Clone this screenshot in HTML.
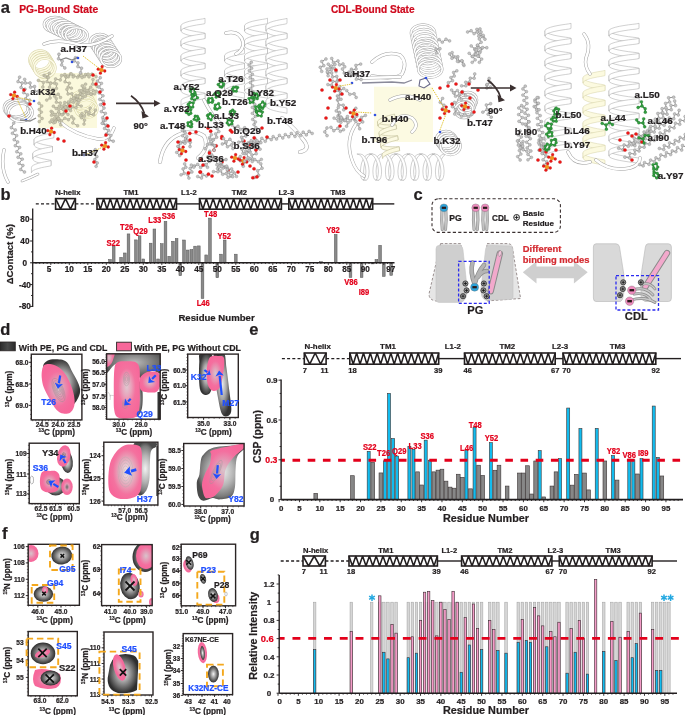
<!DOCTYPE html>
<html><head><meta charset="utf-8"><title>Figure</title>
<style>
html,body{margin:0;padding:0;background:#fff;width:685px;height:715px;overflow:hidden;}
svg{display:block;font-family:"Liberation Sans",sans-serif;will-change:transform;}

</style></head><body>
<svg width="685" height="715" viewBox="0 0 685 715">
<rect width="685" height="715" fill="#fff"/>
<defs>
<radialGradient id="gk" cx="50%" cy="50%" r="50%"><stop offset="0" stop-color="#f4f4f4"/><stop offset="0.3" stop-color="#b8b8b8"/><stop offset="0.7" stop-color="#6a6a6a"/><stop offset="1" stop-color="#2e2e2e"/></radialGradient>
<radialGradient id="gk2" cx="50%" cy="50%" r="60%"><stop offset="0" stop-color="#bcbcbc"/><stop offset="0.6" stop-color="#6a6a6a"/><stop offset="1" stop-color="#2a2a2a"/></radialGradient>
<radialGradient id="gp" cx="50%" cy="50%" r="50%"><stop offset="0" stop-color="#d9c3cb"/><stop offset="0.35" stop-color="#e49ab5"/><stop offset="0.7" stop-color="#f46f9f"/><stop offset="1" stop-color="#f7679a"/></radialGradient>
<radialGradient id="gp2" cx="50%" cy="45%" r="55%"><stop offset="0" stop-color="#e0c8d0"/><stop offset="0.3" stop-color="#e8a4bc"/><stop offset="0.6" stop-color="#f4729f"/><stop offset="1" stop-color="#f7679a"/></radialGradient>
<radialGradient id="gp3" cx="55%" cy="50%" r="55%"><stop offset="0" stop-color="#f0e8ea"/><stop offset="0.4" stop-color="#e4b0c0"/><stop offset="0.75" stop-color="#f4729f"/><stop offset="1" stop-color="#f7679a"/></radialGradient>
<radialGradient id="gk3" cx="50%" cy="50%" r="50%"><stop offset="0" stop-color="#e8e8e8"/><stop offset="0.45" stop-color="#a8a8a8"/><stop offset="0.8" stop-color="#5a5a5a"/><stop offset="1" stop-color="#333"/></radialGradient>
<radialGradient id="gk4" cx="50%" cy="50%" r="50%"><stop offset="0" stop-color="#f2f2f2"/><stop offset="0.5" stop-color="#b4b4b4"/><stop offset="0.85" stop-color="#7a7a7a"/><stop offset="1" stop-color="#4a4a4a"/></radialGradient>
<linearGradient id="gsw" x1="0" y1="0" x2="1" y2="0"><stop offset="0" stop-color="#2a2a2a"/><stop offset="0.5" stop-color="#4a4a4a"/><stop offset="1" stop-color="#2a2a2a"/></linearGradient>
</defs>
<text x="0.8" y="12.6" font-size="16.5" fill="#231f20" stroke="#231f20" stroke-width="0.22" text-anchor="start" font-weight="bold" >a</text>
<text x="19.2" y="13.2" font-size="10.6" fill="#cf0a1e" stroke="#cf0a1e" stroke-width="0.22" text-anchor="start" font-weight="bold" textLength="79" lengthAdjust="spacingAndGlyphs">PG-Bound State</text>
<text x="331" y="13.2" font-size="10.6" fill="#cf0a1e" stroke="#cf0a1e" stroke-width="0.22" text-anchor="start" font-weight="bold" textLength="83.6" lengthAdjust="spacingAndGlyphs">CDL-Bound State</text>
<ellipse cx="55.0" cy="24.5" rx="11" ry="7.5" fill="none" stroke="#a3a3a3" stroke-width="2.6"/>
<ellipse cx="55.0" cy="24.5" rx="11" ry="7.5" fill="none" stroke="#fff" stroke-width="1.6"/>
<ellipse cx="58.6" cy="26.3" rx="11" ry="7.5" fill="none" stroke="#a3a3a3" stroke-width="2.6"/>
<ellipse cx="58.6" cy="26.3" rx="11" ry="7.5" fill="none" stroke="#fff" stroke-width="1.6"/>
<ellipse cx="62.2" cy="28.1" rx="11" ry="7.5" fill="none" stroke="#a3a3a3" stroke-width="2.6"/>
<ellipse cx="62.2" cy="28.1" rx="11" ry="7.5" fill="none" stroke="#fff" stroke-width="1.6"/>
<ellipse cx="65.8" cy="29.9" rx="11" ry="7.5" fill="none" stroke="#a3a3a3" stroke-width="2.6"/>
<ellipse cx="65.8" cy="29.9" rx="11" ry="7.5" fill="none" stroke="#fff" stroke-width="1.6"/>
<ellipse cx="69.4" cy="31.7" rx="11" ry="7.5" fill="none" stroke="#a3a3a3" stroke-width="2.6"/>
<ellipse cx="69.4" cy="31.7" rx="11" ry="7.5" fill="none" stroke="#fff" stroke-width="1.6"/>
<ellipse cx="73.0" cy="33.5" rx="11" ry="7.5" fill="none" stroke="#a3a3a3" stroke-width="2.6"/>
<ellipse cx="73.0" cy="33.5" rx="11" ry="7.5" fill="none" stroke="#fff" stroke-width="1.6"/>
<ellipse cx="76.6" cy="35.3" rx="11" ry="7.5" fill="none" stroke="#a3a3a3" stroke-width="2.6"/>
<ellipse cx="76.6" cy="35.3" rx="11" ry="7.5" fill="none" stroke="#fff" stroke-width="1.6"/>
<ellipse cx="100.0" cy="42.0" rx="10" ry="8" fill="none" stroke="#a3a3a3" stroke-width="2.6"/>
<ellipse cx="100.0" cy="42.0" rx="10" ry="8" fill="none" stroke="#fff" stroke-width="1.6"/>
<ellipse cx="101.8" cy="44.8" rx="10" ry="8" fill="none" stroke="#a3a3a3" stroke-width="2.6"/>
<ellipse cx="101.8" cy="44.8" rx="10" ry="8" fill="none" stroke="#fff" stroke-width="1.6"/>
<ellipse cx="103.6" cy="47.6" rx="10" ry="8" fill="none" stroke="#a3a3a3" stroke-width="2.6"/>
<ellipse cx="103.6" cy="47.6" rx="10" ry="8" fill="none" stroke="#fff" stroke-width="1.6"/>
<ellipse cx="105.4" cy="50.4" rx="10" ry="8" fill="none" stroke="#a3a3a3" stroke-width="2.6"/>
<ellipse cx="105.4" cy="50.4" rx="10" ry="8" fill="none" stroke="#fff" stroke-width="1.6"/>
<ellipse cx="107.2" cy="53.2" rx="10" ry="8" fill="none" stroke="#a3a3a3" stroke-width="2.6"/>
<ellipse cx="107.2" cy="53.2" rx="10" ry="8" fill="none" stroke="#fff" stroke-width="1.6"/>
<ellipse cx="109.0" cy="56.0" rx="10" ry="8" fill="none" stroke="#a3a3a3" stroke-width="2.6"/>
<ellipse cx="109.0" cy="56.0" rx="10" ry="8" fill="none" stroke="#fff" stroke-width="1.6"/>
<ellipse cx="110.8" cy="58.8" rx="10" ry="8" fill="none" stroke="#a3a3a3" stroke-width="2.6"/>
<ellipse cx="110.8" cy="58.8" rx="10" ry="8" fill="none" stroke="#fff" stroke-width="1.6"/>
<path d="M44,44 Q58,38 80,45 Q95,47 112,36" fill="none" stroke="#a3a3a3" stroke-width="3.4" stroke-linecap="round" stroke-linejoin="round"/>
<path d="M44,44 Q58,38 80,45 Q95,47 112,36" fill="none" stroke="#fff" stroke-width="2.4" stroke-linecap="round" stroke-linejoin="round"/>
<rect x="38.5" y="73" width="58.5" height="55" fill="#fbf9dd" stroke="none" stroke-width="1" />
<ellipse cx="40.0" cy="60.0" rx="10.5" ry="9.5" fill="none" stroke="#d8d4a8" stroke-width="2.6"/>
<ellipse cx="40.0" cy="60.0" rx="10.5" ry="9.5" fill="none" stroke="#fdfbe6" stroke-width="1.6"/>
<ellipse cx="41.2" cy="62.0" rx="10.5" ry="9.5" fill="none" stroke="#d8d4a8" stroke-width="2.6"/>
<ellipse cx="41.2" cy="62.0" rx="10.5" ry="9.5" fill="none" stroke="#fdfbe6" stroke-width="1.6"/>
<ellipse cx="42.4" cy="64.0" rx="10.5" ry="9.5" fill="none" stroke="#d8d4a8" stroke-width="2.6"/>
<ellipse cx="42.4" cy="64.0" rx="10.5" ry="9.5" fill="none" stroke="#fdfbe6" stroke-width="1.6"/>
<ellipse cx="43.6" cy="66.0" rx="10.5" ry="9.5" fill="none" stroke="#d8d4a8" stroke-width="2.6"/>
<ellipse cx="43.6" cy="66.0" rx="10.5" ry="9.5" fill="none" stroke="#fdfbe6" stroke-width="1.6"/>
<ellipse cx="44.8" cy="68.0" rx="10.5" ry="9.5" fill="none" stroke="#d8d4a8" stroke-width="2.6"/>
<ellipse cx="44.8" cy="68.0" rx="10.5" ry="9.5" fill="none" stroke="#fdfbe6" stroke-width="1.6"/>
<ellipse cx="16.0" cy="108.0" rx="12" ry="9" fill="none" stroke="#a3a3a3" stroke-width="2.6"/>
<ellipse cx="16.0" cy="108.0" rx="12" ry="9" fill="none" stroke="#fff" stroke-width="1.6"/>
<ellipse cx="17.5" cy="109.5" rx="12" ry="9" fill="none" stroke="#a3a3a3" stroke-width="2.6"/>
<ellipse cx="17.5" cy="109.5" rx="12" ry="9" fill="none" stroke="#fff" stroke-width="1.6"/>
<ellipse cx="19.0" cy="111.0" rx="12" ry="9" fill="none" stroke="#a3a3a3" stroke-width="2.6"/>
<ellipse cx="19.0" cy="111.0" rx="12" ry="9" fill="none" stroke="#fff" stroke-width="1.6"/>
<ellipse cx="20.5" cy="112.5" rx="12" ry="9" fill="none" stroke="#a3a3a3" stroke-width="2.6"/>
<ellipse cx="20.5" cy="112.5" rx="12" ry="9" fill="none" stroke="#fff" stroke-width="1.6"/>
<ellipse cx="82.0" cy="100.0" rx="11" ry="9" fill="none" stroke="#dedaa8" stroke-width="2.2"/>
<ellipse cx="82.0" cy="100.0" rx="11" ry="9" fill="none" stroke="#fdfbe6" stroke-width="1.2"/>
<ellipse cx="83.5" cy="103.0" rx="11" ry="9" fill="none" stroke="#dedaa8" stroke-width="2.2"/>
<ellipse cx="83.5" cy="103.0" rx="11" ry="9" fill="none" stroke="#fdfbe6" stroke-width="1.2"/>
<ellipse cx="85.0" cy="106.0" rx="11" ry="9" fill="none" stroke="#dedaa8" stroke-width="2.2"/>
<ellipse cx="85.0" cy="106.0" rx="11" ry="9" fill="none" stroke="#fdfbe6" stroke-width="1.2"/>
<ellipse cx="86.5" cy="109.0" rx="11" ry="9" fill="none" stroke="#dedaa8" stroke-width="2.2"/>
<ellipse cx="86.5" cy="109.0" rx="11" ry="9" fill="none" stroke="#fdfbe6" stroke-width="1.2"/>
<path d="M60,122 Q75,135 98,139 Q110,140 114,128" fill="none" stroke="#a3a3a3" stroke-width="3.4" stroke-linecap="round" stroke-linejoin="round"/>
<path d="M60,122 Q75,135 98,139 Q110,140 114,128" fill="none" stroke="#fff" stroke-width="2.4" stroke-linecap="round" stroke-linejoin="round"/>
<path d="M34.1,139.5 L34.5,140.7 L35.7,141.8 L37.7,142.8 L40.3,143.7 L43.1,144.5 L46.0,145.1 L48.6,145.6 L50.7,146.0 L52.0,146.3 L52.5,146.5 L52.5,151.7 L52.0,151.5 L50.7,151.2 L48.6,150.8 L46.0,150.3 L43.1,149.7 L40.3,148.9 L37.7,148.0 L35.7,147.0 L34.5,145.9 L34.1,144.7Z" fill="#fff" stroke="#a3a3a3" stroke-width="0.5"/>
<path d="M32.8,153.5 L33.1,154.7 L34.3,155.8 L36.3,156.8 L38.9,157.7 L41.8,158.5 L44.6,159.1 L47.2,159.6 L49.3,160.0 L50.6,160.3 L51.0,160.5 L51.0,165.7 L50.6,165.5 L49.3,165.2 L47.2,164.8 L44.6,164.3 L41.8,163.7 L38.9,162.9 L36.3,162.0 L34.3,161.0 L33.1,159.9 L32.8,158.7Z" fill="#fff" stroke="#a3a3a3" stroke-width="0.5"/>
<path d="M53.9,132.5 L53.4,132.7 L52.0,133.0 L49.8,133.4 L47.1,133.9 L44.1,134.5 L41.1,135.3 L38.4,136.2 L36.2,137.2 L34.7,138.3 L34.1,139.5 L34.1,144.7 L34.7,143.5 L36.2,142.4 L38.4,141.4 L41.1,140.5 L44.1,139.7 L47.1,139.1 L49.8,138.6 L52.0,138.2 L53.4,137.9 L53.9,137.7Z" fill="#fff" stroke="#a3a3a3" stroke-width="0.5"/>
<path d="M52.5,146.5 L52.0,146.7 L50.6,147.0 L48.4,147.4 L45.7,147.9 L42.8,148.5 L39.7,149.3 L37.0,150.2 L34.8,151.2 L33.3,152.3 L32.8,153.5 L32.8,158.7 L33.3,157.5 L34.8,156.4 L37.0,155.4 L39.7,154.5 L42.8,153.7 L45.7,153.1 L48.4,152.6 L50.6,152.2 L52.0,151.9 L52.5,151.7Z" fill="#fff" stroke="#a3a3a3" stroke-width="0.5"/>
<path d="M51.0,160.5 L50.6,160.7 L49.2,161.0 L47.0,161.4 L44.3,161.9 L41.4,162.5 L38.3,163.3 L35.6,164.2 L33.4,165.2 L31.9,166.3 L31.4,167.5 L31.4,172.7 L31.9,171.5 L33.4,170.4 L35.6,169.4 L38.3,168.5 L41.4,167.7 L44.3,167.1 L47.0,166.6 L49.2,166.2 L50.6,165.9 L51.0,165.7Z" fill="#fff" stroke="#a3a3a3" stroke-width="0.5"/>
<path d="M22,181 Q30,178 38,174" fill="none" stroke="#a3a3a3" stroke-width="2.6" stroke-linecap="round" stroke-linejoin="round"/>
<path d="M22,181 Q30,178 38,174" fill="none" stroke="#fff" stroke-width="1.6" stroke-linecap="round" stroke-linejoin="round"/>
<path d="M4,150 Q0,168 8,182" fill="none" stroke="#a3a3a3" stroke-width="3.4" stroke-linecap="round" stroke-linejoin="round"/>
<path d="M4,150 Q0,168 8,182" fill="none" stroke="#fff" stroke-width="2.4" stroke-linecap="round" stroke-linejoin="round"/>
<path d="M64.7,102.5 L68.6,103.2 L70.9,99.6 L74.6,99.8 L76.4,96.5" fill="none" stroke="#a5a28c" stroke-width="0.9"/>
<circle cx="64.75" cy="102.48" r="1.45" fill="#c7c4ae" stroke="#a5a28c" stroke-width="0.4" />
<circle cx="68.63" cy="103.16" r="1.45" fill="#c7c4ae" stroke="#a5a28c" stroke-width="0.4" />
<circle cx="70.91" cy="99.57" r="1.45" fill="#c7c4ae" stroke="#a5a28c" stroke-width="0.4" />
<circle cx="74.58" cy="99.84" r="1.45" fill="#c7c4ae" stroke="#a5a28c" stroke-width="0.4" />
<circle cx="76.4" cy="96.47" r="1.45" fill="#c7c4ae" stroke="#a5a28c" stroke-width="0.4" />
<path d="M78.8,76.0 L82.1,77.5 L85.6,74.6 L89.0,76.9 L91.9,74.1 L96.1,76.6" fill="none" stroke="#a5a28c" stroke-width="0.9"/>
<circle cx="78.83" cy="75.96" r="1.45" fill="#c7c4ae" stroke="#a5a28c" stroke-width="0.4" />
<circle cx="82.08" cy="77.51" r="1.45" fill="#c7c4ae" stroke="#a5a28c" stroke-width="0.4" />
<circle cx="85.57" cy="74.55" r="1.45" fill="#c7c4ae" stroke="#a5a28c" stroke-width="0.4" />
<circle cx="88.98" cy="76.89" r="1.45" fill="#c7c4ae" stroke="#a5a28c" stroke-width="0.4" />
<circle cx="91.94" cy="74.1" r="1.45" fill="#c7c4ae" stroke="#a5a28c" stroke-width="0.4" />
<circle cx="96.1" cy="76.63" r="1.45" fill="#c7c4ae" stroke="#a5a28c" stroke-width="0.4" />
<path d="M69.0,108.7 L66.4,106.9 L63.0,109.2 L59.3,106.1 L56.1,108.5 L53.4,106.3" fill="none" stroke="#a5a28c" stroke-width="0.9"/>
<circle cx="69.03" cy="108.73" r="1.45" fill="#c7c4ae" stroke="#a5a28c" stroke-width="0.4" />
<circle cx="66.38" cy="106.86" r="1.45" fill="#c7c4ae" stroke="#a5a28c" stroke-width="0.4" />
<circle cx="63.03" cy="109.17" r="1.45" fill="#c7c4ae" stroke="#a5a28c" stroke-width="0.4" />
<circle cx="59.31" cy="106.1" r="1.45" fill="#c7c4ae" stroke="#a5a28c" stroke-width="0.4" />
<circle cx="56.1" cy="108.54" r="1.45" fill="#c7c4ae" stroke="#a5a28c" stroke-width="0.4" />
<circle cx="53.39" cy="106.28" r="1.45" fill="#c7c4ae" stroke="#a5a28c" stroke-width="0.4" />
<path d="M86.3,93.3 L91.3,94.2 L93.0,90.3 L96.2,91.2" fill="none" stroke="#a5a28c" stroke-width="0.9"/>
<circle cx="86.28" cy="93.28" r="1.45" fill="#c7c4ae" stroke="#a5a28c" stroke-width="0.4" />
<circle cx="91.31" cy="94.24" r="1.45" fill="#c7c4ae" stroke="#a5a28c" stroke-width="0.4" />
<circle cx="92.99" cy="90.31" r="1.45" fill="#c7c4ae" stroke="#a5a28c" stroke-width="0.4" />
<circle cx="96.2" cy="91.25" r="1.45" fill="#c7c4ae" stroke="#a5a28c" stroke-width="0.4" />
<path d="M84.7,87.9 L85.1,91.2 L89.0,90.3 L90.9,94.2 L94.6,93.8" fill="none" stroke="#a5a28c" stroke-width="0.9"/>
<circle cx="84.74" cy="87.91" r="1.45" fill="#c7c4ae" stroke="#a5a28c" stroke-width="0.4" />
<circle cx="85.1" cy="91.18" r="1.45" fill="#c7c4ae" stroke="#a5a28c" stroke-width="0.4" />
<circle cx="88.99" cy="90.33" r="1.45" fill="#c7c4ae" stroke="#a5a28c" stroke-width="0.4" />
<circle cx="90.9" cy="94.23" r="1.45" fill="#c7c4ae" stroke="#a5a28c" stroke-width="0.4" />
<circle cx="94.57" cy="93.84" r="1.45" fill="#c7c4ae" stroke="#a5a28c" stroke-width="0.4" />
<path d="M51.2,111.4 L51.6,115.3 L56.4,116.4 L55.9,120.5 L59.9,120.6 L60.8,124.9" fill="none" stroke="#a5a28c" stroke-width="0.9"/>
<circle cx="51.25" cy="111.36" r="1.45" fill="#c7c4ae" stroke="#a5a28c" stroke-width="0.4" />
<circle cx="51.58" cy="115.29" r="1.45" fill="#c7c4ae" stroke="#a5a28c" stroke-width="0.4" />
<circle cx="56.38" cy="116.36" r="1.45" fill="#c7c4ae" stroke="#a5a28c" stroke-width="0.4" />
<circle cx="55.95" cy="120.51" r="1.45" fill="#c7c4ae" stroke="#a5a28c" stroke-width="0.4" />
<circle cx="59.9" cy="120.56" r="1.45" fill="#c7c4ae" stroke="#a5a28c" stroke-width="0.4" />
<circle cx="60.77" cy="124.88" r="1.45" fill="#c7c4ae" stroke="#a5a28c" stroke-width="0.4" />
<path d="M84.1,92.2 L80.9,94.3 L82.7,97.8 L79.9,99.9" fill="none" stroke="#a5a28c" stroke-width="0.9"/>
<circle cx="84.11" cy="92.23" r="1.45" fill="#c7c4ae" stroke="#a5a28c" stroke-width="0.4" />
<circle cx="80.92" cy="94.34" r="1.45" fill="#c7c4ae" stroke="#a5a28c" stroke-width="0.4" />
<circle cx="82.69" cy="97.77" r="1.45" fill="#c7c4ae" stroke="#a5a28c" stroke-width="0.4" />
<circle cx="79.94" cy="99.89" r="1.45" fill="#c7c4ae" stroke="#a5a28c" stroke-width="0.4" />
<path d="M73.7,118.8 L72.8,122.9 L77.6,125.8" fill="none" stroke="#a5a28c" stroke-width="0.9"/>
<circle cx="73.7" cy="118.85" r="1.45" fill="#c7c4ae" stroke="#a5a28c" stroke-width="0.4" />
<circle cx="72.82" cy="122.95" r="1.45" fill="#c7c4ae" stroke="#a5a28c" stroke-width="0.4" />
<circle cx="77.57" cy="125.78" r="1.45" fill="#c7c4ae" stroke="#a5a28c" stroke-width="0.4" />
<path d="M50.1,122.1 L53.7,122.8 L54.4,118.6 L58.4,118.6 L59.2,114.1 L62.8,114.4" fill="none" stroke="#a5a28c" stroke-width="0.9"/>
<circle cx="50.05" cy="122.1" r="1.45" fill="#c7c4ae" stroke="#a5a28c" stroke-width="0.4" />
<circle cx="53.68" cy="122.82" r="1.45" fill="#c7c4ae" stroke="#a5a28c" stroke-width="0.4" />
<circle cx="54.37" cy="118.59" r="1.45" fill="#c7c4ae" stroke="#a5a28c" stroke-width="0.4" />
<circle cx="58.4" cy="118.57" r="1.45" fill="#c7c4ae" stroke="#a5a28c" stroke-width="0.4" />
<circle cx="59.23" cy="114.07" r="1.45" fill="#c7c4ae" stroke="#a5a28c" stroke-width="0.4" />
<circle cx="62.81" cy="114.36" r="1.45" fill="#c7c4ae" stroke="#a5a28c" stroke-width="0.4" />
<path d="M42.8,87.1 L43.5,82.4 L38.4,80.4" fill="none" stroke="#a5a28c" stroke-width="0.9"/>
<circle cx="42.84" cy="87.08" r="1.45" fill="#c7c4ae" stroke="#a5a28c" stroke-width="0.4" />
<circle cx="43.47" cy="82.38" r="1.45" fill="#c7c4ae" stroke="#a5a28c" stroke-width="0.4" />
<circle cx="38.39" cy="80.43" r="1.45" fill="#c7c4ae" stroke="#a5a28c" stroke-width="0.4" />
<path d="M66.2,77.1 L65.0,81.8 L69.4,83.2 L68.2,87.1 L71.3,88.2" fill="none" stroke="#a5a28c" stroke-width="0.9"/>
<circle cx="66.19" cy="77.13" r="1.45" fill="#c7c4ae" stroke="#a5a28c" stroke-width="0.4" />
<circle cx="65.05" cy="81.83" r="1.45" fill="#c7c4ae" stroke="#a5a28c" stroke-width="0.4" />
<circle cx="69.38" cy="83.22" r="1.45" fill="#c7c4ae" stroke="#a5a28c" stroke-width="0.4" />
<circle cx="68.15" cy="87.09" r="1.45" fill="#c7c4ae" stroke="#a5a28c" stroke-width="0.4" />
<circle cx="71.32" cy="88.15" r="1.45" fill="#c7c4ae" stroke="#a5a28c" stroke-width="0.4" />
<path d="M39.2,121.6 L42.1,118.5 L39.2,115.8 L41.4,112.1 L39.3,109.5 L41.7,106.0 L39.0,103.3" fill="none" stroke="#a5a28c" stroke-width="0.9"/>
<circle cx="39.23" cy="121.63" r="1.45" fill="#c7c4ae" stroke="#a5a28c" stroke-width="0.4" />
<circle cx="42.12" cy="118.48" r="1.45" fill="#c7c4ae" stroke="#a5a28c" stroke-width="0.4" />
<circle cx="39.19" cy="115.78" r="1.45" fill="#c7c4ae" stroke="#a5a28c" stroke-width="0.4" />
<circle cx="41.37" cy="112.08" r="1.45" fill="#c7c4ae" stroke="#a5a28c" stroke-width="0.4" />
<circle cx="39.27" cy="109.47" r="1.45" fill="#c7c4ae" stroke="#a5a28c" stroke-width="0.4" />
<circle cx="41.7" cy="106.03" r="1.45" fill="#c7c4ae" stroke="#a5a28c" stroke-width="0.4" />
<circle cx="39" cy="103.27" r="1.45" fill="#c7c4ae" stroke="#a5a28c" stroke-width="0.4" />
<path d="M58.9,109.2 L63.3,109.3 L64.1,105.2 L68.0,105.7 L68.5,101.8 L73.4,102.4 L74.2,98.0" fill="none" stroke="#a5a28c" stroke-width="0.9"/>
<circle cx="58.86" cy="109.18" r="1.45" fill="#c7c4ae" stroke="#a5a28c" stroke-width="0.4" />
<circle cx="63.32" cy="109.28" r="1.45" fill="#c7c4ae" stroke="#a5a28c" stroke-width="0.4" />
<circle cx="64.06" cy="105.18" r="1.45" fill="#c7c4ae" stroke="#a5a28c" stroke-width="0.4" />
<circle cx="68.04" cy="105.72" r="1.45" fill="#c7c4ae" stroke="#a5a28c" stroke-width="0.4" />
<circle cx="68.51" cy="101.85" r="1.45" fill="#c7c4ae" stroke="#a5a28c" stroke-width="0.4" />
<circle cx="73.44" cy="102.4" r="1.45" fill="#c7c4ae" stroke="#a5a28c" stroke-width="0.4" />
<circle cx="74.16" cy="98.01" r="1.45" fill="#c7c4ae" stroke="#a5a28c" stroke-width="0.4" />
<path d="M81.2,106.1 L77.4,104.6 L76.0,107.8 L72.5,106.7 L70.5,110.7 L66.4,108.4 L64.6,112.6" fill="none" stroke="#a5a28c" stroke-width="0.9"/>
<circle cx="81.22" cy="106.09" r="1.45" fill="#c7c4ae" stroke="#a5a28c" stroke-width="0.4" />
<circle cx="77.42" cy="104.62" r="1.45" fill="#c7c4ae" stroke="#a5a28c" stroke-width="0.4" />
<circle cx="76.01" cy="107.77" r="1.45" fill="#c7c4ae" stroke="#a5a28c" stroke-width="0.4" />
<circle cx="72.48" cy="106.71" r="1.45" fill="#c7c4ae" stroke="#a5a28c" stroke-width="0.4" />
<circle cx="70.54" cy="110.65" r="1.45" fill="#c7c4ae" stroke="#a5a28c" stroke-width="0.4" />
<circle cx="66.43" cy="108.42" r="1.45" fill="#c7c4ae" stroke="#a5a28c" stroke-width="0.4" />
<circle cx="64.62" cy="112.61" r="1.45" fill="#c7c4ae" stroke="#a5a28c" stroke-width="0.4" />
<path d="M50.6,83.0 L54.5,83.2 L55.6,79.0 L60.3,80.0 L61.6,75.5 L65.3,75.9" fill="none" stroke="#a5a28c" stroke-width="0.9"/>
<circle cx="50.57" cy="82.95" r="1.45" fill="#c7c4ae" stroke="#a5a28c" stroke-width="0.4" />
<circle cx="54.52" cy="83.17" r="1.45" fill="#c7c4ae" stroke="#a5a28c" stroke-width="0.4" />
<circle cx="55.61" cy="79.03" r="1.45" fill="#c7c4ae" stroke="#a5a28c" stroke-width="0.4" />
<circle cx="60.29" cy="79.96" r="1.45" fill="#c7c4ae" stroke="#a5a28c" stroke-width="0.4" />
<circle cx="61.58" cy="75.53" r="1.45" fill="#c7c4ae" stroke="#a5a28c" stroke-width="0.4" />
<circle cx="65.35" cy="75.9" r="1.45" fill="#c7c4ae" stroke="#a5a28c" stroke-width="0.4" />
<path d="M46.7,100.1 L50.1,98.1 L49.6,94.2 L53.2,93.1 L52.9,89.3 L56.4,88.4 L56.5,84.1" fill="none" stroke="#a5a28c" stroke-width="0.9"/>
<circle cx="46.73" cy="100.09" r="1.45" fill="#c7c4ae" stroke="#a5a28c" stroke-width="0.4" />
<circle cx="50.09" cy="98.08" r="1.45" fill="#c7c4ae" stroke="#a5a28c" stroke-width="0.4" />
<circle cx="49.62" cy="94.24" r="1.45" fill="#c7c4ae" stroke="#a5a28c" stroke-width="0.4" />
<circle cx="53.18" cy="93.15" r="1.45" fill="#c7c4ae" stroke="#a5a28c" stroke-width="0.4" />
<circle cx="52.95" cy="89.28" r="1.45" fill="#c7c4ae" stroke="#a5a28c" stroke-width="0.4" />
<circle cx="56.44" cy="88.39" r="1.45" fill="#c7c4ae" stroke="#a5a28c" stroke-width="0.4" />
<circle cx="56.46" cy="84.07" r="1.45" fill="#c7c4ae" stroke="#a5a28c" stroke-width="0.4" />
<path d="M44.1,75.4 L47.3,77.3 L49.3,73.4" fill="none" stroke="#a5a28c" stroke-width="0.9"/>
<circle cx="44.05" cy="75.42" r="1.45" fill="#c7c4ae" stroke="#a5a28c" stroke-width="0.4" />
<circle cx="47.29" cy="77.35" r="1.45" fill="#c7c4ae" stroke="#a5a28c" stroke-width="0.4" />
<circle cx="49.29" cy="73.38" r="1.45" fill="#c7c4ae" stroke="#a5a28c" stroke-width="0.4" />
<path d="M64.8,74.5 L68.5,76.8 L70.5,73.9" fill="none" stroke="#a5a28c" stroke-width="0.9"/>
<circle cx="64.81" cy="74.54" r="1.45" fill="#c7c4ae" stroke="#a5a28c" stroke-width="0.4" />
<circle cx="68.51" cy="76.84" r="1.45" fill="#c7c4ae" stroke="#a5a28c" stroke-width="0.4" />
<circle cx="70.5" cy="73.89" r="1.45" fill="#c7c4ae" stroke="#a5a28c" stroke-width="0.4" />
<path d="M84.0,124.1 L84.5,120.2 L81.5,117.7 L82.0,113.7" fill="none" stroke="#a5a28c" stroke-width="0.9"/>
<circle cx="84" cy="124.08" r="1.45" fill="#c7c4ae" stroke="#a5a28c" stroke-width="0.4" />
<circle cx="84.53" cy="120.16" r="1.45" fill="#c7c4ae" stroke="#a5a28c" stroke-width="0.4" />
<circle cx="81.46" cy="117.73" r="1.45" fill="#c7c4ae" stroke="#a5a28c" stroke-width="0.4" />
<circle cx="82.02" cy="113.68" r="1.45" fill="#c7c4ae" stroke="#a5a28c" stroke-width="0.4" />
<path d="M78.1,102.8 L77.7,97.9 L73.5,98.2 L71.8,93.8 L68.0,93.9 L66.9,89.4" fill="none" stroke="#a5a28c" stroke-width="0.9"/>
<circle cx="78.09" cy="102.81" r="1.45" fill="#c7c4ae" stroke="#a5a28c" stroke-width="0.4" />
<circle cx="77.74" cy="97.9" r="1.45" fill="#c7c4ae" stroke="#a5a28c" stroke-width="0.4" />
<circle cx="73.49" cy="98.24" r="1.45" fill="#c7c4ae" stroke="#a5a28c" stroke-width="0.4" />
<circle cx="71.83" cy="93.77" r="1.45" fill="#c7c4ae" stroke="#a5a28c" stroke-width="0.4" />
<circle cx="68.04" cy="93.93" r="1.45" fill="#c7c4ae" stroke="#a5a28c" stroke-width="0.4" />
<circle cx="66.94" cy="89.39" r="1.45" fill="#c7c4ae" stroke="#a5a28c" stroke-width="0.4" />
<path d="M88.7,114.3 L93.6,114.7 L95.4,110.1" fill="none" stroke="#a5a28c" stroke-width="0.9"/>
<circle cx="88.66" cy="114.27" r="1.45" fill="#c7c4ae" stroke="#a5a28c" stroke-width="0.4" />
<circle cx="93.58" cy="114.7" r="1.45" fill="#c7c4ae" stroke="#a5a28c" stroke-width="0.4" />
<circle cx="95.4" cy="110.13" r="1.45" fill="#c7c4ae" stroke="#a5a28c" stroke-width="0.4" />
<path d="M51.8,119.9 L55.2,122.2 L58.7,118.7 L61.5,120.9 L64.9,118.3 L68.4,119.7 L71.7,116.8" fill="none" stroke="#a5a28c" stroke-width="0.9"/>
<circle cx="51.82" cy="119.9" r="1.45" fill="#c7c4ae" stroke="#a5a28c" stroke-width="0.4" />
<circle cx="55.19" cy="122.2" r="1.45" fill="#c7c4ae" stroke="#a5a28c" stroke-width="0.4" />
<circle cx="58.67" cy="118.65" r="1.45" fill="#c7c4ae" stroke="#a5a28c" stroke-width="0.4" />
<circle cx="61.48" cy="120.92" r="1.45" fill="#c7c4ae" stroke="#a5a28c" stroke-width="0.4" />
<circle cx="64.89" cy="118.27" r="1.45" fill="#c7c4ae" stroke="#a5a28c" stroke-width="0.4" />
<circle cx="68.41" cy="119.71" r="1.45" fill="#c7c4ae" stroke="#a5a28c" stroke-width="0.4" />
<circle cx="71.68" cy="116.76" r="1.45" fill="#c7c4ae" stroke="#a5a28c" stroke-width="0.4" />
<path d="M85.6,84.1 L82.2,85.9 L83.3,89.7 L79.7,90.7 L80.4,94.1 L76.0,95.7 L76.8,99.7" fill="none" stroke="#a5a28c" stroke-width="0.9"/>
<circle cx="85.55" cy="84.13" r="1.45" fill="#c7c4ae" stroke="#a5a28c" stroke-width="0.4" />
<circle cx="82.21" cy="85.88" r="1.45" fill="#c7c4ae" stroke="#a5a28c" stroke-width="0.4" />
<circle cx="83.29" cy="89.68" r="1.45" fill="#c7c4ae" stroke="#a5a28c" stroke-width="0.4" />
<circle cx="79.68" cy="90.66" r="1.45" fill="#c7c4ae" stroke="#a5a28c" stroke-width="0.4" />
<circle cx="80.44" cy="94.08" r="1.45" fill="#c7c4ae" stroke="#a5a28c" stroke-width="0.4" />
<circle cx="75.99" cy="95.7" r="1.45" fill="#c7c4ae" stroke="#a5a28c" stroke-width="0.4" />
<circle cx="76.82" cy="99.73" r="1.45" fill="#c7c4ae" stroke="#a5a28c" stroke-width="0.4" />
<path d="M74.5,100.8 L78.8,100.3 L77.7,96.4 L82.2,95.1 L81.3,90.8 L85.1,90.1" fill="none" stroke="#a5a28c" stroke-width="0.9"/>
<circle cx="74.51" cy="100.82" r="1.45" fill="#c7c4ae" stroke="#a5a28c" stroke-width="0.4" />
<circle cx="78.84" cy="100.33" r="1.45" fill="#c7c4ae" stroke="#a5a28c" stroke-width="0.4" />
<circle cx="77.67" cy="96.39" r="1.45" fill="#c7c4ae" stroke="#a5a28c" stroke-width="0.4" />
<circle cx="82.23" cy="95.06" r="1.45" fill="#c7c4ae" stroke="#a5a28c" stroke-width="0.4" />
<circle cx="81.3" cy="90.85" r="1.45" fill="#c7c4ae" stroke="#a5a28c" stroke-width="0.4" />
<circle cx="85.06" cy="90.14" r="1.45" fill="#c7c4ae" stroke="#a5a28c" stroke-width="0.4" />
<path d="M73.7,75.4 L77.6,77.3 L80.9,74.0 L84.5,76.6 L88.1,74.1" fill="none" stroke="#a5a28c" stroke-width="0.9"/>
<circle cx="73.66" cy="75.42" r="1.45" fill="#c7c4ae" stroke="#a5a28c" stroke-width="0.4" />
<circle cx="77.57" cy="77.35" r="1.45" fill="#c7c4ae" stroke="#a5a28c" stroke-width="0.4" />
<circle cx="80.92" cy="73.98" r="1.45" fill="#c7c4ae" stroke="#a5a28c" stroke-width="0.4" />
<circle cx="84.51" cy="76.56" r="1.45" fill="#c7c4ae" stroke="#a5a28c" stroke-width="0.4" />
<circle cx="88.15" cy="74.13" r="1.45" fill="#c7c4ae" stroke="#a5a28c" stroke-width="0.4" />
<path d="M56.3,98.6 L56.4,102.2 L60.3,103.1 L61.5,106.8 L65.5,107.2" fill="none" stroke="#a5a28c" stroke-width="0.9"/>
<circle cx="56.32" cy="98.62" r="1.45" fill="#c7c4ae" stroke="#a5a28c" stroke-width="0.4" />
<circle cx="56.43" cy="102.22" r="1.45" fill="#c7c4ae" stroke="#a5a28c" stroke-width="0.4" />
<circle cx="60.31" cy="103.07" r="1.45" fill="#c7c4ae" stroke="#a5a28c" stroke-width="0.4" />
<circle cx="61.49" cy="106.76" r="1.45" fill="#c7c4ae" stroke="#a5a28c" stroke-width="0.4" />
<circle cx="65.51" cy="107.2" r="1.45" fill="#c7c4ae" stroke="#a5a28c" stroke-width="0.4" />
<path d="M49.5,87.2 L50.5,83.6 L47.0,81.6 L48.4,77.6 L45.1,76.1" fill="none" stroke="#a5a28c" stroke-width="0.9"/>
<circle cx="49.53" cy="87.21" r="1.45" fill="#c7c4ae" stroke="#a5a28c" stroke-width="0.4" />
<circle cx="50.53" cy="83.58" r="1.45" fill="#c7c4ae" stroke="#a5a28c" stroke-width="0.4" />
<circle cx="47.01" cy="81.63" r="1.45" fill="#c7c4ae" stroke="#a5a28c" stroke-width="0.4" />
<circle cx="48.39" cy="77.58" r="1.45" fill="#c7c4ae" stroke="#a5a28c" stroke-width="0.4" />
<circle cx="45.13" cy="76.08" r="1.45" fill="#c7c4ae" stroke="#a5a28c" stroke-width="0.4" />
<path d="M60.5,97.5 L58.2,94.2 L54.7,96.3 L51.9,92.7" fill="none" stroke="#a5a28c" stroke-width="0.9"/>
<circle cx="60.51" cy="97.49" r="1.45" fill="#c7c4ae" stroke="#a5a28c" stroke-width="0.4" />
<circle cx="58.17" cy="94.23" r="1.45" fill="#c7c4ae" stroke="#a5a28c" stroke-width="0.4" />
<circle cx="54.66" cy="96.26" r="1.45" fill="#c7c4ae" stroke="#a5a28c" stroke-width="0.4" />
<circle cx="51.89" cy="92.72" r="1.45" fill="#c7c4ae" stroke="#a5a28c" stroke-width="0.4" />
<path d="M80.6,115.7 L84.4,116.2 L86.0,111.5 L89.2,112.6 L90.2,108.1" fill="none" stroke="#a5a28c" stroke-width="0.9"/>
<circle cx="80.55" cy="115.69" r="1.45" fill="#c7c4ae" stroke="#a5a28c" stroke-width="0.4" />
<circle cx="84.36" cy="116.21" r="1.45" fill="#c7c4ae" stroke="#a5a28c" stroke-width="0.4" />
<circle cx="85.95" cy="111.52" r="1.45" fill="#c7c4ae" stroke="#a5a28c" stroke-width="0.4" />
<circle cx="89.21" cy="112.55" r="1.45" fill="#c7c4ae" stroke="#a5a28c" stroke-width="0.4" />
<circle cx="90.15" cy="108.1" r="1.45" fill="#c7c4ae" stroke="#a5a28c" stroke-width="0.4" />
<path d="M85.2,96.4 L88.2,93.5 L87.1,90.4 L90.7,87.2" fill="none" stroke="#a5a28c" stroke-width="0.9"/>
<circle cx="85.24" cy="96.37" r="1.45" fill="#c7c4ae" stroke="#a5a28c" stroke-width="0.4" />
<circle cx="88.17" cy="93.46" r="1.45" fill="#c7c4ae" stroke="#a5a28c" stroke-width="0.4" />
<circle cx="87.1" cy="90.45" r="1.45" fill="#c7c4ae" stroke="#a5a28c" stroke-width="0.4" />
<circle cx="90.69" cy="87.23" r="1.45" fill="#c7c4ae" stroke="#a5a28c" stroke-width="0.4" />
<path d="M68.0,114.5 L64.7,111.8 L61.9,114.9 L58.7,111.8 L55.0,114.4 L52.5,112.6" fill="none" stroke="#a5a28c" stroke-width="0.9"/>
<circle cx="67.98" cy="114.54" r="1.45" fill="#c7c4ae" stroke="#a5a28c" stroke-width="0.4" />
<circle cx="64.7" cy="111.85" r="1.45" fill="#c7c4ae" stroke="#a5a28c" stroke-width="0.4" />
<circle cx="61.86" cy="114.87" r="1.45" fill="#c7c4ae" stroke="#a5a28c" stroke-width="0.4" />
<circle cx="58.67" cy="111.84" r="1.45" fill="#c7c4ae" stroke="#a5a28c" stroke-width="0.4" />
<circle cx="55" cy="114.44" r="1.45" fill="#c7c4ae" stroke="#a5a28c" stroke-width="0.4" />
<circle cx="52.46" cy="112.57" r="1.45" fill="#c7c4ae" stroke="#a5a28c" stroke-width="0.4" />
<path d="M93.0,79.5 L92.6,84.1 L97.2,86.5" fill="none" stroke="#a5a28c" stroke-width="0.9"/>
<circle cx="93" cy="79.49" r="1.45" fill="#c7c4ae" stroke="#a5a28c" stroke-width="0.4" />
<circle cx="92.64" cy="84.14" r="1.45" fill="#c7c4ae" stroke="#a5a28c" stroke-width="0.4" />
<circle cx="97.15" cy="86.52" r="1.45" fill="#c7c4ae" stroke="#a5a28c" stroke-width="0.4" />
<path d="M73.2,76.9 L71.3,74.0 L67.7,76.0" fill="none" stroke="#a5a28c" stroke-width="0.9"/>
<circle cx="73.17" cy="76.92" r="1.45" fill="#c7c4ae" stroke="#a5a28c" stroke-width="0.4" />
<circle cx="71.3" cy="73.95" r="1.45" fill="#c7c4ae" stroke="#a5a28c" stroke-width="0.4" />
<circle cx="67.7" cy="75.96" r="1.45" fill="#c7c4ae" stroke="#a5a28c" stroke-width="0.4" />
<path d="M13.8,123.1 L11.3,127.7 L15.3,130.0 L12.4,133.3 L16.6,135.6 L14.2,139.7 L17.6,142.0 L15.3,145.7 L19.6,147.5 L16.8,151.8 L20.8,153.9 L18.1,157.3 L22.2,159.2 L19.0,163.4 L22.9,165.5 L20.7,169.5 L24.5,172.0" fill="none" stroke="#8a8a8a" stroke-width="0.9"/>
<circle cx="13.77" cy="123.11" r="1.45" fill="#c4c4c4" stroke="#8a8a8a" stroke-width="0.4" />
<circle cx="11.33" cy="127.7" r="1.45" fill="#c4c4c4" stroke="#8a8a8a" stroke-width="0.4" />
<circle cx="15.33" cy="129.96" r="1.45" fill="#c4c4c4" stroke="#8a8a8a" stroke-width="0.4" />
<circle cx="12.44" cy="133.31" r="1.45" fill="#c4c4c4" stroke="#8a8a8a" stroke-width="0.4" />
<circle cx="16.6" cy="135.6" r="1.45" fill="#c4c4c4" stroke="#8a8a8a" stroke-width="0.4" />
<circle cx="14.17" cy="139.71" r="1.45" fill="#c4c4c4" stroke="#8a8a8a" stroke-width="0.4" />
<circle cx="17.64" cy="142.01" r="1.45" fill="#c4c4c4" stroke="#8a8a8a" stroke-width="0.4" />
<circle cx="15.3" cy="145.68" r="1.45" fill="#c4c4c4" stroke="#8a8a8a" stroke-width="0.4" />
<circle cx="19.57" cy="147.5" r="1.45" fill="#c4c4c4" stroke="#8a8a8a" stroke-width="0.4" />
<circle cx="16.83" cy="151.78" r="1.45" fill="#c4c4c4" stroke="#8a8a8a" stroke-width="0.4" />
<circle cx="20.82" cy="153.87" r="1.45" fill="#c4c4c4" stroke="#8a8a8a" stroke-width="0.4" />
<circle cx="18.07" cy="157.31" r="1.45" fill="#c4c4c4" stroke="#8a8a8a" stroke-width="0.4" />
<circle cx="22.23" cy="159.17" r="1.45" fill="#c4c4c4" stroke="#8a8a8a" stroke-width="0.4" />
<circle cx="19.02" cy="163.37" r="1.45" fill="#c4c4c4" stroke="#8a8a8a" stroke-width="0.4" />
<circle cx="22.89" cy="165.45" r="1.45" fill="#c4c4c4" stroke="#8a8a8a" stroke-width="0.4" />
<circle cx="20.7" cy="169.53" r="1.45" fill="#c4c4c4" stroke="#8a8a8a" stroke-width="0.4" />
<circle cx="24.49" cy="172.04" r="1.45" fill="#c4c4c4" stroke="#8a8a8a" stroke-width="0.4" />
<path d="M19.6,77.2 L18.0,81.6 L22.2,83.0 L21.0,87.5 L25.0,89.1 L23.7,92.6 L27.6,94.9 L25.6,98.8 L29.7,100.1 L28.4,104.3" fill="none" stroke="#8a8a8a" stroke-width="0.9"/>
<circle cx="19.62" cy="77.17" r="1.45" fill="#c4c4c4" stroke="#8a8a8a" stroke-width="0.4" />
<circle cx="18.04" cy="81.63" r="1.45" fill="#c4c4c4" stroke="#8a8a8a" stroke-width="0.4" />
<circle cx="22.15" cy="83" r="1.45" fill="#c4c4c4" stroke="#8a8a8a" stroke-width="0.4" />
<circle cx="21.05" cy="87.48" r="1.45" fill="#c4c4c4" stroke="#8a8a8a" stroke-width="0.4" />
<circle cx="24.99" cy="89.15" r="1.45" fill="#c4c4c4" stroke="#8a8a8a" stroke-width="0.4" />
<circle cx="23.69" cy="92.64" r="1.45" fill="#c4c4c4" stroke="#8a8a8a" stroke-width="0.4" />
<circle cx="27.57" cy="94.9" r="1.45" fill="#c4c4c4" stroke="#8a8a8a" stroke-width="0.4" />
<circle cx="25.64" cy="98.79" r="1.45" fill="#c4c4c4" stroke="#8a8a8a" stroke-width="0.4" />
<circle cx="29.67" cy="100.14" r="1.45" fill="#c4c4c4" stroke="#8a8a8a" stroke-width="0.4" />
<circle cx="28.42" cy="104.27" r="1.45" fill="#c4c4c4" stroke="#8a8a8a" stroke-width="0.4" />
<path d="M24.7,79.3 L25.5,83.1 L30.0,83.0 L30.6,87.2 L34.6,86.5 L34.9,91.3 L38.5,91.4" fill="none" stroke="#8a8a8a" stroke-width="0.9"/>
<circle cx="24.66" cy="79.34" r="1.45" fill="#c4c4c4" stroke="#8a8a8a" stroke-width="0.4" />
<circle cx="25.47" cy="83.07" r="1.45" fill="#c4c4c4" stroke="#8a8a8a" stroke-width="0.4" />
<circle cx="30.04" cy="83.01" r="1.45" fill="#c4c4c4" stroke="#8a8a8a" stroke-width="0.4" />
<circle cx="30.58" cy="87.2" r="1.45" fill="#c4c4c4" stroke="#8a8a8a" stroke-width="0.4" />
<circle cx="34.55" cy="86.51" r="1.45" fill="#c4c4c4" stroke="#8a8a8a" stroke-width="0.4" />
<circle cx="34.85" cy="91.32" r="1.45" fill="#c4c4c4" stroke="#8a8a8a" stroke-width="0.4" />
<circle cx="38.46" cy="91.37" r="1.45" fill="#c4c4c4" stroke="#8a8a8a" stroke-width="0.4" />
<path d="M100.2,77.8 L97.5,81.2 L101.4,83.4 L99.0,87.1 L102.1,89.9 L99.2,93.0 L103.0,95.9 L99.8,99.4 L103.4,101.3 L100.5,104.7 L104.0,108.1 L101.4,111.6 L105.3,113.4 L102.8,117.6 L105.4,120.2 L103.0,123.2 L107.1,125.5" fill="none" stroke="#8a8a8a" stroke-width="0.9"/>
<circle cx="100.25" cy="77.77" r="1.45" fill="#c4c4c4" stroke="#8a8a8a" stroke-width="0.4" />
<circle cx="97.46" cy="81.19" r="1.45" fill="#c4c4c4" stroke="#8a8a8a" stroke-width="0.4" />
<circle cx="101.45" cy="83.36" r="1.45" fill="#c4c4c4" stroke="#8a8a8a" stroke-width="0.4" />
<circle cx="98.98" cy="87.12" r="1.45" fill="#c4c4c4" stroke="#8a8a8a" stroke-width="0.4" />
<circle cx="102.11" cy="89.9" r="1.45" fill="#c4c4c4" stroke="#8a8a8a" stroke-width="0.4" />
<circle cx="99.15" cy="92.98" r="1.45" fill="#c4c4c4" stroke="#8a8a8a" stroke-width="0.4" />
<circle cx="102.99" cy="95.86" r="1.45" fill="#c4c4c4" stroke="#8a8a8a" stroke-width="0.4" />
<circle cx="99.82" cy="99.42" r="1.45" fill="#c4c4c4" stroke="#8a8a8a" stroke-width="0.4" />
<circle cx="103.38" cy="101.32" r="1.45" fill="#c4c4c4" stroke="#8a8a8a" stroke-width="0.4" />
<circle cx="100.53" cy="104.74" r="1.45" fill="#c4c4c4" stroke="#8a8a8a" stroke-width="0.4" />
<circle cx="103.99" cy="108.06" r="1.45" fill="#c4c4c4" stroke="#8a8a8a" stroke-width="0.4" />
<circle cx="101.43" cy="111.6" r="1.45" fill="#c4c4c4" stroke="#8a8a8a" stroke-width="0.4" />
<circle cx="105.34" cy="113.35" r="1.45" fill="#c4c4c4" stroke="#8a8a8a" stroke-width="0.4" />
<circle cx="102.78" cy="117.64" r="1.45" fill="#c4c4c4" stroke="#8a8a8a" stroke-width="0.4" />
<circle cx="105.41" cy="120.21" r="1.45" fill="#c4c4c4" stroke="#8a8a8a" stroke-width="0.4" />
<circle cx="102.97" cy="123.18" r="1.45" fill="#c4c4c4" stroke="#8a8a8a" stroke-width="0.4" />
<circle cx="107.06" cy="125.55" r="1.45" fill="#c4c4c4" stroke="#8a8a8a" stroke-width="0.4" />
<path d="M103.3,119.9 L102.2,123.3 L106.3,125.2 L104.6,128.4 L108.4,130.4 L106.7,133.9 L110.8,135.5 L109.4,140.0 L113.2,141.2" fill="none" stroke="#8a8a8a" stroke-width="0.9"/>
<circle cx="103.3" cy="119.86" r="1.45" fill="#c4c4c4" stroke="#8a8a8a" stroke-width="0.4" />
<circle cx="102.2" cy="123.3" r="1.45" fill="#c4c4c4" stroke="#8a8a8a" stroke-width="0.4" />
<circle cx="106.25" cy="125.24" r="1.45" fill="#c4c4c4" stroke="#8a8a8a" stroke-width="0.4" />
<circle cx="104.58" cy="128.44" r="1.45" fill="#c4c4c4" stroke="#8a8a8a" stroke-width="0.4" />
<circle cx="108.4" cy="130.38" r="1.45" fill="#c4c4c4" stroke="#8a8a8a" stroke-width="0.4" />
<circle cx="106.68" cy="133.88" r="1.45" fill="#c4c4c4" stroke="#8a8a8a" stroke-width="0.4" />
<circle cx="110.8" cy="135.55" r="1.45" fill="#c4c4c4" stroke="#8a8a8a" stroke-width="0.4" />
<circle cx="109.42" cy="140" r="1.45" fill="#c4c4c4" stroke="#8a8a8a" stroke-width="0.4" />
<circle cx="113.23" cy="141.18" r="1.45" fill="#c4c4c4" stroke="#8a8a8a" stroke-width="0.4" />
<path d="M95.3,149.7 L93.7,153.5 L96.9,156.6 L94.9,159.6 L97.2,163.0 L96.1,166.3" fill="none" stroke="#8a8a8a" stroke-width="0.9"/>
<circle cx="95.26" cy="149.7" r="1.45" fill="#c4c4c4" stroke="#8a8a8a" stroke-width="0.4" />
<circle cx="93.7" cy="153.45" r="1.45" fill="#c4c4c4" stroke="#8a8a8a" stroke-width="0.4" />
<circle cx="96.88" cy="156.63" r="1.45" fill="#c4c4c4" stroke="#8a8a8a" stroke-width="0.4" />
<circle cx="94.85" cy="159.56" r="1.45" fill="#c4c4c4" stroke="#8a8a8a" stroke-width="0.4" />
<circle cx="97.19" cy="162.97" r="1.45" fill="#c4c4c4" stroke="#8a8a8a" stroke-width="0.4" />
<circle cx="96.1" cy="166.35" r="1.45" fill="#c4c4c4" stroke="#8a8a8a" stroke-width="0.4" />
<path d="M58.9,54.3 L58.6,58.8 L62.2,61.1 L61.7,64.9 L64.8,68.0" fill="none" stroke="#8a8a8a" stroke-width="0.9"/>
<circle cx="58.95" cy="54.27" r="1.45" fill="#c4c4c4" stroke="#8a8a8a" stroke-width="0.4" />
<circle cx="58.6" cy="58.82" r="1.45" fill="#c4c4c4" stroke="#8a8a8a" stroke-width="0.4" />
<circle cx="62.18" cy="61.13" r="1.45" fill="#c4c4c4" stroke="#8a8a8a" stroke-width="0.4" />
<circle cx="61.66" cy="64.94" r="1.45" fill="#c4c4c4" stroke="#8a8a8a" stroke-width="0.4" />
<circle cx="64.84" cy="67.98" r="1.45" fill="#c4c4c4" stroke="#8a8a8a" stroke-width="0.4" />
<path d="M75.5,57.8 L74.1,61.0 L78.0,62.9 L77.9,66.6 L81.5,68.2 L80.5,72.8" fill="none" stroke="#8a8a8a" stroke-width="0.9"/>
<circle cx="75.46" cy="57.78" r="1.45" fill="#c4c4c4" stroke="#8a8a8a" stroke-width="0.4" />
<circle cx="74.1" cy="60.96" r="1.45" fill="#c4c4c4" stroke="#8a8a8a" stroke-width="0.4" />
<circle cx="78.01" cy="62.93" r="1.45" fill="#c4c4c4" stroke="#8a8a8a" stroke-width="0.4" />
<circle cx="77.88" cy="66.6" r="1.45" fill="#c4c4c4" stroke="#8a8a8a" stroke-width="0.4" />
<circle cx="81.48" cy="68.18" r="1.45" fill="#c4c4c4" stroke="#8a8a8a" stroke-width="0.4" />
<circle cx="80.54" cy="72.77" r="1.45" fill="#c4c4c4" stroke="#8a8a8a" stroke-width="0.4" />
<line x1="101.5" y1="70" x2="104.75" y2="71" stroke="#999" stroke-width="0.8" />
<circle cx="104.75" cy="71" r="1.4" fill="#f01818" stroke="#b01010" stroke-width="0.3" />
<line x1="101.5" y1="70" x2="100.4" y2="73.22" stroke="#999" stroke-width="0.8" />
<circle cx="100.4" cy="73.22" r="1.4" fill="#f01818" stroke="#b01010" stroke-width="0.3" />
<line x1="101.5" y1="70" x2="98.21" y2="69.13" stroke="#999" stroke-width="0.8" />
<circle cx="98.21" cy="69.13" r="1.4" fill="#f01818" stroke="#b01010" stroke-width="0.3" />
<line x1="101.5" y1="70" x2="102.13" y2="66.66" stroke="#999" stroke-width="0.8" />
<circle cx="102.13" cy="66.66" r="1.4" fill="#f01818" stroke="#b01010" stroke-width="0.3" />
<circle cx="101.5" cy="70" r="2.1" fill="#f7941d" stroke="#c06a10" stroke-width="0.3" />
<line x1="14" y1="95.5" x2="17.25" y2="96.5" stroke="#999" stroke-width="0.8" />
<circle cx="17.25" cy="96.5" r="1.4" fill="#f01818" stroke="#b01010" stroke-width="0.3" />
<line x1="14" y1="95.5" x2="12.9" y2="98.72" stroke="#999" stroke-width="0.8" />
<circle cx="12.9" cy="98.72" r="1.4" fill="#f01818" stroke="#b01010" stroke-width="0.3" />
<line x1="14" y1="95.5" x2="10.71" y2="94.63" stroke="#999" stroke-width="0.8" />
<circle cx="10.71" cy="94.63" r="1.4" fill="#f01818" stroke="#b01010" stroke-width="0.3" />
<line x1="14" y1="95.5" x2="14.63" y2="92.16" stroke="#999" stroke-width="0.8" />
<circle cx="14.63" cy="92.16" r="1.4" fill="#f01818" stroke="#b01010" stroke-width="0.3" />
<circle cx="14" cy="95.5" r="2.1" fill="#f7941d" stroke="#c06a10" stroke-width="0.3" />
<line x1="51" y1="131.5" x2="54.25" y2="132.5" stroke="#999" stroke-width="0.8" />
<circle cx="54.25" cy="132.5" r="1.4" fill="#f01818" stroke="#b01010" stroke-width="0.3" />
<line x1="51" y1="131.5" x2="49.9" y2="134.72" stroke="#999" stroke-width="0.8" />
<circle cx="49.9" cy="134.72" r="1.4" fill="#f01818" stroke="#b01010" stroke-width="0.3" />
<line x1="51" y1="131.5" x2="47.71" y2="130.63" stroke="#999" stroke-width="0.8" />
<circle cx="47.71" cy="130.63" r="1.4" fill="#f01818" stroke="#b01010" stroke-width="0.3" />
<line x1="51" y1="131.5" x2="51.63" y2="128.16" stroke="#999" stroke-width="0.8" />
<circle cx="51.63" cy="128.16" r="1.4" fill="#f01818" stroke="#b01010" stroke-width="0.3" />
<circle cx="51" cy="131.5" r="2.1" fill="#f7941d" stroke="#c06a10" stroke-width="0.3" />
<line x1="105" y1="146" x2="108.25" y2="147" stroke="#999" stroke-width="0.8" />
<circle cx="108.25" cy="147" r="1.4" fill="#f01818" stroke="#b01010" stroke-width="0.3" />
<line x1="105" y1="146" x2="103.9" y2="149.22" stroke="#999" stroke-width="0.8" />
<circle cx="103.9" cy="149.22" r="1.4" fill="#f01818" stroke="#b01010" stroke-width="0.3" />
<line x1="105" y1="146" x2="101.71" y2="145.13" stroke="#999" stroke-width="0.8" />
<circle cx="101.71" cy="145.13" r="1.4" fill="#f01818" stroke="#b01010" stroke-width="0.3" />
<line x1="105" y1="146" x2="105.63" y2="142.66" stroke="#999" stroke-width="0.8" />
<circle cx="105.63" cy="142.66" r="1.4" fill="#f01818" stroke="#b01010" stroke-width="0.3" />
<circle cx="105" cy="146" r="2.1" fill="#f7941d" stroke="#c06a10" stroke-width="0.3" />
<circle cx="93" cy="75" r="1.6" fill="#f01818" stroke="#b01010" stroke-width="0.3" />
<circle cx="96" cy="84" r="1.6" fill="#f01818" stroke="#b01010" stroke-width="0.3" />
<circle cx="100" cy="92" r="1.6" fill="#f01818" stroke="#b01010" stroke-width="0.3" />
<circle cx="104" cy="104" r="1.6" fill="#f01818" stroke="#b01010" stroke-width="0.3" />
<circle cx="107" cy="118" r="1.6" fill="#f01818" stroke="#b01010" stroke-width="0.3" />
<circle cx="9" cy="116" r="1.6" fill="#f01818" stroke="#b01010" stroke-width="0.3" />
<circle cx="24" cy="90" r="1.6" fill="#f01818" stroke="#b01010" stroke-width="0.3" />
<circle cx="66" cy="111" r="1.6" fill="#f01818" stroke="#b01010" stroke-width="0.3" />
<circle cx="70" cy="106" r="1.6" fill="#f01818" stroke="#b01010" stroke-width="0.3" />
<circle cx="58" cy="139" r="1.6" fill="#f01818" stroke="#b01010" stroke-width="0.3" />
<circle cx="64" cy="141" r="1.6" fill="#f01818" stroke="#b01010" stroke-width="0.3" />
<circle cx="94" cy="162" r="1.6" fill="#f01818" stroke="#b01010" stroke-width="0.3" />
<circle cx="108" cy="126" r="1.6" fill="#f01818" stroke="#b01010" stroke-width="0.3" />
<circle cx="30" cy="104" r="1.6" fill="#f01818" stroke="#b01010" stroke-width="0.3" />
<circle cx="106" cy="135" r="1.6" fill="#f01818" stroke="#b01010" stroke-width="0.3" />
<line x1="83" y1="56" x2="100" y2="69" stroke="#e0c020" stroke-width="0.9" stroke-dasharray="1.4,0.9"/>
<line x1="17" y1="97" x2="33" y2="101" stroke="#e0c020" stroke-width="0.9" stroke-dasharray="1.4,0.9"/>
<line x1="17" y1="99" x2="26" y2="118" stroke="#e0c020" stroke-width="0.9" stroke-dasharray="1.4,0.9"/>
<line x1="85" y1="155" x2="103" y2="147" stroke="#e0c020" stroke-width="0.9" stroke-dasharray="1.4,0.9"/>
<path d="M60,60 L66,58 L72,60 L78,57" stroke="#8a8a8a" stroke-width="1.3" fill="none"/>
<circle cx="78" cy="58" r="1.3" fill="#3050e0" stroke="none" stroke-width="0.5" />
<circle cx="72" cy="62" r="1.3" fill="#3050e0" stroke="none" stroke-width="0.5" />
<circle cx="34" cy="101" r="1.3" fill="#3050e0" stroke="none" stroke-width="0.5" />
<circle cx="26" cy="120" r="1.3" fill="#3050e0" stroke="none" stroke-width="0.5" />
<circle cx="84" cy="155" r="1.3" fill="#3050e0" stroke="none" stroke-width="0.5" />
<path d="M20,120 L30,121 L36,118 M76,155 L90,155" stroke="#8a8a8a" stroke-width="1.3" fill="none"/>
<text x="60.6" y="51.9" font-size="9.9" fill="#231f20" stroke="#231f20" stroke-width="0.22" text-anchor="start" font-weight="bold" textLength="26.4" lengthAdjust="spacingAndGlyphs">a.H37</text>
<text x="30.3" y="94.8" font-size="9.9" fill="#231f20" stroke="#231f20" stroke-width="0.22" text-anchor="start" font-weight="bold" textLength="25.2" lengthAdjust="spacingAndGlyphs">a.K32</text>
<text x="20.2" y="133.9" font-size="9.9" fill="#231f20" stroke="#231f20" stroke-width="0.22" text-anchor="start" font-weight="bold" textLength="26.4" lengthAdjust="spacingAndGlyphs">b.H40</text>
<text x="72" y="155.5" font-size="9.9" fill="#231f20" stroke="#231f20" stroke-width="0.22" text-anchor="start" font-weight="bold" textLength="26.4" lengthAdjust="spacingAndGlyphs">b.H37</text>
<line x1="116" y1="103.3" x2="156.5" y2="103.3" stroke="#3b3030" stroke-width="1.7" />
<polygon points="160.5,103.3 154.0,99.89999999999999 154.0,106.7" fill="#3b3030"/>
<path d="M131,95.7 Q141,102.7 144.4,113.5" fill="none" stroke="#3b3030" stroke-width="1.7"/>
<polygon points="148.9,116.5 141.4,111 142.4,118.5" fill="#3b3030"/>
<text x="133.4" y="128.8" font-size="9.6" fill="#231f20" stroke="#231f20" stroke-width="0.22" text-anchor="start" font-weight="bold" >90°</text>
<path d="M181.0,25.8 L181.6,27.0 L183.3,28.1 L185.9,29.2 L189.3,30.2 L193.0,31.0 L196.7,31.7 L200.1,32.2 L202.7,32.6 L204.4,33.0 L205.0,33.2 L205.0,38.5 L204.4,38.2 L202.7,37.8 L200.1,37.4 L196.7,36.9 L193.0,36.2 L189.3,35.4 L185.9,34.4 L183.3,33.3 L181.6,32.2 L181.0,30.9Z" fill="#fff" stroke="#a3a3a3" stroke-width="0.5"/>
<path d="M181.0,40.8 L181.6,42.0 L183.3,43.1 L185.9,44.2 L189.3,45.2 L193.0,46.0 L196.7,46.7 L200.1,47.2 L202.7,47.6 L204.4,48.0 L205.0,48.2 L205.0,53.5 L204.4,53.2 L202.7,52.8 L200.1,52.4 L196.7,51.9 L193.0,51.2 L189.3,50.4 L185.9,49.4 L183.3,48.3 L181.6,47.2 L181.0,46.0Z" fill="#fff" stroke="#a3a3a3" stroke-width="0.5"/>
<path d="M181.0,55.8 L181.6,57.0 L183.3,58.1 L185.9,59.2 L189.3,60.2 L193.0,61.0 L196.7,61.7 L200.1,62.2 L202.7,62.6 L204.4,63.0 L205.0,63.2 L205.0,68.5 L204.4,68.2 L202.7,67.8 L200.1,67.4 L196.7,66.9 L193.0,66.2 L189.3,65.4 L185.9,64.4 L183.3,63.3 L181.6,62.2 L181.0,61.0Z" fill="#fff" stroke="#a3a3a3" stroke-width="0.5"/>
<path d="M181.0,70.8 L181.6,72.0 L183.3,73.1 L185.9,74.2 L189.3,75.2 L193.0,76.0 L196.7,76.7 L200.1,77.2 L202.7,77.6 L204.4,78.0 L205.0,78.2 L205.0,83.5 L204.4,83.2 L202.7,82.8 L200.1,82.4 L196.7,81.9 L193.0,81.2 L189.3,80.4 L185.9,79.4 L183.3,78.3 L181.6,77.2 L181.0,76.0Z" fill="#fff" stroke="#a3a3a3" stroke-width="0.5"/>
<path d="M181.0,85.8 L181.6,87.0 L183.3,88.1 L185.9,89.2 L189.3,90.2 L193.0,91.0 L196.7,91.7 L200.1,92.2 L202.7,92.6 L204.4,93.0 L205.0,93.2 L205.0,98.5 L204.4,98.2 L202.7,97.8 L200.1,97.4 L196.7,96.9 L193.0,96.2 L189.3,95.4 L185.9,94.4 L183.3,93.3 L181.6,92.2 L181.0,91.0Z" fill="#fff" stroke="#a3a3a3" stroke-width="0.5"/>
<path d="M205.0,18.2 L204.4,18.5 L202.7,18.9 L200.1,19.3 L196.7,19.8 L193.0,20.5 L189.3,21.3 L185.9,22.3 L183.3,23.4 L181.6,24.5 L181.0,25.8 L181.0,30.9 L181.6,29.7 L183.3,28.6 L185.9,27.5 L189.3,26.5 L193.0,25.7 L196.7,25.0 L200.1,24.5 L202.7,24.1 L204.4,23.7 L205.0,23.4Z" fill="#fff" stroke="#a3a3a3" stroke-width="0.5"/>
<path d="M205.0,33.2 L204.4,33.5 L202.7,33.9 L200.1,34.3 L196.7,34.8 L193.0,35.5 L189.3,36.3 L185.9,37.3 L183.3,38.4 L181.6,39.5 L181.0,40.8 L181.0,46.0 L181.6,44.7 L183.3,43.6 L185.9,42.5 L189.3,41.5 L193.0,40.7 L196.7,40.0 L200.1,39.5 L202.7,39.1 L204.4,38.7 L205.0,38.5Z" fill="#fff" stroke="#a3a3a3" stroke-width="0.5"/>
<path d="M205.0,48.2 L204.4,48.5 L202.7,48.9 L200.1,49.3 L196.7,49.8 L193.0,50.5 L189.3,51.3 L185.9,52.3 L183.3,53.4 L181.6,54.5 L181.0,55.8 L181.0,61.0 L181.6,59.7 L183.3,58.6 L185.9,57.5 L189.3,56.5 L193.0,55.7 L196.7,55.0 L200.1,54.5 L202.7,54.1 L204.4,53.7 L205.0,53.5Z" fill="#fff" stroke="#a3a3a3" stroke-width="0.5"/>
<path d="M205.0,63.2 L204.4,63.5 L202.7,63.9 L200.1,64.3 L196.7,64.8 L193.0,65.5 L189.3,66.3 L185.9,67.3 L183.3,68.4 L181.6,69.5 L181.0,70.8 L181.0,76.0 L181.6,74.7 L183.3,73.6 L185.9,72.5 L189.3,71.5 L193.0,70.7 L196.7,70.0 L200.1,69.5 L202.7,69.1 L204.4,68.7 L205.0,68.5Z" fill="#fff" stroke="#a3a3a3" stroke-width="0.5"/>
<path d="M205.0,78.2 L204.4,78.5 L202.7,78.9 L200.1,79.3 L196.7,79.8 L193.0,80.5 L189.3,81.3 L185.9,82.3 L183.3,83.4 L181.6,84.5 L181.0,85.8 L181.0,91.0 L181.6,89.7 L183.3,88.6 L185.9,87.5 L189.3,86.5 L193.0,85.7 L196.7,85.0 L200.1,84.5 L202.7,84.1 L204.4,83.7 L205.0,83.5Z" fill="#fff" stroke="#a3a3a3" stroke-width="0.5"/>
<path d="M205.0,93.2 L204.4,93.5 L202.7,93.9 L200.1,94.3 L196.7,94.8 L193.0,95.5 L189.3,96.3 L185.9,97.3 L183.3,98.4 L181.6,99.5 L181.0,100.8 L181.0,106.0 L181.6,104.7 L183.3,103.6 L185.9,102.5 L189.3,101.5 L193.0,100.7 L196.7,100.0 L200.1,99.5 L202.7,99.1 L204.4,98.7 L205.0,98.5Z" fill="#fff" stroke="#a3a3a3" stroke-width="0.5"/>
<path d="M224.5,55.8 L225.0,57.0 L226.4,58.1 L228.6,59.2 L231.4,60.2 L234.5,61.0 L237.6,61.7 L240.4,62.2 L242.6,62.6 L244.0,63.0 L244.5,63.2 L244.5,68.5 L244.0,68.2 L242.6,67.8 L240.4,67.4 L237.6,66.9 L234.5,66.2 L231.4,65.4 L228.6,64.4 L226.4,63.3 L225.0,62.2 L224.5,61.0Z" fill="#fff" stroke="#a3a3a3" stroke-width="0.5"/>
<path d="M224.5,70.8 L225.0,72.0 L226.4,73.1 L228.6,74.2 L231.4,75.2 L234.5,76.0 L237.6,76.7 L240.4,77.2 L242.6,77.6 L244.0,78.0 L244.5,78.2 L244.5,83.5 L244.0,83.2 L242.6,82.8 L240.4,82.4 L237.6,81.9 L234.5,81.2 L231.4,80.4 L228.6,79.4 L226.4,78.3 L225.0,77.2 L224.5,76.0Z" fill="#fff" stroke="#a3a3a3" stroke-width="0.5"/>
<path d="M224.5,85.8 L225.0,87.0 L226.4,88.1 L228.6,89.2 L231.4,90.2 L234.5,91.0 L237.6,91.7 L240.4,92.2 L242.6,92.6 L244.0,93.0 L244.5,93.2 L244.5,98.5 L244.0,98.2 L242.6,97.8 L240.4,97.4 L237.6,96.9 L234.5,96.2 L231.4,95.4 L228.6,94.4 L226.4,93.3 L225.0,92.2 L224.5,91.0Z" fill="#fff" stroke="#a3a3a3" stroke-width="0.5"/>
<path d="M244.5,48.2 L244.0,48.5 L242.6,48.9 L240.4,49.3 L237.6,49.8 L234.5,50.5 L231.4,51.3 L228.6,52.3 L226.4,53.4 L225.0,54.5 L224.5,55.8 L224.5,61.0 L225.0,59.7 L226.4,58.6 L228.6,57.5 L231.4,56.5 L234.5,55.7 L237.6,55.0 L240.4,54.5 L242.6,54.1 L244.0,53.7 L244.5,53.5Z" fill="#fff" stroke="#a3a3a3" stroke-width="0.5"/>
<path d="M244.5,63.2 L244.0,63.5 L242.6,63.9 L240.4,64.3 L237.6,64.8 L234.5,65.5 L231.4,66.3 L228.6,67.3 L226.4,68.4 L225.0,69.5 L224.5,70.8 L224.5,76.0 L225.0,74.7 L226.4,73.6 L228.6,72.5 L231.4,71.5 L234.5,70.7 L237.6,70.0 L240.4,69.5 L242.6,69.1 L244.0,68.7 L244.5,68.5Z" fill="#fff" stroke="#a3a3a3" stroke-width="0.5"/>
<path d="M244.5,78.2 L244.0,78.5 L242.6,78.9 L240.4,79.3 L237.6,79.8 L234.5,80.5 L231.4,81.3 L228.6,82.3 L226.4,83.4 L225.0,84.5 L224.5,85.8 L224.5,91.0 L225.0,89.7 L226.4,88.6 L228.6,87.5 L231.4,86.5 L234.5,85.7 L237.6,85.0 L240.4,84.5 L242.6,84.1 L244.0,83.7 L244.5,83.5Z" fill="#fff" stroke="#a3a3a3" stroke-width="0.5"/>
<path d="M226,33 Q240,30 243,42 Q244,50 236,54" fill="none" stroke="#a3a3a3" stroke-width="3.6" stroke-linecap="round" stroke-linejoin="round"/>
<path d="M226,33 Q240,30 243,42 Q244,50 236,54" fill="none" stroke="#fff" stroke-width="2.6" stroke-linecap="round" stroke-linejoin="round"/>
<path d="M244.5,25.8 L245.1,27.0 L246.7,28.1 L249.2,29.2 L252.4,30.2 L256.0,31.0 L259.6,31.7 L262.8,32.2 L265.3,32.6 L266.9,33.0 L267.5,33.2 L267.5,38.5 L266.9,38.2 L265.3,37.8 L262.8,37.4 L259.6,36.9 L256.0,36.2 L252.4,35.4 L249.2,34.4 L246.7,33.3 L245.1,32.2 L244.5,30.9Z" fill="#fff" stroke="#a3a3a3" stroke-width="0.5"/>
<path d="M244.5,40.8 L245.1,42.0 L246.7,43.1 L249.2,44.2 L252.4,45.2 L256.0,46.0 L259.6,46.7 L262.8,47.2 L265.3,47.6 L266.9,48.0 L267.5,48.2 L267.5,53.5 L266.9,53.2 L265.3,52.8 L262.8,52.4 L259.6,51.9 L256.0,51.2 L252.4,50.4 L249.2,49.4 L246.7,48.3 L245.1,47.2 L244.5,46.0Z" fill="#fff" stroke="#a3a3a3" stroke-width="0.5"/>
<path d="M244.5,55.8 L245.1,57.0 L246.7,58.1 L249.2,59.2 L252.4,60.2 L256.0,61.0 L259.6,61.7 L262.8,62.2 L265.3,62.6 L266.9,63.0 L267.5,63.2 L267.5,68.5 L266.9,68.2 L265.3,67.8 L262.8,67.4 L259.6,66.9 L256.0,66.2 L252.4,65.4 L249.2,64.4 L246.7,63.3 L245.1,62.2 L244.5,61.0Z" fill="#fff" stroke="#a3a3a3" stroke-width="0.5"/>
<path d="M244.5,70.8 L245.1,72.0 L246.7,73.1 L249.2,74.2 L252.4,75.2 L256.0,76.0 L259.6,76.7 L262.8,77.2 L265.3,77.6 L266.9,78.0 L267.5,78.2 L267.5,83.5 L266.9,83.2 L265.3,82.8 L262.8,82.4 L259.6,81.9 L256.0,81.2 L252.4,80.4 L249.2,79.4 L246.7,78.3 L245.1,77.2 L244.5,76.0Z" fill="#fff" stroke="#a3a3a3" stroke-width="0.5"/>
<path d="M244.5,85.8 L245.1,87.0 L246.7,88.1 L249.2,89.2 L252.4,90.2 L256.0,91.0 L259.6,91.7 L262.8,92.2 L265.3,92.6 L266.9,93.0 L267.5,93.2 L267.5,98.5 L266.9,98.2 L265.3,97.8 L262.8,97.4 L259.6,96.9 L256.0,96.2 L252.4,95.4 L249.2,94.4 L246.7,93.3 L245.1,92.2 L244.5,91.0Z" fill="#fff" stroke="#a3a3a3" stroke-width="0.5"/>
<path d="M267.5,18.2 L266.9,18.5 L265.3,18.9 L262.8,19.3 L259.6,19.8 L256.0,20.5 L252.4,21.3 L249.2,22.3 L246.7,23.4 L245.1,24.5 L244.5,25.8 L244.5,30.9 L245.1,29.7 L246.7,28.6 L249.2,27.5 L252.4,26.5 L256.0,25.7 L259.6,25.0 L262.8,24.5 L265.3,24.1 L266.9,23.7 L267.5,23.4Z" fill="#fff" stroke="#a3a3a3" stroke-width="0.5"/>
<path d="M267.5,33.2 L266.9,33.5 L265.3,33.9 L262.8,34.3 L259.6,34.8 L256.0,35.5 L252.4,36.3 L249.2,37.3 L246.7,38.4 L245.1,39.5 L244.5,40.8 L244.5,46.0 L245.1,44.7 L246.7,43.6 L249.2,42.5 L252.4,41.5 L256.0,40.7 L259.6,40.0 L262.8,39.5 L265.3,39.1 L266.9,38.7 L267.5,38.5Z" fill="#fff" stroke="#a3a3a3" stroke-width="0.5"/>
<path d="M267.5,48.2 L266.9,48.5 L265.3,48.9 L262.8,49.3 L259.6,49.8 L256.0,50.5 L252.4,51.3 L249.2,52.3 L246.7,53.4 L245.1,54.5 L244.5,55.8 L244.5,61.0 L245.1,59.7 L246.7,58.6 L249.2,57.5 L252.4,56.5 L256.0,55.7 L259.6,55.0 L262.8,54.5 L265.3,54.1 L266.9,53.7 L267.5,53.5Z" fill="#fff" stroke="#a3a3a3" stroke-width="0.5"/>
<path d="M267.5,63.2 L266.9,63.5 L265.3,63.9 L262.8,64.3 L259.6,64.8 L256.0,65.5 L252.4,66.3 L249.2,67.3 L246.7,68.4 L245.1,69.5 L244.5,70.8 L244.5,76.0 L245.1,74.7 L246.7,73.6 L249.2,72.5 L252.4,71.5 L256.0,70.7 L259.6,70.0 L262.8,69.5 L265.3,69.1 L266.9,68.7 L267.5,68.5Z" fill="#fff" stroke="#a3a3a3" stroke-width="0.5"/>
<path d="M267.5,78.2 L266.9,78.5 L265.3,78.9 L262.8,79.3 L259.6,79.8 L256.0,80.5 L252.4,81.3 L249.2,82.3 L246.7,83.4 L245.1,84.5 L244.5,85.8 L244.5,91.0 L245.1,89.7 L246.7,88.6 L249.2,87.5 L252.4,86.5 L256.0,85.7 L259.6,85.0 L262.8,84.5 L265.3,84.1 L266.9,83.7 L267.5,83.5Z" fill="#fff" stroke="#a3a3a3" stroke-width="0.5"/>
<path d="M266.0,25.8 L266.5,27.0 L268.0,28.1 L270.3,29.2 L273.3,30.2 L276.5,31.0 L279.7,31.7 L282.7,32.2 L285.0,32.6 L286.5,33.0 L287.0,33.2 L287.0,38.5 L286.5,38.2 L285.0,37.8 L282.7,37.4 L279.7,36.9 L276.5,36.2 L273.3,35.4 L270.3,34.4 L268.0,33.3 L266.5,32.2 L266.0,30.9Z" fill="#fff" stroke="#a3a3a3" stroke-width="0.5"/>
<path d="M266.0,40.8 L266.5,42.0 L268.0,43.1 L270.3,44.2 L273.3,45.2 L276.5,46.0 L279.7,46.7 L282.7,47.2 L285.0,47.6 L286.5,48.0 L287.0,48.2 L287.0,53.5 L286.5,53.2 L285.0,52.8 L282.7,52.4 L279.7,51.9 L276.5,51.2 L273.3,50.4 L270.3,49.4 L268.0,48.3 L266.5,47.2 L266.0,46.0Z" fill="#fff" stroke="#a3a3a3" stroke-width="0.5"/>
<path d="M266.0,55.8 L266.5,57.0 L268.0,58.1 L270.3,59.2 L273.3,60.2 L276.5,61.0 L279.7,61.7 L282.7,62.2 L285.0,62.6 L286.5,63.0 L287.0,63.2 L287.0,68.5 L286.5,68.2 L285.0,67.8 L282.7,67.4 L279.7,66.9 L276.5,66.2 L273.3,65.4 L270.3,64.4 L268.0,63.3 L266.5,62.2 L266.0,61.0Z" fill="#fff" stroke="#a3a3a3" stroke-width="0.5"/>
<path d="M266.0,70.8 L266.5,72.0 L268.0,73.1 L270.3,74.2 L273.3,75.2 L276.5,76.0 L279.7,76.7 L282.7,77.2 L285.0,77.6 L286.5,78.0 L287.0,78.2 L287.0,83.5 L286.5,83.2 L285.0,82.8 L282.7,82.4 L279.7,81.9 L276.5,81.2 L273.3,80.4 L270.3,79.4 L268.0,78.3 L266.5,77.2 L266.0,76.0Z" fill="#fff" stroke="#a3a3a3" stroke-width="0.5"/>
<path d="M266.0,85.8 L266.5,87.0 L268.0,88.1 L270.3,89.2 L273.3,90.2 L276.5,91.0 L279.7,91.7 L282.7,92.2 L285.0,92.6 L286.5,93.0 L287.0,93.2 L287.0,98.5 L286.5,98.2 L285.0,97.8 L282.7,97.4 L279.7,96.9 L276.5,96.2 L273.3,95.4 L270.3,94.4 L268.0,93.3 L266.5,92.2 L266.0,91.0Z" fill="#fff" stroke="#a3a3a3" stroke-width="0.5"/>
<path d="M266.0,100.7 L266.5,102.0 L268.0,103.1 L270.3,104.2 L273.3,105.2 L276.5,106.0 L279.7,106.7 L282.7,107.2 L285.0,107.6 L286.5,108.0 L287.0,108.2 L287.0,113.5 L286.5,113.2 L285.0,112.8 L282.7,112.4 L279.7,111.9 L276.5,111.2 L273.3,110.4 L270.3,109.4 L268.0,108.3 L266.5,107.2 L266.0,105.9Z" fill="#fff" stroke="#a3a3a3" stroke-width="0.5"/>
<path d="M287.0,18.2 L286.5,18.5 L285.0,18.9 L282.7,19.3 L279.7,19.8 L276.5,20.5 L273.3,21.3 L270.3,22.3 L268.0,23.4 L266.5,24.5 L266.0,25.8 L266.0,30.9 L266.5,29.7 L268.0,28.6 L270.3,27.5 L273.3,26.5 L276.5,25.7 L279.7,25.0 L282.7,24.5 L285.0,24.1 L286.5,23.7 L287.0,23.4Z" fill="#fff" stroke="#a3a3a3" stroke-width="0.5"/>
<path d="M287.0,33.2 L286.5,33.5 L285.0,33.9 L282.7,34.3 L279.7,34.8 L276.5,35.5 L273.3,36.3 L270.3,37.3 L268.0,38.4 L266.5,39.5 L266.0,40.8 L266.0,46.0 L266.5,44.7 L268.0,43.6 L270.3,42.5 L273.3,41.5 L276.5,40.7 L279.7,40.0 L282.7,39.5 L285.0,39.1 L286.5,38.7 L287.0,38.5Z" fill="#fff" stroke="#a3a3a3" stroke-width="0.5"/>
<path d="M287.0,48.2 L286.5,48.5 L285.0,48.9 L282.7,49.3 L279.7,49.8 L276.5,50.5 L273.3,51.3 L270.3,52.3 L268.0,53.4 L266.5,54.5 L266.0,55.8 L266.0,61.0 L266.5,59.7 L268.0,58.6 L270.3,57.5 L273.3,56.5 L276.5,55.7 L279.7,55.0 L282.7,54.5 L285.0,54.1 L286.5,53.7 L287.0,53.5Z" fill="#fff" stroke="#a3a3a3" stroke-width="0.5"/>
<path d="M287.0,63.2 L286.5,63.5 L285.0,63.9 L282.7,64.3 L279.7,64.8 L276.5,65.5 L273.3,66.3 L270.3,67.3 L268.0,68.4 L266.5,69.5 L266.0,70.8 L266.0,76.0 L266.5,74.7 L268.0,73.6 L270.3,72.5 L273.3,71.5 L276.5,70.7 L279.7,70.0 L282.7,69.5 L285.0,69.1 L286.5,68.7 L287.0,68.5Z" fill="#fff" stroke="#a3a3a3" stroke-width="0.5"/>
<path d="M287.0,78.2 L286.5,78.5 L285.0,78.9 L282.7,79.3 L279.7,79.8 L276.5,80.5 L273.3,81.3 L270.3,82.3 L268.0,83.4 L266.5,84.5 L266.0,85.8 L266.0,91.0 L266.5,89.7 L268.0,88.6 L270.3,87.5 L273.3,86.5 L276.5,85.7 L279.7,85.0 L282.7,84.5 L285.0,84.1 L286.5,83.7 L287.0,83.5Z" fill="#fff" stroke="#a3a3a3" stroke-width="0.5"/>
<path d="M287.0,93.2 L286.5,93.5 L285.0,93.9 L282.7,94.3 L279.7,94.8 L276.5,95.5 L273.3,96.3 L270.3,97.3 L268.0,98.4 L266.5,99.5 L266.0,100.8 L266.0,106.0 L266.5,104.7 L268.0,103.6 L270.3,102.5 L273.3,101.5 L276.5,100.7 L279.7,100.0 L282.7,99.5 L285.0,99.1 L286.5,98.7 L287.0,98.5Z" fill="#fff" stroke="#a3a3a3" stroke-width="0.5"/>
<path d="M160,162 Q163,142 178,135 Q192,128 204,136 Q210,148 198,158" fill="none" stroke="#a3a3a3" stroke-width="4.0" stroke-linecap="round" stroke-linejoin="round"/>
<path d="M160,162 Q163,142 178,135 Q192,128 204,136 Q210,148 198,158" fill="none" stroke="#fff" stroke-width="3" stroke-linecap="round" stroke-linejoin="round"/>
<path d="M282,118 Q295,128 305,142 Q310,150 300,152" fill="none" stroke="#a3a3a3" stroke-width="4.0" stroke-linecap="round" stroke-linejoin="round"/>
<path d="M282,118 Q295,128 305,142 Q310,150 300,152" fill="none" stroke="#fff" stroke-width="3" stroke-linecap="round" stroke-linejoin="round"/>
<path d="M204,100 Q214,120 222,124" fill="none" stroke="#a3a3a3" stroke-width="3.6" stroke-linecap="round" stroke-linejoin="round"/>
<path d="M204,100 Q214,120 222,124" fill="none" stroke="#fff" stroke-width="2.6" stroke-linecap="round" stroke-linejoin="round"/>
<path d="M226.0,159.6 L222.4,160.5 L221.4,163.9 L218.0,164.9 L217.6,168.6" fill="none" stroke="#8a8a8a" stroke-width="0.9"/>
<circle cx="225.99" cy="159.57" r="1.45" fill="#c4c4c4" stroke="#8a8a8a" stroke-width="0.4" />
<circle cx="222.43" cy="160.53" r="1.45" fill="#c4c4c4" stroke="#8a8a8a" stroke-width="0.4" />
<circle cx="221.39" cy="163.92" r="1.45" fill="#c4c4c4" stroke="#8a8a8a" stroke-width="0.4" />
<circle cx="218.03" cy="164.89" r="1.45" fill="#c4c4c4" stroke="#8a8a8a" stroke-width="0.4" />
<circle cx="217.62" cy="168.58" r="1.45" fill="#c4c4c4" stroke="#8a8a8a" stroke-width="0.4" />
<path d="M213.4,139.4 L216.6,137.2 L215.7,133.9 L218.9,131.6 L217.2,128.4" fill="none" stroke="#8a8a8a" stroke-width="0.9"/>
<circle cx="213.44" cy="139.43" r="1.45" fill="#c4c4c4" stroke="#8a8a8a" stroke-width="0.4" />
<circle cx="216.6" cy="137.23" r="1.45" fill="#c4c4c4" stroke="#8a8a8a" stroke-width="0.4" />
<circle cx="215.68" cy="133.93" r="1.45" fill="#c4c4c4" stroke="#8a8a8a" stroke-width="0.4" />
<circle cx="218.85" cy="131.61" r="1.45" fill="#c4c4c4" stroke="#8a8a8a" stroke-width="0.4" />
<circle cx="217.18" cy="128.45" r="1.45" fill="#c4c4c4" stroke="#8a8a8a" stroke-width="0.4" />
<path d="M184.2,131.2 L182.4,126.6 L177.0,127.3" fill="none" stroke="#8a8a8a" stroke-width="0.9"/>
<circle cx="184.24" cy="131.21" r="1.45" fill="#c4c4c4" stroke="#8a8a8a" stroke-width="0.4" />
<circle cx="182.35" cy="126.64" r="1.45" fill="#c4c4c4" stroke="#8a8a8a" stroke-width="0.4" />
<circle cx="177.01" cy="127.26" r="1.45" fill="#c4c4c4" stroke="#8a8a8a" stroke-width="0.4" />
<path d="M183.5,141.6 L185.7,138.9 L182.7,135.7 L185.1,132.8 L182.3,130.6 L184.4,126.8" fill="none" stroke="#8a8a8a" stroke-width="0.9"/>
<circle cx="183.53" cy="141.64" r="1.45" fill="#c4c4c4" stroke="#8a8a8a" stroke-width="0.4" />
<circle cx="185.7" cy="138.87" r="1.45" fill="#c4c4c4" stroke="#8a8a8a" stroke-width="0.4" />
<circle cx="182.67" cy="135.72" r="1.45" fill="#c4c4c4" stroke="#8a8a8a" stroke-width="0.4" />
<circle cx="185.12" cy="132.81" r="1.45" fill="#c4c4c4" stroke="#8a8a8a" stroke-width="0.4" />
<circle cx="182.29" cy="130.64" r="1.45" fill="#c4c4c4" stroke="#8a8a8a" stroke-width="0.4" />
<circle cx="184.39" cy="126.78" r="1.45" fill="#c4c4c4" stroke="#8a8a8a" stroke-width="0.4" />
<path d="M248.7,142.8 L244.4,143.9 L245.6,147.7 L242.1,149.4 L243.0,153.4" fill="none" stroke="#8a8a8a" stroke-width="0.9"/>
<circle cx="248.68" cy="142.78" r="1.45" fill="#c4c4c4" stroke="#8a8a8a" stroke-width="0.4" />
<circle cx="244.39" cy="143.91" r="1.45" fill="#c4c4c4" stroke="#8a8a8a" stroke-width="0.4" />
<circle cx="245.64" cy="147.71" r="1.45" fill="#c4c4c4" stroke="#8a8a8a" stroke-width="0.4" />
<circle cx="242.06" cy="149.4" r="1.45" fill="#c4c4c4" stroke="#8a8a8a" stroke-width="0.4" />
<circle cx="243" cy="153.38" r="1.45" fill="#c4c4c4" stroke="#8a8a8a" stroke-width="0.4" />
<path d="M245.1,153.7 L249.8,151.6 L248.5,147.6 L253.0,146.1 L252.9,141.9" fill="none" stroke="#8a8a8a" stroke-width="0.9"/>
<circle cx="245.11" cy="153.7" r="1.45" fill="#c4c4c4" stroke="#8a8a8a" stroke-width="0.4" />
<circle cx="249.8" cy="151.64" r="1.45" fill="#c4c4c4" stroke="#8a8a8a" stroke-width="0.4" />
<circle cx="248.48" cy="147.62" r="1.45" fill="#c4c4c4" stroke="#8a8a8a" stroke-width="0.4" />
<circle cx="252.99" cy="146.1" r="1.45" fill="#c4c4c4" stroke="#8a8a8a" stroke-width="0.4" />
<circle cx="252.94" cy="141.92" r="1.45" fill="#c4c4c4" stroke="#8a8a8a" stroke-width="0.4" />
<path d="M246.5,130.2 L244.6,127.8 L240.4,129.4 L238.0,126.3 L234.9,127.7 L232.0,125.0" fill="none" stroke="#8a8a8a" stroke-width="0.9"/>
<circle cx="246.48" cy="130.18" r="1.45" fill="#c4c4c4" stroke="#8a8a8a" stroke-width="0.4" />
<circle cx="244.65" cy="127.79" r="1.45" fill="#c4c4c4" stroke="#8a8a8a" stroke-width="0.4" />
<circle cx="240.4" cy="129.4" r="1.45" fill="#c4c4c4" stroke="#8a8a8a" stroke-width="0.4" />
<circle cx="237.97" cy="126.31" r="1.45" fill="#c4c4c4" stroke="#8a8a8a" stroke-width="0.4" />
<circle cx="234.88" cy="127.68" r="1.45" fill="#c4c4c4" stroke="#8a8a8a" stroke-width="0.4" />
<circle cx="231.97" cy="125" r="1.45" fill="#c4c4c4" stroke="#8a8a8a" stroke-width="0.4" />
<path d="M224.1,167.0 L219.1,167.1 L217.9,171.7 L213.5,171.7" fill="none" stroke="#8a8a8a" stroke-width="0.9"/>
<circle cx="224.12" cy="166.96" r="1.45" fill="#c4c4c4" stroke="#8a8a8a" stroke-width="0.4" />
<circle cx="219.06" cy="167.11" r="1.45" fill="#c4c4c4" stroke="#8a8a8a" stroke-width="0.4" />
<circle cx="217.9" cy="171.67" r="1.45" fill="#c4c4c4" stroke="#8a8a8a" stroke-width="0.4" />
<circle cx="213.5" cy="171.66" r="1.45" fill="#c4c4c4" stroke="#8a8a8a" stroke-width="0.4" />
<path d="M248.4,160.3 L252.5,159.0 L251.9,155.0 L256.2,153.7 L255.7,149.3 L260.1,149.2" fill="none" stroke="#8a8a8a" stroke-width="0.9"/>
<circle cx="248.36" cy="160.27" r="1.45" fill="#c4c4c4" stroke="#8a8a8a" stroke-width="0.4" />
<circle cx="252.49" cy="159.04" r="1.45" fill="#c4c4c4" stroke="#8a8a8a" stroke-width="0.4" />
<circle cx="251.93" cy="154.98" r="1.45" fill="#c4c4c4" stroke="#8a8a8a" stroke-width="0.4" />
<circle cx="256.23" cy="153.71" r="1.45" fill="#c4c4c4" stroke="#8a8a8a" stroke-width="0.4" />
<circle cx="255.72" cy="149.3" r="1.45" fill="#c4c4c4" stroke="#8a8a8a" stroke-width="0.4" />
<circle cx="260.05" cy="149.17" r="1.45" fill="#c4c4c4" stroke="#8a8a8a" stroke-width="0.4" />
<path d="M211.3,134.8 L209.5,137.8 L212.9,140.4 L211.9,143.6 L214.6,146.1" fill="none" stroke="#8a8a8a" stroke-width="0.9"/>
<circle cx="211.33" cy="134.82" r="1.45" fill="#c4c4c4" stroke="#8a8a8a" stroke-width="0.4" />
<circle cx="209.47" cy="137.83" r="1.45" fill="#c4c4c4" stroke="#8a8a8a" stroke-width="0.4" />
<circle cx="212.89" cy="140.37" r="1.45" fill="#c4c4c4" stroke="#8a8a8a" stroke-width="0.4" />
<circle cx="211.92" cy="143.58" r="1.45" fill="#c4c4c4" stroke="#8a8a8a" stroke-width="0.4" />
<circle cx="214.57" cy="146.06" r="1.45" fill="#c4c4c4" stroke="#8a8a8a" stroke-width="0.4" />
<path d="M228.2,171.7 L230.6,175.5 L234.5,173.1 L236.5,176.4" fill="none" stroke="#8a8a8a" stroke-width="0.9"/>
<circle cx="228.21" cy="171.73" r="1.45" fill="#c4c4c4" stroke="#8a8a8a" stroke-width="0.4" />
<circle cx="230.62" cy="175.45" r="1.45" fill="#c4c4c4" stroke="#8a8a8a" stroke-width="0.4" />
<circle cx="234.52" cy="173.11" r="1.45" fill="#c4c4c4" stroke="#8a8a8a" stroke-width="0.4" />
<circle cx="236.47" cy="176.39" r="1.45" fill="#c4c4c4" stroke="#8a8a8a" stroke-width="0.4" />
<path d="M194.4,165.9 L190.1,168.4 L191.9,172.0 L187.9,174.7 L188.9,178.1" fill="none" stroke="#8a8a8a" stroke-width="0.9"/>
<circle cx="194.36" cy="165.86" r="1.45" fill="#c4c4c4" stroke="#8a8a8a" stroke-width="0.4" />
<circle cx="190.12" cy="168.41" r="1.45" fill="#c4c4c4" stroke="#8a8a8a" stroke-width="0.4" />
<circle cx="191.9" cy="171.96" r="1.45" fill="#c4c4c4" stroke="#8a8a8a" stroke-width="0.4" />
<circle cx="187.86" cy="174.72" r="1.45" fill="#c4c4c4" stroke="#8a8a8a" stroke-width="0.4" />
<circle cx="188.92" cy="178.08" r="1.45" fill="#c4c4c4" stroke="#8a8a8a" stroke-width="0.4" />
<path d="M181.1,174.9 L184.2,173.4 L183.1,169.0 L185.8,167.2 L184.7,163.9" fill="none" stroke="#8a8a8a" stroke-width="0.9"/>
<circle cx="181.07" cy="174.87" r="1.45" fill="#c4c4c4" stroke="#8a8a8a" stroke-width="0.4" />
<circle cx="184.22" cy="173.36" r="1.45" fill="#c4c4c4" stroke="#8a8a8a" stroke-width="0.4" />
<circle cx="183.08" cy="168.98" r="1.45" fill="#c4c4c4" stroke="#8a8a8a" stroke-width="0.4" />
<circle cx="185.84" cy="167.23" r="1.45" fill="#c4c4c4" stroke="#8a8a8a" stroke-width="0.4" />
<circle cx="184.68" cy="163.92" r="1.45" fill="#c4c4c4" stroke="#8a8a8a" stroke-width="0.4" />
<path d="M240.3,156.6 L240.4,160.9 L244.1,162.6 L243.3,166.3" fill="none" stroke="#8a8a8a" stroke-width="0.9"/>
<circle cx="240.25" cy="156.56" r="1.45" fill="#c4c4c4" stroke="#8a8a8a" stroke-width="0.4" />
<circle cx="240.38" cy="160.91" r="1.45" fill="#c4c4c4" stroke="#8a8a8a" stroke-width="0.4" />
<circle cx="244.07" cy="162.62" r="1.45" fill="#c4c4c4" stroke="#8a8a8a" stroke-width="0.4" />
<circle cx="243.29" cy="166.26" r="1.45" fill="#c4c4c4" stroke="#8a8a8a" stroke-width="0.4" />
<path d="M191.3,165.1 L193.8,167.2 L197.7,164.4 L200.7,167.4 L204.4,165.0 L207.5,167.3" fill="none" stroke="#8a8a8a" stroke-width="0.9"/>
<circle cx="191.31" cy="165.08" r="1.45" fill="#c4c4c4" stroke="#8a8a8a" stroke-width="0.4" />
<circle cx="193.77" cy="167.16" r="1.45" fill="#c4c4c4" stroke="#8a8a8a" stroke-width="0.4" />
<circle cx="197.67" cy="164.41" r="1.45" fill="#c4c4c4" stroke="#8a8a8a" stroke-width="0.4" />
<circle cx="200.65" cy="167.41" r="1.45" fill="#c4c4c4" stroke="#8a8a8a" stroke-width="0.4" />
<circle cx="204.39" cy="164.96" r="1.45" fill="#c4c4c4" stroke="#8a8a8a" stroke-width="0.4" />
<circle cx="207.52" cy="167.3" r="1.45" fill="#c4c4c4" stroke="#8a8a8a" stroke-width="0.4" />
<path d="M245.6,146.3 L249.1,147.4 L250.0,143.9 L254.1,144.2" fill="none" stroke="#8a8a8a" stroke-width="0.9"/>
<circle cx="245.56" cy="146.26" r="1.45" fill="#c4c4c4" stroke="#8a8a8a" stroke-width="0.4" />
<circle cx="249.15" cy="147.35" r="1.45" fill="#c4c4c4" stroke="#8a8a8a" stroke-width="0.4" />
<circle cx="250.04" cy="143.92" r="1.45" fill="#c4c4c4" stroke="#8a8a8a" stroke-width="0.4" />
<circle cx="254.06" cy="144.17" r="1.45" fill="#c4c4c4" stroke="#8a8a8a" stroke-width="0.4" />
<path d="M185.0,143.3 L180.3,142.2 L178.5,146.6" fill="none" stroke="#8a8a8a" stroke-width="0.9"/>
<circle cx="184.95" cy="143.26" r="1.45" fill="#c4c4c4" stroke="#8a8a8a" stroke-width="0.4" />
<circle cx="180.32" cy="142.16" r="1.45" fill="#c4c4c4" stroke="#8a8a8a" stroke-width="0.4" />
<circle cx="178.52" cy="146.64" r="1.45" fill="#c4c4c4" stroke="#8a8a8a" stroke-width="0.4" />
<path d="M249.7,158.4 L252.3,161.5 L254.8,159.7 L258.4,161.7 L261.3,159.4" fill="none" stroke="#8a8a8a" stroke-width="0.9"/>
<circle cx="249.67" cy="158.45" r="1.45" fill="#c4c4c4" stroke="#8a8a8a" stroke-width="0.4" />
<circle cx="252.26" cy="161.49" r="1.45" fill="#c4c4c4" stroke="#8a8a8a" stroke-width="0.4" />
<circle cx="254.84" cy="159.66" r="1.45" fill="#c4c4c4" stroke="#8a8a8a" stroke-width="0.4" />
<circle cx="258.36" cy="161.69" r="1.45" fill="#c4c4c4" stroke="#8a8a8a" stroke-width="0.4" />
<circle cx="261.31" cy="159.41" r="1.45" fill="#c4c4c4" stroke="#8a8a8a" stroke-width="0.4" />
<path d="M211.5,154.6 L207.7,157.0 L209.5,161.5 L206.1,164.6" fill="none" stroke="#8a8a8a" stroke-width="0.9"/>
<circle cx="211.47" cy="154.62" r="1.45" fill="#c4c4c4" stroke="#8a8a8a" stroke-width="0.4" />
<circle cx="207.72" cy="157" r="1.45" fill="#c4c4c4" stroke="#8a8a8a" stroke-width="0.4" />
<circle cx="209.55" cy="161.52" r="1.45" fill="#c4c4c4" stroke="#8a8a8a" stroke-width="0.4" />
<circle cx="206.15" cy="164.6" r="1.45" fill="#c4c4c4" stroke="#8a8a8a" stroke-width="0.4" />
<path d="M238.7,142.2 L243.0,141.4 L241.5,137.3 L245.9,136.0" fill="none" stroke="#8a8a8a" stroke-width="0.9"/>
<circle cx="238.74" cy="142.24" r="1.45" fill="#c4c4c4" stroke="#8a8a8a" stroke-width="0.4" />
<circle cx="242.96" cy="141.42" r="1.45" fill="#c4c4c4" stroke="#8a8a8a" stroke-width="0.4" />
<circle cx="241.54" cy="137.28" r="1.45" fill="#c4c4c4" stroke="#8a8a8a" stroke-width="0.4" />
<circle cx="245.88" cy="136.04" r="1.45" fill="#c4c4c4" stroke="#8a8a8a" stroke-width="0.4" />
<path d="M186.7,136.6 L186.8,141.0 L190.2,142.4 L190.0,146.5" fill="none" stroke="#8a8a8a" stroke-width="0.9"/>
<circle cx="186.74" cy="136.64" r="1.45" fill="#c4c4c4" stroke="#8a8a8a" stroke-width="0.4" />
<circle cx="186.78" cy="141" r="1.45" fill="#c4c4c4" stroke="#8a8a8a" stroke-width="0.4" />
<circle cx="190.24" cy="142.35" r="1.45" fill="#c4c4c4" stroke="#8a8a8a" stroke-width="0.4" />
<circle cx="190.02" cy="146.53" r="1.45" fill="#c4c4c4" stroke="#8a8a8a" stroke-width="0.4" />
<path d="M211.8,144.5 L207.5,144.6 L205.1,148.7" fill="none" stroke="#8a8a8a" stroke-width="0.9"/>
<circle cx="211.77" cy="144.54" r="1.45" fill="#c4c4c4" stroke="#8a8a8a" stroke-width="0.4" />
<circle cx="207.52" cy="144.55" r="1.45" fill="#c4c4c4" stroke="#8a8a8a" stroke-width="0.4" />
<circle cx="205.09" cy="148.73" r="1.45" fill="#c4c4c4" stroke="#8a8a8a" stroke-width="0.4" />
<path d="M180.5,143.3 L177.9,146.4 L180.4,149.6 L176.8,152.4 L179.7,155.6" fill="none" stroke="#8a8a8a" stroke-width="0.9"/>
<circle cx="180.49" cy="143.26" r="1.45" fill="#c4c4c4" stroke="#8a8a8a" stroke-width="0.4" />
<circle cx="177.92" cy="146.37" r="1.45" fill="#c4c4c4" stroke="#8a8a8a" stroke-width="0.4" />
<circle cx="180.41" cy="149.56" r="1.45" fill="#c4c4c4" stroke="#8a8a8a" stroke-width="0.4" />
<circle cx="176.77" cy="152.41" r="1.45" fill="#c4c4c4" stroke="#8a8a8a" stroke-width="0.4" />
<circle cx="179.69" cy="155.57" r="1.45" fill="#c4c4c4" stroke="#8a8a8a" stroke-width="0.4" />
<path d="M209.8,151.2 L209.4,155.5 L212.8,156.4 L213.1,159.6 L216.5,160.4 L216.9,164.8" fill="none" stroke="#8a8a8a" stroke-width="0.9"/>
<circle cx="209.82" cy="151.22" r="1.45" fill="#c4c4c4" stroke="#8a8a8a" stroke-width="0.4" />
<circle cx="209.43" cy="155.53" r="1.45" fill="#c4c4c4" stroke="#8a8a8a" stroke-width="0.4" />
<circle cx="212.84" cy="156.36" r="1.45" fill="#c4c4c4" stroke="#8a8a8a" stroke-width="0.4" />
<circle cx="213.15" cy="159.6" r="1.45" fill="#c4c4c4" stroke="#8a8a8a" stroke-width="0.4" />
<circle cx="216.53" cy="160.36" r="1.45" fill="#c4c4c4" stroke="#8a8a8a" stroke-width="0.4" />
<circle cx="216.9" cy="164.8" r="1.45" fill="#c4c4c4" stroke="#8a8a8a" stroke-width="0.4" />
<path d="M206.5,176.0 L202.7,174.8 L201.5,178.0 L197.7,176.6" fill="none" stroke="#8a8a8a" stroke-width="0.9"/>
<circle cx="206.47" cy="175.97" r="1.45" fill="#c4c4c4" stroke="#8a8a8a" stroke-width="0.4" />
<circle cx="202.7" cy="174.76" r="1.45" fill="#c4c4c4" stroke="#8a8a8a" stroke-width="0.4" />
<circle cx="201.47" cy="178.01" r="1.45" fill="#c4c4c4" stroke="#8a8a8a" stroke-width="0.4" />
<circle cx="197.71" cy="176.58" r="1.45" fill="#c4c4c4" stroke="#8a8a8a" stroke-width="0.4" />
<path d="M254.6,177.4 L258.6,175.3 L257.6,170.7 L262.0,168.2 L260.8,163.9" fill="none" stroke="#8a8a8a" stroke-width="0.9"/>
<circle cx="254.64" cy="177.38" r="1.45" fill="#c4c4c4" stroke="#8a8a8a" stroke-width="0.4" />
<circle cx="258.62" cy="175.33" r="1.45" fill="#c4c4c4" stroke="#8a8a8a" stroke-width="0.4" />
<circle cx="257.64" cy="170.74" r="1.45" fill="#c4c4c4" stroke="#8a8a8a" stroke-width="0.4" />
<circle cx="262.04" cy="168.23" r="1.45" fill="#c4c4c4" stroke="#8a8a8a" stroke-width="0.4" />
<circle cx="260.83" cy="163.86" r="1.45" fill="#c4c4c4" stroke="#8a8a8a" stroke-width="0.4" />
<path d="M255.3,139.2 L259.7,142.4 L261.8,138.4 L265.3,141.3 L267.4,137.7 L271.3,139.6 L273.1,136.6 L276.5,139.1 L279.4,135.4 L282.8,138.0 L285.3,134.6 L288.8,136.8 L291.3,133.5 L295.0,136.4 L297.0,132.8 L300.6,135.6 L303.2,132.2 L306.3,134.9 L309.2,131.3 L312.1,133.4" fill="none" stroke="#8a8a8a" stroke-width="0.9"/>
<circle cx="255.29" cy="139.2" r="1.45" fill="#c4c4c4" stroke="#8a8a8a" stroke-width="0.4" />
<circle cx="259.67" cy="142.45" r="1.45" fill="#c4c4c4" stroke="#8a8a8a" stroke-width="0.4" />
<circle cx="261.82" cy="138.38" r="1.45" fill="#c4c4c4" stroke="#8a8a8a" stroke-width="0.4" />
<circle cx="265.25" cy="141.3" r="1.45" fill="#c4c4c4" stroke="#8a8a8a" stroke-width="0.4" />
<circle cx="267.43" cy="137.72" r="1.45" fill="#c4c4c4" stroke="#8a8a8a" stroke-width="0.4" />
<circle cx="271.28" cy="139.63" r="1.45" fill="#c4c4c4" stroke="#8a8a8a" stroke-width="0.4" />
<circle cx="273.15" cy="136.64" r="1.45" fill="#c4c4c4" stroke="#8a8a8a" stroke-width="0.4" />
<circle cx="276.51" cy="139.05" r="1.45" fill="#c4c4c4" stroke="#8a8a8a" stroke-width="0.4" />
<circle cx="279.41" cy="135.4" r="1.45" fill="#c4c4c4" stroke="#8a8a8a" stroke-width="0.4" />
<circle cx="282.78" cy="137.98" r="1.45" fill="#c4c4c4" stroke="#8a8a8a" stroke-width="0.4" />
<circle cx="285.3" cy="134.61" r="1.45" fill="#c4c4c4" stroke="#8a8a8a" stroke-width="0.4" />
<circle cx="288.8" cy="136.81" r="1.45" fill="#c4c4c4" stroke="#8a8a8a" stroke-width="0.4" />
<circle cx="291.3" cy="133.48" r="1.45" fill="#c4c4c4" stroke="#8a8a8a" stroke-width="0.4" />
<circle cx="295.01" cy="136.42" r="1.45" fill="#c4c4c4" stroke="#8a8a8a" stroke-width="0.4" />
<circle cx="297" cy="132.8" r="1.45" fill="#c4c4c4" stroke="#8a8a8a" stroke-width="0.4" />
<circle cx="300.57" cy="135.57" r="1.45" fill="#c4c4c4" stroke="#8a8a8a" stroke-width="0.4" />
<circle cx="303.18" cy="132.19" r="1.45" fill="#c4c4c4" stroke="#8a8a8a" stroke-width="0.4" />
<circle cx="306.33" cy="134.92" r="1.45" fill="#c4c4c4" stroke="#8a8a8a" stroke-width="0.4" />
<circle cx="309.15" cy="131.35" r="1.45" fill="#c4c4c4" stroke="#8a8a8a" stroke-width="0.4" />
<circle cx="312.15" cy="133.41" r="1.45" fill="#c4c4c4" stroke="#8a8a8a" stroke-width="0.4" />
<path d="M251.3,62.3 L249.1,65.1 L251.6,68.3 L249.3,70.6 L252.3,74.3 L250.2,77.2 L252.8,79.7 L250.5,82.7 L252.6,85.9 L250.9,89.0 L253.0,92.1 L251.3,94.8 L253.7,97.8 L251.5,100.7 L254.8,104.4 L252.4,107.5 L254.8,110.2 L252.4,113.3 L255.4,116.3 L252.7,119.4 L255.4,121.9 L254.0,124.6 L255.9,127.7" fill="none" stroke="#8a8a8a" stroke-width="0.9"/>
<circle cx="251.26" cy="62.31" r="1.45" fill="#c4c4c4" stroke="#8a8a8a" stroke-width="0.4" />
<circle cx="249.06" cy="65.12" r="1.45" fill="#c4c4c4" stroke="#8a8a8a" stroke-width="0.4" />
<circle cx="251.58" cy="68.31" r="1.45" fill="#c4c4c4" stroke="#8a8a8a" stroke-width="0.4" />
<circle cx="249.31" cy="70.65" r="1.45" fill="#c4c4c4" stroke="#8a8a8a" stroke-width="0.4" />
<circle cx="252.33" cy="74.31" r="1.45" fill="#c4c4c4" stroke="#8a8a8a" stroke-width="0.4" />
<circle cx="250.17" cy="77.19" r="1.45" fill="#c4c4c4" stroke="#8a8a8a" stroke-width="0.4" />
<circle cx="252.81" cy="79.71" r="1.45" fill="#c4c4c4" stroke="#8a8a8a" stroke-width="0.4" />
<circle cx="250.49" cy="82.66" r="1.45" fill="#c4c4c4" stroke="#8a8a8a" stroke-width="0.4" />
<circle cx="252.64" cy="85.86" r="1.45" fill="#c4c4c4" stroke="#8a8a8a" stroke-width="0.4" />
<circle cx="250.85" cy="88.99" r="1.45" fill="#c4c4c4" stroke="#8a8a8a" stroke-width="0.4" />
<circle cx="253.02" cy="92.1" r="1.45" fill="#c4c4c4" stroke="#8a8a8a" stroke-width="0.4" />
<circle cx="251.33" cy="94.83" r="1.45" fill="#c4c4c4" stroke="#8a8a8a" stroke-width="0.4" />
<circle cx="253.73" cy="97.8" r="1.45" fill="#c4c4c4" stroke="#8a8a8a" stroke-width="0.4" />
<circle cx="251.49" cy="100.66" r="1.45" fill="#c4c4c4" stroke="#8a8a8a" stroke-width="0.4" />
<circle cx="254.79" cy="104.38" r="1.45" fill="#c4c4c4" stroke="#8a8a8a" stroke-width="0.4" />
<circle cx="252.38" cy="107.46" r="1.45" fill="#c4c4c4" stroke="#8a8a8a" stroke-width="0.4" />
<circle cx="254.75" cy="110.21" r="1.45" fill="#c4c4c4" stroke="#8a8a8a" stroke-width="0.4" />
<circle cx="252.39" cy="113.34" r="1.45" fill="#c4c4c4" stroke="#8a8a8a" stroke-width="0.4" />
<circle cx="255.35" cy="116.31" r="1.45" fill="#c4c4c4" stroke="#8a8a8a" stroke-width="0.4" />
<circle cx="252.72" cy="119.38" r="1.45" fill="#c4c4c4" stroke="#8a8a8a" stroke-width="0.4" />
<circle cx="255.37" cy="121.95" r="1.45" fill="#c4c4c4" stroke="#8a8a8a" stroke-width="0.4" />
<circle cx="254.03" cy="124.59" r="1.45" fill="#c4c4c4" stroke="#8a8a8a" stroke-width="0.4" />
<circle cx="255.94" cy="127.71" r="1.45" fill="#c4c4c4" stroke="#8a8a8a" stroke-width="0.4" />
<line x1="182.5" y1="150.5" x2="185.75" y2="151.5" stroke="#999" stroke-width="0.8" />
<circle cx="185.75" cy="151.5" r="1.4" fill="#f01818" stroke="#b01010" stroke-width="0.3" />
<line x1="182.5" y1="150.5" x2="181.4" y2="153.72" stroke="#999" stroke-width="0.8" />
<circle cx="181.4" cy="153.72" r="1.4" fill="#f01818" stroke="#b01010" stroke-width="0.3" />
<line x1="182.5" y1="150.5" x2="179.21" y2="149.63" stroke="#999" stroke-width="0.8" />
<circle cx="179.21" cy="149.63" r="1.4" fill="#f01818" stroke="#b01010" stroke-width="0.3" />
<line x1="182.5" y1="150.5" x2="183.13" y2="147.16" stroke="#999" stroke-width="0.8" />
<circle cx="183.13" cy="147.16" r="1.4" fill="#f01818" stroke="#b01010" stroke-width="0.3" />
<circle cx="182.5" cy="150.5" r="2.1" fill="#f7941d" stroke="#c06a10" stroke-width="0.3" />
<line x1="235" y1="158" x2="238.25" y2="159" stroke="#999" stroke-width="0.8" />
<circle cx="238.25" cy="159" r="1.4" fill="#f01818" stroke="#b01010" stroke-width="0.3" />
<line x1="235" y1="158" x2="233.9" y2="161.22" stroke="#999" stroke-width="0.8" />
<circle cx="233.9" cy="161.22" r="1.4" fill="#f01818" stroke="#b01010" stroke-width="0.3" />
<line x1="235" y1="158" x2="231.71" y2="157.13" stroke="#999" stroke-width="0.8" />
<circle cx="231.71" cy="157.13" r="1.4" fill="#f01818" stroke="#b01010" stroke-width="0.3" />
<line x1="235" y1="158" x2="235.63" y2="154.66" stroke="#999" stroke-width="0.8" />
<circle cx="235.63" cy="154.66" r="1.4" fill="#f01818" stroke="#b01010" stroke-width="0.3" />
<circle cx="235" cy="158" r="2.1" fill="#f7941d" stroke="#c06a10" stroke-width="0.3" />
<line x1="243.5" y1="161" x2="246.75" y2="162" stroke="#999" stroke-width="0.8" />
<circle cx="246.75" cy="162" r="1.4" fill="#f01818" stroke="#b01010" stroke-width="0.3" />
<line x1="243.5" y1="161" x2="242.4" y2="164.22" stroke="#999" stroke-width="0.8" />
<circle cx="242.4" cy="164.22" r="1.4" fill="#f01818" stroke="#b01010" stroke-width="0.3" />
<line x1="243.5" y1="161" x2="240.21" y2="160.13" stroke="#999" stroke-width="0.8" />
<circle cx="240.21" cy="160.13" r="1.4" fill="#f01818" stroke="#b01010" stroke-width="0.3" />
<line x1="243.5" y1="161" x2="244.13" y2="157.66" stroke="#999" stroke-width="0.8" />
<circle cx="244.13" cy="157.66" r="1.4" fill="#f01818" stroke="#b01010" stroke-width="0.3" />
<circle cx="243.5" cy="161" r="2.1" fill="#f7941d" stroke="#c06a10" stroke-width="0.3" />
<circle cx="190" cy="140" r="1.6" fill="#f01818" stroke="#b01010" stroke-width="0.3" />
<circle cx="196" cy="132" r="1.6" fill="#f01818" stroke="#b01010" stroke-width="0.3" />
<circle cx="208" cy="128" r="1.6" fill="#f01818" stroke="#b01010" stroke-width="0.3" />
<circle cx="214" cy="150" r="1.6" fill="#f01818" stroke="#b01010" stroke-width="0.3" />
<circle cx="222" cy="162" r="1.6" fill="#f01818" stroke="#b01010" stroke-width="0.3" />
<circle cx="228" cy="170" r="1.6" fill="#f01818" stroke="#b01010" stroke-width="0.3" />
<circle cx="238" cy="172" r="1.6" fill="#f01818" stroke="#b01010" stroke-width="0.3" />
<circle cx="250" cy="166" r="1.6" fill="#f01818" stroke="#b01010" stroke-width="0.3" />
<circle cx="256" cy="150" r="1.6" fill="#f01818" stroke="#b01010" stroke-width="0.3" />
<circle cx="244" cy="141" r="1.6" fill="#f01818" stroke="#b01010" stroke-width="0.3" />
<circle cx="232" cy="132" r="1.6" fill="#f01818" stroke="#b01010" stroke-width="0.3" />
<circle cx="203" cy="165" r="1.6" fill="#f01818" stroke="#b01010" stroke-width="0.3" />
<circle cx="186" cy="160" r="1.6" fill="#f01818" stroke="#b01010" stroke-width="0.3" />
<circle cx="262" cy="128" r="1.6" fill="#f01818" stroke="#b01010" stroke-width="0.3" />
<circle cx="267" cy="137" r="1.6" fill="#f01818" stroke="#b01010" stroke-width="0.3" />
<circle cx="178" cy="142" r="1.6" fill="#f01818" stroke="#b01010" stroke-width="0.3" />
<circle cx="200" cy="172" r="1.6" fill="#f01818" stroke="#b01010" stroke-width="0.3" />
<circle cx="212" cy="176" r="1.6" fill="#f01818" stroke="#b01010" stroke-width="0.3" />
<circle cx="210.68" cy="131.13" r="1.6" fill="#f01818" stroke="#b01010" stroke-width="0.3" />
<circle cx="254.03" cy="168.77" r="1.6" fill="#f01818" stroke="#b01010" stroke-width="0.3" />
<circle cx="216.19" cy="145.82" r="1.6" fill="#f01818" stroke="#b01010" stroke-width="0.3" />
<circle cx="230.5" cy="130.29" r="1.6" fill="#f01818" stroke="#b01010" stroke-width="0.3" />
<circle cx="188.37" cy="172.93" r="1.6" fill="#f01818" stroke="#b01010" stroke-width="0.3" />
<circle cx="209.4" cy="152.92" r="1.6" fill="#f01818" stroke="#b01010" stroke-width="0.3" />
<circle cx="256.98" cy="176.86" r="1.6" fill="#f01818" stroke="#b01010" stroke-width="0.3" />
<circle cx="221.92" cy="138.33" r="1.6" fill="#f01818" stroke="#b01010" stroke-width="0.3" />
<circle cx="208.45" cy="174.13" r="1.6" fill="#f01818" stroke="#b01010" stroke-width="0.3" />
<circle cx="254.16" cy="137.78" r="1.6" fill="#f01818" stroke="#b01010" stroke-width="0.3" />
<circle cx="249.68" cy="145.71" r="1.6" fill="#f01818" stroke="#b01010" stroke-width="0.3" />
<circle cx="221.91" cy="136.59" r="1.6" fill="#f01818" stroke="#b01010" stroke-width="0.3" />
<circle cx="252.86" cy="177.77" r="1.6" fill="#f01818" stroke="#b01010" stroke-width="0.3" />
<circle cx="201.35" cy="159.62" r="1.6" fill="#f01818" stroke="#b01010" stroke-width="0.3" />
<circle cx="200.55" cy="172.01" r="1.6" fill="#f01818" stroke="#b01010" stroke-width="0.3" />
<circle cx="189.8" cy="133.31" r="1.6" fill="#f01818" stroke="#b01010" stroke-width="0.3" />
<path d="M245.8,151.1 L250.0,152.1 L250.9,147.2 L254.9,147.6 L256.5,143.4" fill="none" stroke="#8a8a8a" stroke-width="0.9"/>
<circle cx="245.82" cy="151.1" r="1.45" fill="#c4c4c4" stroke="#8a8a8a" stroke-width="0.4" />
<circle cx="250" cy="152.07" r="1.45" fill="#c4c4c4" stroke="#8a8a8a" stroke-width="0.4" />
<circle cx="250.91" cy="147.17" r="1.45" fill="#c4c4c4" stroke="#8a8a8a" stroke-width="0.4" />
<circle cx="254.89" cy="147.57" r="1.45" fill="#c4c4c4" stroke="#8a8a8a" stroke-width="0.4" />
<circle cx="256.53" cy="143.41" r="1.45" fill="#c4c4c4" stroke="#8a8a8a" stroke-width="0.4" />
<path d="M214.1,150.3 L214.6,145.6 L209.6,143.7 L210.3,139.4" fill="none" stroke="#8a8a8a" stroke-width="0.9"/>
<circle cx="214.12" cy="150.32" r="1.45" fill="#c4c4c4" stroke="#8a8a8a" stroke-width="0.4" />
<circle cx="214.6" cy="145.63" r="1.45" fill="#c4c4c4" stroke="#8a8a8a" stroke-width="0.4" />
<circle cx="209.63" cy="143.68" r="1.45" fill="#c4c4c4" stroke="#8a8a8a" stroke-width="0.4" />
<circle cx="210.3" cy="139.43" r="1.45" fill="#c4c4c4" stroke="#8a8a8a" stroke-width="0.4" />
<path d="M221.4,164.5 L223.0,168.1 L227.4,168.0 L228.6,172.6 L232.8,171.7" fill="none" stroke="#8a8a8a" stroke-width="0.9"/>
<circle cx="221.42" cy="164.53" r="1.45" fill="#c4c4c4" stroke="#8a8a8a" stroke-width="0.4" />
<circle cx="223.05" cy="168.1" r="1.45" fill="#c4c4c4" stroke="#8a8a8a" stroke-width="0.4" />
<circle cx="227.44" cy="168.01" r="1.45" fill="#c4c4c4" stroke="#8a8a8a" stroke-width="0.4" />
<circle cx="228.64" cy="172.58" r="1.45" fill="#c4c4c4" stroke="#8a8a8a" stroke-width="0.4" />
<circle cx="232.8" cy="171.73" r="1.45" fill="#c4c4c4" stroke="#8a8a8a" stroke-width="0.4" />
<path d="M249.0,150.5 L246.6,152.8 L247.9,157.7 L244.6,161.1" fill="none" stroke="#8a8a8a" stroke-width="0.9"/>
<circle cx="249.04" cy="150.47" r="1.45" fill="#c4c4c4" stroke="#8a8a8a" stroke-width="0.4" />
<circle cx="246.6" cy="152.83" r="1.45" fill="#c4c4c4" stroke="#8a8a8a" stroke-width="0.4" />
<circle cx="247.95" cy="157.72" r="1.45" fill="#c4c4c4" stroke="#8a8a8a" stroke-width="0.4" />
<circle cx="244.63" cy="161.13" r="1.45" fill="#c4c4c4" stroke="#8a8a8a" stroke-width="0.4" />
<path d="M232.9,148.6 L231.4,145.0 L227.5,146.7 L225.8,142.9 L222.4,144.0" fill="none" stroke="#8a8a8a" stroke-width="0.9"/>
<circle cx="232.91" cy="148.57" r="1.45" fill="#c4c4c4" stroke="#8a8a8a" stroke-width="0.4" />
<circle cx="231.44" cy="144.97" r="1.45" fill="#c4c4c4" stroke="#8a8a8a" stroke-width="0.4" />
<circle cx="227.48" cy="146.72" r="1.45" fill="#c4c4c4" stroke="#8a8a8a" stroke-width="0.4" />
<circle cx="225.77" cy="142.93" r="1.45" fill="#c4c4c4" stroke="#8a8a8a" stroke-width="0.4" />
<circle cx="222.36" cy="144" r="1.45" fill="#c4c4c4" stroke="#8a8a8a" stroke-width="0.4" />
<path d="M248.6,147.9 L248.1,143.9 L243.5,143.7 L242.7,139.8" fill="none" stroke="#8a8a8a" stroke-width="0.9"/>
<circle cx="248.56" cy="147.89" r="1.45" fill="#c4c4c4" stroke="#8a8a8a" stroke-width="0.4" />
<circle cx="248.1" cy="143.92" r="1.45" fill="#c4c4c4" stroke="#8a8a8a" stroke-width="0.4" />
<circle cx="243.48" cy="143.67" r="1.45" fill="#c4c4c4" stroke="#8a8a8a" stroke-width="0.4" />
<circle cx="242.65" cy="139.76" r="1.45" fill="#c4c4c4" stroke="#8a8a8a" stroke-width="0.4" />
<path d="M233.3,143.1 L229.9,139.3 L226.1,141.8 L223.5,138.7" fill="none" stroke="#8a8a8a" stroke-width="0.9"/>
<circle cx="233.33" cy="143.07" r="1.45" fill="#c4c4c4" stroke="#8a8a8a" stroke-width="0.4" />
<circle cx="229.94" cy="139.31" r="1.45" fill="#c4c4c4" stroke="#8a8a8a" stroke-width="0.4" />
<circle cx="226.06" cy="141.75" r="1.45" fill="#c4c4c4" stroke="#8a8a8a" stroke-width="0.4" />
<circle cx="223.47" cy="138.65" r="1.45" fill="#c4c4c4" stroke="#8a8a8a" stroke-width="0.4" />
<path d="M220.6,170.8 L222.7,174.3 L226.2,173.5 L228.0,177.4 L232.8,176.7" fill="none" stroke="#8a8a8a" stroke-width="0.9"/>
<circle cx="220.63" cy="170.82" r="1.45" fill="#c4c4c4" stroke="#8a8a8a" stroke-width="0.4" />
<circle cx="222.73" cy="174.33" r="1.45" fill="#c4c4c4" stroke="#8a8a8a" stroke-width="0.4" />
<circle cx="226.24" cy="173.54" r="1.45" fill="#c4c4c4" stroke="#8a8a8a" stroke-width="0.4" />
<circle cx="228.01" cy="177.36" r="1.45" fill="#c4c4c4" stroke="#8a8a8a" stroke-width="0.4" />
<circle cx="232.75" cy="176.72" r="1.45" fill="#c4c4c4" stroke="#8a8a8a" stroke-width="0.4" />
<path d="M220.4,162.2 L221.8,166.5 L226.6,166.1 L227.2,169.7 L231.6,169.0" fill="none" stroke="#8a8a8a" stroke-width="0.9"/>
<circle cx="220.45" cy="162.2" r="1.45" fill="#c4c4c4" stroke="#8a8a8a" stroke-width="0.4" />
<circle cx="221.81" cy="166.55" r="1.45" fill="#c4c4c4" stroke="#8a8a8a" stroke-width="0.4" />
<circle cx="226.59" cy="166.14" r="1.45" fill="#c4c4c4" stroke="#8a8a8a" stroke-width="0.4" />
<circle cx="227.2" cy="169.68" r="1.45" fill="#c4c4c4" stroke="#8a8a8a" stroke-width="0.4" />
<circle cx="231.62" cy="168.98" r="1.45" fill="#c4c4c4" stroke="#8a8a8a" stroke-width="0.4" />
<path d="M260.9,142.6 L257.1,140.8 L253.7,143.1 L251.2,140.6 L247.8,143.6" fill="none" stroke="#8a8a8a" stroke-width="0.9"/>
<circle cx="260.89" cy="142.63" r="1.45" fill="#c4c4c4" stroke="#8a8a8a" stroke-width="0.4" />
<circle cx="257.06" cy="140.84" r="1.45" fill="#c4c4c4" stroke="#8a8a8a" stroke-width="0.4" />
<circle cx="253.67" cy="143.14" r="1.45" fill="#c4c4c4" stroke="#8a8a8a" stroke-width="0.4" />
<circle cx="251.22" cy="140.65" r="1.45" fill="#c4c4c4" stroke="#8a8a8a" stroke-width="0.4" />
<circle cx="247.76" cy="143.61" r="1.45" fill="#c4c4c4" stroke="#8a8a8a" stroke-width="0.4" />
<path d="M191.9,94.5 L190.5,91.3 L191.3,89.0 L193.9,89.1 L194.9,92.5 L192.8,95.0" fill="none" stroke="#2a8a36" stroke-width="1.3"/>
<circle cx="191.91" cy="94.47" r="1.35" fill="#33a041" stroke="#1f6d28" stroke-width="0.35" />
<circle cx="190.46" cy="91.26" r="1.35" fill="#33a041" stroke="#1f6d28" stroke-width="0.35" />
<circle cx="191.3" cy="88.95" r="1.35" fill="#33a041" stroke="#1f6d28" stroke-width="0.35" />
<circle cx="193.89" cy="89.06" r="1.35" fill="#33a041" stroke="#1f6d28" stroke-width="0.35" />
<circle cx="194.87" cy="92.47" r="1.35" fill="#33a041" stroke="#1f6d28" stroke-width="0.35" />
<circle cx="192.82" cy="94.95" r="1.35" fill="#33a041" stroke="#1f6d28" stroke-width="0.35" />
<path d="M193.3,96.2 L195.4,94.4 L197.6,97.8 L194.5,100.0 L191.6,98.7 L192.3,95.3" fill="none" stroke="#2a8a36" stroke-width="1.3"/>
<circle cx="193.27" cy="96.17" r="1.35" fill="#33a041" stroke="#1f6d28" stroke-width="0.35" />
<circle cx="195.37" cy="94.43" r="1.35" fill="#33a041" stroke="#1f6d28" stroke-width="0.35" />
<circle cx="197.56" cy="97.79" r="1.35" fill="#33a041" stroke="#1f6d28" stroke-width="0.35" />
<circle cx="194.53" cy="100.03" r="1.35" fill="#33a041" stroke="#1f6d28" stroke-width="0.35" />
<circle cx="191.64" cy="98.65" r="1.35" fill="#33a041" stroke="#1f6d28" stroke-width="0.35" />
<circle cx="192.31" cy="95.29" r="1.35" fill="#33a041" stroke="#1f6d28" stroke-width="0.35" />
<path d="M188.8,106.2 L188.2,104.3 L189.9,102.5 L193.3,102.8 L192.8,107.1 L190.0,107.3" fill="none" stroke="#2a8a36" stroke-width="1.3"/>
<circle cx="188.83" cy="106.23" r="1.35" fill="#33a041" stroke="#1f6d28" stroke-width="0.35" />
<circle cx="188.23" cy="104.34" r="1.35" fill="#33a041" stroke="#1f6d28" stroke-width="0.35" />
<circle cx="189.94" cy="102.49" r="1.35" fill="#33a041" stroke="#1f6d28" stroke-width="0.35" />
<circle cx="193.34" cy="102.79" r="1.35" fill="#33a041" stroke="#1f6d28" stroke-width="0.35" />
<circle cx="192.83" cy="107.09" r="1.35" fill="#33a041" stroke="#1f6d28" stroke-width="0.35" />
<circle cx="190.02" cy="107.27" r="1.35" fill="#33a041" stroke="#1f6d28" stroke-width="0.35" />
<path d="M187.0,112.1 L187.8,110.3 L190.9,109.6 L190.9,113.3 L188.9,114.4 L186.4,112.5" fill="none" stroke="#2a8a36" stroke-width="1.3"/>
<circle cx="186.99" cy="112.06" r="1.35" fill="#33a041" stroke="#1f6d28" stroke-width="0.35" />
<circle cx="187.77" cy="110.32" r="1.35" fill="#33a041" stroke="#1f6d28" stroke-width="0.35" />
<circle cx="190.88" cy="109.58" r="1.35" fill="#33a041" stroke="#1f6d28" stroke-width="0.35" />
<circle cx="190.86" cy="113.34" r="1.35" fill="#33a041" stroke="#1f6d28" stroke-width="0.35" />
<circle cx="188.87" cy="114.42" r="1.35" fill="#33a041" stroke="#1f6d28" stroke-width="0.35" />
<circle cx="186.36" cy="112.49" r="1.35" fill="#33a041" stroke="#1f6d28" stroke-width="0.35" />
<path d="M198.7,119.2 L196.9,120.5 L194.1,119.3 L195.2,116.2 L197.4,116.3 L198.3,118.3" fill="none" stroke="#2a8a36" stroke-width="1.3"/>
<circle cx="198.74" cy="119.19" r="1.35" fill="#33a041" stroke="#1f6d28" stroke-width="0.35" />
<circle cx="196.87" cy="120.54" r="1.35" fill="#33a041" stroke="#1f6d28" stroke-width="0.35" />
<circle cx="194.14" cy="119.35" r="1.35" fill="#33a041" stroke="#1f6d28" stroke-width="0.35" />
<circle cx="195.23" cy="116.18" r="1.35" fill="#33a041" stroke="#1f6d28" stroke-width="0.35" />
<circle cx="197.38" cy="116.32" r="1.35" fill="#33a041" stroke="#1f6d28" stroke-width="0.35" />
<circle cx="198.26" cy="118.29" r="1.35" fill="#33a041" stroke="#1f6d28" stroke-width="0.35" />
<path d="M190.5,126.7 L188.0,125.5 L187.9,122.8 L191.1,121.7 L191.8,124.0 L191.6,126.7" fill="none" stroke="#2a8a36" stroke-width="1.3"/>
<circle cx="190.47" cy="126.73" r="1.35" fill="#33a041" stroke="#1f6d28" stroke-width="0.35" />
<circle cx="188.04" cy="125.55" r="1.35" fill="#33a041" stroke="#1f6d28" stroke-width="0.35" />
<circle cx="187.94" cy="122.82" r="1.35" fill="#33a041" stroke="#1f6d28" stroke-width="0.35" />
<circle cx="191.14" cy="121.69" r="1.35" fill="#33a041" stroke="#1f6d28" stroke-width="0.35" />
<circle cx="191.81" cy="124.01" r="1.35" fill="#33a041" stroke="#1f6d28" stroke-width="0.35" />
<circle cx="191.6" cy="126.69" r="1.35" fill="#33a041" stroke="#1f6d28" stroke-width="0.35" />
<path d="M223.2,85.4 L221.7,87.2 L220.1,86.7 L218.2,84.5 L221.2,81.6 L223.7,83.8" fill="none" stroke="#2a8a36" stroke-width="1.3"/>
<circle cx="223.25" cy="85.42" r="1.35" fill="#33a041" stroke="#1f6d28" stroke-width="0.35" />
<circle cx="221.71" cy="87.16" r="1.35" fill="#33a041" stroke="#1f6d28" stroke-width="0.35" />
<circle cx="220.1" cy="86.75" r="1.35" fill="#33a041" stroke="#1f6d28" stroke-width="0.35" />
<circle cx="218.18" cy="84.53" r="1.35" fill="#33a041" stroke="#1f6d28" stroke-width="0.35" />
<circle cx="221.24" cy="81.56" r="1.35" fill="#33a041" stroke="#1f6d28" stroke-width="0.35" />
<circle cx="223.65" cy="83.8" r="1.35" fill="#33a041" stroke="#1f6d28" stroke-width="0.35" />
<path d="M237.7,87.5 L236.2,91.3 L233.7,91.2 L232.3,89.1 L233.5,87.4 L236.2,87.2" fill="none" stroke="#2a8a36" stroke-width="1.3"/>
<circle cx="237.68" cy="87.5" r="1.35" fill="#33a041" stroke="#1f6d28" stroke-width="0.35" />
<circle cx="236.24" cy="91.26" r="1.35" fill="#33a041" stroke="#1f6d28" stroke-width="0.35" />
<circle cx="233.69" cy="91.16" r="1.35" fill="#33a041" stroke="#1f6d28" stroke-width="0.35" />
<circle cx="232.35" cy="89.1" r="1.35" fill="#33a041" stroke="#1f6d28" stroke-width="0.35" />
<circle cx="233.53" cy="87.42" r="1.35" fill="#33a041" stroke="#1f6d28" stroke-width="0.35" />
<circle cx="236.15" cy="87.21" r="1.35" fill="#33a041" stroke="#1f6d28" stroke-width="0.35" />
<path d="M215.8,93.3 L218.3,92.3 L219.8,93.6 L219.0,95.9 L216.2,97.2 L214.5,94.0" fill="none" stroke="#2a8a36" stroke-width="1.3"/>
<circle cx="215.78" cy="93.32" r="1.35" fill="#33a041" stroke="#1f6d28" stroke-width="0.35" />
<circle cx="218.27" cy="92.33" r="1.35" fill="#33a041" stroke="#1f6d28" stroke-width="0.35" />
<circle cx="219.81" cy="93.58" r="1.35" fill="#33a041" stroke="#1f6d28" stroke-width="0.35" />
<circle cx="219.04" cy="95.89" r="1.35" fill="#33a041" stroke="#1f6d28" stroke-width="0.35" />
<circle cx="216.18" cy="97.19" r="1.35" fill="#33a041" stroke="#1f6d28" stroke-width="0.35" />
<circle cx="214.52" cy="94.03" r="1.35" fill="#33a041" stroke="#1f6d28" stroke-width="0.35" />
<path d="M208.1,100.5 L208.8,98.5 L212.0,98.2 L212.9,100.6 L212.2,102.3 L208.6,102.5" fill="none" stroke="#2a8a36" stroke-width="1.3"/>
<circle cx="208.09" cy="100.51" r="1.35" fill="#33a041" stroke="#1f6d28" stroke-width="0.35" />
<circle cx="208.83" cy="98.5" r="1.35" fill="#33a041" stroke="#1f6d28" stroke-width="0.35" />
<circle cx="211.98" cy="98.23" r="1.35" fill="#33a041" stroke="#1f6d28" stroke-width="0.35" />
<circle cx="212.88" cy="100.57" r="1.35" fill="#33a041" stroke="#1f6d28" stroke-width="0.35" />
<circle cx="212.23" cy="102.32" r="1.35" fill="#33a041" stroke="#1f6d28" stroke-width="0.35" />
<circle cx="208.62" cy="102.49" r="1.35" fill="#33a041" stroke="#1f6d28" stroke-width="0.35" />
<path d="M215.0,108.8 L215.3,105.0 L218.6,103.6 L219.9,107.6 L217.0,109.3 L215.0,107.7" fill="none" stroke="#2a8a36" stroke-width="1.3"/>
<circle cx="215.04" cy="108.82" r="1.35" fill="#33a041" stroke="#1f6d28" stroke-width="0.35" />
<circle cx="215.3" cy="105.04" r="1.35" fill="#33a041" stroke="#1f6d28" stroke-width="0.35" />
<circle cx="218.61" cy="103.6" r="1.35" fill="#33a041" stroke="#1f6d28" stroke-width="0.35" />
<circle cx="219.87" cy="107.61" r="1.35" fill="#33a041" stroke="#1f6d28" stroke-width="0.35" />
<circle cx="217" cy="109.27" r="1.35" fill="#33a041" stroke="#1f6d28" stroke-width="0.35" />
<circle cx="214.96" cy="107.65" r="1.35" fill="#33a041" stroke="#1f6d28" stroke-width="0.35" />
<path d="M231.1,111.4 L232.7,110.0 L234.7,111.7 L233.2,114.6 L231.2,114.6 L230.3,112.0" fill="none" stroke="#2a8a36" stroke-width="1.3"/>
<circle cx="231.08" cy="111.39" r="1.35" fill="#33a041" stroke="#1f6d28" stroke-width="0.35" />
<circle cx="232.73" cy="110.01" r="1.35" fill="#33a041" stroke="#1f6d28" stroke-width="0.35" />
<circle cx="234.65" cy="111.75" r="1.35" fill="#33a041" stroke="#1f6d28" stroke-width="0.35" />
<circle cx="233.19" cy="114.62" r="1.35" fill="#33a041" stroke="#1f6d28" stroke-width="0.35" />
<circle cx="231.22" cy="114.58" r="1.35" fill="#33a041" stroke="#1f6d28" stroke-width="0.35" />
<circle cx="230.3" cy="111.97" r="1.35" fill="#33a041" stroke="#1f6d28" stroke-width="0.35" />
<path d="M207.5,115.6 L210.2,113.7 L212.8,115.9 L211.1,119.9 L208.4,118.2 L208.2,115.0" fill="none" stroke="#2a8a36" stroke-width="1.3"/>
<circle cx="207.48" cy="115.63" r="1.35" fill="#33a041" stroke="#1f6d28" stroke-width="0.35" />
<circle cx="210.23" cy="113.71" r="1.35" fill="#33a041" stroke="#1f6d28" stroke-width="0.35" />
<circle cx="212.78" cy="115.93" r="1.35" fill="#33a041" stroke="#1f6d28" stroke-width="0.35" />
<circle cx="211.09" cy="119.87" r="1.35" fill="#33a041" stroke="#1f6d28" stroke-width="0.35" />
<circle cx="208.35" cy="118.24" r="1.35" fill="#33a041" stroke="#1f6d28" stroke-width="0.35" />
<circle cx="208.22" cy="114.96" r="1.35" fill="#33a041" stroke="#1f6d28" stroke-width="0.35" />
<path d="M232.4,120.9 L231.9,123.7 L228.9,125.0 L227.1,123.0 L228.0,119.8 L230.4,120.2" fill="none" stroke="#2a8a36" stroke-width="1.3"/>
<circle cx="232.35" cy="120.94" r="1.35" fill="#33a041" stroke="#1f6d28" stroke-width="0.35" />
<circle cx="231.85" cy="123.69" r="1.35" fill="#33a041" stroke="#1f6d28" stroke-width="0.35" />
<circle cx="228.91" cy="125" r="1.35" fill="#33a041" stroke="#1f6d28" stroke-width="0.35" />
<circle cx="227.14" cy="122.96" r="1.35" fill="#33a041" stroke="#1f6d28" stroke-width="0.35" />
<circle cx="228.01" cy="119.79" r="1.35" fill="#33a041" stroke="#1f6d28" stroke-width="0.35" />
<circle cx="230.39" cy="120.24" r="1.35" fill="#33a041" stroke="#1f6d28" stroke-width="0.35" />
<path d="M255.1,94.1 L256.7,93.8 L258.2,95.8 L257.3,98.7 L254.6,97.1 L253.8,93.4" fill="none" stroke="#2a8a36" stroke-width="1.3"/>
<circle cx="255.14" cy="94.12" r="1.35" fill="#33a041" stroke="#1f6d28" stroke-width="0.35" />
<circle cx="256.73" cy="93.8" r="1.35" fill="#33a041" stroke="#1f6d28" stroke-width="0.35" />
<circle cx="258.2" cy="95.84" r="1.35" fill="#33a041" stroke="#1f6d28" stroke-width="0.35" />
<circle cx="257.28" cy="98.71" r="1.35" fill="#33a041" stroke="#1f6d28" stroke-width="0.35" />
<circle cx="254.64" cy="97.11" r="1.35" fill="#33a041" stroke="#1f6d28" stroke-width="0.35" />
<circle cx="253.76" cy="93.39" r="1.35" fill="#33a041" stroke="#1f6d28" stroke-width="0.35" />
<path d="M251.6,97.5 L254.0,99.4 L253.0,102.1 L250.1,102.7 L248.9,98.5 L252.3,97.5" fill="none" stroke="#2a8a36" stroke-width="1.3"/>
<circle cx="251.63" cy="97.52" r="1.35" fill="#33a041" stroke="#1f6d28" stroke-width="0.35" />
<circle cx="254.02" cy="99.38" r="1.35" fill="#33a041" stroke="#1f6d28" stroke-width="0.35" />
<circle cx="252.97" cy="102.13" r="1.35" fill="#33a041" stroke="#1f6d28" stroke-width="0.35" />
<circle cx="250.11" cy="102.66" r="1.35" fill="#33a041" stroke="#1f6d28" stroke-width="0.35" />
<circle cx="248.94" cy="98.48" r="1.35" fill="#33a041" stroke="#1f6d28" stroke-width="0.35" />
<circle cx="252.28" cy="97.49" r="1.35" fill="#33a041" stroke="#1f6d28" stroke-width="0.35" />
<path d="M264.2,106.2 L262.6,108.5 L260.7,106.8 L259.5,105.1 L262.7,102.0 L264.9,103.9" fill="none" stroke="#2a8a36" stroke-width="1.3"/>
<circle cx="264.19" cy="106.24" r="1.35" fill="#33a041" stroke="#1f6d28" stroke-width="0.35" />
<circle cx="262.59" cy="108.48" r="1.35" fill="#33a041" stroke="#1f6d28" stroke-width="0.35" />
<circle cx="260.65" cy="106.83" r="1.35" fill="#33a041" stroke="#1f6d28" stroke-width="0.35" />
<circle cx="259.48" cy="105.12" r="1.35" fill="#33a041" stroke="#1f6d28" stroke-width="0.35" />
<circle cx="262.72" cy="101.97" r="1.35" fill="#33a041" stroke="#1f6d28" stroke-width="0.35" />
<circle cx="264.9" cy="103.91" r="1.35" fill="#33a041" stroke="#1f6d28" stroke-width="0.35" />
<path d="M255.5,106.7 L258.2,106.5 L259.3,108.6 L260.4,111.1 L256.7,111.3 L255.9,109.5" fill="none" stroke="#2a8a36" stroke-width="1.3"/>
<circle cx="255.47" cy="106.73" r="1.35" fill="#33a041" stroke="#1f6d28" stroke-width="0.35" />
<circle cx="258.21" cy="106.48" r="1.35" fill="#33a041" stroke="#1f6d28" stroke-width="0.35" />
<circle cx="259.35" cy="108.61" r="1.35" fill="#33a041" stroke="#1f6d28" stroke-width="0.35" />
<circle cx="260.42" cy="111.07" r="1.35" fill="#33a041" stroke="#1f6d28" stroke-width="0.35" />
<circle cx="256.67" cy="111.25" r="1.35" fill="#33a041" stroke="#1f6d28" stroke-width="0.35" />
<circle cx="255.86" cy="109.46" r="1.35" fill="#33a041" stroke="#1f6d28" stroke-width="0.35" />
<path d="M256.5,112.1 L260.0,110.6 L262.5,112.1 L261.3,116.1 L257.8,115.4 L256.6,111.9" fill="none" stroke="#2a8a36" stroke-width="1.3"/>
<circle cx="256.54" cy="112.13" r="1.35" fill="#33a041" stroke="#1f6d28" stroke-width="0.35" />
<circle cx="260.03" cy="110.65" r="1.35" fill="#33a041" stroke="#1f6d28" stroke-width="0.35" />
<circle cx="262.46" cy="112.05" r="1.35" fill="#33a041" stroke="#1f6d28" stroke-width="0.35" />
<circle cx="261.28" cy="116.12" r="1.35" fill="#33a041" stroke="#1f6d28" stroke-width="0.35" />
<circle cx="257.84" cy="115.37" r="1.35" fill="#33a041" stroke="#1f6d28" stroke-width="0.35" />
<circle cx="256.6" cy="111.94" r="1.35" fill="#33a041" stroke="#1f6d28" stroke-width="0.35" />
<text x="218.2" y="82" font-size="9.9" fill="#231f20" stroke="#231f20" stroke-width="0.22" text-anchor="start" font-weight="bold" >a.T26</text>
<text x="173.6" y="90.4" font-size="9.9" fill="#231f20" stroke="#231f20" stroke-width="0.22" text-anchor="start" font-weight="bold" >a.Y52</text>
<text x="206" y="95.9" font-size="9.9" fill="#231f20" stroke="#231f20" stroke-width="0.22" text-anchor="start" font-weight="bold" >a.Q29</text>
<text x="247.7" y="95.9" font-size="9.9" fill="#231f20" stroke="#231f20" stroke-width="0.22" text-anchor="start" font-weight="bold" >b.Y82</text>
<text x="222" y="104.6" font-size="9.9" fill="#231f20" stroke="#231f20" stroke-width="0.22" text-anchor="start" font-weight="bold" >b.T26</text>
<text x="270" y="106.1" font-size="9.9" fill="#231f20" stroke="#231f20" stroke-width="0.22" text-anchor="start" font-weight="bold" >b.Y52</text>
<text x="163.7" y="111.5" font-size="9.9" fill="#231f20" stroke="#231f20" stroke-width="0.22" text-anchor="start" font-weight="bold" >a.Y82</text>
<text x="213.8" y="118.6" font-size="9.9" fill="#231f20" stroke="#231f20" stroke-width="0.22" text-anchor="start" font-weight="bold" >a.L33</text>
<text x="267" y="124.3" font-size="9.9" fill="#231f20" stroke="#231f20" stroke-width="0.22" text-anchor="start" font-weight="bold" >b.T48</text>
<text x="160" y="128.9" font-size="9.9" fill="#231f20" stroke="#231f20" stroke-width="0.22" text-anchor="start" font-weight="bold" >a.T48</text>
<text x="198" y="128.1" font-size="9.9" fill="#231f20" stroke="#231f20" stroke-width="0.22" text-anchor="start" font-weight="bold" >b.L33</text>
<text x="233.5" y="133.9" font-size="9.9" fill="#231f20" stroke="#231f20" stroke-width="0.22" text-anchor="start" font-weight="bold" >b.Q29</text>
<text x="233.5" y="148.9" font-size="9.9" fill="#231f20" stroke="#231f20" stroke-width="0.22" text-anchor="start" font-weight="bold" >b.S36</text>
<text x="198" y="161.9" font-size="9.9" fill="#231f20" stroke="#231f20" stroke-width="0.22" text-anchor="start" font-weight="bold" >a.S36</text>
<ellipse cx="423.0" cy="33.0" rx="12" ry="8.5" fill="none" stroke="#a3a3a3" stroke-width="2.6"/>
<ellipse cx="423.0" cy="33.0" rx="12" ry="8.5" fill="none" stroke="#fff" stroke-width="1.6"/>
<ellipse cx="423.9" cy="37.5" rx="12" ry="8.5" fill="none" stroke="#a3a3a3" stroke-width="2.6"/>
<ellipse cx="423.9" cy="37.5" rx="12" ry="8.5" fill="none" stroke="#fff" stroke-width="1.6"/>
<ellipse cx="424.8" cy="42.0" rx="12" ry="8.5" fill="none" stroke="#a3a3a3" stroke-width="2.6"/>
<ellipse cx="424.8" cy="42.0" rx="12" ry="8.5" fill="none" stroke="#fff" stroke-width="1.6"/>
<ellipse cx="425.7" cy="46.5" rx="12" ry="8.5" fill="none" stroke="#a3a3a3" stroke-width="2.6"/>
<ellipse cx="425.7" cy="46.5" rx="12" ry="8.5" fill="none" stroke="#fff" stroke-width="1.6"/>
<ellipse cx="426.6" cy="51.0" rx="12" ry="8.5" fill="none" stroke="#a3a3a3" stroke-width="2.6"/>
<ellipse cx="426.6" cy="51.0" rx="12" ry="8.5" fill="none" stroke="#fff" stroke-width="1.6"/>
<ellipse cx="427.5" cy="55.5" rx="12" ry="8.5" fill="none" stroke="#a3a3a3" stroke-width="2.6"/>
<ellipse cx="427.5" cy="55.5" rx="12" ry="8.5" fill="none" stroke="#fff" stroke-width="1.6"/>
<ellipse cx="428.4" cy="60.0" rx="12" ry="8.5" fill="none" stroke="#a3a3a3" stroke-width="2.6"/>
<ellipse cx="428.4" cy="60.0" rx="12" ry="8.5" fill="none" stroke="#fff" stroke-width="1.6"/>
<ellipse cx="429.3" cy="64.5" rx="12" ry="8.5" fill="none" stroke="#a3a3a3" stroke-width="2.6"/>
<ellipse cx="429.3" cy="64.5" rx="12" ry="8.5" fill="none" stroke="#fff" stroke-width="1.6"/>
<ellipse cx="430.2" cy="69.0" rx="12" ry="8.5" fill="none" stroke="#a3a3a3" stroke-width="2.6"/>
<ellipse cx="430.2" cy="69.0" rx="12" ry="8.5" fill="none" stroke="#fff" stroke-width="1.6"/>
<path d="M372,62 Q385,50 400,55 Q408,62 402,74 Q395,80 372,76" fill="none" stroke="#a3a3a3" stroke-width="3.6" stroke-linecap="round" stroke-linejoin="round"/>
<path d="M372,62 Q385,50 400,55 Q408,62 402,74 Q395,80 372,76" fill="none" stroke="#fff" stroke-width="2.6" stroke-linecap="round" stroke-linejoin="round"/>
<rect x="374" y="86.7" width="59" height="55.3" fill="#fcfae2" stroke="none" stroke-width="1" />
<ellipse cx="468.0" cy="100.0" rx="9" ry="8" fill="none" stroke="#a3a3a3" stroke-width="2.6"/>
<ellipse cx="468.0" cy="100.0" rx="9" ry="8" fill="none" stroke="#fff" stroke-width="1.6"/>
<ellipse cx="467.0" cy="102.5" rx="9" ry="8" fill="none" stroke="#a3a3a3" stroke-width="2.6"/>
<ellipse cx="467.0" cy="102.5" rx="9" ry="8" fill="none" stroke="#fff" stroke-width="1.6"/>
<ellipse cx="466.0" cy="105.0" rx="9" ry="8" fill="none" stroke="#a3a3a3" stroke-width="2.6"/>
<ellipse cx="466.0" cy="105.0" rx="9" ry="8" fill="none" stroke="#fff" stroke-width="1.6"/>
<ellipse cx="465.0" cy="107.5" rx="9" ry="8" fill="none" stroke="#a3a3a3" stroke-width="2.6"/>
<ellipse cx="465.0" cy="107.5" rx="9" ry="8" fill="none" stroke="#fff" stroke-width="1.6"/>
<ellipse cx="464.0" cy="110.0" rx="9" ry="8" fill="none" stroke="#a3a3a3" stroke-width="2.6"/>
<ellipse cx="464.0" cy="110.0" rx="9" ry="8" fill="none" stroke="#fff" stroke-width="1.6"/>
<g transform="translate(360,167) rotate(-90)">
<path d="M-13.0,3.1 L-12.4,2.1 L-10.5,1.1 L-7.6,0.6 L-4.0,0.4 L-0.0,0.8 L4.0,1.6 L7.6,3.1 L10.5,4.9 L12.4,7.1 L13.0,9.4 L13.0,12.6 L12.4,10.3 L10.5,8.1 L7.6,6.3 L4.0,4.8 L-0.0,4.0 L-4.0,3.6 L-7.6,3.8 L-10.5,4.3 L-12.4,5.3 L-13.0,6.3Z" fill="#fff" stroke="#a3a3a3" stroke-width="0.5"/>
<path d="M-13.0,15.6 L-12.4,14.6 L-10.5,13.6 L-7.6,13.1 L-4.0,12.9 L-0.0,13.2 L4.0,14.1 L7.6,15.6 L10.5,17.4 L12.4,19.6 L13.0,21.9 L13.0,25.1 L12.4,22.8 L10.5,20.6 L7.6,18.8 L4.0,17.3 L-0.0,16.4 L-4.0,16.1 L-7.6,16.3 L-10.5,16.8 L-12.4,17.8 L-13.0,18.8Z" fill="#fff" stroke="#a3a3a3" stroke-width="0.5"/>
<path d="M-13.0,28.1 L-12.4,27.1 L-10.5,26.1 L-7.6,25.6 L-4.0,25.4 L-0.0,25.7 L4.0,26.6 L7.6,28.1 L10.5,29.9 L12.4,32.1 L13.0,34.4 L13.0,37.6 L12.4,35.3 L10.5,33.1 L7.6,31.3 L4.0,29.8 L-0.0,28.9 L-4.0,28.6 L-7.6,28.8 L-10.5,29.3 L-12.4,30.3 L-13.0,31.3Z" fill="#fff" stroke="#a3a3a3" stroke-width="0.5"/>
<path d="M-13.0,40.6 L-12.4,39.6 L-10.5,38.6 L-7.6,38.1 L-4.0,37.9 L0.0,38.3 L4.0,39.1 L7.6,40.6 L10.5,42.4 L12.4,44.6 L13.0,46.9 L13.0,50.1 L12.4,47.8 L10.5,45.6 L7.6,43.8 L4.0,42.3 L0.0,41.5 L-4.0,41.1 L-7.6,41.3 L-10.5,41.8 L-12.4,42.8 L-13.0,43.8Z" fill="#fff" stroke="#a3a3a3" stroke-width="0.5"/>
<path d="M-13.0,53.1 L-12.4,52.1 L-10.5,51.1 L-7.6,50.6 L-4.0,50.4 L0.0,50.8 L4.0,51.6 L7.6,53.1 L10.5,54.9 L12.4,57.1 L13.0,59.4 L13.0,62.6 L12.4,60.3 L10.5,58.1 L7.6,56.3 L4.0,54.8 L0.0,54.0 L-4.0,53.6 L-7.6,53.8 L-10.5,54.3 L-12.4,55.3 L-13.0,56.3Z" fill="#fff" stroke="#a3a3a3" stroke-width="0.5"/>
<path d="M-13.0,65.6 L-12.4,64.6 L-10.5,63.6 L-7.6,63.1 L-4.0,62.9 L-0.0,63.2 L4.0,64.1 L7.6,65.6 L10.5,67.4 L12.4,69.6 L13.0,71.9 L13.0,75.1 L12.4,72.8 L10.5,70.6 L7.6,68.8 L4.0,67.3 L-0.0,66.5 L-4.0,66.1 L-7.6,66.3 L-10.5,66.8 L-12.4,67.8 L-13.0,68.8Z" fill="#fff" stroke="#a3a3a3" stroke-width="0.5"/>
<path d="M-13.0,78.1 L-12.4,77.1 L-10.5,76.1 L-7.6,75.6 L-4.0,75.4 L0.0,75.8 L4.0,76.6 L7.6,78.1 L10.5,79.9 L12.4,82.1 L13.0,84.4 L13.0,87.6 L12.4,85.3 L10.5,83.1 L7.6,81.3 L4.0,79.8 L0.0,79.0 L-4.0,78.6 L-7.6,78.8 L-10.5,79.3 L-12.4,80.3 L-13.0,81.3Z" fill="#fff" stroke="#a3a3a3" stroke-width="0.5"/>
<path d="M13.0,-3.1 L12.4,-0.8 L10.5,1.4 L7.6,3.2 L4.0,4.6 L0.0,5.5 L-4.0,5.9 L-7.6,5.7 L-10.5,5.1 L-12.4,4.2 L-13.0,3.1 L-13.0,6.3 L-12.4,7.4 L-10.5,8.3 L-7.6,8.9 L-4.0,9.1 L0.0,8.7 L4.0,7.8 L7.6,6.4 L10.5,4.6 L12.4,2.4 L13.0,0.1Z" fill="#fff" stroke="#a3a3a3" stroke-width="0.5"/>
<path d="M13.0,9.4 L12.4,11.7 L10.5,13.9 L7.6,15.7 L4.0,17.1 L0.0,18.0 L-4.0,18.4 L-7.6,18.2 L-10.5,17.6 L-12.4,16.7 L-13.0,15.6 L-13.0,18.8 L-12.4,19.9 L-10.5,20.8 L-7.6,21.4 L-4.0,21.6 L0.0,21.2 L4.0,20.3 L7.6,18.9 L10.5,17.1 L12.4,14.9 L13.0,12.6Z" fill="#fff" stroke="#a3a3a3" stroke-width="0.5"/>
<path d="M13.0,21.9 L12.4,24.2 L10.5,26.4 L7.6,28.2 L4.0,29.6 L0.0,30.5 L-4.0,30.9 L-7.6,30.7 L-10.5,30.1 L-12.4,29.2 L-13.0,28.1 L-13.0,31.3 L-12.4,32.4 L-10.5,33.3 L-7.6,33.9 L-4.0,34.1 L0.0,33.7 L4.0,32.8 L7.6,31.4 L10.5,29.6 L12.4,27.4 L13.0,25.1Z" fill="#fff" stroke="#a3a3a3" stroke-width="0.5"/>
<path d="M13.0,34.4 L12.4,36.7 L10.5,38.9 L7.6,40.7 L4.0,42.1 L0.0,43.0 L-4.0,43.4 L-7.6,43.2 L-10.5,42.6 L-12.4,41.7 L-13.0,40.6 L-13.0,43.8 L-12.4,44.9 L-10.5,45.8 L-7.6,46.4 L-4.0,46.6 L0.0,46.2 L4.0,45.3 L7.6,43.9 L10.5,42.1 L12.4,39.9 L13.0,37.6Z" fill="#fff" stroke="#a3a3a3" stroke-width="0.5"/>
<path d="M13.0,46.9 L12.4,49.2 L10.5,51.4 L7.6,53.2 L4.0,54.6 L0.0,55.5 L-4.0,55.9 L-7.6,55.7 L-10.5,55.1 L-12.4,54.2 L-13.0,53.1 L-13.0,56.3 L-12.4,57.4 L-10.5,58.3 L-7.6,58.9 L-4.0,59.1 L0.0,58.7 L4.0,57.8 L7.6,56.4 L10.5,54.6 L12.4,52.4 L13.0,50.1Z" fill="#fff" stroke="#a3a3a3" stroke-width="0.5"/>
<path d="M13.0,59.4 L12.4,61.7 L10.5,63.9 L7.6,65.7 L4.0,67.1 L0.0,68.0 L-4.0,68.4 L-7.6,68.2 L-10.5,67.6 L-12.4,66.7 L-13.0,65.6 L-13.0,68.8 L-12.4,69.9 L-10.5,70.8 L-7.6,71.4 L-4.0,71.6 L0.0,71.2 L4.0,70.3 L7.6,68.9 L10.5,67.1 L12.4,64.9 L13.0,62.6Z" fill="#fff" stroke="#a3a3a3" stroke-width="0.5"/>
<path d="M13.0,71.9 L12.4,74.2 L10.5,76.4 L7.6,78.2 L4.0,79.6 L0.0,80.5 L-4.0,80.9 L-7.6,80.7 L-10.5,80.1 L-12.4,79.2 L-13.0,78.1 L-13.0,81.3 L-12.4,82.4 L-10.5,83.3 L-7.6,83.9 L-4.0,84.1 L0.0,83.7 L4.0,82.8 L7.6,81.4 L10.5,79.6 L12.4,77.4 L13.0,75.1Z" fill="#fff" stroke="#a3a3a3" stroke-width="0.5"/>
</g>
<g transform="translate(386,118) rotate(-8)">
<path d="M-9.0,2.7 L-8.6,3.8 L-7.3,4.7 L-5.3,5.6 L-2.8,6.4 L-0.0,7.0 L2.8,7.5 L5.3,7.8 L7.3,8.0 L8.6,8.2 L9.0,8.2 L9.0,12.2 L8.6,12.2 L7.3,12.0 L5.3,11.8 L2.8,11.5 L-0.0,11.0 L-2.8,10.4 L-5.3,9.6 L-7.3,8.7 L-8.6,7.8 L-9.0,6.8Z" fill="#fcfae2" stroke="#b8b48c" stroke-width="0.5"/>
<path d="M-9.0,13.8 L-8.6,14.8 L-7.3,15.7 L-5.3,16.6 L-2.8,17.4 L-0.0,18.0 L2.8,18.5 L5.3,18.8 L7.3,19.0 L8.6,19.2 L9.0,19.2 L9.0,23.2 L8.6,23.2 L7.3,23.0 L5.3,22.8 L2.8,22.5 L-0.0,22.0 L-2.8,21.4 L-5.3,20.6 L-7.3,19.7 L-8.6,18.8 L-9.0,17.8Z" fill="#fcfae2" stroke="#b8b48c" stroke-width="0.5"/>
<path d="M-9.0,24.8 L-8.6,25.8 L-7.3,26.7 L-5.3,27.6 L-2.8,28.4 L-0.0,29.0 L2.8,29.5 L5.3,29.8 L7.3,30.0 L8.6,30.2 L9.0,30.2 L9.0,34.2 L8.6,34.2 L7.3,34.0 L5.3,33.8 L2.8,33.5 L-0.0,33.0 L-2.8,32.4 L-5.3,31.6 L-7.3,30.7 L-8.6,29.8 L-9.0,28.8Z" fill="#fcfae2" stroke="#b8b48c" stroke-width="0.5"/>
<path d="M9.0,-2.7 L8.6,-2.7 L7.3,-2.5 L5.3,-2.3 L2.8,-2.0 L0.0,-1.5 L-2.8,-0.9 L-5.3,-0.1 L-7.3,0.8 L-8.6,1.7 L-9.0,2.7 L-9.0,6.8 L-8.6,5.7 L-7.3,4.8 L-5.3,3.9 L-2.8,3.1 L0.0,2.5 L2.8,2.0 L5.3,1.7 L7.3,1.5 L8.6,1.3 L9.0,1.3Z" fill="#fcfae2" stroke="#b8b48c" stroke-width="0.5"/>
<path d="M9.0,8.2 L8.6,8.3 L7.3,8.5 L5.3,8.7 L2.8,9.0 L0.0,9.5 L-2.8,10.1 L-5.3,10.9 L-7.3,11.8 L-8.6,12.7 L-9.0,13.8 L-9.0,17.8 L-8.6,16.7 L-7.3,15.8 L-5.3,14.9 L-2.8,14.1 L0.0,13.5 L2.8,13.0 L5.3,12.7 L7.3,12.5 L8.6,12.3 L9.0,12.2Z" fill="#fcfae2" stroke="#b8b48c" stroke-width="0.5"/>
<path d="M9.0,19.2 L8.6,19.3 L7.3,19.5 L5.3,19.7 L2.8,20.0 L0.0,20.5 L-2.8,21.1 L-5.3,21.9 L-7.3,22.8 L-8.6,23.7 L-9.0,24.8 L-9.0,28.8 L-8.6,27.7 L-7.3,26.8 L-5.3,25.9 L-2.8,25.1 L0.0,24.5 L2.8,24.0 L5.3,23.7 L7.3,23.5 L8.6,23.3 L9.0,23.2Z" fill="#fcfae2" stroke="#b8b48c" stroke-width="0.5"/>
<path d="M9.0,30.2 L8.6,30.3 L7.3,30.5 L5.3,30.7 L2.8,31.0 L0.0,31.5 L-2.8,32.1 L-5.3,32.9 L-7.3,33.8 L-8.6,34.7 L-9.0,35.7 L-9.0,39.7 L-8.6,38.7 L-7.3,37.8 L-5.3,36.9 L-2.8,36.1 L0.0,35.5 L2.8,35.0 L5.3,34.7 L7.3,34.5 L8.6,34.3 L9.0,34.2Z" fill="#fcfae2" stroke="#b8b48c" stroke-width="0.5"/>
</g>
<ellipse cx="446.0" cy="140.0" rx="10" ry="9" fill="none" stroke="#a3a3a3" stroke-width="2.6"/>
<ellipse cx="446.0" cy="140.0" rx="10" ry="9" fill="none" stroke="#fff" stroke-width="1.6"/>
<ellipse cx="447.5" cy="142.0" rx="10" ry="9" fill="none" stroke="#a3a3a3" stroke-width="2.6"/>
<ellipse cx="447.5" cy="142.0" rx="10" ry="9" fill="none" stroke="#fff" stroke-width="1.6"/>
<ellipse cx="449.0" cy="144.0" rx="10" ry="9" fill="none" stroke="#a3a3a3" stroke-width="2.6"/>
<ellipse cx="449.0" cy="144.0" rx="10" ry="9" fill="none" stroke="#fff" stroke-width="1.6"/>
<ellipse cx="450.5" cy="146.0" rx="10" ry="9" fill="none" stroke="#a3a3a3" stroke-width="2.6"/>
<ellipse cx="450.5" cy="146.0" rx="10" ry="9" fill="none" stroke="#fff" stroke-width="1.6"/>
<path d="M360,78 L400,77 M392,125 Q400,112 412,118 Q420,125 412,132" fill="none" stroke="#a3a3a3" stroke-width="3.4" stroke-linecap="round" stroke-linejoin="round"/>
<path d="M360,78 L400,77 M392,125 Q400,112 412,118 Q420,125 412,132" fill="none" stroke="#fff" stroke-width="2.4" stroke-linecap="round" stroke-linejoin="round"/>
<path d="M390,100 Q405,92 420,100" fill="none" stroke="#a3a3a3" stroke-width="3.4" stroke-linecap="round" stroke-linejoin="round"/>
<path d="M390,100 Q405,92 420,100" fill="none" stroke="#fff" stroke-width="2.4" stroke-linecap="round" stroke-linejoin="round"/>
<path d="M356,124 Q345,140 352,160 Q356,172 364,176" fill="none" stroke="#a3a3a3" stroke-width="3.4" stroke-linecap="round" stroke-linejoin="round"/>
<path d="M356,124 Q345,140 352,160 Q356,172 364,176" fill="none" stroke="#fff" stroke-width="2.4" stroke-linecap="round" stroke-linejoin="round"/>
<path d="M327.0,69.0 L327.7,72.8 L331.6,72.9 L332.6,76.9 L336.7,76.4 L337.7,80.5" fill="none" stroke="#8a8a8a" stroke-width="0.9"/>
<circle cx="327.03" cy="68.98" r="1.45" fill="#c4c4c4" stroke="#8a8a8a" stroke-width="0.4" />
<circle cx="327.69" cy="72.78" r="1.45" fill="#c4c4c4" stroke="#8a8a8a" stroke-width="0.4" />
<circle cx="331.63" cy="72.91" r="1.45" fill="#c4c4c4" stroke="#8a8a8a" stroke-width="0.4" />
<circle cx="332.55" cy="76.93" r="1.45" fill="#c4c4c4" stroke="#8a8a8a" stroke-width="0.4" />
<circle cx="336.72" cy="76.43" r="1.45" fill="#c4c4c4" stroke="#8a8a8a" stroke-width="0.4" />
<circle cx="337.73" cy="80.53" r="1.45" fill="#c4c4c4" stroke="#8a8a8a" stroke-width="0.4" />
<path d="M331.7,58.5 L333.4,62.5 L338.0,61.0 L339.6,64.9 L343.0,64.0 L344.7,66.8" fill="none" stroke="#8a8a8a" stroke-width="0.9"/>
<circle cx="331.74" cy="58.48" r="1.45" fill="#c4c4c4" stroke="#8a8a8a" stroke-width="0.4" />
<circle cx="333.38" cy="62.47" r="1.45" fill="#c4c4c4" stroke="#8a8a8a" stroke-width="0.4" />
<circle cx="338" cy="60.99" r="1.45" fill="#c4c4c4" stroke="#8a8a8a" stroke-width="0.4" />
<circle cx="339.63" cy="64.85" r="1.45" fill="#c4c4c4" stroke="#8a8a8a" stroke-width="0.4" />
<circle cx="342.98" cy="63.98" r="1.45" fill="#c4c4c4" stroke="#8a8a8a" stroke-width="0.4" />
<circle cx="344.73" cy="66.81" r="1.45" fill="#c4c4c4" stroke="#8a8a8a" stroke-width="0.4" />
<path d="M343.8,109.8 L343.2,105.2 L338.8,104.9 L337.5,100.0" fill="none" stroke="#8a8a8a" stroke-width="0.9"/>
<circle cx="343.76" cy="109.85" r="1.45" fill="#c4c4c4" stroke="#8a8a8a" stroke-width="0.4" />
<circle cx="343.19" cy="105.19" r="1.45" fill="#c4c4c4" stroke="#8a8a8a" stroke-width="0.4" />
<circle cx="338.77" cy="104.95" r="1.45" fill="#c4c4c4" stroke="#8a8a8a" stroke-width="0.4" />
<circle cx="337.49" cy="100.01" r="1.45" fill="#c4c4c4" stroke="#8a8a8a" stroke-width="0.4" />
<path d="M328.3,64.2 L330.1,67.8 L334.2,68.1 L336.0,71.6" fill="none" stroke="#8a8a8a" stroke-width="0.9"/>
<circle cx="328.27" cy="64.15" r="1.45" fill="#c4c4c4" stroke="#8a8a8a" stroke-width="0.4" />
<circle cx="330.09" cy="67.81" r="1.45" fill="#c4c4c4" stroke="#8a8a8a" stroke-width="0.4" />
<circle cx="334.19" cy="68.08" r="1.45" fill="#c4c4c4" stroke="#8a8a8a" stroke-width="0.4" />
<circle cx="336.05" cy="71.6" r="1.45" fill="#c4c4c4" stroke="#8a8a8a" stroke-width="0.4" />
<path d="M354.7,119.8 L356.9,116.0 L353.3,112.5 L355.8,108.3" fill="none" stroke="#8a8a8a" stroke-width="0.9"/>
<circle cx="354.65" cy="119.83" r="1.45" fill="#c4c4c4" stroke="#8a8a8a" stroke-width="0.4" />
<circle cx="356.87" cy="116.03" r="1.45" fill="#c4c4c4" stroke="#8a8a8a" stroke-width="0.4" />
<circle cx="353.27" cy="112.52" r="1.45" fill="#c4c4c4" stroke="#8a8a8a" stroke-width="0.4" />
<circle cx="355.82" cy="108.32" r="1.45" fill="#c4c4c4" stroke="#8a8a8a" stroke-width="0.4" />
<path d="M330.9,127.4 L333.8,130.7 L337.8,128.3 L340.3,131.3 L343.5,129.7" fill="none" stroke="#8a8a8a" stroke-width="0.9"/>
<circle cx="330.94" cy="127.37" r="1.45" fill="#c4c4c4" stroke="#8a8a8a" stroke-width="0.4" />
<circle cx="333.82" cy="130.68" r="1.45" fill="#c4c4c4" stroke="#8a8a8a" stroke-width="0.4" />
<circle cx="337.76" cy="128.28" r="1.45" fill="#c4c4c4" stroke="#8a8a8a" stroke-width="0.4" />
<circle cx="340.33" cy="131.3" r="1.45" fill="#c4c4c4" stroke="#8a8a8a" stroke-width="0.4" />
<circle cx="343.47" cy="129.75" r="1.45" fill="#c4c4c4" stroke="#8a8a8a" stroke-width="0.4" />
<path d="M335.0,64.4 L331.3,66.1 L331.4,69.8 L327.4,71.7 L328.1,75.7" fill="none" stroke="#8a8a8a" stroke-width="0.9"/>
<circle cx="334.98" cy="64.44" r="1.45" fill="#c4c4c4" stroke="#8a8a8a" stroke-width="0.4" />
<circle cx="331.31" cy="66.05" r="1.45" fill="#c4c4c4" stroke="#8a8a8a" stroke-width="0.4" />
<circle cx="331.41" cy="69.8" r="1.45" fill="#c4c4c4" stroke="#8a8a8a" stroke-width="0.4" />
<circle cx="327.37" cy="71.72" r="1.45" fill="#c4c4c4" stroke="#8a8a8a" stroke-width="0.4" />
<circle cx="328.12" cy="75.7" r="1.45" fill="#c4c4c4" stroke="#8a8a8a" stroke-width="0.4" />
<path d="M343.7,88.5 L340.0,90.3 L340.9,94.0 L337.4,95.9 L338.4,99.6" fill="none" stroke="#8a8a8a" stroke-width="0.9"/>
<circle cx="343.74" cy="88.54" r="1.45" fill="#c4c4c4" stroke="#8a8a8a" stroke-width="0.4" />
<circle cx="339.99" cy="90.29" r="1.45" fill="#c4c4c4" stroke="#8a8a8a" stroke-width="0.4" />
<circle cx="340.87" cy="93.98" r="1.45" fill="#c4c4c4" stroke="#8a8a8a" stroke-width="0.4" />
<circle cx="337.42" cy="95.94" r="1.45" fill="#c4c4c4" stroke="#8a8a8a" stroke-width="0.4" />
<circle cx="338.41" cy="99.63" r="1.45" fill="#c4c4c4" stroke="#8a8a8a" stroke-width="0.4" />
<path d="M339.3,112.4 L338.1,115.8 L342.0,118.5 L340.9,122.3" fill="none" stroke="#8a8a8a" stroke-width="0.9"/>
<circle cx="339.31" cy="112.36" r="1.45" fill="#c4c4c4" stroke="#8a8a8a" stroke-width="0.4" />
<circle cx="338.1" cy="115.79" r="1.45" fill="#c4c4c4" stroke="#8a8a8a" stroke-width="0.4" />
<circle cx="341.96" cy="118.51" r="1.45" fill="#c4c4c4" stroke="#8a8a8a" stroke-width="0.4" />
<circle cx="340.9" cy="122.34" r="1.45" fill="#c4c4c4" stroke="#8a8a8a" stroke-width="0.4" />
<path d="M338.3,107.6 L336.3,111.0 L339.5,113.1 L338.0,117.4 L340.9,119.9" fill="none" stroke="#8a8a8a" stroke-width="0.9"/>
<circle cx="338.29" cy="107.56" r="1.45" fill="#c4c4c4" stroke="#8a8a8a" stroke-width="0.4" />
<circle cx="336.26" cy="110.96" r="1.45" fill="#c4c4c4" stroke="#8a8a8a" stroke-width="0.4" />
<circle cx="339.49" cy="113.1" r="1.45" fill="#c4c4c4" stroke="#8a8a8a" stroke-width="0.4" />
<circle cx="337.99" cy="117.43" r="1.45" fill="#c4c4c4" stroke="#8a8a8a" stroke-width="0.4" />
<circle cx="340.89" cy="119.94" r="1.45" fill="#c4c4c4" stroke="#8a8a8a" stroke-width="0.4" />
<path d="M339.8,86.6 L337.1,90.2 L340.5,93.1 L338.5,96.9 L341.0,99.3" fill="none" stroke="#8a8a8a" stroke-width="0.9"/>
<circle cx="339.81" cy="86.62" r="1.45" fill="#c4c4c4" stroke="#8a8a8a" stroke-width="0.4" />
<circle cx="337.1" cy="90.24" r="1.45" fill="#c4c4c4" stroke="#8a8a8a" stroke-width="0.4" />
<circle cx="340.49" cy="93.05" r="1.45" fill="#c4c4c4" stroke="#8a8a8a" stroke-width="0.4" />
<circle cx="338.46" cy="96.89" r="1.45" fill="#c4c4c4" stroke="#8a8a8a" stroke-width="0.4" />
<circle cx="341" cy="99.28" r="1.45" fill="#c4c4c4" stroke="#8a8a8a" stroke-width="0.4" />
<path d="M365.4,115.4 L361.5,117.4 L362.7,121.9 L358.2,124.5 L359.7,128.8" fill="none" stroke="#8a8a8a" stroke-width="0.9"/>
<circle cx="365.38" cy="115.44" r="1.45" fill="#c4c4c4" stroke="#8a8a8a" stroke-width="0.4" />
<circle cx="361.52" cy="117.37" r="1.45" fill="#c4c4c4" stroke="#8a8a8a" stroke-width="0.4" />
<circle cx="362.7" cy="121.94" r="1.45" fill="#c4c4c4" stroke="#8a8a8a" stroke-width="0.4" />
<circle cx="358.21" cy="124.49" r="1.45" fill="#c4c4c4" stroke="#8a8a8a" stroke-width="0.4" />
<circle cx="359.68" cy="128.8" r="1.45" fill="#c4c4c4" stroke="#8a8a8a" stroke-width="0.4" />
<path d="M356.0,121.5 L353.6,118.0 L350.3,120.6 L347.1,118.2 L343.4,120.0 L340.8,116.9" fill="none" stroke="#8a8a8a" stroke-width="0.9"/>
<circle cx="355.96" cy="121.48" r="1.45" fill="#c4c4c4" stroke="#8a8a8a" stroke-width="0.4" />
<circle cx="353.61" cy="118.04" r="1.45" fill="#c4c4c4" stroke="#8a8a8a" stroke-width="0.4" />
<circle cx="350.34" cy="120.6" r="1.45" fill="#c4c4c4" stroke="#8a8a8a" stroke-width="0.4" />
<circle cx="347.08" cy="118.19" r="1.45" fill="#c4c4c4" stroke="#8a8a8a" stroke-width="0.4" />
<circle cx="343.36" cy="119.96" r="1.45" fill="#c4c4c4" stroke="#8a8a8a" stroke-width="0.4" />
<circle cx="340.82" cy="116.93" r="1.45" fill="#c4c4c4" stroke="#8a8a8a" stroke-width="0.4" />
<path d="M344.8,120.6 L341.3,117.9 L338.3,120.9 L334.1,118.1" fill="none" stroke="#8a8a8a" stroke-width="0.9"/>
<circle cx="344.8" cy="120.62" r="1.45" fill="#c4c4c4" stroke="#8a8a8a" stroke-width="0.4" />
<circle cx="341.31" cy="117.91" r="1.45" fill="#c4c4c4" stroke="#8a8a8a" stroke-width="0.4" />
<circle cx="338.29" cy="120.95" r="1.45" fill="#c4c4c4" stroke="#8a8a8a" stroke-width="0.4" />
<circle cx="334.08" cy="118.12" r="1.45" fill="#c4c4c4" stroke="#8a8a8a" stroke-width="0.4" />
<path d="M326.0,59.0 L321.8,61.5 L323.8,65.6 L320.3,67.3 L321.7,71.4" fill="none" stroke="#8a8a8a" stroke-width="0.9"/>
<circle cx="325.97" cy="59" r="1.45" fill="#c4c4c4" stroke="#8a8a8a" stroke-width="0.4" />
<circle cx="321.77" cy="61.47" r="1.45" fill="#c4c4c4" stroke="#8a8a8a" stroke-width="0.4" />
<circle cx="323.78" cy="65.65" r="1.45" fill="#c4c4c4" stroke="#8a8a8a" stroke-width="0.4" />
<circle cx="320.28" cy="67.3" r="1.45" fill="#c4c4c4" stroke="#8a8a8a" stroke-width="0.4" />
<circle cx="321.71" cy="71.39" r="1.45" fill="#c4c4c4" stroke="#8a8a8a" stroke-width="0.4" />
<path d="M346.6,126.2 L348.0,122.6 L345.3,120.1 L347.4,116.6" fill="none" stroke="#8a8a8a" stroke-width="0.9"/>
<circle cx="346.57" cy="126.24" r="1.45" fill="#c4c4c4" stroke="#8a8a8a" stroke-width="0.4" />
<circle cx="348.04" cy="122.62" r="1.45" fill="#c4c4c4" stroke="#8a8a8a" stroke-width="0.4" />
<circle cx="345.32" cy="120.12" r="1.45" fill="#c4c4c4" stroke="#8a8a8a" stroke-width="0.4" />
<circle cx="347.41" cy="116.56" r="1.45" fill="#c4c4c4" stroke="#8a8a8a" stroke-width="0.4" />
<path d="M351.5,69.2 L351.6,74.2 L356.3,74.3 L356.4,79.2 L361.1,79.6" fill="none" stroke="#8a8a8a" stroke-width="0.9"/>
<circle cx="351.48" cy="69.18" r="1.45" fill="#c4c4c4" stroke="#8a8a8a" stroke-width="0.4" />
<circle cx="351.6" cy="74.24" r="1.45" fill="#c4c4c4" stroke="#8a8a8a" stroke-width="0.4" />
<circle cx="356.32" cy="74.29" r="1.45" fill="#c4c4c4" stroke="#8a8a8a" stroke-width="0.4" />
<circle cx="356.38" cy="79.17" r="1.45" fill="#c4c4c4" stroke="#8a8a8a" stroke-width="0.4" />
<circle cx="361.1" cy="79.55" r="1.45" fill="#c4c4c4" stroke="#8a8a8a" stroke-width="0.4" />
<path d="M336.7,81.8 L332.9,81.3 L331.4,85.2 L327.9,84.6" fill="none" stroke="#8a8a8a" stroke-width="0.9"/>
<circle cx="336.69" cy="81.84" r="1.45" fill="#c4c4c4" stroke="#8a8a8a" stroke-width="0.4" />
<circle cx="332.9" cy="81.31" r="1.45" fill="#c4c4c4" stroke="#8a8a8a" stroke-width="0.4" />
<circle cx="331.39" cy="85.25" r="1.45" fill="#c4c4c4" stroke="#8a8a8a" stroke-width="0.4" />
<circle cx="327.9" cy="84.58" r="1.45" fill="#c4c4c4" stroke="#8a8a8a" stroke-width="0.4" />
<path d="M350.7,75.7 L348.9,72.2 L344.3,73.1 L342.4,69.0" fill="none" stroke="#8a8a8a" stroke-width="0.9"/>
<circle cx="350.71" cy="75.73" r="1.45" fill="#c4c4c4" stroke="#8a8a8a" stroke-width="0.4" />
<circle cx="348.92" cy="72.2" r="1.45" fill="#c4c4c4" stroke="#8a8a8a" stroke-width="0.4" />
<circle cx="344.27" cy="73.11" r="1.45" fill="#c4c4c4" stroke="#8a8a8a" stroke-width="0.4" />
<circle cx="342.44" cy="69" r="1.45" fill="#c4c4c4" stroke="#8a8a8a" stroke-width="0.4" />
<path d="M346.7,90.6 L349.9,94.3 L354.1,93.8 L356.1,97.4" fill="none" stroke="#8a8a8a" stroke-width="0.9"/>
<circle cx="346.75" cy="90.62" r="1.45" fill="#c4c4c4" stroke="#8a8a8a" stroke-width="0.4" />
<circle cx="349.88" cy="94.35" r="1.45" fill="#c4c4c4" stroke="#8a8a8a" stroke-width="0.4" />
<circle cx="354.12" cy="93.82" r="1.45" fill="#c4c4c4" stroke="#8a8a8a" stroke-width="0.4" />
<circle cx="356.13" cy="97.44" r="1.45" fill="#c4c4c4" stroke="#8a8a8a" stroke-width="0.4" />
<path d="M327.0,128.0 L324.8,131.9 L327.0,135.6" fill="none" stroke="#8a8a8a" stroke-width="0.9"/>
<circle cx="326.96" cy="127.97" r="1.45" fill="#c4c4c4" stroke="#8a8a8a" stroke-width="0.4" />
<circle cx="324.81" cy="131.89" r="1.45" fill="#c4c4c4" stroke="#8a8a8a" stroke-width="0.4" />
<circle cx="327.04" cy="135.62" r="1.45" fill="#c4c4c4" stroke="#8a8a8a" stroke-width="0.4" />
<path d="M360.7,64.1 L355.9,65.4 L356.1,69.0 L351.4,70.5" fill="none" stroke="#8a8a8a" stroke-width="0.9"/>
<circle cx="360.65" cy="64.09" r="1.45" fill="#c4c4c4" stroke="#8a8a8a" stroke-width="0.4" />
<circle cx="355.91" cy="65.39" r="1.45" fill="#c4c4c4" stroke="#8a8a8a" stroke-width="0.4" />
<circle cx="356.08" cy="68.99" r="1.45" fill="#c4c4c4" stroke="#8a8a8a" stroke-width="0.4" />
<circle cx="351.4" cy="70.5" r="1.45" fill="#c4c4c4" stroke="#8a8a8a" stroke-width="0.4" />
<line x1="335.8" y1="88" x2="339.05" y2="89" stroke="#999" stroke-width="0.8" />
<circle cx="339.05" cy="89" r="1.4" fill="#f01818" stroke="#b01010" stroke-width="0.3" />
<line x1="335.8" y1="88" x2="334.7" y2="91.22" stroke="#999" stroke-width="0.8" />
<circle cx="334.7" cy="91.22" r="1.4" fill="#f01818" stroke="#b01010" stroke-width="0.3" />
<line x1="335.8" y1="88" x2="332.51" y2="87.13" stroke="#999" stroke-width="0.8" />
<circle cx="332.51" cy="87.13" r="1.4" fill="#f01818" stroke="#b01010" stroke-width="0.3" />
<line x1="335.8" y1="88" x2="336.43" y2="84.66" stroke="#999" stroke-width="0.8" />
<circle cx="336.43" cy="84.66" r="1.4" fill="#f01818" stroke="#b01010" stroke-width="0.3" />
<circle cx="335.8" cy="88" r="2.1" fill="#f7941d" stroke="#c06a10" stroke-width="0.3" />
<line x1="353.6" y1="113.5" x2="356.85" y2="114.5" stroke="#999" stroke-width="0.8" />
<circle cx="356.85" cy="114.5" r="1.4" fill="#f01818" stroke="#b01010" stroke-width="0.3" />
<line x1="353.6" y1="113.5" x2="352.5" y2="116.72" stroke="#999" stroke-width="0.8" />
<circle cx="352.5" cy="116.72" r="1.4" fill="#f01818" stroke="#b01010" stroke-width="0.3" />
<line x1="353.6" y1="113.5" x2="350.31" y2="112.63" stroke="#999" stroke-width="0.8" />
<circle cx="350.31" cy="112.63" r="1.4" fill="#f01818" stroke="#b01010" stroke-width="0.3" />
<line x1="353.6" y1="113.5" x2="354.23" y2="110.16" stroke="#999" stroke-width="0.8" />
<circle cx="354.23" cy="110.16" r="1.4" fill="#f01818" stroke="#b01010" stroke-width="0.3" />
<circle cx="353.6" cy="113.5" r="2.1" fill="#f7941d" stroke="#c06a10" stroke-width="0.3" />
<circle cx="330" cy="80" r="1.6" fill="#f01818" stroke="#b01010" stroke-width="0.3" />
<circle cx="340" cy="80" r="1.6" fill="#f01818" stroke="#b01010" stroke-width="0.3" />
<circle cx="342" cy="94" r="1.6" fill="#f01818" stroke="#b01010" stroke-width="0.3" />
<circle cx="330" cy="98" r="1.6" fill="#f01818" stroke="#b01010" stroke-width="0.3" />
<circle cx="326" cy="118" r="1.6" fill="#f01818" stroke="#b01010" stroke-width="0.3" />
<circle cx="340" cy="126" r="1.6" fill="#f01818" stroke="#b01010" stroke-width="0.3" />
<circle cx="360" cy="120" r="1.6" fill="#f01818" stroke="#b01010" stroke-width="0.3" />
<circle cx="346" cy="108" r="1.6" fill="#f01818" stroke="#b01010" stroke-width="0.3" />
<circle cx="336" cy="70" r="1.6" fill="#f01818" stroke="#b01010" stroke-width="0.3" />
<circle cx="322" cy="90" r="1.6" fill="#f01818" stroke="#b01010" stroke-width="0.3" />
<circle cx="328" cy="108" r="1.6" fill="#f01818" stroke="#b01010" stroke-width="0.3" />
<path d="M456.8,70.8 L453.6,72.5 L454.2,76.1 L450.9,77.6 L452.5,80.7 L448.4,82.7" fill="none" stroke="#8a8a8a" stroke-width="0.9"/>
<circle cx="456.83" cy="70.83" r="1.45" fill="#c4c4c4" stroke="#8a8a8a" stroke-width="0.4" />
<circle cx="453.64" cy="72.5" r="1.45" fill="#c4c4c4" stroke="#8a8a8a" stroke-width="0.4" />
<circle cx="454.25" cy="76.07" r="1.45" fill="#c4c4c4" stroke="#8a8a8a" stroke-width="0.4" />
<circle cx="450.94" cy="77.59" r="1.45" fill="#c4c4c4" stroke="#8a8a8a" stroke-width="0.4" />
<circle cx="452.48" cy="80.69" r="1.45" fill="#c4c4c4" stroke="#8a8a8a" stroke-width="0.4" />
<circle cx="448.38" cy="82.67" r="1.45" fill="#c4c4c4" stroke="#8a8a8a" stroke-width="0.4" />
<path d="M471.2,46.0 L474.8,48.9 L477.6,45.6 L481.7,48.4" fill="none" stroke="#8a8a8a" stroke-width="0.9"/>
<circle cx="471.21" cy="45.97" r="1.45" fill="#c4c4c4" stroke="#8a8a8a" stroke-width="0.4" />
<circle cx="474.76" cy="48.95" r="1.45" fill="#c4c4c4" stroke="#8a8a8a" stroke-width="0.4" />
<circle cx="477.64" cy="45.56" r="1.45" fill="#c4c4c4" stroke="#8a8a8a" stroke-width="0.4" />
<circle cx="481.73" cy="48.4" r="1.45" fill="#c4c4c4" stroke="#8a8a8a" stroke-width="0.4" />
<path d="M475.1,49.9 L478.4,48.0 L477.5,45.1 L481.1,42.3 L479.3,39.0 L483.1,36.7" fill="none" stroke="#8a8a8a" stroke-width="0.9"/>
<circle cx="475.14" cy="49.94" r="1.45" fill="#c4c4c4" stroke="#8a8a8a" stroke-width="0.4" />
<circle cx="478.39" cy="47.97" r="1.45" fill="#c4c4c4" stroke="#8a8a8a" stroke-width="0.4" />
<circle cx="477.52" cy="45.09" r="1.45" fill="#c4c4c4" stroke="#8a8a8a" stroke-width="0.4" />
<circle cx="481.12" cy="42.3" r="1.45" fill="#c4c4c4" stroke="#8a8a8a" stroke-width="0.4" />
<circle cx="479.31" cy="39" r="1.45" fill="#c4c4c4" stroke="#8a8a8a" stroke-width="0.4" />
<circle cx="483.05" cy="36.72" r="1.45" fill="#c4c4c4" stroke="#8a8a8a" stroke-width="0.4" />
<path d="M478.6,56.1 L475.2,53.7 L472.2,56.4 L469.2,53.3" fill="none" stroke="#8a8a8a" stroke-width="0.9"/>
<circle cx="478.63" cy="56.07" r="1.45" fill="#c4c4c4" stroke="#8a8a8a" stroke-width="0.4" />
<circle cx="475.19" cy="53.71" r="1.45" fill="#c4c4c4" stroke="#8a8a8a" stroke-width="0.4" />
<circle cx="472.19" cy="56.43" r="1.45" fill="#c4c4c4" stroke="#8a8a8a" stroke-width="0.4" />
<circle cx="469.19" cy="53.33" r="1.45" fill="#c4c4c4" stroke="#8a8a8a" stroke-width="0.4" />
<path d="M439.9,48.7 L436.0,49.2 L436.7,52.9" fill="none" stroke="#8a8a8a" stroke-width="0.9"/>
<circle cx="439.95" cy="48.7" r="1.45" fill="#c4c4c4" stroke="#8a8a8a" stroke-width="0.4" />
<circle cx="436.02" cy="49.21" r="1.45" fill="#c4c4c4" stroke="#8a8a8a" stroke-width="0.4" />
<circle cx="436.71" cy="52.88" r="1.45" fill="#c4c4c4" stroke="#8a8a8a" stroke-width="0.4" />
<path d="M464.0,65.5 L462.2,61.1 L458.8,61.5 L457.8,56.8 L453.4,56.5 L452.1,52.6" fill="none" stroke="#8a8a8a" stroke-width="0.9"/>
<circle cx="463.97" cy="65.48" r="1.45" fill="#c4c4c4" stroke="#8a8a8a" stroke-width="0.4" />
<circle cx="462.17" cy="61.09" r="1.45" fill="#c4c4c4" stroke="#8a8a8a" stroke-width="0.4" />
<circle cx="458.76" cy="61.49" r="1.45" fill="#c4c4c4" stroke="#8a8a8a" stroke-width="0.4" />
<circle cx="457.8" cy="56.78" r="1.45" fill="#c4c4c4" stroke="#8a8a8a" stroke-width="0.4" />
<circle cx="453.4" cy="56.47" r="1.45" fill="#c4c4c4" stroke="#8a8a8a" stroke-width="0.4" />
<circle cx="452.13" cy="52.61" r="1.45" fill="#c4c4c4" stroke="#8a8a8a" stroke-width="0.4" />
<path d="M486.8,85.1 L490.1,82.4 L489.2,78.5" fill="none" stroke="#8a8a8a" stroke-width="0.9"/>
<circle cx="486.83" cy="85.12" r="1.45" fill="#c4c4c4" stroke="#8a8a8a" stroke-width="0.4" />
<circle cx="490.11" cy="82.36" r="1.45" fill="#c4c4c4" stroke="#8a8a8a" stroke-width="0.4" />
<circle cx="489.16" cy="78.45" r="1.45" fill="#c4c4c4" stroke="#8a8a8a" stroke-width="0.4" />
<path d="M461.6,85.9 L465.9,85.8 L465.8,82.3 L469.6,82.0 L470.3,78.2 L474.1,78.3 L474.7,74.0" fill="none" stroke="#8a8a8a" stroke-width="0.9"/>
<circle cx="461.62" cy="85.88" r="1.45" fill="#c4c4c4" stroke="#8a8a8a" stroke-width="0.4" />
<circle cx="465.86" cy="85.84" r="1.45" fill="#c4c4c4" stroke="#8a8a8a" stroke-width="0.4" />
<circle cx="465.76" cy="82.31" r="1.45" fill="#c4c4c4" stroke="#8a8a8a" stroke-width="0.4" />
<circle cx="469.62" cy="82.01" r="1.45" fill="#c4c4c4" stroke="#8a8a8a" stroke-width="0.4" />
<circle cx="470.3" cy="78.25" r="1.45" fill="#c4c4c4" stroke="#8a8a8a" stroke-width="0.4" />
<circle cx="474.13" cy="78.27" r="1.45" fill="#c4c4c4" stroke="#8a8a8a" stroke-width="0.4" />
<circle cx="474.73" cy="74.02" r="1.45" fill="#c4c4c4" stroke="#8a8a8a" stroke-width="0.4" />
<path d="M480.8,34.6 L477.6,31.6 L474.1,33.6 L471.1,30.8 L467.6,32.0" fill="none" stroke="#8a8a8a" stroke-width="0.9"/>
<circle cx="480.8" cy="34.56" r="1.45" fill="#c4c4c4" stroke="#8a8a8a" stroke-width="0.4" />
<circle cx="477.63" cy="31.56" r="1.45" fill="#c4c4c4" stroke="#8a8a8a" stroke-width="0.4" />
<circle cx="474.08" cy="33.65" r="1.45" fill="#c4c4c4" stroke="#8a8a8a" stroke-width="0.4" />
<circle cx="471.13" cy="30.76" r="1.45" fill="#c4c4c4" stroke="#8a8a8a" stroke-width="0.4" />
<circle cx="467.62" cy="32" r="1.45" fill="#c4c4c4" stroke="#8a8a8a" stroke-width="0.4" />
<path d="M458.5,113.5 L461.5,116.3 L464.8,114.1 L468.4,116.5 L471.9,114.3" fill="none" stroke="#8a8a8a" stroke-width="0.9"/>
<circle cx="458.48" cy="113.53" r="1.45" fill="#c4c4c4" stroke="#8a8a8a" stroke-width="0.4" />
<circle cx="461.48" cy="116.29" r="1.45" fill="#c4c4c4" stroke="#8a8a8a" stroke-width="0.4" />
<circle cx="464.78" cy="114.09" r="1.45" fill="#c4c4c4" stroke="#8a8a8a" stroke-width="0.4" />
<circle cx="468.43" cy="116.55" r="1.45" fill="#c4c4c4" stroke="#8a8a8a" stroke-width="0.4" />
<circle cx="471.93" cy="114.3" r="1.45" fill="#c4c4c4" stroke="#8a8a8a" stroke-width="0.4" />
<path d="M477.2,32.0 L478.8,36.2 L483.2,35.3 L484.9,39.2" fill="none" stroke="#8a8a8a" stroke-width="0.9"/>
<circle cx="477.19" cy="31.98" r="1.45" fill="#c4c4c4" stroke="#8a8a8a" stroke-width="0.4" />
<circle cx="478.84" cy="36.15" r="1.45" fill="#c4c4c4" stroke="#8a8a8a" stroke-width="0.4" />
<circle cx="483.18" cy="35.34" r="1.45" fill="#c4c4c4" stroke="#8a8a8a" stroke-width="0.4" />
<circle cx="484.95" cy="39.24" r="1.45" fill="#c4c4c4" stroke="#8a8a8a" stroke-width="0.4" />
<path d="M490.6,103.7 L486.4,105.1 L487.0,109.6 L482.8,112.1" fill="none" stroke="#8a8a8a" stroke-width="0.9"/>
<circle cx="490.61" cy="103.74" r="1.45" fill="#c4c4c4" stroke="#8a8a8a" stroke-width="0.4" />
<circle cx="486.38" cy="105.07" r="1.45" fill="#c4c4c4" stroke="#8a8a8a" stroke-width="0.4" />
<circle cx="487.04" cy="109.57" r="1.45" fill="#c4c4c4" stroke="#8a8a8a" stroke-width="0.4" />
<circle cx="482.85" cy="112.13" r="1.45" fill="#c4c4c4" stroke="#8a8a8a" stroke-width="0.4" />
<path d="M487.0,84.5 L486.9,88.0 L490.6,87.0" fill="none" stroke="#8a8a8a" stroke-width="0.9"/>
<circle cx="487.01" cy="84.46" r="1.45" fill="#c4c4c4" stroke="#8a8a8a" stroke-width="0.4" />
<circle cx="486.86" cy="88.04" r="1.45" fill="#c4c4c4" stroke="#8a8a8a" stroke-width="0.4" />
<circle cx="490.6" cy="86.98" r="1.45" fill="#c4c4c4" stroke="#8a8a8a" stroke-width="0.4" />
<path d="M490.4,110.6 L488.1,114.2 L491.2,117.1" fill="none" stroke="#8a8a8a" stroke-width="0.9"/>
<circle cx="490.35" cy="110.6" r="1.45" fill="#c4c4c4" stroke="#8a8a8a" stroke-width="0.4" />
<circle cx="488.15" cy="114.2" r="1.45" fill="#c4c4c4" stroke="#8a8a8a" stroke-width="0.4" />
<circle cx="491.23" cy="117.14" r="1.45" fill="#c4c4c4" stroke="#8a8a8a" stroke-width="0.4" />
<path d="M454.2,93.1 L455.5,96.2 L459.0,95.4 L461.4,99.3" fill="none" stroke="#8a8a8a" stroke-width="0.9"/>
<circle cx="454.17" cy="93.12" r="1.45" fill="#c4c4c4" stroke="#8a8a8a" stroke-width="0.4" />
<circle cx="455.51" cy="96.23" r="1.45" fill="#c4c4c4" stroke="#8a8a8a" stroke-width="0.4" />
<circle cx="458.96" cy="95.41" r="1.45" fill="#c4c4c4" stroke="#8a8a8a" stroke-width="0.4" />
<circle cx="461.42" cy="99.33" r="1.45" fill="#c4c4c4" stroke="#8a8a8a" stroke-width="0.4" />
<path d="M486.8,47.7 L482.6,47.6 L480.2,51.5 L476.4,51.2 L475.4,54.9" fill="none" stroke="#8a8a8a" stroke-width="0.9"/>
<circle cx="486.8" cy="47.75" r="1.45" fill="#c4c4c4" stroke="#8a8a8a" stroke-width="0.4" />
<circle cx="482.64" cy="47.56" r="1.45" fill="#c4c4c4" stroke="#8a8a8a" stroke-width="0.4" />
<circle cx="480.25" cy="51.46" r="1.45" fill="#c4c4c4" stroke="#8a8a8a" stroke-width="0.4" />
<circle cx="476.4" cy="51.17" r="1.45" fill="#c4c4c4" stroke="#8a8a8a" stroke-width="0.4" />
<circle cx="475.4" cy="54.93" r="1.45" fill="#c4c4c4" stroke="#8a8a8a" stroke-width="0.4" />
<path d="M472.2,62.4 L475.1,59.9 L472.9,56.4 L476.0,54.3" fill="none" stroke="#8a8a8a" stroke-width="0.9"/>
<circle cx="472.2" cy="62.35" r="1.45" fill="#c4c4c4" stroke="#8a8a8a" stroke-width="0.4" />
<circle cx="475.14" cy="59.89" r="1.45" fill="#c4c4c4" stroke="#8a8a8a" stroke-width="0.4" />
<circle cx="472.88" cy="56.41" r="1.45" fill="#c4c4c4" stroke="#8a8a8a" stroke-width="0.4" />
<circle cx="475.98" cy="54.34" r="1.45" fill="#c4c4c4" stroke="#8a8a8a" stroke-width="0.4" />
<path d="M463.4,64.2 L461.7,60.8 L457.5,61.4 L455.6,57.1 L452.0,58.3 L449.8,54.0" fill="none" stroke="#8a8a8a" stroke-width="0.9"/>
<circle cx="463.35" cy="64.21" r="1.45" fill="#c4c4c4" stroke="#8a8a8a" stroke-width="0.4" />
<circle cx="461.71" cy="60.81" r="1.45" fill="#c4c4c4" stroke="#8a8a8a" stroke-width="0.4" />
<circle cx="457.45" cy="61.37" r="1.45" fill="#c4c4c4" stroke="#8a8a8a" stroke-width="0.4" />
<circle cx="455.6" cy="57.14" r="1.45" fill="#c4c4c4" stroke="#8a8a8a" stroke-width="0.4" />
<circle cx="451.99" cy="58.29" r="1.45" fill="#c4c4c4" stroke="#8a8a8a" stroke-width="0.4" />
<circle cx="449.75" cy="53.98" r="1.45" fill="#c4c4c4" stroke="#8a8a8a" stroke-width="0.4" />
<path d="M479.4,62.3 L481.6,59.1 L477.9,56.2 L479.6,52.9 L476.3,50.0" fill="none" stroke="#8a8a8a" stroke-width="0.9"/>
<circle cx="479.39" cy="62.31" r="1.45" fill="#c4c4c4" stroke="#8a8a8a" stroke-width="0.4" />
<circle cx="481.64" cy="59.11" r="1.45" fill="#c4c4c4" stroke="#8a8a8a" stroke-width="0.4" />
<circle cx="477.94" cy="56.21" r="1.45" fill="#c4c4c4" stroke="#8a8a8a" stroke-width="0.4" />
<circle cx="479.61" cy="52.92" r="1.45" fill="#c4c4c4" stroke="#8a8a8a" stroke-width="0.4" />
<circle cx="476.29" cy="50" r="1.45" fill="#c4c4c4" stroke="#8a8a8a" stroke-width="0.4" />
<path d="M481.0,32.0 L480.0,29.0 L476.9,29.4" fill="none" stroke="#8a8a8a" stroke-width="0.9"/>
<circle cx="481.05" cy="32.04" r="1.45" fill="#c4c4c4" stroke="#8a8a8a" stroke-width="0.4" />
<circle cx="480" cy="28.98" r="1.45" fill="#c4c4c4" stroke="#8a8a8a" stroke-width="0.4" />
<circle cx="476.91" cy="29.36" r="1.45" fill="#c4c4c4" stroke="#8a8a8a" stroke-width="0.4" />
<path d="M442.6,98.4 L440.3,102.4 L443.9,105.2 L442.4,108.8" fill="none" stroke="#8a8a8a" stroke-width="0.9"/>
<circle cx="442.58" cy="98.42" r="1.45" fill="#c4c4c4" stroke="#8a8a8a" stroke-width="0.4" />
<circle cx="440.28" cy="102.35" r="1.45" fill="#c4c4c4" stroke="#8a8a8a" stroke-width="0.4" />
<circle cx="443.94" cy="105.24" r="1.45" fill="#c4c4c4" stroke="#8a8a8a" stroke-width="0.4" />
<circle cx="442.39" cy="108.81" r="1.45" fill="#c4c4c4" stroke="#8a8a8a" stroke-width="0.4" />
<path d="M454.7,114.1 L456.0,109.5 L452.5,106.8 L454.5,102.4" fill="none" stroke="#8a8a8a" stroke-width="0.9"/>
<circle cx="454.74" cy="114.07" r="1.45" fill="#c4c4c4" stroke="#8a8a8a" stroke-width="0.4" />
<circle cx="455.98" cy="109.52" r="1.45" fill="#c4c4c4" stroke="#8a8a8a" stroke-width="0.4" />
<circle cx="452.48" cy="106.75" r="1.45" fill="#c4c4c4" stroke="#8a8a8a" stroke-width="0.4" />
<circle cx="454.54" cy="102.43" r="1.45" fill="#c4c4c4" stroke="#8a8a8a" stroke-width="0.4" />
<path d="M449.6,40.9 L446.0,39.3 L442.3,42.2 L439.2,39.7" fill="none" stroke="#8a8a8a" stroke-width="0.9"/>
<circle cx="449.56" cy="40.91" r="1.45" fill="#c4c4c4" stroke="#8a8a8a" stroke-width="0.4" />
<circle cx="445.98" cy="39.26" r="1.45" fill="#c4c4c4" stroke="#8a8a8a" stroke-width="0.4" />
<circle cx="442.32" cy="42.17" r="1.45" fill="#c4c4c4" stroke="#8a8a8a" stroke-width="0.4" />
<circle cx="439.21" cy="39.67" r="1.45" fill="#c4c4c4" stroke="#8a8a8a" stroke-width="0.4" />
<path d="M465.5,95.6 L462.6,91.7 L459.8,93.9 L457.4,90.6 L453.6,92.7 L451.6,90.1" fill="none" stroke="#8a8a8a" stroke-width="0.9"/>
<circle cx="465.5" cy="95.6" r="1.45" fill="#c4c4c4" stroke="#8a8a8a" stroke-width="0.4" />
<circle cx="462.55" cy="91.71" r="1.45" fill="#c4c4c4" stroke="#8a8a8a" stroke-width="0.4" />
<circle cx="459.82" cy="93.93" r="1.45" fill="#c4c4c4" stroke="#8a8a8a" stroke-width="0.4" />
<circle cx="457.38" cy="90.63" r="1.45" fill="#c4c4c4" stroke="#8a8a8a" stroke-width="0.4" />
<circle cx="453.63" cy="92.68" r="1.45" fill="#c4c4c4" stroke="#8a8a8a" stroke-width="0.4" />
<circle cx="451.62" cy="90.08" r="1.45" fill="#c4c4c4" stroke="#8a8a8a" stroke-width="0.4" />
<line x1="445.6" y1="110.4" x2="448.85" y2="111.4" stroke="#999" stroke-width="0.8" />
<circle cx="448.85" cy="111.4" r="1.4" fill="#f01818" stroke="#b01010" stroke-width="0.3" />
<line x1="445.6" y1="110.4" x2="444.5" y2="113.62" stroke="#999" stroke-width="0.8" />
<circle cx="444.5" cy="113.62" r="1.4" fill="#f01818" stroke="#b01010" stroke-width="0.3" />
<line x1="445.6" y1="110.4" x2="442.31" y2="109.53" stroke="#999" stroke-width="0.8" />
<circle cx="442.31" cy="109.53" r="1.4" fill="#f01818" stroke="#b01010" stroke-width="0.3" />
<line x1="445.6" y1="110.4" x2="446.23" y2="107.06" stroke="#999" stroke-width="0.8" />
<circle cx="446.23" cy="107.06" r="1.4" fill="#f01818" stroke="#b01010" stroke-width="0.3" />
<circle cx="445.6" cy="110.4" r="2.1" fill="#f7941d" stroke="#c06a10" stroke-width="0.3" />
<line x1="465" y1="106.4" x2="468.25" y2="107.4" stroke="#999" stroke-width="0.8" />
<circle cx="468.25" cy="107.4" r="1.4" fill="#f01818" stroke="#b01010" stroke-width="0.3" />
<line x1="465" y1="106.4" x2="463.9" y2="109.62" stroke="#999" stroke-width="0.8" />
<circle cx="463.9" cy="109.62" r="1.4" fill="#f01818" stroke="#b01010" stroke-width="0.3" />
<line x1="465" y1="106.4" x2="461.71" y2="105.53" stroke="#999" stroke-width="0.8" />
<circle cx="461.71" cy="105.53" r="1.4" fill="#f01818" stroke="#b01010" stroke-width="0.3" />
<line x1="465" y1="106.4" x2="465.63" y2="103.06" stroke="#999" stroke-width="0.8" />
<circle cx="465.63" cy="103.06" r="1.4" fill="#f01818" stroke="#b01010" stroke-width="0.3" />
<circle cx="465" cy="106.4" r="2.1" fill="#f7941d" stroke="#c06a10" stroke-width="0.3" />
<circle cx="440" cy="88" r="1.6" fill="#f01818" stroke="#b01010" stroke-width="0.3" />
<circle cx="448" cy="86" r="1.6" fill="#f01818" stroke="#b01010" stroke-width="0.3" />
<circle cx="456" cy="84" r="1.6" fill="#f01818" stroke="#b01010" stroke-width="0.3" />
<circle cx="462" cy="92" r="1.6" fill="#f01818" stroke="#b01010" stroke-width="0.3" />
<circle cx="470" cy="98" r="1.6" fill="#f01818" stroke="#b01010" stroke-width="0.3" />
<circle cx="474" cy="112" r="1.6" fill="#f01818" stroke="#b01010" stroke-width="0.3" />
<circle cx="440" cy="118" r="1.6" fill="#f01818" stroke="#b01010" stroke-width="0.3" />
<circle cx="452" cy="104" r="1.6" fill="#f01818" stroke="#b01010" stroke-width="0.3" />
<circle cx="469" cy="84" r="1.6" fill="#f01818" stroke="#b01010" stroke-width="0.3" />
<circle cx="478" cy="90" r="1.6" fill="#f01818" stroke="#b01010" stroke-width="0.3" />
<path d="M420,80 L426,78 L430,84 L424,88 L419,86 Z" stroke="#6a6a8a" stroke-width="1.1" fill="none"/>
<path d="M362,83 L392,82 L404,83 L412,80" stroke="#8a8a9a" stroke-width="1.3" fill="none"/>
<circle cx="426" cy="78" r="1.3" fill="#3050e0" stroke="none" stroke-width="0.5" />
<circle cx="375" cy="115" r="1.3" fill="#3050e0" stroke="none" stroke-width="0.5" />
<circle cx="440" cy="132" r="1.3" fill="#3050e0" stroke="none" stroke-width="0.5" />
<circle cx="352" cy="83" r="1.3" fill="#3050e0" stroke="none" stroke-width="0.5" />
<line x1="432" y1="88" x2="444" y2="108" stroke="#e0c020" stroke-width="0.9" stroke-dasharray="1.4,0.9"/>
<line x1="440" y1="130" x2="446" y2="114" stroke="#e0c020" stroke-width="0.9" stroke-dasharray="1.4,0.9"/>
<line x1="356" y1="112" x2="372" y2="113" stroke="#e0c020" stroke-width="0.9" stroke-dasharray="1.4,0.9"/>
<line x1="340" y1="86" x2="352" y2="84" stroke="#e0c020" stroke-width="0.9" stroke-dasharray="1.4,0.9"/>
<text x="344" y="77.3" font-size="9.9" fill="#231f20" stroke="#231f20" stroke-width="0.22" text-anchor="start" font-weight="bold" >a.H37</text>
<text x="405" y="99.9" font-size="9.9" fill="#231f20" stroke="#231f20" stroke-width="0.22" text-anchor="start" font-weight="bold" >a.H40</text>
<text x="381.7" y="121.9" font-size="9.9" fill="#231f20" stroke="#231f20" stroke-width="0.22" text-anchor="start" font-weight="bold" >b.H40</text>
<text x="467" y="125.7" font-size="9.9" fill="#231f20" stroke="#231f20" stroke-width="0.22" text-anchor="start" font-weight="bold" >b.T47</text>
<text x="361.5" y="142.9" font-size="9.9" fill="#231f20" stroke="#231f20" stroke-width="0.22" text-anchor="start" font-weight="bold" >b.T96</text>
<text x="433.5" y="143.5" font-size="9.9" fill="#231f20" stroke="#231f20" stroke-width="0.22" text-anchor="start" font-weight="bold" >b.K32</text>
<line x1="470.8" y1="88" x2="512.5" y2="88" stroke="#3b3030" stroke-width="1.7" />
<polygon points="516.5,88 510.0,84.6 510.0,91.4" fill="#3b3030"/>
<path d="M487.5,80 Q497.5,87 500.5,97.3" fill="none" stroke="#3b3030" stroke-width="1.7"/>
<polygon points="505.0,100.3 497.5,94.8 498.5,102.3" fill="#3b3030"/>
<text x="488" y="114.2" font-size="9.6" fill="#231f20" stroke="#231f20" stroke-width="0.22" text-anchor="start" font-weight="bold" >90°</text>
<path d="M545.0,30.8 L545.6,32.0 L547.5,33.1 L550.4,34.2 L554.0,35.2 L558.0,36.0 L562.0,36.7 L565.6,37.2 L568.5,37.6 L570.4,38.0 L571.0,38.2 L571.0,43.5 L570.4,43.2 L568.5,42.8 L565.6,42.4 L562.0,41.9 L558.0,41.2 L554.0,40.4 L550.4,39.4 L547.5,38.3 L545.6,37.2 L545.0,36.0Z" fill="#fff" stroke="#a3a3a3" stroke-width="0.5"/>
<path d="M545.0,45.8 L545.6,47.0 L547.5,48.1 L550.4,49.2 L554.0,50.2 L558.0,51.0 L562.0,51.7 L565.6,52.2 L568.5,52.6 L570.4,53.0 L571.0,53.2 L571.0,58.5 L570.4,58.2 L568.5,57.8 L565.6,57.4 L562.0,56.9 L558.0,56.2 L554.0,55.4 L550.4,54.4 L547.5,53.3 L545.6,52.2 L545.0,51.0Z" fill="#fff" stroke="#a3a3a3" stroke-width="0.5"/>
<path d="M545.0,60.8 L545.6,62.0 L547.5,63.1 L550.4,64.2 L554.0,65.2 L558.0,66.0 L562.0,66.7 L565.6,67.2 L568.5,67.6 L570.4,68.0 L571.0,68.2 L571.0,73.5 L570.4,73.2 L568.5,72.8 L565.6,72.4 L562.0,71.9 L558.0,71.2 L554.0,70.4 L550.4,69.4 L547.5,68.3 L545.6,67.2 L545.0,66.0Z" fill="#fff" stroke="#a3a3a3" stroke-width="0.5"/>
<path d="M545.0,75.8 L545.6,77.0 L547.5,78.1 L550.4,79.2 L554.0,80.2 L558.0,81.0 L562.0,81.7 L565.6,82.2 L568.5,82.6 L570.4,83.0 L571.0,83.2 L571.0,88.5 L570.4,88.2 L568.5,87.8 L565.6,87.4 L562.0,86.9 L558.0,86.2 L554.0,85.4 L550.4,84.4 L547.5,83.3 L545.6,82.2 L545.0,81.0Z" fill="#fff" stroke="#a3a3a3" stroke-width="0.5"/>
<path d="M545.0,90.8 L545.6,92.0 L547.5,93.1 L550.4,94.2 L554.0,95.2 L558.0,96.0 L562.0,96.7 L565.6,97.2 L568.5,97.6 L570.4,98.0 L571.0,98.2 L571.0,103.5 L570.4,103.2 L568.5,102.8 L565.6,102.4 L562.0,101.9 L558.0,101.2 L554.0,100.4 L550.4,99.4 L547.5,98.3 L545.6,97.2 L545.0,96.0Z" fill="#fff" stroke="#a3a3a3" stroke-width="0.5"/>
<path d="M545.0,105.7 L545.6,107.0 L547.5,108.1 L550.4,109.2 L554.0,110.2 L558.0,111.0 L562.0,111.7 L565.6,112.2 L568.5,112.6 L570.4,113.0 L571.0,113.2 L571.0,118.5 L570.4,118.2 L568.5,117.8 L565.6,117.4 L562.0,116.9 L558.0,116.2 L554.0,115.4 L550.4,114.4 L547.5,113.3 L545.6,112.2 L545.0,110.9Z" fill="#fff" stroke="#a3a3a3" stroke-width="0.5"/>
<path d="M545.0,120.8 L545.6,122.0 L547.5,123.1 L550.4,124.2 L554.0,125.2 L558.0,126.0 L562.0,126.7 L565.6,127.2 L568.5,127.6 L570.4,128.0 L571.0,128.2 L571.0,133.4 L570.4,133.2 L568.5,132.8 L565.6,132.4 L562.0,131.9 L558.0,131.2 L554.0,130.4 L550.4,129.4 L547.5,128.3 L545.6,127.2 L545.0,126.0Z" fill="#fff" stroke="#a3a3a3" stroke-width="0.5"/>
<path d="M545.0,135.8 L545.6,137.0 L547.5,138.1 L550.4,139.2 L554.0,140.2 L558.0,141.0 L562.0,141.7 L565.6,142.2 L568.5,142.6 L570.4,143.0 L571.0,143.2 L571.0,148.4 L570.4,148.2 L568.5,147.8 L565.6,147.4 L562.0,146.9 L558.0,146.2 L554.0,145.4 L550.4,144.4 L547.5,143.3 L545.6,142.2 L545.0,140.9Z" fill="#fff" stroke="#a3a3a3" stroke-width="0.5"/>
<path d="M571.0,23.2 L570.4,23.5 L568.5,23.9 L565.6,24.3 L562.0,24.8 L558.0,25.5 L554.0,26.3 L550.4,27.3 L547.5,28.4 L545.6,29.5 L545.0,30.8 L545.0,36.0 L545.6,34.7 L547.5,33.6 L550.4,32.5 L554.0,31.5 L558.0,30.7 L562.0,30.0 L565.6,29.5 L568.5,29.1 L570.4,28.7 L571.0,28.4Z" fill="#fff" stroke="#a3a3a3" stroke-width="0.5"/>
<path d="M571.0,38.2 L570.4,38.5 L568.5,38.9 L565.6,39.3 L562.0,39.8 L558.0,40.5 L554.0,41.3 L550.4,42.3 L547.5,43.4 L545.6,44.5 L545.0,45.8 L545.0,51.0 L545.6,49.7 L547.5,48.6 L550.4,47.5 L554.0,46.5 L558.0,45.7 L562.0,45.0 L565.6,44.5 L568.5,44.1 L570.4,43.7 L571.0,43.5Z" fill="#fff" stroke="#a3a3a3" stroke-width="0.5"/>
<path d="M571.0,53.2 L570.4,53.5 L568.5,53.9 L565.6,54.3 L562.0,54.8 L558.0,55.5 L554.0,56.3 L550.4,57.3 L547.5,58.4 L545.6,59.5 L545.0,60.8 L545.0,66.0 L545.6,64.7 L547.5,63.6 L550.4,62.5 L554.0,61.5 L558.0,60.7 L562.0,60.0 L565.6,59.5 L568.5,59.1 L570.4,58.7 L571.0,58.5Z" fill="#fff" stroke="#a3a3a3" stroke-width="0.5"/>
<path d="M571.0,68.2 L570.4,68.5 L568.5,68.9 L565.6,69.3 L562.0,69.8 L558.0,70.5 L554.0,71.3 L550.4,72.3 L547.5,73.4 L545.6,74.5 L545.0,75.8 L545.0,81.0 L545.6,79.7 L547.5,78.6 L550.4,77.5 L554.0,76.5 L558.0,75.7 L562.0,75.0 L565.6,74.5 L568.5,74.1 L570.4,73.7 L571.0,73.5Z" fill="#fff" stroke="#a3a3a3" stroke-width="0.5"/>
<path d="M571.0,83.2 L570.4,83.5 L568.5,83.9 L565.6,84.3 L562.0,84.8 L558.0,85.5 L554.0,86.3 L550.4,87.3 L547.5,88.4 L545.6,89.5 L545.0,90.8 L545.0,96.0 L545.6,94.7 L547.5,93.6 L550.4,92.5 L554.0,91.5 L558.0,90.7 L562.0,90.0 L565.6,89.5 L568.5,89.1 L570.4,88.7 L571.0,88.5Z" fill="#fff" stroke="#a3a3a3" stroke-width="0.5"/>
<path d="M571.0,98.2 L570.4,98.5 L568.5,98.9 L565.6,99.3 L562.0,99.8 L558.0,100.5 L554.0,101.3 L550.4,102.3 L547.5,103.4 L545.6,104.5 L545.0,105.8 L545.0,111.0 L545.6,109.7 L547.5,108.6 L550.4,107.5 L554.0,106.5 L558.0,105.7 L562.0,105.0 L565.6,104.5 L568.5,104.1 L570.4,103.7 L571.0,103.5Z" fill="#fff" stroke="#a3a3a3" stroke-width="0.5"/>
<path d="M571.0,113.2 L570.4,113.5 L568.5,113.9 L565.6,114.3 L562.0,114.8 L558.0,115.5 L554.0,116.3 L550.4,117.3 L547.5,118.4 L545.6,119.5 L545.0,120.7 L545.0,125.9 L545.6,124.7 L547.5,123.6 L550.4,122.5 L554.0,121.5 L558.0,120.7 L562.0,120.0 L565.6,119.5 L568.5,119.1 L570.4,118.7 L571.0,118.4Z" fill="#fff" stroke="#a3a3a3" stroke-width="0.5"/>
<path d="M571.0,128.2 L570.4,128.5 L568.5,128.9 L565.6,129.3 L562.0,129.8 L558.0,130.5 L554.0,131.3 L550.4,132.3 L547.5,133.4 L545.6,134.5 L545.0,135.8 L545.0,140.9 L545.6,139.7 L547.5,138.6 L550.4,137.5 L554.0,136.5 L558.0,135.7 L562.0,135.0 L565.6,134.5 L568.5,134.1 L570.4,133.7 L571.0,133.4Z" fill="#fff" stroke="#a3a3a3" stroke-width="0.5"/>
<path d="M571.0,143.2 L570.4,143.5 L568.5,143.9 L565.6,144.3 L562.0,144.8 L558.0,145.5 L554.0,146.3 L550.4,147.3 L547.5,148.4 L545.6,149.5 L545.0,150.8 L545.0,155.9 L545.6,154.7 L547.5,153.6 L550.4,152.5 L554.0,151.5 L558.0,150.7 L562.0,150.0 L565.6,149.5 L568.5,149.1 L570.4,148.7 L571.0,148.4Z" fill="#fff" stroke="#a3a3a3" stroke-width="0.5"/>
<path d="M583.0,77.8 L583.5,79.0 L585.1,80.1 L587.5,81.2 L590.6,82.2 L594.0,83.0 L597.4,83.7 L600.5,84.2 L602.9,84.6 L604.5,85.0 L605.0,85.2 L605.0,90.5 L604.5,90.2 L602.9,89.8 L600.5,89.4 L597.4,88.9 L594.0,88.2 L590.6,87.4 L587.5,86.4 L585.1,85.3 L583.5,84.2 L583.0,83.0Z" fill="#fcfae0" stroke="#d4d0a4" stroke-width="0.5"/>
<path d="M583.0,92.8 L583.5,94.0 L585.1,95.1 L587.5,96.2 L590.6,97.2 L594.0,98.0 L597.4,98.7 L600.5,99.2 L602.9,99.6 L604.5,100.0 L605.0,100.2 L605.0,105.5 L604.5,105.2 L602.9,104.8 L600.5,104.4 L597.4,103.9 L594.0,103.2 L590.6,102.4 L587.5,101.4 L585.1,100.3 L583.5,99.2 L583.0,98.0Z" fill="#fcfae0" stroke="#d4d0a4" stroke-width="0.5"/>
<path d="M583.0,107.8 L583.5,109.0 L585.1,110.1 L587.5,111.2 L590.6,112.2 L594.0,113.0 L597.4,113.7 L600.5,114.2 L602.9,114.6 L604.5,115.0 L605.0,115.2 L605.0,120.5 L604.5,120.2 L602.9,119.8 L600.5,119.4 L597.4,118.9 L594.0,118.2 L590.6,117.4 L587.5,116.4 L585.1,115.3 L583.5,114.2 L583.0,113.0Z" fill="#fcfae0" stroke="#d4d0a4" stroke-width="0.5"/>
<path d="M583.0,122.8 L583.5,124.0 L585.1,125.1 L587.5,126.2 L590.6,127.2 L594.0,128.0 L597.4,128.7 L600.5,129.2 L602.9,129.6 L604.5,130.0 L605.0,130.2 L605.0,135.4 L604.5,135.2 L602.9,134.8 L600.5,134.4 L597.4,133.9 L594.0,133.2 L590.6,132.4 L587.5,131.4 L585.1,130.3 L583.5,129.2 L583.0,128.0Z" fill="#fcfae0" stroke="#d4d0a4" stroke-width="0.5"/>
<path d="M583.0,137.8 L583.5,139.0 L585.1,140.1 L587.5,141.2 L590.6,142.2 L594.0,143.0 L597.4,143.7 L600.5,144.2 L602.9,144.6 L604.5,145.0 L605.0,145.2 L605.0,150.4 L604.5,150.2 L602.9,149.8 L600.5,149.4 L597.4,148.9 L594.0,148.2 L590.6,147.4 L587.5,146.4 L585.1,145.3 L583.5,144.2 L583.0,142.9Z" fill="#fcfae0" stroke="#d4d0a4" stroke-width="0.5"/>
<path d="M583.0,152.8 L583.5,154.0 L585.1,155.1 L587.5,156.2 L590.6,157.2 L594.0,158.0 L597.4,158.7 L600.5,159.2 L602.9,159.6 L604.5,160.0 L605.0,160.3 L605.0,165.5 L604.5,165.2 L602.9,164.8 L600.5,164.4 L597.4,163.9 L594.0,163.2 L590.6,162.4 L587.5,161.4 L585.1,160.3 L583.5,159.2 L583.0,157.9Z" fill="#fcfae0" stroke="#d4d0a4" stroke-width="0.5"/>
<path d="M605.0,70.2 L604.5,70.5 L602.9,70.9 L600.5,71.3 L597.4,71.8 L594.0,72.5 L590.6,73.3 L587.5,74.3 L585.1,75.4 L583.5,76.5 L583.0,77.8 L583.0,83.0 L583.5,81.7 L585.1,80.6 L587.5,79.5 L590.6,78.5 L594.0,77.7 L597.4,77.0 L600.5,76.5 L602.9,76.1 L604.5,75.7 L605.0,75.5Z" fill="#fcfae0" stroke="#d4d0a4" stroke-width="0.5"/>
<path d="M605.0,85.2 L604.5,85.5 L602.9,85.9 L600.5,86.3 L597.4,86.8 L594.0,87.5 L590.6,88.3 L587.5,89.3 L585.1,90.4 L583.5,91.5 L583.0,92.8 L583.0,98.0 L583.5,96.7 L585.1,95.6 L587.5,94.5 L590.6,93.5 L594.0,92.7 L597.4,92.0 L600.5,91.5 L602.9,91.1 L604.5,90.7 L605.0,90.5Z" fill="#fcfae0" stroke="#d4d0a4" stroke-width="0.5"/>
<path d="M605.0,100.2 L604.5,100.5 L602.9,100.9 L600.5,101.3 L597.4,101.8 L594.0,102.5 L590.6,103.3 L587.5,104.3 L585.1,105.4 L583.5,106.5 L583.0,107.8 L583.0,113.0 L583.5,111.7 L585.1,110.6 L587.5,109.5 L590.6,108.5 L594.0,107.7 L597.4,107.0 L600.5,106.5 L602.9,106.1 L604.5,105.7 L605.0,105.5Z" fill="#fcfae0" stroke="#d4d0a4" stroke-width="0.5"/>
<path d="M605.0,115.2 L604.5,115.5 L602.9,115.9 L600.5,116.3 L597.4,116.8 L594.0,117.5 L590.6,118.3 L587.5,119.3 L585.1,120.4 L583.5,121.5 L583.0,122.8 L583.0,128.0 L583.5,126.7 L585.1,125.6 L587.5,124.5 L590.6,123.5 L594.0,122.7 L597.4,122.0 L600.5,121.5 L602.9,121.1 L604.5,120.7 L605.0,120.5Z" fill="#fcfae0" stroke="#d4d0a4" stroke-width="0.5"/>
<path d="M605.0,130.2 L604.5,130.5 L602.9,130.9 L600.5,131.3 L597.4,131.8 L594.0,132.5 L590.6,133.3 L587.5,134.3 L585.1,135.4 L583.5,136.5 L583.0,137.8 L583.0,142.9 L583.5,141.7 L585.1,140.6 L587.5,139.5 L590.6,138.5 L594.0,137.7 L597.4,137.0 L600.5,136.5 L602.9,136.1 L604.5,135.7 L605.0,135.4Z" fill="#fcfae0" stroke="#d4d0a4" stroke-width="0.5"/>
<path d="M605.0,145.2 L604.5,145.5 L602.9,145.9 L600.5,146.3 L597.4,146.8 L594.0,147.5 L590.6,148.3 L587.5,149.3 L585.1,150.4 L583.5,151.5 L583.0,152.8 L583.0,157.9 L583.5,156.7 L585.1,155.6 L587.5,154.5 L590.6,153.5 L594.0,152.7 L597.4,152.0 L600.5,151.5 L602.9,151.1 L604.5,150.7 L605.0,150.4Z" fill="#fcfae0" stroke="#d4d0a4" stroke-width="0.5"/>
<path d="M584,34 Q592,44 586,58 Q584,66 590,74" fill="none" stroke="#a3a3a3" stroke-width="3.4" stroke-linecap="round" stroke-linejoin="round"/>
<path d="M584,34 Q592,44 586,58 Q584,66 590,74" fill="none" stroke="#fff" stroke-width="2.4" stroke-linecap="round" stroke-linejoin="round"/>
<path d="M609.0,30.8 L609.7,32.0 L611.9,33.1 L615.2,34.2 L619.4,35.2 L624.0,36.0 L628.6,36.7 L632.8,37.2 L636.1,37.6 L638.3,38.0 L639.0,38.2 L639.0,43.5 L638.3,43.2 L636.1,42.8 L632.8,42.4 L628.6,41.9 L624.0,41.2 L619.4,40.4 L615.2,39.4 L611.9,38.3 L609.7,37.2 L609.0,36.0Z" fill="#fff" stroke="#a3a3a3" stroke-width="0.5"/>
<path d="M609.0,45.8 L609.7,47.0 L611.9,48.1 L615.2,49.2 L619.4,50.2 L624.0,51.0 L628.6,51.7 L632.8,52.2 L636.1,52.6 L638.3,53.0 L639.0,53.2 L639.0,58.5 L638.3,58.2 L636.1,57.8 L632.8,57.4 L628.6,56.9 L624.0,56.2 L619.4,55.4 L615.2,54.4 L611.9,53.3 L609.7,52.2 L609.0,51.0Z" fill="#fff" stroke="#a3a3a3" stroke-width="0.5"/>
<path d="M609.0,60.8 L609.7,62.0 L611.9,63.1 L615.2,64.2 L619.4,65.2 L624.0,66.0 L628.6,66.7 L632.8,67.2 L636.1,67.6 L638.3,68.0 L639.0,68.2 L639.0,73.5 L638.3,73.2 L636.1,72.8 L632.8,72.4 L628.6,71.9 L624.0,71.2 L619.4,70.4 L615.2,69.4 L611.9,68.3 L609.7,67.2 L609.0,66.0Z" fill="#fff" stroke="#a3a3a3" stroke-width="0.5"/>
<path d="M609.0,75.8 L609.7,77.0 L611.9,78.1 L615.2,79.2 L619.4,80.2 L624.0,81.0 L628.6,81.7 L632.8,82.2 L636.1,82.6 L638.3,83.0 L639.0,83.2 L639.0,88.5 L638.3,88.2 L636.1,87.8 L632.8,87.4 L628.6,86.9 L624.0,86.2 L619.4,85.4 L615.2,84.4 L611.9,83.3 L609.7,82.2 L609.0,81.0Z" fill="#fff" stroke="#a3a3a3" stroke-width="0.5"/>
<path d="M609.0,90.8 L609.7,92.0 L611.9,93.1 L615.2,94.2 L619.4,95.2 L624.0,96.0 L628.6,96.7 L632.8,97.2 L636.1,97.6 L638.3,98.0 L639.0,98.2 L639.0,103.5 L638.3,103.2 L636.1,102.8 L632.8,102.4 L628.6,101.9 L624.0,101.2 L619.4,100.4 L615.2,99.4 L611.9,98.3 L609.7,97.2 L609.0,96.0Z" fill="#fff" stroke="#a3a3a3" stroke-width="0.5"/>
<path d="M609.0,105.7 L609.7,107.0 L611.9,108.1 L615.2,109.2 L619.4,110.2 L624.0,111.0 L628.6,111.7 L632.8,112.2 L636.1,112.6 L638.3,113.0 L639.0,113.2 L639.0,118.5 L638.3,118.2 L636.1,117.8 L632.8,117.4 L628.6,116.9 L624.0,116.2 L619.4,115.4 L615.2,114.4 L611.9,113.3 L609.7,112.2 L609.0,110.9Z" fill="#fff" stroke="#a3a3a3" stroke-width="0.5"/>
<path d="M609.0,120.8 L609.7,122.0 L611.9,123.1 L615.2,124.2 L619.4,125.2 L624.0,126.0 L628.6,126.7 L632.8,127.2 L636.1,127.6 L638.3,128.0 L639.0,128.2 L639.0,133.4 L638.3,133.2 L636.1,132.8 L632.8,132.4 L628.6,131.9 L624.0,131.2 L619.4,130.4 L615.2,129.4 L611.9,128.3 L609.7,127.2 L609.0,126.0Z" fill="#fff" stroke="#a3a3a3" stroke-width="0.5"/>
<path d="M609.0,135.8 L609.7,137.0 L611.9,138.1 L615.2,139.2 L619.4,140.2 L624.0,141.0 L628.6,141.7 L632.8,142.2 L636.1,142.6 L638.3,143.0 L639.0,143.2 L639.0,148.4 L638.3,148.2 L636.1,147.8 L632.8,147.4 L628.6,146.9 L624.0,146.2 L619.4,145.4 L615.2,144.4 L611.9,143.3 L609.7,142.2 L609.0,140.9Z" fill="#fff" stroke="#a3a3a3" stroke-width="0.5"/>
<path d="M609.0,150.8 L609.7,152.0 L611.9,153.1 L615.2,154.2 L619.4,155.2 L624.0,156.0 L628.6,156.7 L632.8,157.2 L636.1,157.6 L638.3,158.0 L639.0,158.2 L639.0,163.4 L638.3,163.2 L636.1,162.8 L632.8,162.4 L628.6,161.9 L624.0,161.2 L619.4,160.4 L615.2,159.4 L611.9,158.3 L609.7,157.2 L609.0,155.9Z" fill="#fff" stroke="#a3a3a3" stroke-width="0.5"/>
<path d="M639.0,23.2 L638.3,23.5 L636.1,23.9 L632.8,24.3 L628.6,24.8 L624.0,25.5 L619.4,26.3 L615.2,27.3 L611.9,28.4 L609.7,29.5 L609.0,30.8 L609.0,36.0 L609.7,34.7 L611.9,33.6 L615.2,32.5 L619.4,31.5 L624.0,30.7 L628.6,30.0 L632.8,29.5 L636.1,29.1 L638.3,28.7 L639.0,28.4Z" fill="#fff" stroke="#a3a3a3" stroke-width="0.5"/>
<path d="M639.0,38.2 L638.3,38.5 L636.1,38.9 L632.8,39.3 L628.6,39.8 L624.0,40.5 L619.4,41.3 L615.2,42.3 L611.9,43.4 L609.7,44.5 L609.0,45.8 L609.0,51.0 L609.7,49.7 L611.9,48.6 L615.2,47.5 L619.4,46.5 L624.0,45.7 L628.6,45.0 L632.8,44.5 L636.1,44.1 L638.3,43.7 L639.0,43.5Z" fill="#fff" stroke="#a3a3a3" stroke-width="0.5"/>
<path d="M639.0,53.2 L638.3,53.5 L636.1,53.9 L632.8,54.3 L628.6,54.8 L624.0,55.5 L619.4,56.3 L615.2,57.3 L611.9,58.4 L609.7,59.5 L609.0,60.8 L609.0,66.0 L609.7,64.7 L611.9,63.6 L615.2,62.5 L619.4,61.5 L624.0,60.7 L628.6,60.0 L632.8,59.5 L636.1,59.1 L638.3,58.7 L639.0,58.5Z" fill="#fff" stroke="#a3a3a3" stroke-width="0.5"/>
<path d="M639.0,68.2 L638.3,68.5 L636.1,68.9 L632.8,69.3 L628.6,69.8 L624.0,70.5 L619.4,71.3 L615.2,72.3 L611.9,73.4 L609.7,74.5 L609.0,75.8 L609.0,81.0 L609.7,79.7 L611.9,78.6 L615.2,77.5 L619.4,76.5 L624.0,75.7 L628.6,75.0 L632.8,74.5 L636.1,74.1 L638.3,73.7 L639.0,73.5Z" fill="#fff" stroke="#a3a3a3" stroke-width="0.5"/>
<path d="M639.0,83.2 L638.3,83.5 L636.1,83.9 L632.8,84.3 L628.6,84.8 L624.0,85.5 L619.4,86.3 L615.2,87.3 L611.9,88.4 L609.7,89.5 L609.0,90.8 L609.0,96.0 L609.7,94.7 L611.9,93.6 L615.2,92.5 L619.4,91.5 L624.0,90.7 L628.6,90.0 L632.8,89.5 L636.1,89.1 L638.3,88.7 L639.0,88.5Z" fill="#fff" stroke="#a3a3a3" stroke-width="0.5"/>
<path d="M639.0,98.2 L638.3,98.5 L636.1,98.9 L632.8,99.3 L628.6,99.8 L624.0,100.5 L619.4,101.3 L615.2,102.3 L611.9,103.4 L609.7,104.5 L609.0,105.8 L609.0,111.0 L609.7,109.7 L611.9,108.6 L615.2,107.5 L619.4,106.5 L624.0,105.7 L628.6,105.0 L632.8,104.5 L636.1,104.1 L638.3,103.7 L639.0,103.5Z" fill="#fff" stroke="#a3a3a3" stroke-width="0.5"/>
<path d="M639.0,113.2 L638.3,113.5 L636.1,113.9 L632.8,114.3 L628.6,114.8 L624.0,115.5 L619.4,116.3 L615.2,117.3 L611.9,118.4 L609.7,119.5 L609.0,120.7 L609.0,125.9 L609.7,124.7 L611.9,123.6 L615.2,122.5 L619.4,121.5 L624.0,120.7 L628.6,120.0 L632.8,119.5 L636.1,119.1 L638.3,118.7 L639.0,118.4Z" fill="#fff" stroke="#a3a3a3" stroke-width="0.5"/>
<path d="M639.0,128.2 L638.3,128.5 L636.1,128.9 L632.8,129.3 L628.6,129.8 L624.0,130.5 L619.4,131.3 L615.2,132.3 L611.9,133.4 L609.7,134.5 L609.0,135.8 L609.0,140.9 L609.7,139.7 L611.9,138.6 L615.2,137.5 L619.4,136.5 L624.0,135.7 L628.6,135.0 L632.8,134.5 L636.1,134.1 L638.3,133.7 L639.0,133.4Z" fill="#fff" stroke="#a3a3a3" stroke-width="0.5"/>
<path d="M639.0,143.2 L638.3,143.5 L636.1,143.9 L632.8,144.3 L628.6,144.8 L624.0,145.5 L619.4,146.3 L615.2,147.3 L611.9,148.4 L609.7,149.5 L609.0,150.8 L609.0,155.9 L609.7,154.7 L611.9,153.6 L615.2,152.5 L619.4,151.5 L624.0,150.7 L628.6,150.0 L632.8,149.5 L636.1,149.1 L638.3,148.7 L639.0,148.4Z" fill="#fff" stroke="#a3a3a3" stroke-width="0.5"/>
<path d="M596,160 Q610,172 630,168 Q640,165 640,158" fill="none" stroke="#a3a3a3" stroke-width="3.6" stroke-linecap="round" stroke-linejoin="round"/>
<path d="M596,160 Q610,172 630,168 Q640,165 640,158" fill="none" stroke="#fff" stroke-width="2.6" stroke-linecap="round" stroke-linejoin="round"/>
<path d="M568,152 Q574,166 590,162" fill="none" stroke="#a3a3a3" stroke-width="3.6" stroke-linecap="round" stroke-linejoin="round"/>
<path d="M568,152 Q574,166 590,162" fill="none" stroke="#fff" stroke-width="2.6" stroke-linecap="round" stroke-linejoin="round"/>
<path d="M529.0,121.7 L526.4,125.7 L528.6,128.9 L526.0,132.0 L529.0,135.4" fill="none" stroke="#8a8a8a" stroke-width="0.9"/>
<circle cx="528.99" cy="121.74" r="1.45" fill="#c4c4c4" stroke="#8a8a8a" stroke-width="0.4" />
<circle cx="526.41" cy="125.68" r="1.45" fill="#c4c4c4" stroke="#8a8a8a" stroke-width="0.4" />
<circle cx="528.56" cy="128.92" r="1.45" fill="#c4c4c4" stroke="#8a8a8a" stroke-width="0.4" />
<circle cx="526.01" cy="131.98" r="1.45" fill="#c4c4c4" stroke="#8a8a8a" stroke-width="0.4" />
<circle cx="529.05" cy="135.4" r="1.45" fill="#c4c4c4" stroke="#8a8a8a" stroke-width="0.4" />
<path d="M523.0,141.6 L520.2,145.1 L522.6,148.4 L519.4,150.6 L520.9,154.1 L517.7,156.6 L520.1,160.1" fill="none" stroke="#8a8a8a" stroke-width="0.9"/>
<circle cx="522.99" cy="141.59" r="1.45" fill="#c4c4c4" stroke="#8a8a8a" stroke-width="0.4" />
<circle cx="520.21" cy="145.06" r="1.45" fill="#c4c4c4" stroke="#8a8a8a" stroke-width="0.4" />
<circle cx="522.56" cy="148.41" r="1.45" fill="#c4c4c4" stroke="#8a8a8a" stroke-width="0.4" />
<circle cx="519.38" cy="150.59" r="1.45" fill="#c4c4c4" stroke="#8a8a8a" stroke-width="0.4" />
<circle cx="520.91" cy="154.08" r="1.45" fill="#c4c4c4" stroke="#8a8a8a" stroke-width="0.4" />
<circle cx="517.73" cy="156.6" r="1.45" fill="#c4c4c4" stroke="#8a8a8a" stroke-width="0.4" />
<circle cx="520.14" cy="160.05" r="1.45" fill="#c4c4c4" stroke="#8a8a8a" stroke-width="0.4" />
<path d="M520.1,130.9 L518.2,134.9 L521.3,136.9 L518.7,140.6 L522.2,144.1 L520.1,147.6" fill="none" stroke="#8a8a8a" stroke-width="0.9"/>
<circle cx="520.1" cy="130.95" r="1.45" fill="#c4c4c4" stroke="#8a8a8a" stroke-width="0.4" />
<circle cx="518.17" cy="134.92" r="1.45" fill="#c4c4c4" stroke="#8a8a8a" stroke-width="0.4" />
<circle cx="521.32" cy="136.93" r="1.45" fill="#c4c4c4" stroke="#8a8a8a" stroke-width="0.4" />
<circle cx="518.65" cy="140.62" r="1.45" fill="#c4c4c4" stroke="#8a8a8a" stroke-width="0.4" />
<circle cx="522.2" cy="144.07" r="1.45" fill="#c4c4c4" stroke="#8a8a8a" stroke-width="0.4" />
<circle cx="520.06" cy="147.57" r="1.45" fill="#c4c4c4" stroke="#8a8a8a" stroke-width="0.4" />
<path d="M539.1,140.1 L539.5,144.6 L543.8,145.6 L543.4,149.6 L548.7,149.8" fill="none" stroke="#8a8a8a" stroke-width="0.9"/>
<circle cx="539.1" cy="140.11" r="1.45" fill="#c4c4c4" stroke="#8a8a8a" stroke-width="0.4" />
<circle cx="539.47" cy="144.56" r="1.45" fill="#c4c4c4" stroke="#8a8a8a" stroke-width="0.4" />
<circle cx="543.76" cy="145.58" r="1.45" fill="#c4c4c4" stroke="#8a8a8a" stroke-width="0.4" />
<circle cx="543.42" cy="149.58" r="1.45" fill="#c4c4c4" stroke="#8a8a8a" stroke-width="0.4" />
<circle cx="548.65" cy="149.8" r="1.45" fill="#c4c4c4" stroke="#8a8a8a" stroke-width="0.4" />
<path d="M517.5,141.0 L518.4,145.2 L522.7,146.1 L523.2,149.8 L526.9,151.3" fill="none" stroke="#8a8a8a" stroke-width="0.9"/>
<circle cx="517.47" cy="141" r="1.45" fill="#c4c4c4" stroke="#8a8a8a" stroke-width="0.4" />
<circle cx="518.41" cy="145.16" r="1.45" fill="#c4c4c4" stroke="#8a8a8a" stroke-width="0.4" />
<circle cx="522.72" cy="146.08" r="1.45" fill="#c4c4c4" stroke="#8a8a8a" stroke-width="0.4" />
<circle cx="523.23" cy="149.78" r="1.45" fill="#c4c4c4" stroke="#8a8a8a" stroke-width="0.4" />
<circle cx="526.91" cy="151.26" r="1.45" fill="#c4c4c4" stroke="#8a8a8a" stroke-width="0.4" />
<path d="M540.6,138.7 L538.7,142.8 L541.7,146.2 L539.1,150.2 L542.4,152.9" fill="none" stroke="#8a8a8a" stroke-width="0.9"/>
<circle cx="540.6" cy="138.68" r="1.45" fill="#c4c4c4" stroke="#8a8a8a" stroke-width="0.4" />
<circle cx="538.67" cy="142.77" r="1.45" fill="#c4c4c4" stroke="#8a8a8a" stroke-width="0.4" />
<circle cx="541.69" cy="146.21" r="1.45" fill="#c4c4c4" stroke="#8a8a8a" stroke-width="0.4" />
<circle cx="539.09" cy="150.2" r="1.45" fill="#c4c4c4" stroke="#8a8a8a" stroke-width="0.4" />
<circle cx="542.41" cy="152.93" r="1.45" fill="#c4c4c4" stroke="#8a8a8a" stroke-width="0.4" />
<path d="M538.3,97.7 L534.9,100.0 L537.5,103.7 L534.1,106.6 L536.8,110.2" fill="none" stroke="#8a8a8a" stroke-width="0.9"/>
<circle cx="538.29" cy="97.73" r="1.45" fill="#c4c4c4" stroke="#8a8a8a" stroke-width="0.4" />
<circle cx="534.9" cy="100.04" r="1.45" fill="#c4c4c4" stroke="#8a8a8a" stroke-width="0.4" />
<circle cx="537.52" cy="103.73" r="1.45" fill="#c4c4c4" stroke="#8a8a8a" stroke-width="0.4" />
<circle cx="534.14" cy="106.58" r="1.45" fill="#c4c4c4" stroke="#8a8a8a" stroke-width="0.4" />
<circle cx="536.79" cy="110.17" r="1.45" fill="#c4c4c4" stroke="#8a8a8a" stroke-width="0.4" />
<path d="M521.6,105.5 L518.8,108.0 L521.9,111.2 L518.7,114.6 L522.3,117.6 L519.0,121.4 L522.5,123.9" fill="none" stroke="#8a8a8a" stroke-width="0.9"/>
<circle cx="521.61" cy="105.54" r="1.45" fill="#c4c4c4" stroke="#8a8a8a" stroke-width="0.4" />
<circle cx="518.78" cy="108.04" r="1.45" fill="#c4c4c4" stroke="#8a8a8a" stroke-width="0.4" />
<circle cx="521.91" cy="111.23" r="1.45" fill="#c4c4c4" stroke="#8a8a8a" stroke-width="0.4" />
<circle cx="518.66" cy="114.61" r="1.45" fill="#c4c4c4" stroke="#8a8a8a" stroke-width="0.4" />
<circle cx="522.34" cy="117.6" r="1.45" fill="#c4c4c4" stroke="#8a8a8a" stroke-width="0.4" />
<circle cx="519.01" cy="121.35" r="1.45" fill="#c4c4c4" stroke="#8a8a8a" stroke-width="0.4" />
<circle cx="522.54" cy="123.85" r="1.45" fill="#c4c4c4" stroke="#8a8a8a" stroke-width="0.4" />
<path d="M525.2,86.2 L522.9,88.9 L526.4,91.7 L522.9,95.1 L526.8,97.7 L523.9,100.4 L527.0,103.5 L523.7,107.3 L527.2,109.3 L524.9,113.2 L528.4,115.3 L525.5,118.3 L528.7,121.8 L525.2,124.2 L529.1,127.7 L526.2,131.0 L529.4,133.1 L526.1,136.2 L530.4,138.7 L526.7,142.2 L529.9,144.9 L527.1,147.9 L530.9,151.0 L528.0,154.5 L531.4,157.4 L528.0,159.9" fill="none" stroke="#8a8a8a" stroke-width="0.9"/>
<circle cx="525.23" cy="86.16" r="1.45" fill="#c4c4c4" stroke="#8a8a8a" stroke-width="0.4" />
<circle cx="522.93" cy="88.93" r="1.45" fill="#c4c4c4" stroke="#8a8a8a" stroke-width="0.4" />
<circle cx="526.37" cy="91.67" r="1.45" fill="#c4c4c4" stroke="#8a8a8a" stroke-width="0.4" />
<circle cx="522.91" cy="95.1" r="1.45" fill="#c4c4c4" stroke="#8a8a8a" stroke-width="0.4" />
<circle cx="526.8" cy="97.69" r="1.45" fill="#c4c4c4" stroke="#8a8a8a" stroke-width="0.4" />
<circle cx="523.92" cy="100.44" r="1.45" fill="#c4c4c4" stroke="#8a8a8a" stroke-width="0.4" />
<circle cx="527.03" cy="103.51" r="1.45" fill="#c4c4c4" stroke="#8a8a8a" stroke-width="0.4" />
<circle cx="523.65" cy="107.26" r="1.45" fill="#c4c4c4" stroke="#8a8a8a" stroke-width="0.4" />
<circle cx="527.16" cy="109.26" r="1.45" fill="#c4c4c4" stroke="#8a8a8a" stroke-width="0.4" />
<circle cx="524.94" cy="113.23" r="1.45" fill="#c4c4c4" stroke="#8a8a8a" stroke-width="0.4" />
<circle cx="528.43" cy="115.31" r="1.45" fill="#c4c4c4" stroke="#8a8a8a" stroke-width="0.4" />
<circle cx="525.48" cy="118.33" r="1.45" fill="#c4c4c4" stroke="#8a8a8a" stroke-width="0.4" />
<circle cx="528.69" cy="121.84" r="1.45" fill="#c4c4c4" stroke="#8a8a8a" stroke-width="0.4" />
<circle cx="525.22" cy="124.25" r="1.45" fill="#c4c4c4" stroke="#8a8a8a" stroke-width="0.4" />
<circle cx="529.13" cy="127.69" r="1.45" fill="#c4c4c4" stroke="#8a8a8a" stroke-width="0.4" />
<circle cx="526.23" cy="130.98" r="1.45" fill="#c4c4c4" stroke="#8a8a8a" stroke-width="0.4" />
<circle cx="529.39" cy="133.1" r="1.45" fill="#c4c4c4" stroke="#8a8a8a" stroke-width="0.4" />
<circle cx="526.11" cy="136.22" r="1.45" fill="#c4c4c4" stroke="#8a8a8a" stroke-width="0.4" />
<circle cx="530.35" cy="138.72" r="1.45" fill="#c4c4c4" stroke="#8a8a8a" stroke-width="0.4" />
<circle cx="526.65" cy="142.22" r="1.45" fill="#c4c4c4" stroke="#8a8a8a" stroke-width="0.4" />
<circle cx="529.94" cy="144.88" r="1.45" fill="#c4c4c4" stroke="#8a8a8a" stroke-width="0.4" />
<circle cx="527.13" cy="147.91" r="1.45" fill="#c4c4c4" stroke="#8a8a8a" stroke-width="0.4" />
<circle cx="530.9" cy="151.03" r="1.45" fill="#c4c4c4" stroke="#8a8a8a" stroke-width="0.4" />
<circle cx="527.99" cy="154.47" r="1.45" fill="#c4c4c4" stroke="#8a8a8a" stroke-width="0.4" />
<circle cx="531.38" cy="157.36" r="1.45" fill="#c4c4c4" stroke="#8a8a8a" stroke-width="0.4" />
<circle cx="527.99" cy="159.85" r="1.45" fill="#c4c4c4" stroke="#8a8a8a" stroke-width="0.4" />
<path d="M537.2,97.6 L535.1,101.6 L538.4,103.3 L535.5,107.0 L539.0,109.7 L537.0,112.8 L540.2,115.6 L537.3,118.3 L541.4,121.6 L537.7,124.7 L541.7,126.5 L538.7,130.0 L542.8,132.5 L539.4,135.9 L543.7,138.6 L540.8,141.9 L543.9,144.0 L541.3,147.4 L544.8,150.4 L542.2,153.6 L546.0,155.9 L543.0,159.9 L546.8,161.9 L544.0,165.3 L547.4,168.2" fill="none" stroke="#8a8a8a" stroke-width="0.9"/>
<circle cx="537.16" cy="97.58" r="1.45" fill="#c4c4c4" stroke="#8a8a8a" stroke-width="0.4" />
<circle cx="535.09" cy="101.57" r="1.45" fill="#c4c4c4" stroke="#8a8a8a" stroke-width="0.4" />
<circle cx="538.42" cy="103.27" r="1.45" fill="#c4c4c4" stroke="#8a8a8a" stroke-width="0.4" />
<circle cx="535.5" cy="107.04" r="1.45" fill="#c4c4c4" stroke="#8a8a8a" stroke-width="0.4" />
<circle cx="539.05" cy="109.73" r="1.45" fill="#c4c4c4" stroke="#8a8a8a" stroke-width="0.4" />
<circle cx="536.97" cy="112.77" r="1.45" fill="#c4c4c4" stroke="#8a8a8a" stroke-width="0.4" />
<circle cx="540.19" cy="115.62" r="1.45" fill="#c4c4c4" stroke="#8a8a8a" stroke-width="0.4" />
<circle cx="537.3" cy="118.33" r="1.45" fill="#c4c4c4" stroke="#8a8a8a" stroke-width="0.4" />
<circle cx="541.36" cy="121.58" r="1.45" fill="#c4c4c4" stroke="#8a8a8a" stroke-width="0.4" />
<circle cx="537.69" cy="124.74" r="1.45" fill="#c4c4c4" stroke="#8a8a8a" stroke-width="0.4" />
<circle cx="541.65" cy="126.49" r="1.45" fill="#c4c4c4" stroke="#8a8a8a" stroke-width="0.4" />
<circle cx="538.66" cy="129.98" r="1.45" fill="#c4c4c4" stroke="#8a8a8a" stroke-width="0.4" />
<circle cx="542.82" cy="132.49" r="1.45" fill="#c4c4c4" stroke="#8a8a8a" stroke-width="0.4" />
<circle cx="539.35" cy="135.86" r="1.45" fill="#c4c4c4" stroke="#8a8a8a" stroke-width="0.4" />
<circle cx="543.72" cy="138.61" r="1.45" fill="#c4c4c4" stroke="#8a8a8a" stroke-width="0.4" />
<circle cx="540.82" cy="141.94" r="1.45" fill="#c4c4c4" stroke="#8a8a8a" stroke-width="0.4" />
<circle cx="543.93" cy="143.96" r="1.45" fill="#c4c4c4" stroke="#8a8a8a" stroke-width="0.4" />
<circle cx="541.3" cy="147.35" r="1.45" fill="#c4c4c4" stroke="#8a8a8a" stroke-width="0.4" />
<circle cx="544.84" cy="150.39" r="1.45" fill="#c4c4c4" stroke="#8a8a8a" stroke-width="0.4" />
<circle cx="542.2" cy="153.62" r="1.45" fill="#c4c4c4" stroke="#8a8a8a" stroke-width="0.4" />
<circle cx="546.04" cy="155.92" r="1.45" fill="#c4c4c4" stroke="#8a8a8a" stroke-width="0.4" />
<circle cx="543.02" cy="159.86" r="1.45" fill="#c4c4c4" stroke="#8a8a8a" stroke-width="0.4" />
<circle cx="546.83" cy="161.86" r="1.45" fill="#c4c4c4" stroke="#8a8a8a" stroke-width="0.4" />
<circle cx="544.04" cy="165.27" r="1.45" fill="#c4c4c4" stroke="#8a8a8a" stroke-width="0.4" />
<circle cx="547.42" cy="168.19" r="1.45" fill="#c4c4c4" stroke="#8a8a8a" stroke-width="0.4" />
<path d="M624.9,157.2 L629.7,158.0 L629.8,153.4 L634.8,154.0 L634.8,150.3 L639.1,151.0 L639.8,147.2 L644.1,147.2 L645.4,143.3 L649.4,144.2 L650.6,140.1 L654.2,140.4 L655.2,136.5 L659.4,137.7 L660.1,133.0 L664.3,134.2 L665.3,130.6 L669.1,130.9 L669.8,127.1 L674.1,127.9 L675.5,123.2 L679.7,124.3 L680.1,120.1 L684.8,120.9 L685.2,116.5" fill="none" stroke="#8a8a8a" stroke-width="0.9"/>
<circle cx="624.9" cy="157.19" r="1.45" fill="#c4c4c4" stroke="#8a8a8a" stroke-width="0.4" />
<circle cx="629.69" cy="157.96" r="1.45" fill="#c4c4c4" stroke="#8a8a8a" stroke-width="0.4" />
<circle cx="629.83" cy="153.43" r="1.45" fill="#c4c4c4" stroke="#8a8a8a" stroke-width="0.4" />
<circle cx="634.82" cy="154.04" r="1.45" fill="#c4c4c4" stroke="#8a8a8a" stroke-width="0.4" />
<circle cx="634.84" cy="150.31" r="1.45" fill="#c4c4c4" stroke="#8a8a8a" stroke-width="0.4" />
<circle cx="639.07" cy="151" r="1.45" fill="#c4c4c4" stroke="#8a8a8a" stroke-width="0.4" />
<circle cx="639.83" cy="147.2" r="1.45" fill="#c4c4c4" stroke="#8a8a8a" stroke-width="0.4" />
<circle cx="644.12" cy="147.18" r="1.45" fill="#c4c4c4" stroke="#8a8a8a" stroke-width="0.4" />
<circle cx="645.36" cy="143.27" r="1.45" fill="#c4c4c4" stroke="#8a8a8a" stroke-width="0.4" />
<circle cx="649.39" cy="144.25" r="1.45" fill="#c4c4c4" stroke="#8a8a8a" stroke-width="0.4" />
<circle cx="650.59" cy="140.1" r="1.45" fill="#c4c4c4" stroke="#8a8a8a" stroke-width="0.4" />
<circle cx="654.21" cy="140.42" r="1.45" fill="#c4c4c4" stroke="#8a8a8a" stroke-width="0.4" />
<circle cx="655.16" cy="136.52" r="1.45" fill="#c4c4c4" stroke="#8a8a8a" stroke-width="0.4" />
<circle cx="659.41" cy="137.71" r="1.45" fill="#c4c4c4" stroke="#8a8a8a" stroke-width="0.4" />
<circle cx="660.13" cy="133.01" r="1.45" fill="#c4c4c4" stroke="#8a8a8a" stroke-width="0.4" />
<circle cx="664.33" cy="134.23" r="1.45" fill="#c4c4c4" stroke="#8a8a8a" stroke-width="0.4" />
<circle cx="665.31" cy="130.56" r="1.45" fill="#c4c4c4" stroke="#8a8a8a" stroke-width="0.4" />
<circle cx="669.11" cy="130.86" r="1.45" fill="#c4c4c4" stroke="#8a8a8a" stroke-width="0.4" />
<circle cx="669.75" cy="127.05" r="1.45" fill="#c4c4c4" stroke="#8a8a8a" stroke-width="0.4" />
<circle cx="674.07" cy="127.91" r="1.45" fill="#c4c4c4" stroke="#8a8a8a" stroke-width="0.4" />
<circle cx="675.47" cy="123.17" r="1.45" fill="#c4c4c4" stroke="#8a8a8a" stroke-width="0.4" />
<circle cx="679.73" cy="124.25" r="1.45" fill="#c4c4c4" stroke="#8a8a8a" stroke-width="0.4" />
<circle cx="680.09" cy="120.14" r="1.45" fill="#c4c4c4" stroke="#8a8a8a" stroke-width="0.4" />
<circle cx="684.78" cy="120.9" r="1.45" fill="#c4c4c4" stroke="#8a8a8a" stroke-width="0.4" />
<circle cx="685.15" cy="116.54" r="1.45" fill="#c4c4c4" stroke="#8a8a8a" stroke-width="0.4" />
<path d="M639.7,164.6 L643.1,165.9 L644.5,162.6 L649.0,164.3 L650.6,160.1 L654.4,161.7 L655.9,157.9 L659.2,159.5 L660.9,155.0 L665.4,156.3 L666.5,152.7 L670.7,154.5 L672.3,150.9 L675.9,151.6 L677.5,147.8 L681.7,150.1 L682.5,145.5 L686.8,147.6" fill="none" stroke="#8a8a8a" stroke-width="0.9"/>
<circle cx="639.74" cy="164.63" r="1.45" fill="#c4c4c4" stroke="#8a8a8a" stroke-width="0.4" />
<circle cx="643.15" cy="165.9" r="1.45" fill="#c4c4c4" stroke="#8a8a8a" stroke-width="0.4" />
<circle cx="644.53" cy="162.61" r="1.45" fill="#c4c4c4" stroke="#8a8a8a" stroke-width="0.4" />
<circle cx="649.02" cy="164.32" r="1.45" fill="#c4c4c4" stroke="#8a8a8a" stroke-width="0.4" />
<circle cx="650.64" cy="160.1" r="1.45" fill="#c4c4c4" stroke="#8a8a8a" stroke-width="0.4" />
<circle cx="654.42" cy="161.7" r="1.45" fill="#c4c4c4" stroke="#8a8a8a" stroke-width="0.4" />
<circle cx="655.95" cy="157.87" r="1.45" fill="#c4c4c4" stroke="#8a8a8a" stroke-width="0.4" />
<circle cx="659.22" cy="159.46" r="1.45" fill="#c4c4c4" stroke="#8a8a8a" stroke-width="0.4" />
<circle cx="660.85" cy="154.96" r="1.45" fill="#c4c4c4" stroke="#8a8a8a" stroke-width="0.4" />
<circle cx="665.37" cy="156.31" r="1.45" fill="#c4c4c4" stroke="#8a8a8a" stroke-width="0.4" />
<circle cx="666.47" cy="152.7" r="1.45" fill="#c4c4c4" stroke="#8a8a8a" stroke-width="0.4" />
<circle cx="670.65" cy="154.54" r="1.45" fill="#c4c4c4" stroke="#8a8a8a" stroke-width="0.4" />
<circle cx="672.28" cy="150.94" r="1.45" fill="#c4c4c4" stroke="#8a8a8a" stroke-width="0.4" />
<circle cx="675.92" cy="151.65" r="1.45" fill="#c4c4c4" stroke="#8a8a8a" stroke-width="0.4" />
<circle cx="677.45" cy="147.76" r="1.45" fill="#c4c4c4" stroke="#8a8a8a" stroke-width="0.4" />
<circle cx="681.67" cy="150.1" r="1.45" fill="#c4c4c4" stroke="#8a8a8a" stroke-width="0.4" />
<circle cx="682.51" cy="145.49" r="1.45" fill="#c4c4c4" stroke="#8a8a8a" stroke-width="0.4" />
<circle cx="686.79" cy="147.63" r="1.45" fill="#c4c4c4" stroke="#8a8a8a" stroke-width="0.4" />
<path d="M631.6,144.9 L634.9,145.8 L635.5,141.7 L640.3,142.4 L641.1,138.0 L645.3,138.9 L645.5,134.5 L649.5,134.8 L650.0,131.5 L654.2,132.1 L655.4,128.0 L659.3,128.3 L659.7,124.1 L664.2,125.3 L665.2,120.8 L669.3,122.1 L669.3,118.0 L673.8,118.8 L674.6,114.0 L678.2,114.9 L679.1,110.3" fill="none" stroke="#8a8a8a" stroke-width="0.9"/>
<circle cx="631.62" cy="144.9" r="1.45" fill="#c4c4c4" stroke="#8a8a8a" stroke-width="0.4" />
<circle cx="634.89" cy="145.75" r="1.45" fill="#c4c4c4" stroke="#8a8a8a" stroke-width="0.4" />
<circle cx="635.49" cy="141.74" r="1.45" fill="#c4c4c4" stroke="#8a8a8a" stroke-width="0.4" />
<circle cx="640.34" cy="142.41" r="1.45" fill="#c4c4c4" stroke="#8a8a8a" stroke-width="0.4" />
<circle cx="641.11" cy="138.05" r="1.45" fill="#c4c4c4" stroke="#8a8a8a" stroke-width="0.4" />
<circle cx="645.31" cy="138.86" r="1.45" fill="#c4c4c4" stroke="#8a8a8a" stroke-width="0.4" />
<circle cx="645.52" cy="134.46" r="1.45" fill="#c4c4c4" stroke="#8a8a8a" stroke-width="0.4" />
<circle cx="649.52" cy="134.85" r="1.45" fill="#c4c4c4" stroke="#8a8a8a" stroke-width="0.4" />
<circle cx="649.99" cy="131.47" r="1.45" fill="#c4c4c4" stroke="#8a8a8a" stroke-width="0.4" />
<circle cx="654.2" cy="132.08" r="1.45" fill="#c4c4c4" stroke="#8a8a8a" stroke-width="0.4" />
<circle cx="655.41" cy="127.97" r="1.45" fill="#c4c4c4" stroke="#8a8a8a" stroke-width="0.4" />
<circle cx="659.28" cy="128.34" r="1.45" fill="#c4c4c4" stroke="#8a8a8a" stroke-width="0.4" />
<circle cx="659.71" cy="124.06" r="1.45" fill="#c4c4c4" stroke="#8a8a8a" stroke-width="0.4" />
<circle cx="664.21" cy="125.31" r="1.45" fill="#c4c4c4" stroke="#8a8a8a" stroke-width="0.4" />
<circle cx="665.18" cy="120.81" r="1.45" fill="#c4c4c4" stroke="#8a8a8a" stroke-width="0.4" />
<circle cx="669.29" cy="122.14" r="1.45" fill="#c4c4c4" stroke="#8a8a8a" stroke-width="0.4" />
<circle cx="669.32" cy="118.03" r="1.45" fill="#c4c4c4" stroke="#8a8a8a" stroke-width="0.4" />
<circle cx="673.79" cy="118.79" r="1.45" fill="#c4c4c4" stroke="#8a8a8a" stroke-width="0.4" />
<circle cx="674.61" cy="114.01" r="1.45" fill="#c4c4c4" stroke="#8a8a8a" stroke-width="0.4" />
<circle cx="678.25" cy="114.95" r="1.45" fill="#c4c4c4" stroke="#8a8a8a" stroke-width="0.4" />
<circle cx="679.12" cy="110.31" r="1.45" fill="#c4c4c4" stroke="#8a8a8a" stroke-width="0.4" />
<path d="M647.3,131.0 L651.1,131.1 L650.7,126.4 L655.2,126.3 L654.7,122.0 L658.6,122.2 L658.9,118.6 L663.2,117.9 L662.8,113.6 L667.1,114.2 L666.5,109.5 L671.3,109.7 L671.0,105.4 L675.5,105.6 L674.7,101.0" fill="none" stroke="#8a8a8a" stroke-width="0.9"/>
<circle cx="647.27" cy="131.01" r="1.45" fill="#c4c4c4" stroke="#8a8a8a" stroke-width="0.4" />
<circle cx="651.07" cy="131.13" r="1.45" fill="#c4c4c4" stroke="#8a8a8a" stroke-width="0.4" />
<circle cx="650.65" cy="126.39" r="1.45" fill="#c4c4c4" stroke="#8a8a8a" stroke-width="0.4" />
<circle cx="655.18" cy="126.34" r="1.45" fill="#c4c4c4" stroke="#8a8a8a" stroke-width="0.4" />
<circle cx="654.73" cy="121.98" r="1.45" fill="#c4c4c4" stroke="#8a8a8a" stroke-width="0.4" />
<circle cx="658.65" cy="122.16" r="1.45" fill="#c4c4c4" stroke="#8a8a8a" stroke-width="0.4" />
<circle cx="658.93" cy="118.57" r="1.45" fill="#c4c4c4" stroke="#8a8a8a" stroke-width="0.4" />
<circle cx="663.24" cy="117.94" r="1.45" fill="#c4c4c4" stroke="#8a8a8a" stroke-width="0.4" />
<circle cx="662.81" cy="113.57" r="1.45" fill="#c4c4c4" stroke="#8a8a8a" stroke-width="0.4" />
<circle cx="667.07" cy="114.2" r="1.45" fill="#c4c4c4" stroke="#8a8a8a" stroke-width="0.4" />
<circle cx="666.53" cy="109.48" r="1.45" fill="#c4c4c4" stroke="#8a8a8a" stroke-width="0.4" />
<circle cx="671.28" cy="109.71" r="1.45" fill="#c4c4c4" stroke="#8a8a8a" stroke-width="0.4" />
<circle cx="670.96" cy="105.4" r="1.45" fill="#c4c4c4" stroke="#8a8a8a" stroke-width="0.4" />
<circle cx="675.53" cy="105.57" r="1.45" fill="#c4c4c4" stroke="#8a8a8a" stroke-width="0.4" />
<circle cx="674.65" cy="101.02" r="1.45" fill="#c4c4c4" stroke="#8a8a8a" stroke-width="0.4" />
<path d="M655.2,119.2 L658.7,118.4 L657.9,113.5 L662.6,112.6 L662.1,108.7 L666.0,107.8 L665.6,103.4 L669.6,102.1 L668.6,97.8 L673.7,97.2" fill="none" stroke="#8a8a8a" stroke-width="0.9"/>
<circle cx="655.25" cy="119.2" r="1.45" fill="#c4c4c4" stroke="#8a8a8a" stroke-width="0.4" />
<circle cx="658.72" cy="118.43" r="1.45" fill="#c4c4c4" stroke="#8a8a8a" stroke-width="0.4" />
<circle cx="657.86" cy="113.48" r="1.45" fill="#c4c4c4" stroke="#8a8a8a" stroke-width="0.4" />
<circle cx="662.63" cy="112.6" r="1.45" fill="#c4c4c4" stroke="#8a8a8a" stroke-width="0.4" />
<circle cx="662.08" cy="108.73" r="1.45" fill="#c4c4c4" stroke="#8a8a8a" stroke-width="0.4" />
<circle cx="665.96" cy="107.77" r="1.45" fill="#c4c4c4" stroke="#8a8a8a" stroke-width="0.4" />
<circle cx="665.57" cy="103.37" r="1.45" fill="#c4c4c4" stroke="#8a8a8a" stroke-width="0.4" />
<circle cx="669.65" cy="102.1" r="1.45" fill="#c4c4c4" stroke="#8a8a8a" stroke-width="0.4" />
<circle cx="668.58" cy="97.81" r="1.45" fill="#c4c4c4" stroke="#8a8a8a" stroke-width="0.4" />
<circle cx="673.7" cy="97.22" r="1.45" fill="#c4c4c4" stroke="#8a8a8a" stroke-width="0.4" />
<path d="M618.7,148.3 L623.1,149.8 L624.1,145.0 L628.3,146.3 L629.4,142.0 L633.5,143.1 L634.3,138.3 L638.5,139.2 L638.7,135.4 L642.8,135.8 L644.1,132.1 L647.9,133.4 L649.5,128.7" fill="none" stroke="#8a8a8a" stroke-width="0.9"/>
<circle cx="618.72" cy="148.32" r="1.45" fill="#c4c4c4" stroke="#8a8a8a" stroke-width="0.4" />
<circle cx="623.1" cy="149.78" r="1.45" fill="#c4c4c4" stroke="#8a8a8a" stroke-width="0.4" />
<circle cx="624.11" cy="145.05" r="1.45" fill="#c4c4c4" stroke="#8a8a8a" stroke-width="0.4" />
<circle cx="628.26" cy="146.32" r="1.45" fill="#c4c4c4" stroke="#8a8a8a" stroke-width="0.4" />
<circle cx="629.41" cy="141.99" r="1.45" fill="#c4c4c4" stroke="#8a8a8a" stroke-width="0.4" />
<circle cx="633.48" cy="143.1" r="1.45" fill="#c4c4c4" stroke="#8a8a8a" stroke-width="0.4" />
<circle cx="634.28" cy="138.3" r="1.45" fill="#c4c4c4" stroke="#8a8a8a" stroke-width="0.4" />
<circle cx="638.54" cy="139.21" r="1.45" fill="#c4c4c4" stroke="#8a8a8a" stroke-width="0.4" />
<circle cx="638.72" cy="135.39" r="1.45" fill="#c4c4c4" stroke="#8a8a8a" stroke-width="0.4" />
<circle cx="642.85" cy="135.82" r="1.45" fill="#c4c4c4" stroke="#8a8a8a" stroke-width="0.4" />
<circle cx="644.06" cy="132.05" r="1.45" fill="#c4c4c4" stroke="#8a8a8a" stroke-width="0.4" />
<circle cx="647.94" cy="133.37" r="1.45" fill="#c4c4c4" stroke="#8a8a8a" stroke-width="0.4" />
<circle cx="649.52" cy="128.74" r="1.45" fill="#c4c4c4" stroke="#8a8a8a" stroke-width="0.4" />
<path d="M659.4,148.5 L663.8,149.5 L664.3,145.6 L668.9,147.1 L669.6,143.0 L674.1,144.1 L675.2,140.5 L678.9,141.4 L680.0,137.4 L683.9,138.8 L685.2,134.5" fill="none" stroke="#8a8a8a" stroke-width="0.9"/>
<circle cx="659.38" cy="148.49" r="1.45" fill="#c4c4c4" stroke="#8a8a8a" stroke-width="0.4" />
<circle cx="663.79" cy="149.54" r="1.45" fill="#c4c4c4" stroke="#8a8a8a" stroke-width="0.4" />
<circle cx="664.29" cy="145.6" r="1.45" fill="#c4c4c4" stroke="#8a8a8a" stroke-width="0.4" />
<circle cx="668.88" cy="147.13" r="1.45" fill="#c4c4c4" stroke="#8a8a8a" stroke-width="0.4" />
<circle cx="669.6" cy="142.98" r="1.45" fill="#c4c4c4" stroke="#8a8a8a" stroke-width="0.4" />
<circle cx="674.1" cy="144.08" r="1.45" fill="#c4c4c4" stroke="#8a8a8a" stroke-width="0.4" />
<circle cx="675.18" cy="140.49" r="1.45" fill="#c4c4c4" stroke="#8a8a8a" stroke-width="0.4" />
<circle cx="678.86" cy="141.39" r="1.45" fill="#c4c4c4" stroke="#8a8a8a" stroke-width="0.4" />
<circle cx="680.03" cy="137.43" r="1.45" fill="#c4c4c4" stroke="#8a8a8a" stroke-width="0.4" />
<circle cx="683.93" cy="138.84" r="1.45" fill="#c4c4c4" stroke="#8a8a8a" stroke-width="0.4" />
<circle cx="685.2" cy="134.48" r="1.45" fill="#c4c4c4" stroke="#8a8a8a" stroke-width="0.4" />
<line x1="547" y1="167" x2="550.25" y2="168" stroke="#999" stroke-width="0.8" />
<circle cx="550.25" cy="168" r="1.4" fill="#f01818" stroke="#b01010" stroke-width="0.3" />
<line x1="547" y1="167" x2="545.9" y2="170.22" stroke="#999" stroke-width="0.8" />
<circle cx="545.9" cy="170.22" r="1.4" fill="#f01818" stroke="#b01010" stroke-width="0.3" />
<line x1="547" y1="167" x2="543.71" y2="166.13" stroke="#999" stroke-width="0.8" />
<circle cx="543.71" cy="166.13" r="1.4" fill="#f01818" stroke="#b01010" stroke-width="0.3" />
<line x1="547" y1="167" x2="547.63" y2="163.66" stroke="#999" stroke-width="0.8" />
<circle cx="547.63" cy="163.66" r="1.4" fill="#f01818" stroke="#b01010" stroke-width="0.3" />
<circle cx="547" cy="167" r="2.1" fill="#f7941d" stroke="#c06a10" stroke-width="0.3" />
<line x1="552" y1="158" x2="555.25" y2="159" stroke="#999" stroke-width="0.8" />
<circle cx="555.25" cy="159" r="1.4" fill="#f01818" stroke="#b01010" stroke-width="0.3" />
<line x1="552" y1="158" x2="550.9" y2="161.22" stroke="#999" stroke-width="0.8" />
<circle cx="550.9" cy="161.22" r="1.4" fill="#f01818" stroke="#b01010" stroke-width="0.3" />
<line x1="552" y1="158" x2="548.71" y2="157.13" stroke="#999" stroke-width="0.8" />
<circle cx="548.71" cy="157.13" r="1.4" fill="#f01818" stroke="#b01010" stroke-width="0.3" />
<line x1="552" y1="158" x2="552.63" y2="154.66" stroke="#999" stroke-width="0.8" />
<circle cx="552.63" cy="154.66" r="1.4" fill="#f01818" stroke="#b01010" stroke-width="0.3" />
<circle cx="552" cy="158" r="2.1" fill="#f7941d" stroke="#c06a10" stroke-width="0.3" />
<circle cx="540" cy="150" r="1.6" fill="#f01818" stroke="#b01010" stroke-width="0.3" />
<circle cx="546" cy="152" r="1.6" fill="#f01818" stroke="#b01010" stroke-width="0.3" />
<circle cx="556" cy="150" r="1.6" fill="#f01818" stroke="#b01010" stroke-width="0.3" />
<circle cx="560" cy="162" r="1.6" fill="#f01818" stroke="#b01010" stroke-width="0.3" />
<circle cx="538" cy="160" r="1.6" fill="#f01818" stroke="#b01010" stroke-width="0.3" />
<circle cx="628" cy="133" r="1.6" fill="#f01818" stroke="#b01010" stroke-width="0.3" />
<circle cx="632" cy="136" r="1.6" fill="#f01818" stroke="#b01010" stroke-width="0.3" />
<circle cx="636" cy="134" r="1.6" fill="#f01818" stroke="#b01010" stroke-width="0.3" />
<circle cx="620" cy="140" r="1.6" fill="#f01818" stroke="#b01010" stroke-width="0.3" />
<circle cx="625" cy="150" r="1.6" fill="#f01818" stroke="#b01010" stroke-width="0.3" />
<circle cx="632" cy="160" r="1.6" fill="#f01818" stroke="#b01010" stroke-width="0.3" />
<circle cx="642" cy="142" r="1.6" fill="#f01818" stroke="#b01010" stroke-width="0.3" />
<path d="M555.4,108.9 L558.6,109.3 L558.1,114.0 L554.8,114.2 L553.8,110.9 L556.2,108.0" fill="none" stroke="#2a8a36" stroke-width="1.3"/>
<circle cx="555.44" cy="108.94" r="1.35" fill="#33a041" stroke="#1f6d28" stroke-width="0.35" />
<circle cx="558.65" cy="109.27" r="1.35" fill="#33a041" stroke="#1f6d28" stroke-width="0.35" />
<circle cx="558.1" cy="113.96" r="1.35" fill="#33a041" stroke="#1f6d28" stroke-width="0.35" />
<circle cx="554.8" cy="114.23" r="1.35" fill="#33a041" stroke="#1f6d28" stroke-width="0.35" />
<circle cx="553.78" cy="110.91" r="1.35" fill="#33a041" stroke="#1f6d28" stroke-width="0.35" />
<circle cx="556.25" cy="107.98" r="1.35" fill="#33a041" stroke="#1f6d28" stroke-width="0.35" />
<path d="M553.2,117.9 L556.4,117.7 L556.3,121.4 L553.5,121.2 L551.4,119.3 L553.3,117.0" fill="none" stroke="#2a8a36" stroke-width="1.3"/>
<circle cx="553.18" cy="117.93" r="1.35" fill="#33a041" stroke="#1f6d28" stroke-width="0.35" />
<circle cx="556.43" cy="117.67" r="1.35" fill="#33a041" stroke="#1f6d28" stroke-width="0.35" />
<circle cx="556.25" cy="121.36" r="1.35" fill="#33a041" stroke="#1f6d28" stroke-width="0.35" />
<circle cx="553.54" cy="121.22" r="1.35" fill="#33a041" stroke="#1f6d28" stroke-width="0.35" />
<circle cx="551.37" cy="119.25" r="1.35" fill="#33a041" stroke="#1f6d28" stroke-width="0.35" />
<circle cx="553.31" cy="117.04" r="1.35" fill="#33a041" stroke="#1f6d28" stroke-width="0.35" />
<path d="M551.0,128.7 L548.3,128.7 L545.6,125.7 L547.8,123.3 L551.5,124.2 L550.8,128.0" fill="none" stroke="#2a8a36" stroke-width="1.3"/>
<circle cx="550.97" cy="128.65" r="1.35" fill="#33a041" stroke="#1f6d28" stroke-width="0.35" />
<circle cx="548.33" cy="128.72" r="1.35" fill="#33a041" stroke="#1f6d28" stroke-width="0.35" />
<circle cx="545.57" cy="125.67" r="1.35" fill="#33a041" stroke="#1f6d28" stroke-width="0.35" />
<circle cx="547.81" cy="123.27" r="1.35" fill="#33a041" stroke="#1f6d28" stroke-width="0.35" />
<circle cx="551.52" cy="124.19" r="1.35" fill="#33a041" stroke="#1f6d28" stroke-width="0.35" />
<circle cx="550.82" cy="128" r="1.35" fill="#33a041" stroke="#1f6d28" stroke-width="0.35" />
<path d="M549.4,130.9 L551.9,132.6 L552.1,135.8 L548.3,136.6 L546.5,134.2 L548.7,132.5" fill="none" stroke="#2a8a36" stroke-width="1.3"/>
<circle cx="549.44" cy="130.91" r="1.35" fill="#33a041" stroke="#1f6d28" stroke-width="0.35" />
<circle cx="551.89" cy="132.64" r="1.35" fill="#33a041" stroke="#1f6d28" stroke-width="0.35" />
<circle cx="552.07" cy="135.83" r="1.35" fill="#33a041" stroke="#1f6d28" stroke-width="0.35" />
<circle cx="548.3" cy="136.57" r="1.35" fill="#33a041" stroke="#1f6d28" stroke-width="0.35" />
<circle cx="546.54" cy="134.16" r="1.35" fill="#33a041" stroke="#1f6d28" stroke-width="0.35" />
<circle cx="548.74" cy="132.46" r="1.35" fill="#33a041" stroke="#1f6d28" stroke-width="0.35" />
<path d="M555.6,139.7 L556.2,142.7 L554.7,145.1 L551.1,144.5 L551.4,140.4 L554.7,139.5" fill="none" stroke="#2a8a36" stroke-width="1.3"/>
<circle cx="555.64" cy="139.7" r="1.35" fill="#33a041" stroke="#1f6d28" stroke-width="0.35" />
<circle cx="556.19" cy="142.68" r="1.35" fill="#33a041" stroke="#1f6d28" stroke-width="0.35" />
<circle cx="554.75" cy="145.13" r="1.35" fill="#33a041" stroke="#1f6d28" stroke-width="0.35" />
<circle cx="551.14" cy="144.55" r="1.35" fill="#33a041" stroke="#1f6d28" stroke-width="0.35" />
<circle cx="551.38" cy="140.38" r="1.35" fill="#33a041" stroke="#1f6d28" stroke-width="0.35" />
<circle cx="554.71" cy="139.46" r="1.35" fill="#33a041" stroke="#1f6d28" stroke-width="0.35" />
<path d="M549.7,145.7 L549.0,148.7 L546.9,150.3 L545.1,149.2 L545.3,146.4 L547.3,144.2" fill="none" stroke="#2a8a36" stroke-width="1.3"/>
<circle cx="549.72" cy="145.72" r="1.35" fill="#33a041" stroke="#1f6d28" stroke-width="0.35" />
<circle cx="548.97" cy="148.67" r="1.35" fill="#33a041" stroke="#1f6d28" stroke-width="0.35" />
<circle cx="546.88" cy="150.3" r="1.35" fill="#33a041" stroke="#1f6d28" stroke-width="0.35" />
<circle cx="545.11" cy="149.16" r="1.35" fill="#33a041" stroke="#1f6d28" stroke-width="0.35" />
<circle cx="545.28" cy="146.35" r="1.35" fill="#33a041" stroke="#1f6d28" stroke-width="0.35" />
<circle cx="547.27" cy="144.18" r="1.35" fill="#33a041" stroke="#1f6d28" stroke-width="0.35" />
<line x1="606" y1="125" x2="609.53" y2="122.73" stroke="#2a8a36" stroke-width="1.3" />
<line x1="606" y1="125" x2="606.4" y2="129.18" stroke="#2a8a36" stroke-width="1.3" />
<line x1="606" y1="125" x2="602.11" y2="123.41" stroke="#2a8a36" stroke-width="1.3" />
<line x1="609.53" y1="122.73" x2="612.46" y2="124.65" stroke="#2a8a36" stroke-width="1.3" />
<circle cx="606" cy="125" r="1.45" fill="#33a041" stroke="#1f6d28" stroke-width="0.35" />
<circle cx="609.53" cy="122.73" r="1.45" fill="#33a041" stroke="#1f6d28" stroke-width="0.35" />
<circle cx="606.4" cy="129.18" r="1.45" fill="#33a041" stroke="#1f6d28" stroke-width="0.35" />
<circle cx="602.11" cy="123.41" r="1.45" fill="#33a041" stroke="#1f6d28" stroke-width="0.35" />
<circle cx="612.46" cy="124.65" r="1.45" fill="#33a041" stroke="#1f6d28" stroke-width="0.35" />
<line x1="642" y1="106" x2="645.17" y2="108.75" stroke="#2a8a36" stroke-width="1.3" />
<line x1="642" y1="106" x2="638.08" y2="107.52" stroke="#2a8a36" stroke-width="1.3" />
<line x1="642" y1="106" x2="641.43" y2="101.84" stroke="#2a8a36" stroke-width="1.3" />
<line x1="645.17" y1="108.75" x2="645.29" y2="112.25" stroke="#2a8a36" stroke-width="1.3" />
<circle cx="642" cy="106" r="1.45" fill="#33a041" stroke="#1f6d28" stroke-width="0.35" />
<circle cx="645.17" cy="108.75" r="1.45" fill="#33a041" stroke="#1f6d28" stroke-width="0.35" />
<circle cx="638.08" cy="107.52" r="1.45" fill="#33a041" stroke="#1f6d28" stroke-width="0.35" />
<circle cx="641.43" cy="101.84" r="1.45" fill="#33a041" stroke="#1f6d28" stroke-width="0.35" />
<circle cx="645.29" cy="112.25" r="1.45" fill="#33a041" stroke="#1f6d28" stroke-width="0.35" />
<line x1="643" y1="123" x2="638.8" y2="122.8" stroke="#2a8a36" stroke-width="1.3" />
<line x1="643" y1="123" x2="643.69" y2="118.86" stroke="#2a8a36" stroke-width="1.3" />
<line x1="643" y1="123" x2="644.68" y2="126.85" stroke="#2a8a36" stroke-width="1.3" />
<line x1="638.8" y1="122.8" x2="636.71" y2="120" stroke="#2a8a36" stroke-width="1.3" />
<circle cx="643" cy="123" r="1.45" fill="#33a041" stroke="#1f6d28" stroke-width="0.35" />
<circle cx="638.8" cy="122.8" r="1.45" fill="#33a041" stroke="#1f6d28" stroke-width="0.35" />
<circle cx="643.69" cy="118.86" r="1.45" fill="#33a041" stroke="#1f6d28" stroke-width="0.35" />
<circle cx="644.68" cy="126.85" r="1.45" fill="#33a041" stroke="#1f6d28" stroke-width="0.35" />
<circle cx="636.71" cy="120" r="1.45" fill="#33a041" stroke="#1f6d28" stroke-width="0.35" />
<line x1="643" y1="139" x2="645.06" y2="135.34" stroke="#2a8a36" stroke-width="1.3" />
<line x1="643" y1="139" x2="644.01" y2="143.08" stroke="#2a8a36" stroke-width="1.3" />
<line x1="643" y1="139" x2="638.96" y2="137.87" stroke="#2a8a36" stroke-width="1.3" />
<line x1="645.06" y1="135.34" x2="648.54" y2="135.74" stroke="#2a8a36" stroke-width="1.3" />
<circle cx="643" cy="139" r="1.45" fill="#33a041" stroke="#1f6d28" stroke-width="0.35" />
<circle cx="645.06" cy="135.34" r="1.45" fill="#33a041" stroke="#1f6d28" stroke-width="0.35" />
<circle cx="644.01" cy="143.08" r="1.45" fill="#33a041" stroke="#1f6d28" stroke-width="0.35" />
<circle cx="638.96" cy="137.87" r="1.45" fill="#33a041" stroke="#1f6d28" stroke-width="0.35" />
<circle cx="648.54" cy="135.74" r="1.45" fill="#33a041" stroke="#1f6d28" stroke-width="0.35" />
<path d="M653.7,167.8 L652.9,164.8 L656.4,163.7 L657.8,167.1 L656.6,169.3 L653.7,169.4" fill="none" stroke="#2a8a36" stroke-width="1.3"/>
<circle cx="653.73" cy="167.83" r="1.35" fill="#33a041" stroke="#1f6d28" stroke-width="0.35" />
<circle cx="652.94" cy="164.77" r="1.35" fill="#33a041" stroke="#1f6d28" stroke-width="0.35" />
<circle cx="656.41" cy="163.71" r="1.35" fill="#33a041" stroke="#1f6d28" stroke-width="0.35" />
<circle cx="657.82" cy="167.09" r="1.35" fill="#33a041" stroke="#1f6d28" stroke-width="0.35" />
<circle cx="656.63" cy="169.28" r="1.35" fill="#33a041" stroke="#1f6d28" stroke-width="0.35" />
<circle cx="653.72" cy="169.44" r="1.35" fill="#33a041" stroke="#1f6d28" stroke-width="0.35" />
<path d="M653.9,171.8 L657.2,173.3 L658.7,175.7 L656.7,178.0 L653.7,175.5 L654.1,173.3" fill="none" stroke="#2a8a36" stroke-width="1.3"/>
<circle cx="653.95" cy="171.81" r="1.35" fill="#33a041" stroke="#1f6d28" stroke-width="0.35" />
<circle cx="657.24" cy="173.29" r="1.35" fill="#33a041" stroke="#1f6d28" stroke-width="0.35" />
<circle cx="658.65" cy="175.7" r="1.35" fill="#33a041" stroke="#1f6d28" stroke-width="0.35" />
<circle cx="656.68" cy="178.01" r="1.35" fill="#33a041" stroke="#1f6d28" stroke-width="0.35" />
<circle cx="653.66" cy="175.53" r="1.35" fill="#33a041" stroke="#1f6d28" stroke-width="0.35" />
<circle cx="654.09" cy="173.28" r="1.35" fill="#33a041" stroke="#1f6d28" stroke-width="0.35" />
<text x="555.6" y="117.9" font-size="9.9" fill="#231f20" stroke="#231f20" stroke-width="0.22" text-anchor="start" font-weight="bold" >b.L50</text>
<text x="514.8" y="134.7" font-size="9.9" fill="#231f20" stroke="#231f20" stroke-width="0.22" text-anchor="start" font-weight="bold" >b.I90</text>
<text x="564" y="133.9" font-size="9.9" fill="#231f20" stroke="#231f20" stroke-width="0.22" text-anchor="start" font-weight="bold" >b.L46</text>
<text x="564" y="147.6" font-size="9.9" fill="#231f20" stroke="#231f20" stroke-width="0.22" text-anchor="start" font-weight="bold" >b.Y97</text>
<text x="600.5" y="120.9" font-size="9.9" fill="#231f20" stroke="#231f20" stroke-width="0.22" text-anchor="start" font-weight="bold" >a.L44</text>
<text x="634.6" y="98.4" font-size="9.9" fill="#231f20" stroke="#231f20" stroke-width="0.22" text-anchor="start" font-weight="bold" >a.L50</text>
<text x="647.4" y="123.9" font-size="9.9" fill="#231f20" stroke="#231f20" stroke-width="0.22" text-anchor="start" font-weight="bold" >a.L46</text>
<text x="647.4" y="140.9" font-size="9.9" fill="#231f20" stroke="#231f20" stroke-width="0.22" text-anchor="start" font-weight="bold" >a.I90</text>
<text x="657.7" y="179.1" font-size="9.9" fill="#231f20" stroke="#231f20" stroke-width="0.22" text-anchor="start" font-weight="bold" >a.Y97</text>
<text x="0.5" y="200" font-size="16.5" fill="#231f20" stroke="#231f20" stroke-width="0.22" text-anchor="start" font-weight="bold" >b</text>
<line x1="35.8" y1="203.9" x2="55.6" y2="203.9" stroke="#231f20" stroke-width="1.4" stroke-dasharray="3,2.2"/>
<polyline points="55.6,198.6 60.55,209.2 65.5,198.6 70.45,209.2 75.4,198.6" fill="none" stroke="#231f20" stroke-width="1.55" stroke-linejoin="bevel"/>
<rect x="55.6" y="198.6" width="19.8" height="10.6" fill="none" stroke="#231f20" stroke-width="1.6" />
<line x1="75.4" y1="203.9" x2="97" y2="203.9" stroke="#231f20" stroke-width="1.4" stroke-dasharray="3,2.2"/>
<polyline points="97,198.6 100.31,209.2 103.62,198.6 106.94,209.2 110.25,198.6 113.56,209.2 116.88,198.6 120.19,209.2 123.5,198.6 126.81,209.2 130.12,198.6 133.44,209.2 136.75,198.6 140.06,209.2 143.38,198.6 146.69,209.2 150,198.6 153.31,209.2 156.62,198.6 159.94,209.2 163.25,198.6 166.56,209.2 169.88,198.6 173.19,209.2 176.5,198.6" fill="none" stroke="#231f20" stroke-width="1.55" stroke-linejoin="bevel"/>
<rect x="97" y="198.6" width="79.5" height="10.6" fill="none" stroke="#231f20" stroke-width="1.6" />
<line x1="176.5" y1="203.9" x2="199.5" y2="203.9" stroke="#231f20" stroke-width="1.4" />
<polyline points="199.5,198.6 202.91,209.2 206.32,198.6 209.74,209.2 213.15,198.6 216.56,209.2 219.97,198.6 223.39,209.2 226.8,198.6 230.21,209.2 233.62,198.6 237.04,209.2 240.45,198.6 243.86,209.2 247.27,198.6 250.69,209.2 254.1,198.6 257.51,209.2 260.92,198.6 264.34,209.2 267.75,198.6 271.16,209.2 274.57,198.6 277.99,209.2 281.4,198.6" fill="none" stroke="#231f20" stroke-width="1.55" stroke-linejoin="bevel"/>
<rect x="199.5" y="198.6" width="81.9" height="10.6" fill="none" stroke="#231f20" stroke-width="1.6" />
<line x1="281.4" y1="203.9" x2="288.8" y2="203.9" stroke="#231f20" stroke-width="1.4" />
<polyline points="288.8,198.6 292.03,209.2 295.25,198.6 298.48,209.2 301.71,198.6 304.93,209.2 308.16,198.6 311.39,209.2 314.62,198.6 317.84,209.2 321.07,198.6 324.3,209.2 327.52,198.6 330.75,209.2 333.98,198.6 337.2,209.2 340.43,198.6 343.66,209.2 346.88,198.6 350.11,209.2 353.34,198.6 356.57,209.2 359.79,198.6 363.02,209.2 366.25,198.6 369.47,209.2 372.7,198.6" fill="none" stroke="#231f20" stroke-width="1.55" stroke-linejoin="bevel"/>
<rect x="288.8" y="198.6" width="83.9" height="10.6" fill="none" stroke="#231f20" stroke-width="1.6" />
<line x1="372.7" y1="203.9" x2="394.3" y2="203.9" stroke="#231f20" stroke-width="1.4" />
<text x="67.8" y="195" font-size="7.6" fill="#231f20" stroke="#231f20" stroke-width="0.22" text-anchor="middle" font-weight="bold" >N-helix</text>
<text x="131" y="195" font-size="7.6" fill="#231f20" stroke="#231f20" stroke-width="0.22" text-anchor="middle" font-weight="bold" >TM1</text>
<text x="188.9" y="195" font-size="7.6" fill="#231f20" stroke="#231f20" stroke-width="0.22" text-anchor="middle" font-weight="bold" >L1-2</text>
<text x="239.4" y="195" font-size="7.6" fill="#231f20" stroke="#231f20" stroke-width="0.22" text-anchor="middle" font-weight="bold" >TM2</text>
<text x="286.3" y="195.2" font-size="7.6" fill="#231f20" stroke="#231f20" stroke-width="0.22" text-anchor="middle" font-weight="bold" >L2-3</text>
<text x="338" y="195" font-size="7.6" fill="#231f20" stroke="#231f20" stroke-width="0.22" text-anchor="middle" font-weight="bold" >TM3</text>
<rect x="108.65" y="259.53" width="2.7" height="3.27" fill="#8a8a8a" stroke="#555" stroke-width="0.5" />
<rect x="112.35" y="245.91" width="2.7" height="16.9" fill="#8a8a8a" stroke="#555" stroke-width="0.5" />
<rect x="119.75" y="257.35" width="2.7" height="5.45" fill="#8a8a8a" stroke="#555" stroke-width="0.5" />
<rect x="123.45" y="252.99" width="2.7" height="9.81" fill="#8a8a8a" stroke="#555" stroke-width="0.5" />
<rect x="127.15" y="233.92" width="2.7" height="28.88" fill="#8a8a8a" stroke="#555" stroke-width="0.5" />
<rect x="134.55" y="239.91" width="2.7" height="22.89" fill="#8a8a8a" stroke="#555" stroke-width="0.5" />
<rect x="138.25" y="235.82" width="2.7" height="26.98" fill="#8a8a8a" stroke="#555" stroke-width="0.5" />
<rect x="141.95" y="258.99" width="2.7" height="3.81" fill="#8a8a8a" stroke="#555" stroke-width="0.5" />
<rect x="145.65" y="262.8" width="2.7" height="0.55" fill="#8a8a8a" stroke="#555" stroke-width="0.5" />
<rect x="149.35" y="243.18" width="2.7" height="19.62" fill="#8a8a8a" stroke="#555" stroke-width="0.5" />
<rect x="153.05" y="229.01" width="2.7" height="33.79" fill="#8a8a8a" stroke="#555" stroke-width="0.5" />
<rect x="156.75" y="258.99" width="2.7" height="3.81" fill="#8a8a8a" stroke="#555" stroke-width="0.5" />
<rect x="160.45" y="243.73" width="2.7" height="19.07" fill="#8a8a8a" stroke="#555" stroke-width="0.5" />
<rect x="164.15" y="221.38" width="2.7" height="41.42" fill="#8a8a8a" stroke="#555" stroke-width="0.5" />
<rect x="167.85" y="256.26" width="2.7" height="6.54" fill="#8a8a8a" stroke="#555" stroke-width="0.5" />
<rect x="171.55" y="241.27" width="2.7" height="21.53" fill="#8a8a8a" stroke="#555" stroke-width="0.5" />
<rect x="175.25" y="238.49" width="2.7" height="24.31" fill="#8a8a8a" stroke="#555" stroke-width="0.5" />
<rect x="178.95" y="262.8" width="2.7" height="12.92" fill="#8a8a8a" stroke="#555" stroke-width="0.5" />
<rect x="182.65" y="240.02" width="2.7" height="22.78" fill="#8a8a8a" stroke="#555" stroke-width="0.5" />
<rect x="186.35" y="250.05" width="2.7" height="12.75" fill="#8a8a8a" stroke="#555" stroke-width="0.5" />
<rect x="190.05" y="249.56" width="2.7" height="13.24" fill="#8a8a8a" stroke="#555" stroke-width="0.5" />
<rect x="193.75" y="246.18" width="2.7" height="16.62" fill="#8a8a8a" stroke="#555" stroke-width="0.5" />
<rect x="197.45" y="245.91" width="2.7" height="16.9" fill="#8a8a8a" stroke="#555" stroke-width="0.5" />
<rect x="201.15" y="262.8" width="2.7" height="35.7" fill="#8a8a8a" stroke="#555" stroke-width="0.5" />
<rect x="204.85" y="254.95" width="2.7" height="7.85" fill="#8a8a8a" stroke="#555" stroke-width="0.5" />
<rect x="208.55" y="218.11" width="2.7" height="44.69" fill="#8a8a8a" stroke="#555" stroke-width="0.5" />
<rect x="215.95" y="262.8" width="2.7" height="14.93" fill="#8a8a8a" stroke="#555" stroke-width="0.5" />
<rect x="219.65" y="254.19" width="2.7" height="8.61" fill="#8a8a8a" stroke="#555" stroke-width="0.5" />
<rect x="223.35" y="240.02" width="2.7" height="22.78" fill="#8a8a8a" stroke="#555" stroke-width="0.5" />
<rect x="234.45" y="254.19" width="2.7" height="8.61" fill="#8a8a8a" stroke="#555" stroke-width="0.5" />
<rect x="319.55" y="261.71" width="2.7" height="1.09" fill="#8a8a8a" stroke="#555" stroke-width="0.5" />
<rect x="334.35" y="234.46" width="2.7" height="28.34" fill="#8a8a8a" stroke="#555" stroke-width="0.5" />
<rect x="338.05" y="262.8" width="2.7" height="0.55" fill="#8a8a8a" stroke="#555" stroke-width="0.5" />
<rect x="345.45" y="262.15" width="2.7" height="0.65" fill="#8a8a8a" stroke="#555" stroke-width="0.5" />
<rect x="349.15" y="262.8" width="2.7" height="14.71" fill="#8a8a8a" stroke="#555" stroke-width="0.5" />
<rect x="360.25" y="262.8" width="2.7" height="14.71" fill="#8a8a8a" stroke="#555" stroke-width="0.5" />
<rect x="371.35" y="262.8" width="2.7" height="1.09" fill="#8a8a8a" stroke="#555" stroke-width="0.5" />
<rect x="375.05" y="259.53" width="2.7" height="3.27" fill="#8a8a8a" stroke="#555" stroke-width="0.5" />
<rect x="378.75" y="245.36" width="2.7" height="17.44" fill="#8a8a8a" stroke="#555" stroke-width="0.5" />
<rect x="382.45" y="262.8" width="2.7" height="13.62" fill="#8a8a8a" stroke="#555" stroke-width="0.5" />
<rect x="389.85" y="262.8" width="2.7" height="12.54" fill="#8a8a8a" stroke="#555" stroke-width="0.5" />
<line x1="32.7" y1="208.6" x2="32.7" y2="306.9" stroke="#231f20" stroke-width="1.3" />
<line x1="30.1" y1="306.4" x2="32.7" y2="306.4" stroke="#231f20" stroke-width="1" />
<line x1="31.1" y1="295.5" x2="32.7" y2="295.5" stroke="#231f20" stroke-width="1" />
<line x1="30.1" y1="284.6" x2="32.7" y2="284.6" stroke="#231f20" stroke-width="1" />
<line x1="31.1" y1="273.7" x2="32.7" y2="273.7" stroke="#231f20" stroke-width="1" />
<line x1="30.1" y1="262.8" x2="32.7" y2="262.8" stroke="#231f20" stroke-width="1" />
<line x1="31.1" y1="251.9" x2="32.7" y2="251.9" stroke="#231f20" stroke-width="1" />
<line x1="30.1" y1="241" x2="32.7" y2="241" stroke="#231f20" stroke-width="1" />
<line x1="31.1" y1="230.1" x2="32.7" y2="230.1" stroke="#231f20" stroke-width="1" />
<line x1="30.1" y1="219.2" x2="32.7" y2="219.2" stroke="#231f20" stroke-width="1" />
<text x="24.9" y="222.2" font-size="8.2" fill="#231f20" stroke="#231f20" stroke-width="0.22" text-anchor="middle" font-weight="bold" >80</text>
<text x="24.9" y="244" font-size="8.2" fill="#231f20" stroke="#231f20" stroke-width="0.22" text-anchor="middle" font-weight="bold" >40</text>
<text x="24.9" y="265.8" font-size="8.2" fill="#231f20" stroke="#231f20" stroke-width="0.22" text-anchor="middle" font-weight="bold" >0</text>
<text x="24.9" y="287.6" font-size="8.2" fill="#231f20" stroke="#231f20" stroke-width="0.22" text-anchor="middle" font-weight="bold" >-40</text>
<text x="24.9" y="309.4" font-size="8.2" fill="#231f20" stroke="#231f20" stroke-width="0.22" text-anchor="middle" font-weight="bold" >-80</text>
<line x1="32.7" y1="262.8" x2="394.5" y2="262.8" stroke="#231f20" stroke-width="1.6" />
<line x1="36" y1="262.8" x2="36" y2="264" stroke="#231f20" stroke-width="0.8" />
<line x1="39.7" y1="262.8" x2="39.7" y2="264" stroke="#231f20" stroke-width="0.8" />
<line x1="43.4" y1="262.8" x2="43.4" y2="264" stroke="#231f20" stroke-width="0.8" />
<line x1="47.1" y1="262.8" x2="47.1" y2="264" stroke="#231f20" stroke-width="0.8" />
<line x1="50.8" y1="262.8" x2="50.8" y2="265" stroke="#231f20" stroke-width="0.8" />
<line x1="54.5" y1="262.8" x2="54.5" y2="264" stroke="#231f20" stroke-width="0.8" />
<line x1="58.2" y1="262.8" x2="58.2" y2="264" stroke="#231f20" stroke-width="0.8" />
<line x1="61.9" y1="262.8" x2="61.9" y2="264" stroke="#231f20" stroke-width="0.8" />
<line x1="65.6" y1="262.8" x2="65.6" y2="264" stroke="#231f20" stroke-width="0.8" />
<line x1="69.3" y1="262.8" x2="69.3" y2="265" stroke="#231f20" stroke-width="0.8" />
<line x1="73" y1="262.8" x2="73" y2="264" stroke="#231f20" stroke-width="0.8" />
<line x1="76.7" y1="262.8" x2="76.7" y2="264" stroke="#231f20" stroke-width="0.8" />
<line x1="80.4" y1="262.8" x2="80.4" y2="264" stroke="#231f20" stroke-width="0.8" />
<line x1="84.1" y1="262.8" x2="84.1" y2="264" stroke="#231f20" stroke-width="0.8" />
<line x1="87.8" y1="262.8" x2="87.8" y2="265" stroke="#231f20" stroke-width="0.8" />
<line x1="91.5" y1="262.8" x2="91.5" y2="264" stroke="#231f20" stroke-width="0.8" />
<line x1="95.2" y1="262.8" x2="95.2" y2="264" stroke="#231f20" stroke-width="0.8" />
<line x1="98.9" y1="262.8" x2="98.9" y2="264" stroke="#231f20" stroke-width="0.8" />
<line x1="102.6" y1="262.8" x2="102.6" y2="264" stroke="#231f20" stroke-width="0.8" />
<line x1="106.3" y1="262.8" x2="106.3" y2="265" stroke="#231f20" stroke-width="0.8" />
<line x1="110" y1="262.8" x2="110" y2="264" stroke="#231f20" stroke-width="0.8" />
<line x1="113.7" y1="262.8" x2="113.7" y2="264" stroke="#231f20" stroke-width="0.8" />
<line x1="117.4" y1="262.8" x2="117.4" y2="264" stroke="#231f20" stroke-width="0.8" />
<line x1="121.1" y1="262.8" x2="121.1" y2="264" stroke="#231f20" stroke-width="0.8" />
<line x1="124.8" y1="262.8" x2="124.8" y2="265" stroke="#231f20" stroke-width="0.8" />
<line x1="128.5" y1="262.8" x2="128.5" y2="264" stroke="#231f20" stroke-width="0.8" />
<line x1="132.2" y1="262.8" x2="132.2" y2="264" stroke="#231f20" stroke-width="0.8" />
<line x1="135.9" y1="262.8" x2="135.9" y2="264" stroke="#231f20" stroke-width="0.8" />
<line x1="139.6" y1="262.8" x2="139.6" y2="264" stroke="#231f20" stroke-width="0.8" />
<line x1="143.3" y1="262.8" x2="143.3" y2="265" stroke="#231f20" stroke-width="0.8" />
<line x1="147" y1="262.8" x2="147" y2="264" stroke="#231f20" stroke-width="0.8" />
<line x1="150.7" y1="262.8" x2="150.7" y2="264" stroke="#231f20" stroke-width="0.8" />
<line x1="154.4" y1="262.8" x2="154.4" y2="264" stroke="#231f20" stroke-width="0.8" />
<line x1="158.1" y1="262.8" x2="158.1" y2="264" stroke="#231f20" stroke-width="0.8" />
<line x1="161.8" y1="262.8" x2="161.8" y2="265" stroke="#231f20" stroke-width="0.8" />
<line x1="165.5" y1="262.8" x2="165.5" y2="264" stroke="#231f20" stroke-width="0.8" />
<line x1="169.2" y1="262.8" x2="169.2" y2="264" stroke="#231f20" stroke-width="0.8" />
<line x1="172.9" y1="262.8" x2="172.9" y2="264" stroke="#231f20" stroke-width="0.8" />
<line x1="176.6" y1="262.8" x2="176.6" y2="264" stroke="#231f20" stroke-width="0.8" />
<line x1="180.3" y1="262.8" x2="180.3" y2="265" stroke="#231f20" stroke-width="0.8" />
<line x1="184" y1="262.8" x2="184" y2="264" stroke="#231f20" stroke-width="0.8" />
<line x1="187.7" y1="262.8" x2="187.7" y2="264" stroke="#231f20" stroke-width="0.8" />
<line x1="191.4" y1="262.8" x2="191.4" y2="264" stroke="#231f20" stroke-width="0.8" />
<line x1="195.1" y1="262.8" x2="195.1" y2="264" stroke="#231f20" stroke-width="0.8" />
<line x1="198.8" y1="262.8" x2="198.8" y2="265" stroke="#231f20" stroke-width="0.8" />
<line x1="202.5" y1="262.8" x2="202.5" y2="264" stroke="#231f20" stroke-width="0.8" />
<line x1="206.2" y1="262.8" x2="206.2" y2="264" stroke="#231f20" stroke-width="0.8" />
<line x1="209.9" y1="262.8" x2="209.9" y2="264" stroke="#231f20" stroke-width="0.8" />
<line x1="213.6" y1="262.8" x2="213.6" y2="264" stroke="#231f20" stroke-width="0.8" />
<line x1="217.3" y1="262.8" x2="217.3" y2="265" stroke="#231f20" stroke-width="0.8" />
<line x1="221" y1="262.8" x2="221" y2="264" stroke="#231f20" stroke-width="0.8" />
<line x1="224.7" y1="262.8" x2="224.7" y2="264" stroke="#231f20" stroke-width="0.8" />
<line x1="228.4" y1="262.8" x2="228.4" y2="264" stroke="#231f20" stroke-width="0.8" />
<line x1="232.1" y1="262.8" x2="232.1" y2="264" stroke="#231f20" stroke-width="0.8" />
<line x1="235.8" y1="262.8" x2="235.8" y2="265" stroke="#231f20" stroke-width="0.8" />
<line x1="239.5" y1="262.8" x2="239.5" y2="264" stroke="#231f20" stroke-width="0.8" />
<line x1="243.2" y1="262.8" x2="243.2" y2="264" stroke="#231f20" stroke-width="0.8" />
<line x1="246.9" y1="262.8" x2="246.9" y2="264" stroke="#231f20" stroke-width="0.8" />
<line x1="250.6" y1="262.8" x2="250.6" y2="264" stroke="#231f20" stroke-width="0.8" />
<line x1="254.3" y1="262.8" x2="254.3" y2="265" stroke="#231f20" stroke-width="0.8" />
<line x1="258" y1="262.8" x2="258" y2="264" stroke="#231f20" stroke-width="0.8" />
<line x1="261.7" y1="262.8" x2="261.7" y2="264" stroke="#231f20" stroke-width="0.8" />
<line x1="265.4" y1="262.8" x2="265.4" y2="264" stroke="#231f20" stroke-width="0.8" />
<line x1="269.1" y1="262.8" x2="269.1" y2="264" stroke="#231f20" stroke-width="0.8" />
<line x1="272.8" y1="262.8" x2="272.8" y2="265" stroke="#231f20" stroke-width="0.8" />
<line x1="276.5" y1="262.8" x2="276.5" y2="264" stroke="#231f20" stroke-width="0.8" />
<line x1="280.2" y1="262.8" x2="280.2" y2="264" stroke="#231f20" stroke-width="0.8" />
<line x1="283.9" y1="262.8" x2="283.9" y2="264" stroke="#231f20" stroke-width="0.8" />
<line x1="287.6" y1="262.8" x2="287.6" y2="264" stroke="#231f20" stroke-width="0.8" />
<line x1="291.3" y1="262.8" x2="291.3" y2="265" stroke="#231f20" stroke-width="0.8" />
<line x1="295" y1="262.8" x2="295" y2="264" stroke="#231f20" stroke-width="0.8" />
<line x1="298.7" y1="262.8" x2="298.7" y2="264" stroke="#231f20" stroke-width="0.8" />
<line x1="302.4" y1="262.8" x2="302.4" y2="264" stroke="#231f20" stroke-width="0.8" />
<line x1="306.1" y1="262.8" x2="306.1" y2="264" stroke="#231f20" stroke-width="0.8" />
<line x1="309.8" y1="262.8" x2="309.8" y2="265" stroke="#231f20" stroke-width="0.8" />
<line x1="313.5" y1="262.8" x2="313.5" y2="264" stroke="#231f20" stroke-width="0.8" />
<line x1="317.2" y1="262.8" x2="317.2" y2="264" stroke="#231f20" stroke-width="0.8" />
<line x1="320.9" y1="262.8" x2="320.9" y2="264" stroke="#231f20" stroke-width="0.8" />
<line x1="324.6" y1="262.8" x2="324.6" y2="264" stroke="#231f20" stroke-width="0.8" />
<line x1="328.3" y1="262.8" x2="328.3" y2="265" stroke="#231f20" stroke-width="0.8" />
<line x1="332" y1="262.8" x2="332" y2="264" stroke="#231f20" stroke-width="0.8" />
<line x1="335.7" y1="262.8" x2="335.7" y2="264" stroke="#231f20" stroke-width="0.8" />
<line x1="339.4" y1="262.8" x2="339.4" y2="264" stroke="#231f20" stroke-width="0.8" />
<line x1="343.1" y1="262.8" x2="343.1" y2="264" stroke="#231f20" stroke-width="0.8" />
<line x1="346.8" y1="262.8" x2="346.8" y2="265" stroke="#231f20" stroke-width="0.8" />
<line x1="350.5" y1="262.8" x2="350.5" y2="264" stroke="#231f20" stroke-width="0.8" />
<line x1="354.2" y1="262.8" x2="354.2" y2="264" stroke="#231f20" stroke-width="0.8" />
<line x1="357.9" y1="262.8" x2="357.9" y2="264" stroke="#231f20" stroke-width="0.8" />
<line x1="361.6" y1="262.8" x2="361.6" y2="264" stroke="#231f20" stroke-width="0.8" />
<line x1="365.3" y1="262.8" x2="365.3" y2="265" stroke="#231f20" stroke-width="0.8" />
<line x1="369" y1="262.8" x2="369" y2="264" stroke="#231f20" stroke-width="0.8" />
<line x1="372.7" y1="262.8" x2="372.7" y2="264" stroke="#231f20" stroke-width="0.8" />
<line x1="376.4" y1="262.8" x2="376.4" y2="264" stroke="#231f20" stroke-width="0.8" />
<line x1="380.1" y1="262.8" x2="380.1" y2="264" stroke="#231f20" stroke-width="0.8" />
<line x1="383.8" y1="262.8" x2="383.8" y2="265" stroke="#231f20" stroke-width="0.8" />
<line x1="387.5" y1="262.8" x2="387.5" y2="264" stroke="#231f20" stroke-width="0.8" />
<line x1="391.2" y1="262.8" x2="391.2" y2="264" stroke="#231f20" stroke-width="0.8" />
<text x="49" y="272.3" font-size="8.2" fill="#231f20" stroke="#231f20" stroke-width="0.22" text-anchor="middle" font-weight="bold" >5</text>
<text x="69.3" y="272.3" font-size="8.2" fill="#231f20" stroke="#231f20" stroke-width="0.22" text-anchor="middle" font-weight="bold" >10</text>
<text x="87.8" y="272.3" font-size="8.2" fill="#231f20" stroke="#231f20" stroke-width="0.22" text-anchor="middle" font-weight="bold" >15</text>
<text x="106.3" y="272.3" font-size="8.2" fill="#231f20" stroke="#231f20" stroke-width="0.22" text-anchor="middle" font-weight="bold" >20</text>
<text x="124.8" y="272.3" font-size="8.2" fill="#231f20" stroke="#231f20" stroke-width="0.22" text-anchor="middle" font-weight="bold" >25</text>
<text x="143.3" y="272.3" font-size="8.2" fill="#231f20" stroke="#231f20" stroke-width="0.22" text-anchor="middle" font-weight="bold" >30</text>
<text x="161.8" y="272.3" font-size="8.2" fill="#231f20" stroke="#231f20" stroke-width="0.22" text-anchor="middle" font-weight="bold" >35</text>
<text x="180.3" y="272.3" font-size="8.2" fill="#231f20" stroke="#231f20" stroke-width="0.22" text-anchor="middle" font-weight="bold" >40</text>
<text x="198.8" y="272.3" font-size="8.2" fill="#231f20" stroke="#231f20" stroke-width="0.22" text-anchor="middle" font-weight="bold" >45</text>
<text x="217.3" y="272.3" font-size="8.2" fill="#231f20" stroke="#231f20" stroke-width="0.22" text-anchor="middle" font-weight="bold" >50</text>
<text x="235.8" y="272.3" font-size="8.2" fill="#231f20" stroke="#231f20" stroke-width="0.22" text-anchor="middle" font-weight="bold" >55</text>
<text x="254.3" y="272.3" font-size="8.2" fill="#231f20" stroke="#231f20" stroke-width="0.22" text-anchor="middle" font-weight="bold" >60</text>
<text x="272.8" y="272.3" font-size="8.2" fill="#231f20" stroke="#231f20" stroke-width="0.22" text-anchor="middle" font-weight="bold" >65</text>
<text x="291.3" y="272.3" font-size="8.2" fill="#231f20" stroke="#231f20" stroke-width="0.22" text-anchor="middle" font-weight="bold" >70</text>
<text x="309.8" y="272.3" font-size="8.2" fill="#231f20" stroke="#231f20" stroke-width="0.22" text-anchor="middle" font-weight="bold" >75</text>
<text x="328.3" y="272.3" font-size="8.2" fill="#231f20" stroke="#231f20" stroke-width="0.22" text-anchor="middle" font-weight="bold" >80</text>
<text x="346.8" y="272.3" font-size="8.2" fill="#231f20" stroke="#231f20" stroke-width="0.22" text-anchor="middle" font-weight="bold" >85</text>
<text x="365.3" y="272.3" font-size="8.2" fill="#231f20" stroke="#231f20" stroke-width="0.22" text-anchor="middle" font-weight="bold" >90</text>
<text x="390.7" y="272.3" font-size="8.2" fill="#231f20" stroke="#231f20" stroke-width="0.22" text-anchor="middle" font-weight="bold" >97</text>
<text transform="translate(12.6,254.2) rotate(-90)" font-size="9.6" fill="#231f20" stroke="#231f20" stroke-width="0.22" text-anchor="middle" font-weight="bold">ΔContact (%)</text>
<text x="216.5" y="320.6" font-size="9.6" fill="#231f20" stroke="#231f20" stroke-width="0.22" text-anchor="middle" font-weight="bold" >Residue Number</text>
<text x="113.3" y="245.9" font-size="8.4" fill="#e3001b" stroke="#e3001b" stroke-width="0.22" text-anchor="middle" font-weight="bold" textLength="13.53" lengthAdjust="spacingAndGlyphs" >S22</text>
<text x="126.6" y="229.6" font-size="8.4" fill="#e3001b" stroke="#e3001b" stroke-width="0.22" text-anchor="middle" font-weight="bold" textLength="13.10" lengthAdjust="spacingAndGlyphs" >T26</text>
<text x="140.5" y="234.2" font-size="8.4" fill="#e3001b" stroke="#e3001b" stroke-width="0.22" text-anchor="middle" font-weight="bold" textLength="14.37" lengthAdjust="spacingAndGlyphs" >Q29</text>
<text x="154.8" y="223.4" font-size="8.4" fill="#e3001b" stroke="#e3001b" stroke-width="0.22" text-anchor="middle" font-weight="bold" textLength="13.10" lengthAdjust="spacingAndGlyphs" >L33</text>
<text x="168.5" y="219.3" font-size="8.4" fill="#e3001b" stroke="#e3001b" stroke-width="0.22" text-anchor="middle" font-weight="bold" textLength="13.53" lengthAdjust="spacingAndGlyphs" >S36</text>
<text x="210.6" y="217.3" font-size="8.4" fill="#e3001b" stroke="#e3001b" stroke-width="0.22" text-anchor="middle" font-weight="bold" textLength="13.10" lengthAdjust="spacingAndGlyphs" >T48</text>
<text x="224.3" y="238.8" font-size="8.4" fill="#e3001b" stroke="#e3001b" stroke-width="0.22" text-anchor="middle" font-weight="bold" textLength="13.53" lengthAdjust="spacingAndGlyphs" >Y52</text>
<text x="203.2" y="306.2" font-size="8.4" fill="#e3001b" stroke="#e3001b" stroke-width="0.22" text-anchor="middle" font-weight="bold" textLength="13.10" lengthAdjust="spacingAndGlyphs" >L46</text>
<text x="333" y="232.8" font-size="8.4" fill="#e3001b" stroke="#e3001b" stroke-width="0.22" text-anchor="middle" font-weight="bold" textLength="13.53" lengthAdjust="spacingAndGlyphs" >Y82</text>
<text x="350.9" y="285" font-size="8.4" fill="#e3001b" stroke="#e3001b" stroke-width="0.22" text-anchor="middle" font-weight="bold" textLength="13.53" lengthAdjust="spacingAndGlyphs" >V86</text>
<text x="364" y="294.8" font-size="8.4" fill="#e3001b" stroke="#e3001b" stroke-width="0.22" text-anchor="middle" font-weight="bold" textLength="10.57" lengthAdjust="spacingAndGlyphs" >I89</text>
<text x="413.6" y="200.3" font-size="16.5" fill="#231f20" stroke="#231f20" stroke-width="0.22" text-anchor="start" font-weight="bold" >c</text>
<rect x="432" y="198.8" width="128.4" height="33.6" rx="6.5" fill="none" stroke="#3a3030" stroke-width="1.1" stroke-dasharray="3.2,2.2"/>
<path d="M442.0,210 q-0.8,9.8 0.3,19.5 M445.8,210 q0.8,9.8 -0.3,19.5" stroke="#8e8e8e" stroke-width="3.1" fill="none" stroke-linecap="round"/>
<path d="M442.0,210 q-0.8,9.8 0.3,19.5 M445.8,210 q0.8,9.8 -0.3,19.5" stroke="#c2c2c2" stroke-width="2.0" fill="none" stroke-linecap="round"/>
<circle cx="443.9" cy="207.8" r="3.9" fill="#29a3dc" stroke="#777" stroke-width="0.4" />
<rect x="441.75" y="206.71" width="4.29" height="2.18" fill="#2a1a1a" stroke="none" stroke-width="1" />
<text x="449.3" y="221.2" font-size="8.6" fill="#231f20" stroke="#231f20" stroke-width="0.22" text-anchor="start" font-weight="bold" >PG</text>
<path d="M473.8,210 q-0.8,9.8 0.3,19.5 M477.6,210 q0.8,9.8 -0.3,19.5" stroke="#8e8e8e" stroke-width="3.1" fill="none" stroke-linecap="round"/>
<path d="M473.8,210 q-0.8,9.8 0.3,19.5 M477.6,210 q0.8,9.8 -0.3,19.5" stroke="#c2c2c2" stroke-width="2.0" fill="none" stroke-linecap="round"/>
<path d="M483.2,210 q-0.8,9.8 0.3,19.5 M487.0,210 q0.8,9.8 -0.3,19.5" stroke="#8e8e8e" stroke-width="3.1" fill="none" stroke-linecap="round"/>
<path d="M483.2,210 q-0.8,9.8 0.3,19.5 M487.0,210 q0.8,9.8 -0.3,19.5" stroke="#c2c2c2" stroke-width="2.0" fill="none" stroke-linecap="round"/>
<circle cx="475.7" cy="207.8" r="3.9" fill="#f08cbf" stroke="#777" stroke-width="0.4" />
<rect x="473.56" y="206.71" width="4.29" height="2.18" fill="#2a1a1a" stroke="none" stroke-width="1" />
<circle cx="485.1" cy="207.8" r="3.9" fill="#f08cbf" stroke="#777" stroke-width="0.4" />
<rect x="482.96" y="206.71" width="4.29" height="2.18" fill="#2a1a1a" stroke="none" stroke-width="1" />
<text x="492" y="221.2" font-size="8.2" fill="#231f20" stroke="#231f20" stroke-width="0.22" text-anchor="start" font-weight="bold" >CDL</text>
<circle cx="516.6" cy="217.4" r="2.9" fill="#fff" stroke="#111" stroke-width="0.9" />
<line x1="514.6" y1="217.4" x2="518.6" y2="217.4" stroke="#111" stroke-width="0.9" />
<line x1="516.6" y1="215.4" x2="516.6" y2="219.4" stroke="#111" stroke-width="0.9" />
<text x="522.8" y="215.7" font-size="8.0" fill="#231f20" stroke="#231f20" stroke-width="0.22" text-anchor="start" font-weight="bold" >Basic</text>
<text x="522.8" y="226.3" font-size="8.0" fill="#231f20" stroke="#231f20" stroke-width="0.22" text-anchor="start" font-weight="bold" >Residue</text>
<path d="M440.5,243.6 L461,243.6 L462,300 L436,301 Q429,300 429,294 Z" fill="#e6e6e6" stroke="#9a9090" stroke-width="1" stroke-dasharray="2.6,1.8"/>
<path d="M487,243.6 L508,243.6 Q512,244 512.5,248 L520.6,298.5 L486,301 Z" fill="#e6e6e6" stroke="#9a9090" stroke-width="1" stroke-dasharray="2.6,1.8"/>
<path d="M439,245.4 L460.5,245.4 Q462.5,246 463,250 L467,287 Q468,300 461,302.4 L439,302.4 Q436,302.4 436,299 L436,249 Q436,245.4 439,245.4 Z" fill="#cfcfcf" stroke="#c4c4c4" stroke-width="0.6"/>
<path d="M489.5,245.4 L510,246 Q513,246.5 513,250 L513,297 Q513,299.5 510,299.5 L486,300 Q480.5,299 481,288 L485.5,250 Q486,245.4 489.5,245.4 Z" fill="#cfcfcf" stroke="#c4c4c4" stroke-width="0.6"/>
<path d="M474.6,284 Q470,272 472.5,262.5 M474.6,284 Q478,272 484,265 M478,277 Q482,271 487,271" stroke="#8a8a8a" stroke-width="4.6" fill="none" stroke-linecap="round"/>
<path d="M474.6,284 Q470,272 472.5,262.5 M474.6,284 Q478,272 484,265 M478,277 Q482,271 487,271" stroke="#b4b4b4" stroke-width="3.2" fill="none" stroke-linecap="round"/>
<path d="M499.8,253.5 L490.7,291.2" stroke="#8a8a8a" stroke-width="6.4" stroke-linecap="round"/>
<path d="M499.8,253.5 L490.7,291.2" stroke="#f2a9cc" stroke-width="4.4" stroke-linecap="round"/>
<ellipse cx="499.8" cy="253.5" rx="3" ry="1.6" fill="#f5c6dc" stroke="#8a8a8a" stroke-width="0.6" transform="rotate(-76 499.8 253.5)"/>
<rect x="458.6" y="261.4" width="30.6" height="42" fill="none" stroke="#2b2bf0" stroke-width="1.3" stroke-dasharray="3,2"/>
<circle cx="465.4" cy="283.5" r="2.6" fill="#9a9a9a" stroke="#1a1a1a" stroke-width="0.7" />
<line x1="463.84" y1="283.5" x2="466.96" y2="283.5" stroke="#111" stroke-width="0.8" />
<line x1="465.4" y1="281.94" x2="465.4" y2="285.06" stroke="#111" stroke-width="0.8" />
<circle cx="466.6" cy="290.4" r="2.6" fill="#9a9a9a" stroke="#1a1a1a" stroke-width="0.7" />
<line x1="465.04" y1="290.4" x2="468.16" y2="290.4" stroke="#111" stroke-width="0.8" />
<line x1="466.6" y1="288.84" x2="466.6" y2="291.96" stroke="#111" stroke-width="0.8" />
<circle cx="463" cy="296.2" r="2.6" fill="#9a9a9a" stroke="#1a1a1a" stroke-width="0.7" />
<line x1="461.44" y1="296.2" x2="464.56" y2="296.2" stroke="#111" stroke-width="0.8" />
<line x1="463" y1="294.64" x2="463" y2="297.76" stroke="#111" stroke-width="0.8" />
<circle cx="483.9" cy="283.5" r="2.6" fill="#9a9a9a" stroke="#1a1a1a" stroke-width="0.7" />
<line x1="482.34" y1="283.5" x2="485.46" y2="283.5" stroke="#111" stroke-width="0.8" />
<line x1="483.9" y1="281.94" x2="483.9" y2="285.06" stroke="#111" stroke-width="0.8" />
<circle cx="483.4" cy="290.4" r="2.6" fill="#9a9a9a" stroke="#1a1a1a" stroke-width="0.7" />
<line x1="481.84" y1="290.4" x2="484.96" y2="290.4" stroke="#111" stroke-width="0.8" />
<line x1="483.4" y1="288.84" x2="483.4" y2="291.96" stroke="#111" stroke-width="0.8" />
<circle cx="486.6" cy="296.2" r="2.6" fill="#9a9a9a" stroke="#1a1a1a" stroke-width="0.7" />
<line x1="485.04" y1="296.2" x2="488.16" y2="296.2" stroke="#111" stroke-width="0.8" />
<line x1="486.6" y1="294.64" x2="486.6" y2="297.76" stroke="#111" stroke-width="0.8" />
<circle cx="474.6" cy="287.2" r="4" fill="#29a3dc" stroke="#777" stroke-width="0.4" />
<rect x="472.4" y="286.08" width="4.4" height="2.24" fill="#2a1a1a" stroke="none" stroke-width="1" />
<text x="475.4" y="313.8" font-size="11.2" fill="#231f20" stroke="#231f20" stroke-width="0.22" text-anchor="middle" font-weight="bold" >PG</text>
<path d="M522.8,272.3 L536.5,261.3 L536.5,266.4 L573.9,266.4 L573.9,261.3 L587.7,272.3 L573.9,283.6 L573.9,278.3 L536.5,278.3 L536.5,283.6 Z" fill="#cfcfcf"/>
<text x="522.8" y="252" font-size="9.4" fill="#d42a30" stroke="#d42a30" stroke-width="0.22" text-anchor="start" font-weight="bold" >Different</text>
<text x="522.8" y="263.4" font-size="9.4" fill="#d42a30" stroke="#d42a30" stroke-width="0.22" text-anchor="start" font-weight="bold" >binding modes</text>
<path d="M596,243.8 L616,243.8 Q619,244 619.5,247 L624,275.5 Q625,300 620.5,301.5 L596,301.5 Q593.4,301.5 593.4,298 L593.4,247 Q593.4,243.8 596,243.8 Z" fill="#d9d9d9" stroke="#bdbdbd" stroke-width="0.7"/>
<path d="M648,243.8 L668.5,243.8 Q671.4,244 671.4,247 L671.4,298 Q671.4,301.5 668.5,301.5 L645,301.5 Q641,300 641,296 L641,275.5 L645.4,247 Q646,243.8 648,243.8 Z" fill="#d9d9d9" stroke="#bdbdbd" stroke-width="0.7"/>
<path d="M667,253 L645.4,286.8" stroke="#8a8a8a" stroke-width="6.4" stroke-linecap="round"/>
<path d="M667,253 L645.4,286.8" stroke="#f2a9cc" stroke-width="4.4" stroke-linecap="round"/>
<path d="M633,290 Q645,286 653,295 M631,300 Q645,296 655,302.5 M634,294 Q646,292 651,300 M641,285 Q649,281 655,289" stroke="#8a8a8a" stroke-width="2.8" fill="none" stroke-linecap="round"/>
<path d="M633,290 Q645,286 653,295 M631,300 Q645,296 655,302.5 M634,294 Q646,292 651,300 M641,285 Q649,281 655,289" stroke="#c8c8c8" stroke-width="1.4" fill="none" stroke-linecap="round"/>
<rect x="616" y="275.6" width="42.5" height="34.4" fill="none" stroke="#2b2bf0" stroke-width="1.3" stroke-dasharray="3,2"/>
<circle cx="623.2" cy="282.3" r="2.6" fill="#9a9a9a" stroke="#1a1a1a" stroke-width="0.7" />
<line x1="621.64" y1="282.3" x2="624.76" y2="282.3" stroke="#111" stroke-width="0.8" />
<line x1="623.2" y1="280.74" x2="623.2" y2="283.86" stroke="#111" stroke-width="0.8" />
<circle cx="622.8" cy="289" r="2.6" fill="#9a9a9a" stroke="#1a1a1a" stroke-width="0.7" />
<line x1="621.24" y1="289" x2="624.36" y2="289" stroke="#111" stroke-width="0.8" />
<line x1="622.8" y1="287.44" x2="622.8" y2="290.56" stroke="#111" stroke-width="0.8" />
<circle cx="620" cy="295.2" r="2.6" fill="#9a9a9a" stroke="#1a1a1a" stroke-width="0.7" />
<line x1="618.44" y1="295.2" x2="621.56" y2="295.2" stroke="#111" stroke-width="0.8" />
<line x1="620" y1="293.64" x2="620" y2="296.76" stroke="#111" stroke-width="0.8" />
<circle cx="640.9" cy="282.3" r="2.6" fill="#9a9a9a" stroke="#1a1a1a" stroke-width="0.7" />
<line x1="639.34" y1="282.3" x2="642.46" y2="282.3" stroke="#111" stroke-width="0.8" />
<line x1="640.9" y1="280.74" x2="640.9" y2="283.86" stroke="#111" stroke-width="0.8" />
<circle cx="631.8" cy="290.2" r="4.2" fill="#f08cbf" stroke="#777" stroke-width="0.4" />
<rect x="629.49" y="289.02" width="4.62" height="2.35" fill="#2a1a1a" stroke="none" stroke-width="1" />
<circle cx="629.6" cy="301.2" r="4.2" fill="#f08cbf" stroke="#777" stroke-width="0.4" />
<rect x="627.29" y="300.02" width="4.62" height="2.35" fill="#2a1a1a" stroke="none" stroke-width="1" />
<text x="636.3" y="320.2" font-size="11.2" fill="#231f20" stroke="#231f20" stroke-width="0.22" text-anchor="middle" font-weight="bold" >CDL</text>
<text x="0.3" y="335.4" font-size="16.5" fill="#231f20" stroke="#231f20" stroke-width="0.22" text-anchor="start" font-weight="bold" >d</text>
<rect x="0" y="342" width="15.3" height="8.8" fill="url(#gsw)" stroke="#2a2424" stroke-width="0.8"/>
<text x="18.8" y="350.8" font-size="9.4" fill="#231f20" stroke="#231f20" stroke-width="0.22" text-anchor="start" font-weight="bold" textLength="88.6" lengthAdjust="spacingAndGlyphs">With PE, PG and CDL</text>
<rect x="116.6" y="342.2" width="14.8" height="8.6" fill="#f7679a" stroke="#2a2424" stroke-width="0.9" />
<text x="134" y="350.8" font-size="9.4" fill="#231f20" stroke="#231f20" stroke-width="0.22" text-anchor="start" font-weight="bold" textLength="107" lengthAdjust="spacingAndGlyphs">With PE, PG Without CDL</text>
<clipPath id="cd1"><rect x="31.3" y="354.2" width="50.6" height="65.7"/></clipPath><g clip-path="url(#cd1)">
<path d="M43.2,365.7 C43.7,363.3 45.1,362.4 46.6,361.3 C48.1,360.2 49.9,359.6 52.5,359.3 C55.1,359.1 59.7,359.1 62.3,359.8 C64.9,360.5 66.6,361.7 68.2,363.7 C69.8,365.7 70.6,368.8 72.1,371.6 C73.6,374.4 75.7,377.6 77.0,380.4 C78.3,383.2 79.5,385.8 79.9,388.2 C80.3,390.6 80.2,392.7 79.4,395.1 C78.6,397.6 76.4,401.6 75.0,402.9 C73.6,404.2 73.7,404.9 71.1,402.9 C68.5,400.9 63.0,394.2 59.4,391.1 C55.8,388.0 52.2,386.9 49.6,384.3 C47.0,381.7 44.8,378.6 43.7,375.5 C42.6,372.4 42.7,368.1 43.2,365.7Z" fill="url(#gk3)"/>
<path d="M44.7,364.7 C46.2,363.8 49.0,363.7 51.5,364.2 C54.0,364.7 56.9,365.8 59.4,367.7 C61.9,369.6 64.1,372.1 66.2,375.5 C68.3,378.9 70.7,384.3 72.1,388.2 C73.5,392.1 74.2,395.9 74.5,399.0 C74.8,402.1 74.7,404.5 74.0,406.8 C73.3,409.1 71.9,411.6 70.1,412.7 C68.3,413.8 65.6,414.1 63.3,413.6 C61.0,413.1 58.7,412.1 56.4,409.7 C54.1,407.3 51.7,402.8 49.6,399.0 C47.5,395.2 45.0,390.8 43.7,387.2 C42.4,383.6 42.0,380.3 41.7,377.4 C41.5,374.5 41.7,371.7 42.2,369.6 C42.7,367.5 43.2,365.6 44.7,364.7Z" fill="url(#gp)"/>
<ellipse cx="58.5" cy="390" rx="1" ry="2.5" transform="rotate(-22 58.5 390)" fill="none" stroke="#9a8a90" stroke-width="0.4"/>
<ellipse cx="58.5" cy="390" rx="2" ry="5" transform="rotate(-22 58.5 390)" fill="none" stroke="#9a8a90" stroke-width="0.4"/>
<ellipse cx="58.5" cy="390" rx="3" ry="7.5" transform="rotate(-22 58.5 390)" fill="none" stroke="#9a8a90" stroke-width="0.4"/>
<ellipse cx="58.5" cy="390" rx="4" ry="10" transform="rotate(-22 58.5 390)" fill="none" stroke="#9a8a90" stroke-width="0.4"/>
<ellipse cx="58.5" cy="390" rx="5" ry="12.5" transform="rotate(-22 58.5 390)" fill="none" stroke="#9a8a90" stroke-width="0.4"/>
</g>
<line x1="28.9" y1="362.3" x2="31.3" y2="362.3" stroke="#231f20" stroke-width="0.9" />
<text x="28.4" y="364.8" font-size="6.6" fill="#231f20" stroke="#231f20" stroke-width="0.22" text-anchor="end" font-weight="bold" >68.0</text>
<line x1="28.9" y1="384" x2="31.3" y2="384" stroke="#231f20" stroke-width="0.9" />
<text x="28.4" y="386.5" font-size="6.6" fill="#231f20" stroke="#231f20" stroke-width="0.22" text-anchor="end" font-weight="bold" >68.5</text>
<line x1="28.9" y1="405.4" x2="31.3" y2="405.4" stroke="#231f20" stroke-width="0.9" />
<text x="28.4" y="407.9" font-size="6.6" fill="#231f20" stroke="#231f20" stroke-width="0.22" text-anchor="end" font-weight="bold" >69.0</text>
<line x1="30" y1="357.96" x2="31.3" y2="357.96" stroke="#231f20" stroke-width="0.6" />
<line x1="30" y1="362.3" x2="31.3" y2="362.3" stroke="#231f20" stroke-width="0.6" />
<line x1="30" y1="366.64" x2="31.3" y2="366.64" stroke="#231f20" stroke-width="0.6" />
<line x1="30" y1="370.98" x2="31.3" y2="370.98" stroke="#231f20" stroke-width="0.6" />
<line x1="30" y1="375.32" x2="31.3" y2="375.32" stroke="#231f20" stroke-width="0.6" />
<line x1="30" y1="379.66" x2="31.3" y2="379.66" stroke="#231f20" stroke-width="0.6" />
<line x1="30" y1="384" x2="31.3" y2="384" stroke="#231f20" stroke-width="0.6" />
<line x1="30" y1="388.34" x2="31.3" y2="388.34" stroke="#231f20" stroke-width="0.6" />
<line x1="30" y1="392.68" x2="31.3" y2="392.68" stroke="#231f20" stroke-width="0.6" />
<line x1="30" y1="397.02" x2="31.3" y2="397.02" stroke="#231f20" stroke-width="0.6" />
<line x1="30" y1="401.36" x2="31.3" y2="401.36" stroke="#231f20" stroke-width="0.6" />
<line x1="30" y1="405.7" x2="31.3" y2="405.7" stroke="#231f20" stroke-width="0.6" />
<line x1="30" y1="410.04" x2="31.3" y2="410.04" stroke="#231f20" stroke-width="0.6" />
<line x1="30" y1="414.38" x2="31.3" y2="414.38" stroke="#231f20" stroke-width="0.6" />
<line x1="30" y1="418.72" x2="31.3" y2="418.72" stroke="#231f20" stroke-width="0.6" />
<line x1="42.2" y1="419.9" x2="42.2" y2="422.3" stroke="#231f20" stroke-width="0.9" />
<text x="42.2" y="427.4" font-size="6.6" fill="#231f20" stroke="#231f20" stroke-width="0.22" text-anchor="middle" font-weight="bold" >24.5</text>
<line x1="58" y1="419.9" x2="58" y2="422.3" stroke="#231f20" stroke-width="0.9" />
<text x="58" y="427.4" font-size="6.6" fill="#231f20" stroke="#231f20" stroke-width="0.22" text-anchor="middle" font-weight="bold" >24.0</text>
<line x1="74" y1="419.9" x2="74" y2="422.3" stroke="#231f20" stroke-width="0.9" />
<text x="74" y="427.4" font-size="6.6" fill="#231f20" stroke="#231f20" stroke-width="0.22" text-anchor="middle" font-weight="bold" >23.5</text>
<line x1="32.72" y1="419.9" x2="32.72" y2="421.2" stroke="#231f20" stroke-width="0.6" />
<line x1="35.88" y1="419.9" x2="35.88" y2="421.2" stroke="#231f20" stroke-width="0.6" />
<line x1="39.04" y1="419.9" x2="39.04" y2="421.2" stroke="#231f20" stroke-width="0.6" />
<line x1="42.2" y1="419.9" x2="42.2" y2="421.2" stroke="#231f20" stroke-width="0.6" />
<line x1="45.36" y1="419.9" x2="45.36" y2="421.2" stroke="#231f20" stroke-width="0.6" />
<line x1="48.52" y1="419.9" x2="48.52" y2="421.2" stroke="#231f20" stroke-width="0.6" />
<line x1="51.68" y1="419.9" x2="51.68" y2="421.2" stroke="#231f20" stroke-width="0.6" />
<line x1="54.84" y1="419.9" x2="54.84" y2="421.2" stroke="#231f20" stroke-width="0.6" />
<line x1="58" y1="419.9" x2="58" y2="421.2" stroke="#231f20" stroke-width="0.6" />
<line x1="61.16" y1="419.9" x2="61.16" y2="421.2" stroke="#231f20" stroke-width="0.6" />
<line x1="64.32" y1="419.9" x2="64.32" y2="421.2" stroke="#231f20" stroke-width="0.6" />
<line x1="67.48" y1="419.9" x2="67.48" y2="421.2" stroke="#231f20" stroke-width="0.6" />
<line x1="70.64" y1="419.9" x2="70.64" y2="421.2" stroke="#231f20" stroke-width="0.6" />
<line x1="73.8" y1="419.9" x2="73.8" y2="421.2" stroke="#231f20" stroke-width="0.6" />
<line x1="76.96" y1="419.9" x2="76.96" y2="421.2" stroke="#231f20" stroke-width="0.6" />
<line x1="80.12" y1="419.9" x2="80.12" y2="421.2" stroke="#231f20" stroke-width="0.6" />
<rect x="31.3" y="354.2" width="50.6" height="65.7" fill="none" stroke="#2b2525" stroke-width="1.4" />
<line x1="60.2" y1="375.5" x2="58.84" y2="383.28" stroke="#1f4fff" stroke-width="2.2" />
<polygon points="57.9,388.7 54.71,382.56 58.64,384.46 62.98,384" fill="#1f4fff"/>
<text x="41.3" y="404.9" font-size="8.6" fill="#1f4fff" stroke="#1f4fff" stroke-width="0.22" text-anchor="start" font-weight="bold" >T26</text>
<text x="56.8" y="435.2" font-size="8.2" fill="#231f20" stroke="#231f20" stroke-width="0.22" text-anchor="middle" font-weight="bold"><tspan font-size="4.9" dy="-2.9">13</tspan><tspan dy="2.9">C (ppm)</tspan></text>
<text transform="translate(11.6,389) rotate(-90)" font-size="8.2" fill="#231f20" stroke="#231f20" stroke-width="0.22" text-anchor="middle" font-weight="bold"><tspan font-size="4.9" dy="-2.9">13</tspan><tspan dy="2.9">C (ppm)</tspan></text>
<clipPath id="cd2"><rect x="106.6" y="353.8" width="53.6" height="65.4"/></clipPath><g clip-path="url(#cd2)">
<path d="M104.0,350.0 C114.0,346.0 154.0,346.2 164.0,350.0 C174.0,353.8 166.0,369.5 164.0,373.0 C162.0,376.5 155.8,370.2 152.0,371.0 C148.2,371.8 143.7,377.8 141.0,378.0 C138.3,378.2 138.2,374.2 136.0,372.0 C133.8,369.8 131.3,366.3 128.0,365.0 C124.7,363.7 119.3,362.8 116.0,364.0 C112.7,365.2 110.0,370.3 108.0,372.0 C106.0,373.7 104.7,377.7 104.0,374.0 C103.3,370.3 94.0,354.0 104.0,350.0Z" fill="url(#gk2)"/>
<path d="M136.0,385.0 C136.8,382.0 138.9,380.8 140.0,382.0 C141.1,383.2 142.2,387.7 142.5,392.0 C142.8,396.3 142.8,404.0 142.0,408.0 C141.2,412.0 139.3,415.0 138.0,416.0 C136.7,417.0 134.4,416.7 134.0,414.0 C133.6,411.3 135.2,404.8 135.5,400.0 C135.8,395.2 135.2,388.0 136.0,385.0Z" fill="url(#gk2)"/>
<rect x="157.5" y="392" width="3.5" height="30" fill="#333" stroke="none" stroke-width="1" />
<path d="M108,392 Q112,395 110,400 M109,396 Q114,394 116,398" fill="none" stroke="#aaa" stroke-width="0.5"/>
<path d="M114.5,368.0 C115.2,363.3 116.1,363.1 118.0,362.0 C119.9,360.9 123.2,361.3 126.0,361.3 C128.8,361.3 132.8,360.7 135.0,361.8 C137.2,362.9 138.6,364.1 139.4,368.0 C140.2,371.9 139.8,378.8 139.8,385.0 C139.8,391.2 140.1,399.8 139.6,405.0 C139.1,410.2 138.9,413.8 137.0,416.0 C135.1,418.2 131.2,418.1 128.0,418.4 C124.8,418.7 120.3,419.0 118.0,417.6 C115.7,416.2 114.9,414.6 114.2,410.0 C113.5,405.4 113.8,397.0 113.8,390.0 C113.8,383.0 113.8,372.7 114.5,368.0Z" fill="url(#gp2)"/>
<path d="M140.0,378.0 C141.1,375.8 143.7,373.6 146.0,372.5 C148.3,371.4 151.8,371.4 154.0,371.6 C156.2,371.9 158.4,371.9 159.5,374.0 C160.6,376.1 160.9,381.1 160.5,384.0 C160.1,386.9 158.8,390.1 157.0,391.5 C155.2,392.9 152.5,392.6 150.0,392.5 C147.5,392.4 143.7,392.1 142.0,391.0 C140.3,389.9 139.9,388.2 139.6,386.0 C139.3,383.8 138.9,380.2 140.0,378.0Z" fill="url(#gp)"/>
<path d="M104.0,350.0 C105.8,347.3 113.0,348.3 114.5,350.0 C116.0,351.7 113.9,357.3 113.0,360.0 C112.1,362.7 110.5,365.0 109.0,366.0 C107.5,367.0 104.8,368.7 104.0,366.0 C103.2,363.3 102.2,352.7 104.0,350.0Z" fill="url(#gp)"/>
<ellipse cx="126.5" cy="379" rx="1" ry="2.25" transform="rotate(0 126.5 379)" fill="none" stroke="#999" stroke-width="0.4"/>
<ellipse cx="126.5" cy="379" rx="2" ry="4.5" transform="rotate(0 126.5 379)" fill="none" stroke="#999" stroke-width="0.4"/>
<ellipse cx="126.5" cy="379" rx="3" ry="6.75" transform="rotate(0 126.5 379)" fill="none" stroke="#999" stroke-width="0.4"/>
<ellipse cx="125" cy="404" rx="0.88" ry="1.5" transform="rotate(0 125 404)" fill="none" stroke="#999" stroke-width="0.4"/>
<ellipse cx="125" cy="404" rx="1.75" ry="3" transform="rotate(0 125 404)" fill="none" stroke="#999" stroke-width="0.4"/>
<ellipse cx="125" cy="404" rx="2.62" ry="4.5" transform="rotate(0 125 404)" fill="none" stroke="#999" stroke-width="0.4"/>
</g>
<line x1="104.2" y1="361.5" x2="106.6" y2="361.5" stroke="#231f20" stroke-width="0.9" />
<text x="105" y="364" font-size="6.6" fill="#231f20" stroke="#231f20" stroke-width="0.22" text-anchor="end" font-weight="bold" >56.0</text>
<line x1="104.2" y1="372.5" x2="106.6" y2="372.5" stroke="#231f20" stroke-width="0.9" />
<text x="105" y="375" font-size="6.6" fill="#231f20" stroke="#231f20" stroke-width="0.22" text-anchor="end" font-weight="bold" >56.5</text>
<line x1="104.2" y1="384.4" x2="106.6" y2="384.4" stroke="#231f20" stroke-width="0.9" />
<text x="105" y="386.9" font-size="6.6" fill="#231f20" stroke="#231f20" stroke-width="0.22" text-anchor="end" font-weight="bold" >57.0</text>
<line x1="104.2" y1="396" x2="106.6" y2="396" stroke="#231f20" stroke-width="0.9" />
<text x="105" y="398.5" font-size="6.6" fill="#231f20" stroke="#231f20" stroke-width="0.22" text-anchor="end" font-weight="bold" >57.5</text>
<line x1="104.2" y1="407.5" x2="106.6" y2="407.5" stroke="#231f20" stroke-width="0.9" />
<text x="105" y="410" font-size="6.6" fill="#231f20" stroke="#231f20" stroke-width="0.22" text-anchor="end" font-weight="bold" >58.0</text>
<line x1="105.3" y1="354.9" x2="106.6" y2="354.9" stroke="#231f20" stroke-width="0.6" />
<line x1="105.3" y1="357.1" x2="106.6" y2="357.1" stroke="#231f20" stroke-width="0.6" />
<line x1="105.3" y1="359.3" x2="106.6" y2="359.3" stroke="#231f20" stroke-width="0.6" />
<line x1="105.3" y1="361.5" x2="106.6" y2="361.5" stroke="#231f20" stroke-width="0.6" />
<line x1="105.3" y1="363.7" x2="106.6" y2="363.7" stroke="#231f20" stroke-width="0.6" />
<line x1="105.3" y1="365.9" x2="106.6" y2="365.9" stroke="#231f20" stroke-width="0.6" />
<line x1="105.3" y1="368.1" x2="106.6" y2="368.1" stroke="#231f20" stroke-width="0.6" />
<line x1="105.3" y1="370.3" x2="106.6" y2="370.3" stroke="#231f20" stroke-width="0.6" />
<line x1="105.3" y1="372.5" x2="106.6" y2="372.5" stroke="#231f20" stroke-width="0.6" />
<line x1="105.3" y1="374.7" x2="106.6" y2="374.7" stroke="#231f20" stroke-width="0.6" />
<line x1="105.3" y1="376.9" x2="106.6" y2="376.9" stroke="#231f20" stroke-width="0.6" />
<line x1="105.3" y1="379.1" x2="106.6" y2="379.1" stroke="#231f20" stroke-width="0.6" />
<line x1="105.3" y1="381.3" x2="106.6" y2="381.3" stroke="#231f20" stroke-width="0.6" />
<line x1="105.3" y1="383.5" x2="106.6" y2="383.5" stroke="#231f20" stroke-width="0.6" />
<line x1="105.3" y1="385.7" x2="106.6" y2="385.7" stroke="#231f20" stroke-width="0.6" />
<line x1="105.3" y1="387.9" x2="106.6" y2="387.9" stroke="#231f20" stroke-width="0.6" />
<line x1="105.3" y1="390.1" x2="106.6" y2="390.1" stroke="#231f20" stroke-width="0.6" />
<line x1="105.3" y1="392.3" x2="106.6" y2="392.3" stroke="#231f20" stroke-width="0.6" />
<line x1="105.3" y1="394.5" x2="106.6" y2="394.5" stroke="#231f20" stroke-width="0.6" />
<line x1="105.3" y1="396.7" x2="106.6" y2="396.7" stroke="#231f20" stroke-width="0.6" />
<line x1="105.3" y1="398.9" x2="106.6" y2="398.9" stroke="#231f20" stroke-width="0.6" />
<line x1="105.3" y1="401.1" x2="106.6" y2="401.1" stroke="#231f20" stroke-width="0.6" />
<line x1="105.3" y1="403.3" x2="106.6" y2="403.3" stroke="#231f20" stroke-width="0.6" />
<line x1="105.3" y1="405.5" x2="106.6" y2="405.5" stroke="#231f20" stroke-width="0.6" />
<line x1="105.3" y1="407.7" x2="106.6" y2="407.7" stroke="#231f20" stroke-width="0.6" />
<line x1="105.3" y1="409.9" x2="106.6" y2="409.9" stroke="#231f20" stroke-width="0.6" />
<line x1="105.3" y1="412.1" x2="106.6" y2="412.1" stroke="#231f20" stroke-width="0.6" />
<line x1="105.3" y1="414.3" x2="106.6" y2="414.3" stroke="#231f20" stroke-width="0.6" />
<line x1="105.3" y1="416.5" x2="106.6" y2="416.5" stroke="#231f20" stroke-width="0.6" />
<line x1="105.3" y1="418.7" x2="106.6" y2="418.7" stroke="#231f20" stroke-width="0.6" />
<line x1="119" y1="419.2" x2="119" y2="421.6" stroke="#231f20" stroke-width="0.9" />
<text x="119" y="427" font-size="6.6" fill="#231f20" stroke="#231f20" stroke-width="0.22" text-anchor="middle" font-weight="bold" >30.0</text>
<line x1="141.2" y1="419.2" x2="141.2" y2="421.6" stroke="#231f20" stroke-width="0.9" />
<text x="141.2" y="427" font-size="6.6" fill="#231f20" stroke="#231f20" stroke-width="0.22" text-anchor="middle" font-weight="bold" >29.0</text>
<line x1="110.12" y1="419.2" x2="110.12" y2="420.5" stroke="#231f20" stroke-width="0.6" />
<line x1="114.56" y1="419.2" x2="114.56" y2="420.5" stroke="#231f20" stroke-width="0.6" />
<line x1="119" y1="419.2" x2="119" y2="420.5" stroke="#231f20" stroke-width="0.6" />
<line x1="123.44" y1="419.2" x2="123.44" y2="420.5" stroke="#231f20" stroke-width="0.6" />
<line x1="127.88" y1="419.2" x2="127.88" y2="420.5" stroke="#231f20" stroke-width="0.6" />
<line x1="132.32" y1="419.2" x2="132.32" y2="420.5" stroke="#231f20" stroke-width="0.6" />
<line x1="136.76" y1="419.2" x2="136.76" y2="420.5" stroke="#231f20" stroke-width="0.6" />
<line x1="141.2" y1="419.2" x2="141.2" y2="420.5" stroke="#231f20" stroke-width="0.6" />
<line x1="145.64" y1="419.2" x2="145.64" y2="420.5" stroke="#231f20" stroke-width="0.6" />
<line x1="150.08" y1="419.2" x2="150.08" y2="420.5" stroke="#231f20" stroke-width="0.6" />
<line x1="154.52" y1="419.2" x2="154.52" y2="420.5" stroke="#231f20" stroke-width="0.6" />
<line x1="158.96" y1="419.2" x2="158.96" y2="420.5" stroke="#231f20" stroke-width="0.6" />
<rect x="106.6" y="353.8" width="53.6" height="65.4" fill="none" stroke="#2b2525" stroke-width="1.4" />
<line x1="155.7" y1="375.2" x2="152.09" y2="379.01" stroke="#1f4fff" stroke-width="2.2" />
<polygon points="148.3,383 149.04,376.12 151.26,379.88 155.13,381.9" fill="#1f4fff"/>
<line x1="130.7" y1="398.8" x2="128.06" y2="401.48" stroke="#1f4fff" stroke-width="2.2" />
<polygon points="124.2,405.4 125.07,398.53 127.22,402.34 131.05,404.43" fill="#1f4fff"/>
<text x="146.5" y="371.3" font-size="8.6" fill="#1f4fff" stroke="#1f4fff" stroke-width="0.22" text-anchor="start" font-weight="bold" >L33</text>
<text x="136.6" y="417.3" font-size="8.6" fill="#1f4fff" stroke="#1f4fff" stroke-width="0.22" text-anchor="start" font-weight="bold" >Q29</text>
<text x="134" y="435.2" font-size="8.2" fill="#231f20" stroke="#231f20" stroke-width="0.22" text-anchor="middle" font-weight="bold"><tspan font-size="4.9" dy="-2.9">13</tspan><tspan dy="2.9">C (ppm)</tspan></text>
<text transform="translate(88.2,387) rotate(-90)" font-size="8.2" fill="#231f20" stroke="#231f20" stroke-width="0.22" text-anchor="middle" font-weight="bold"><tspan font-size="4.9" dy="-2.9">13</tspan><tspan dy="2.9">C (ppm)</tspan></text>
<clipPath id="cd3"><rect x="187.7" y="354.1" width="50.6" height="63.4"/></clipPath><g clip-path="url(#cd3)">
<path d="M200.0,354.0 C201.9,352.7 208.7,352.3 211.0,354.0 C213.3,355.7 213.4,359.7 213.8,364.0 C214.2,368.3 214.1,375.3 213.5,380.0 C212.9,384.7 211.8,389.5 210.5,392.0 C209.2,394.5 207.2,395.2 205.5,395.0 C203.8,394.8 201.6,393.8 200.5,391.0 C199.4,388.2 199.2,382.8 199.0,378.0 C198.8,373.2 199.1,366.0 199.3,362.0 C199.5,358.0 198.1,355.3 200.0,354.0Z" fill="url(#gk3)"/>
<path d="M215.0,353.0 C216.8,351.8 222.1,350.5 224.0,353.0 C225.9,355.5 225.6,361.5 226.5,368.0 C227.4,374.5 228.7,385.0 229.5,392.0 C230.3,399.0 231.6,406.0 231.3,410.0 C231.1,414.0 229.6,415.3 228.0,416.0 C226.4,416.7 223.7,417.0 222.0,414.0 C220.3,411.0 219.2,404.3 218.0,398.0 C216.8,391.7 215.3,382.3 214.5,376.0 C213.7,369.7 213.3,363.8 213.4,360.0 C213.5,356.2 213.2,354.2 215.0,353.0Z" fill="url(#gk3)"/>
<path d="M208.0,362.0 C208.8,359.1 209.3,357.5 211.0,356.5 C212.7,355.5 215.9,355.9 218.0,356.0 C220.1,356.1 222.5,355.5 223.5,357.0 C224.5,358.5 224.4,361.7 224.2,365.0 C224.0,368.3 223.3,373.2 222.5,377.0 C221.7,380.8 221.0,385.7 219.5,388.0 C218.0,390.3 215.3,391.2 213.5,391.0 C211.7,390.8 209.7,389.3 208.5,386.5 C207.3,383.7 206.6,378.1 206.5,374.0 C206.4,369.9 207.2,364.9 208.0,362.0Z" fill="url(#gp)"/>
</g>
<line x1="185.3" y1="370" x2="187.7" y2="370" stroke="#231f20" stroke-width="0.9" />
<text x="186" y="372.5" font-size="6.6" fill="#231f20" stroke="#231f20" stroke-width="0.22" text-anchor="end" font-weight="bold" >60.5</text>
<line x1="185.3" y1="385.7" x2="187.7" y2="385.7" stroke="#231f20" stroke-width="0.9" />
<text x="186" y="388.2" font-size="6.6" fill="#231f20" stroke="#231f20" stroke-width="0.22" text-anchor="end" font-weight="bold" >61.0</text>
<line x1="185.3" y1="402" x2="187.7" y2="402" stroke="#231f20" stroke-width="0.9" />
<text x="186" y="404.5" font-size="6.6" fill="#231f20" stroke="#231f20" stroke-width="0.22" text-anchor="end" font-weight="bold" >61.5</text>
<line x1="186.4" y1="354.3" x2="187.7" y2="354.3" stroke="#231f20" stroke-width="0.6" />
<line x1="186.4" y1="357.44" x2="187.7" y2="357.44" stroke="#231f20" stroke-width="0.6" />
<line x1="186.4" y1="360.58" x2="187.7" y2="360.58" stroke="#231f20" stroke-width="0.6" />
<line x1="186.4" y1="363.72" x2="187.7" y2="363.72" stroke="#231f20" stroke-width="0.6" />
<line x1="186.4" y1="366.86" x2="187.7" y2="366.86" stroke="#231f20" stroke-width="0.6" />
<line x1="186.4" y1="370" x2="187.7" y2="370" stroke="#231f20" stroke-width="0.6" />
<line x1="186.4" y1="373.14" x2="187.7" y2="373.14" stroke="#231f20" stroke-width="0.6" />
<line x1="186.4" y1="376.28" x2="187.7" y2="376.28" stroke="#231f20" stroke-width="0.6" />
<line x1="186.4" y1="379.42" x2="187.7" y2="379.42" stroke="#231f20" stroke-width="0.6" />
<line x1="186.4" y1="382.56" x2="187.7" y2="382.56" stroke="#231f20" stroke-width="0.6" />
<line x1="186.4" y1="385.7" x2="187.7" y2="385.7" stroke="#231f20" stroke-width="0.6" />
<line x1="186.4" y1="388.84" x2="187.7" y2="388.84" stroke="#231f20" stroke-width="0.6" />
<line x1="186.4" y1="391.98" x2="187.7" y2="391.98" stroke="#231f20" stroke-width="0.6" />
<line x1="186.4" y1="395.12" x2="187.7" y2="395.12" stroke="#231f20" stroke-width="0.6" />
<line x1="186.4" y1="398.26" x2="187.7" y2="398.26" stroke="#231f20" stroke-width="0.6" />
<line x1="186.4" y1="401.4" x2="187.7" y2="401.4" stroke="#231f20" stroke-width="0.6" />
<line x1="186.4" y1="404.54" x2="187.7" y2="404.54" stroke="#231f20" stroke-width="0.6" />
<line x1="186.4" y1="407.68" x2="187.7" y2="407.68" stroke="#231f20" stroke-width="0.6" />
<line x1="186.4" y1="410.82" x2="187.7" y2="410.82" stroke="#231f20" stroke-width="0.6" />
<line x1="186.4" y1="413.96" x2="187.7" y2="413.96" stroke="#231f20" stroke-width="0.6" />
<line x1="186.4" y1="417.1" x2="187.7" y2="417.1" stroke="#231f20" stroke-width="0.6" />
<line x1="203.6" y1="417.5" x2="203.6" y2="419.9" stroke="#231f20" stroke-width="0.9" />
<text x="203.6" y="426.2" font-size="6.6" fill="#231f20" stroke="#231f20" stroke-width="0.22" text-anchor="middle" font-weight="bold" >35.0</text>
<line x1="229.9" y1="417.5" x2="229.9" y2="419.9" stroke="#231f20" stroke-width="0.9" />
<text x="229.9" y="426.2" font-size="6.6" fill="#231f20" stroke="#231f20" stroke-width="0.22" text-anchor="middle" font-weight="bold" >33.0</text>
<line x1="187.82" y1="417.5" x2="187.82" y2="418.8" stroke="#231f20" stroke-width="0.6" />
<line x1="193.08" y1="417.5" x2="193.08" y2="418.8" stroke="#231f20" stroke-width="0.6" />
<line x1="198.34" y1="417.5" x2="198.34" y2="418.8" stroke="#231f20" stroke-width="0.6" />
<line x1="203.6" y1="417.5" x2="203.6" y2="418.8" stroke="#231f20" stroke-width="0.6" />
<line x1="208.86" y1="417.5" x2="208.86" y2="418.8" stroke="#231f20" stroke-width="0.6" />
<line x1="214.12" y1="417.5" x2="214.12" y2="418.8" stroke="#231f20" stroke-width="0.6" />
<line x1="219.38" y1="417.5" x2="219.38" y2="418.8" stroke="#231f20" stroke-width="0.6" />
<line x1="224.64" y1="417.5" x2="224.64" y2="418.8" stroke="#231f20" stroke-width="0.6" />
<line x1="229.9" y1="417.5" x2="229.9" y2="418.8" stroke="#231f20" stroke-width="0.6" />
<line x1="235.16" y1="417.5" x2="235.16" y2="418.8" stroke="#231f20" stroke-width="0.6" />
<rect x="187.7" y="354.1" width="50.6" height="63.4" fill="none" stroke="#2b2525" stroke-width="1.4" />
<line x1="204.4" y1="370" x2="207.15" y2="372.14" stroke="#1f4fff" stroke-width="2.2" />
<polygon points="210.7,374.9 205.06,374.82 208.1,372.87 209.24,369.45" fill="#1f4fff"/>
<line x1="221.7" y1="395" x2="219.68" y2="375.97" stroke="#1f4fff" stroke-width="2.2" />
<polygon points="219.1,370.5 223.86,375.53 219.55,374.78 215.5,376.41" fill="#1f4fff"/>
<text x="190.8" y="379.5" font-size="8.6" fill="#1f4fff" stroke="#1f4fff" stroke-width="0.22" text-anchor="start" font-weight="bold" >K32</text>
<text x="222.3" y="405.7" font-size="8.6" fill="#1f4fff" stroke="#1f4fff" stroke-width="0.22" text-anchor="start" font-weight="bold" >M27</text>
<text x="213.5" y="435" font-size="8.2" fill="#231f20" stroke="#231f20" stroke-width="0.22" text-anchor="middle" font-weight="bold"><tspan font-size="4.9" dy="-2.9">13</tspan><tspan dy="2.9">C (ppm)</tspan></text>
<text transform="translate(167,387) rotate(-90)" font-size="8.2" fill="#231f20" stroke="#231f20" stroke-width="0.22" text-anchor="middle" font-weight="bold"><tspan font-size="4.9" dy="-2.9">13</tspan><tspan dy="2.9">C (ppm)</tspan></text>
<clipPath id="cd4"><rect x="29.2" y="443.2" width="50.1" height="60.4"/></clipPath><g clip-path="url(#cd4)">
<ellipse cx="67" cy="461.7" rx="5.8" ry="11.3" transform="rotate(-5 67 461.7)" fill="url(#gk3)"/>
<ellipse cx="55.7" cy="486.2" rx="9.9" ry="9.4" transform="rotate(0 55.7 486.2)" fill="url(#gk3)"/>
<ellipse cx="63.8" cy="456" rx="6.6" ry="10.8" transform="rotate(12 63.8 456)" fill="url(#gp)"/>
<path d="M41.0,474.0 C41.7,472.2 42.5,471.5 44.0,471.0 C45.5,470.5 48.0,470.9 50.0,470.9 C52.0,470.9 54.5,470.5 56.0,471.2 C57.5,471.9 58.7,473.2 59.3,475.0 C59.9,476.8 59.5,479.7 59.4,482.0 C59.3,484.3 59.4,487.3 58.5,489.0 C57.6,490.7 55.9,491.8 54.0,492.3 C52.1,492.9 49.1,492.8 47.0,492.3 C44.9,491.8 42.7,491.2 41.5,489.5 C40.3,487.8 40.0,484.6 39.9,482.0 C39.8,479.4 40.3,475.8 41.0,474.0Z" fill="url(#gp)"/>
<ellipse cx="67" cy="486.8" rx="5.7" ry="8.3" transform="rotate(0 67 486.8)" fill="url(#gp)"/>
<ellipse cx="63.5" cy="456" rx="0.8" ry="1.67" transform="rotate(12 63.5 456)" fill="none" stroke="#555" stroke-width="0.5"/>
<ellipse cx="63.5" cy="456" rx="1.6" ry="3.33" transform="rotate(12 63.5 456)" fill="none" stroke="#555" stroke-width="0.5"/>
<ellipse cx="49" cy="482" rx="1.17" ry="1.17" transform="rotate(0 49 482)" fill="none" stroke="#555" stroke-width="0.5"/>
<ellipse cx="49" cy="482" rx="2.33" ry="2.33" transform="rotate(0 49 482)" fill="none" stroke="#555" stroke-width="0.5"/>
<ellipse cx="67" cy="487" rx="0.53" ry="1.17" transform="rotate(0 67 487)" fill="none" stroke="#555" stroke-width="0.5"/>
<ellipse cx="67" cy="487" rx="1.07" ry="2.33" transform="rotate(0 67 487)" fill="none" stroke="#555" stroke-width="0.5"/>
<ellipse cx="31.8" cy="480" rx="1.8" ry="4" fill="none" stroke="#888" stroke-width="0.6"/>
</g>
<line x1="26.8" y1="453.5" x2="29.2" y2="453.5" stroke="#231f20" stroke-width="0.9" />
<text x="26.6" y="456" font-size="6.6" fill="#231f20" stroke="#231f20" stroke-width="0.22" text-anchor="end" font-weight="bold" >109</text>
<line x1="26.8" y1="474" x2="29.2" y2="474" stroke="#231f20" stroke-width="0.9" />
<text x="26.6" y="476.5" font-size="6.6" fill="#231f20" stroke="#231f20" stroke-width="0.22" text-anchor="end" font-weight="bold" >111</text>
<line x1="26.8" y1="493.8" x2="29.2" y2="493.8" stroke="#231f20" stroke-width="0.9" />
<text x="26.6" y="496.3" font-size="6.6" fill="#231f20" stroke="#231f20" stroke-width="0.22" text-anchor="end" font-weight="bold" >113</text>
<line x1="27.9" y1="445.3" x2="29.2" y2="445.3" stroke="#231f20" stroke-width="0.6" />
<line x1="27.9" y1="449.4" x2="29.2" y2="449.4" stroke="#231f20" stroke-width="0.6" />
<line x1="27.9" y1="453.5" x2="29.2" y2="453.5" stroke="#231f20" stroke-width="0.6" />
<line x1="27.9" y1="457.6" x2="29.2" y2="457.6" stroke="#231f20" stroke-width="0.6" />
<line x1="27.9" y1="461.7" x2="29.2" y2="461.7" stroke="#231f20" stroke-width="0.6" />
<line x1="27.9" y1="465.8" x2="29.2" y2="465.8" stroke="#231f20" stroke-width="0.6" />
<line x1="27.9" y1="469.9" x2="29.2" y2="469.9" stroke="#231f20" stroke-width="0.6" />
<line x1="27.9" y1="474" x2="29.2" y2="474" stroke="#231f20" stroke-width="0.6" />
<line x1="27.9" y1="478.1" x2="29.2" y2="478.1" stroke="#231f20" stroke-width="0.6" />
<line x1="27.9" y1="482.2" x2="29.2" y2="482.2" stroke="#231f20" stroke-width="0.6" />
<line x1="27.9" y1="486.3" x2="29.2" y2="486.3" stroke="#231f20" stroke-width="0.6" />
<line x1="27.9" y1="490.4" x2="29.2" y2="490.4" stroke="#231f20" stroke-width="0.6" />
<line x1="27.9" y1="494.5" x2="29.2" y2="494.5" stroke="#231f20" stroke-width="0.6" />
<line x1="27.9" y1="498.6" x2="29.2" y2="498.6" stroke="#231f20" stroke-width="0.6" />
<line x1="27.9" y1="502.7" x2="29.2" y2="502.7" stroke="#231f20" stroke-width="0.6" />
<line x1="40.9" y1="503.6" x2="40.9" y2="506" stroke="#231f20" stroke-width="0.9" />
<text x="40.9" y="510.8" font-size="6.6" fill="#231f20" stroke="#231f20" stroke-width="0.22" text-anchor="middle" font-weight="bold" >62.5</text>
<line x1="55.6" y1="503.6" x2="55.6" y2="506" stroke="#231f20" stroke-width="0.9" />
<text x="55.6" y="510.8" font-size="6.6" fill="#231f20" stroke="#231f20" stroke-width="0.22" text-anchor="middle" font-weight="bold" >61.5</text>
<line x1="73.6" y1="503.6" x2="73.6" y2="506" stroke="#231f20" stroke-width="0.9" />
<text x="73.6" y="510.8" font-size="6.6" fill="#231f20" stroke="#231f20" stroke-width="0.22" text-anchor="middle" font-weight="bold" >60.5</text>
<line x1="32.08" y1="503.6" x2="32.08" y2="504.9" stroke="#231f20" stroke-width="0.6" />
<line x1="35.02" y1="503.6" x2="35.02" y2="504.9" stroke="#231f20" stroke-width="0.6" />
<line x1="37.96" y1="503.6" x2="37.96" y2="504.9" stroke="#231f20" stroke-width="0.6" />
<line x1="40.9" y1="503.6" x2="40.9" y2="504.9" stroke="#231f20" stroke-width="0.6" />
<line x1="43.84" y1="503.6" x2="43.84" y2="504.9" stroke="#231f20" stroke-width="0.6" />
<line x1="46.78" y1="503.6" x2="46.78" y2="504.9" stroke="#231f20" stroke-width="0.6" />
<line x1="49.72" y1="503.6" x2="49.72" y2="504.9" stroke="#231f20" stroke-width="0.6" />
<line x1="52.66" y1="503.6" x2="52.66" y2="504.9" stroke="#231f20" stroke-width="0.6" />
<line x1="55.6" y1="503.6" x2="55.6" y2="504.9" stroke="#231f20" stroke-width="0.6" />
<line x1="58.54" y1="503.6" x2="58.54" y2="504.9" stroke="#231f20" stroke-width="0.6" />
<line x1="61.48" y1="503.6" x2="61.48" y2="504.9" stroke="#231f20" stroke-width="0.6" />
<line x1="64.42" y1="503.6" x2="64.42" y2="504.9" stroke="#231f20" stroke-width="0.6" />
<line x1="67.36" y1="503.6" x2="67.36" y2="504.9" stroke="#231f20" stroke-width="0.6" />
<line x1="70.3" y1="503.6" x2="70.3" y2="504.9" stroke="#231f20" stroke-width="0.6" />
<line x1="73.24" y1="503.6" x2="73.24" y2="504.9" stroke="#231f20" stroke-width="0.6" />
<line x1="76.18" y1="503.6" x2="76.18" y2="504.9" stroke="#231f20" stroke-width="0.6" />
<line x1="79.12" y1="503.6" x2="79.12" y2="504.9" stroke="#231f20" stroke-width="0.6" />
<rect x="29.2" y="443.2" width="50.1" height="60.4" fill="none" stroke="#2b2525" stroke-width="1.4" />
<line x1="58.4" y1="487" x2="53.29" y2="483.87" stroke="#1f4fff" stroke-width="2.2" />
<polygon points="48.6,481 55.48,480.29 52.27,483.25 51.1,487.45" fill="#1f4fff"/>
<line x1="65.6" y1="463" x2="63.19" y2="459.08" stroke="#1f4fff" stroke-width="2.2" />
<polygon points="60.3,454.4 66.76,456.88 62.56,458.06 59.61,461.29" fill="#1f4fff"/>
<text x="41.9" y="455.6" font-size="9.4" fill="#231f20" stroke="#231f20" stroke-width="0.22" text-anchor="start" font-weight="bold" >Y34</text>
<text x="32.7" y="471" font-size="8.6" fill="#1f4fff" stroke="#1f4fff" stroke-width="0.22" text-anchor="start" font-weight="bold" >S36</text>
<text x="54.6" y="520" font-size="8.2" fill="#231f20" stroke="#231f20" stroke-width="0.22" text-anchor="middle" font-weight="bold"><tspan font-size="4.9" dy="-2.9">13</tspan><tspan dy="2.9">C (ppm)</tspan></text>
<text transform="translate(11.6,477) rotate(-90)" font-size="8.2" fill="#231f20" stroke="#231f20" stroke-width="0.22" text-anchor="middle" font-weight="bold"><tspan font-size="4.9" dy="-2.9">15</tspan><tspan dy="2.9">N (ppm)</tspan></text>
<clipPath id="cd5"><rect x="103.8" y="442.2" width="54.1" height="62.8"/></clipPath><g clip-path="url(#cd5)">
<path d="M134.0,443.5 C135.9,440.7 143.6,443.1 147.3,443.0 C151.0,442.9 155.0,442.3 156.4,443.0 C157.8,443.7 156.6,446.1 155.9,447.1 C155.2,448.1 153.3,447.9 152.4,449.1 C151.5,450.3 150.8,450.9 150.4,454.1 C150.0,457.3 150.0,463.8 149.8,468.2 C149.6,472.6 149.9,476.6 149.3,480.3 C148.7,484.0 147.8,487.9 146.3,490.4 C144.8,492.9 142.0,495.5 140.3,495.4 C138.6,495.3 136.7,495.9 136.0,490.0 C135.3,484.1 136.3,467.8 136.0,460.0 C135.7,452.2 132.1,446.3 134.0,443.5Z" fill="url(#gk4)"/>
<rect x="156.2" y="446" width="1.8" height="50" fill="#555" stroke="none" stroke-width="1" />
<path d="M130.2,444.5 C132.9,444.5 137.4,444.7 139.3,446.1 C141.2,447.5 141.4,449.4 141.8,453.1 C142.2,456.8 141.9,462.7 141.8,468.2 C141.7,473.7 141.9,481.9 141.3,486.3 C140.7,490.7 140.2,492.4 138.3,494.4 C136.5,496.4 133.6,497.7 130.2,498.4 C126.8,499.1 121.4,499.4 118.1,498.4 C114.8,497.4 111.7,495.4 110.1,492.4 C108.5,489.4 108.3,485.2 108.3,480.3 C108.3,475.4 108.8,467.9 110.1,463.2 C111.4,458.5 113.9,455.0 116.1,452.1 C118.3,449.2 120.9,447.4 123.2,446.1 C125.5,444.8 127.5,444.5 130.2,444.5Z" fill="url(#gp3)"/>
<ellipse cx="125.5" cy="472" rx="1.5" ry="3" transform="rotate(0 125.5 472)" fill="none" stroke="#aaa" stroke-width="0.35"/>
<ellipse cx="125.5" cy="472" rx="3" ry="6" transform="rotate(0 125.5 472)" fill="none" stroke="#aaa" stroke-width="0.35"/>
<ellipse cx="125.5" cy="472" rx="4.5" ry="9" transform="rotate(0 125.5 472)" fill="none" stroke="#aaa" stroke-width="0.35"/>
<ellipse cx="125.5" cy="472" rx="6" ry="12" transform="rotate(0 125.5 472)" fill="none" stroke="#aaa" stroke-width="0.35"/>
<ellipse cx="125.5" cy="472" rx="7.5" ry="15" transform="rotate(0 125.5 472)" fill="none" stroke="#aaa" stroke-width="0.35"/>
</g>
<line x1="101.4" y1="455.7" x2="103.8" y2="455.7" stroke="#231f20" stroke-width="0.9" />
<text x="100.6" y="458.2" font-size="6.6" fill="#231f20" stroke="#231f20" stroke-width="0.22" text-anchor="end" font-weight="bold" >124</text>
<line x1="101.4" y1="478.6" x2="103.8" y2="478.6" stroke="#231f20" stroke-width="0.9" />
<text x="100.6" y="481.1" font-size="6.6" fill="#231f20" stroke="#231f20" stroke-width="0.22" text-anchor="end" font-weight="bold" >125</text>
<line x1="101.4" y1="501" x2="103.8" y2="501" stroke="#231f20" stroke-width="0.9" />
<text x="100.6" y="503.5" font-size="6.6" fill="#231f20" stroke="#231f20" stroke-width="0.22" text-anchor="end" font-weight="bold" >126</text>
<line x1="102.5" y1="446.54" x2="103.8" y2="446.54" stroke="#231f20" stroke-width="0.6" />
<line x1="102.5" y1="451.12" x2="103.8" y2="451.12" stroke="#231f20" stroke-width="0.6" />
<line x1="102.5" y1="455.7" x2="103.8" y2="455.7" stroke="#231f20" stroke-width="0.6" />
<line x1="102.5" y1="460.28" x2="103.8" y2="460.28" stroke="#231f20" stroke-width="0.6" />
<line x1="102.5" y1="464.86" x2="103.8" y2="464.86" stroke="#231f20" stroke-width="0.6" />
<line x1="102.5" y1="469.44" x2="103.8" y2="469.44" stroke="#231f20" stroke-width="0.6" />
<line x1="102.5" y1="474.02" x2="103.8" y2="474.02" stroke="#231f20" stroke-width="0.6" />
<line x1="102.5" y1="478.6" x2="103.8" y2="478.6" stroke="#231f20" stroke-width="0.6" />
<line x1="102.5" y1="483.18" x2="103.8" y2="483.18" stroke="#231f20" stroke-width="0.6" />
<line x1="102.5" y1="487.76" x2="103.8" y2="487.76" stroke="#231f20" stroke-width="0.6" />
<line x1="102.5" y1="492.34" x2="103.8" y2="492.34" stroke="#231f20" stroke-width="0.6" />
<line x1="102.5" y1="496.92" x2="103.8" y2="496.92" stroke="#231f20" stroke-width="0.6" />
<line x1="102.5" y1="501.5" x2="103.8" y2="501.5" stroke="#231f20" stroke-width="0.6" />
<line x1="124.7" y1="505" x2="124.7" y2="507.4" stroke="#231f20" stroke-width="0.9" />
<text x="124.7" y="512.6" font-size="6.6" fill="#231f20" stroke="#231f20" stroke-width="0.22" text-anchor="middle" font-weight="bold" >57.0</text>
<line x1="141.2" y1="505" x2="141.2" y2="507.4" stroke="#231f20" stroke-width="0.9" />
<text x="141.2" y="512.6" font-size="6.6" fill="#231f20" stroke="#231f20" stroke-width="0.22" text-anchor="middle" font-weight="bold" >56.5</text>
<line x1="108.2" y1="505" x2="108.2" y2="506.3" stroke="#231f20" stroke-width="0.6" />
<line x1="111.5" y1="505" x2="111.5" y2="506.3" stroke="#231f20" stroke-width="0.6" />
<line x1="114.8" y1="505" x2="114.8" y2="506.3" stroke="#231f20" stroke-width="0.6" />
<line x1="118.1" y1="505" x2="118.1" y2="506.3" stroke="#231f20" stroke-width="0.6" />
<line x1="121.4" y1="505" x2="121.4" y2="506.3" stroke="#231f20" stroke-width="0.6" />
<line x1="124.7" y1="505" x2="124.7" y2="506.3" stroke="#231f20" stroke-width="0.6" />
<line x1="128" y1="505" x2="128" y2="506.3" stroke="#231f20" stroke-width="0.6" />
<line x1="131.3" y1="505" x2="131.3" y2="506.3" stroke="#231f20" stroke-width="0.6" />
<line x1="134.6" y1="505" x2="134.6" y2="506.3" stroke="#231f20" stroke-width="0.6" />
<line x1="137.9" y1="505" x2="137.9" y2="506.3" stroke="#231f20" stroke-width="0.6" />
<line x1="141.2" y1="505" x2="141.2" y2="506.3" stroke="#231f20" stroke-width="0.6" />
<line x1="144.5" y1="505" x2="144.5" y2="506.3" stroke="#231f20" stroke-width="0.6" />
<line x1="147.8" y1="505" x2="147.8" y2="506.3" stroke="#231f20" stroke-width="0.6" />
<line x1="151.1" y1="505" x2="151.1" y2="506.3" stroke="#231f20" stroke-width="0.6" />
<line x1="154.4" y1="505" x2="154.4" y2="506.3" stroke="#231f20" stroke-width="0.6" />
<line x1="157.7" y1="505" x2="157.7" y2="506.3" stroke="#231f20" stroke-width="0.6" />
<rect x="103.8" y="442.2" width="54.1" height="62.8" fill="none" stroke="#2b2525" stroke-width="1.4" />
<line x1="136.3" y1="469.7" x2="130.99" y2="471.02" stroke="#1f4fff" stroke-width="2.8" />
<polygon points="124.2,472.7 129.84,466.36 129.83,471.3 132.15,475.67" fill="#1f4fff"/>
<text x="136.8" y="501.6" font-size="8.6" fill="#1f4fff" stroke="#1f4fff" stroke-width="0.22" text-anchor="start" font-weight="bold" >H37</text>
<text x="129.5" y="520" font-size="8.2" fill="#231f20" stroke="#231f20" stroke-width="0.22" text-anchor="middle" font-weight="bold"><tspan font-size="4.9" dy="-2.9">13</tspan><tspan dy="2.9">C (ppm)</tspan></text>
<text transform="translate(89.3,477) rotate(-90)" font-size="8.2" fill="#231f20" stroke="#231f20" stroke-width="0.22" text-anchor="middle" font-weight="bold"><tspan font-size="4.9" dy="-2.9">15</tspan><tspan dy="2.9">N (ppm)</tspan></text>
<clipPath id="cd6"><rect x="183.7" y="443.5" width="60.4" height="62.5"/></clipPath><g clip-path="url(#cd6)">
<path d="M203.4,454.7 C205.6,452.4 208.0,449.1 213.9,447.5 C219.8,445.9 233.6,445.6 238.8,444.9 C244.0,444.1 244.0,442.5 245.0,443.0 C246.0,443.5 246.2,445.9 245.0,448.1 C243.8,450.3 239.1,452.5 237.5,456.0 C235.9,459.5 236.0,463.9 235.6,469.2 C235.2,474.5 235.7,483.0 234.9,487.6 C234.1,492.2 233.6,494.8 231.0,496.8 C228.4,498.8 222.2,499.2 219.1,499.4 C216.0,499.6 215.2,497.9 212.6,498.1 C210.0,498.3 205.8,501.1 203.4,500.7 C201.0,500.2 199.2,498.5 198.1,495.4 C197.0,492.3 196.6,485.8 196.8,482.3 C197.0,478.8 198.8,477.9 199.4,474.4 C200.1,470.9 200.0,464.6 200.7,461.3 C201.4,458.0 201.2,457.0 203.4,454.7Z" fill="url(#gk4)"/>
<path d="M212.6,450.1 C217.2,448.4 233.4,445.4 238.8,444.2 C244.2,443.0 244.1,442.4 245.0,443.0 C245.9,443.6 245.9,445.7 244.0,448.1 C242.1,450.5 236.7,453.8 233.6,457.3 C230.5,460.8 227.4,464.6 225.7,469.2 C223.9,473.8 224.8,480.5 223.1,484.9 C221.3,489.3 217.6,493.2 215.2,495.4 C212.8,497.6 210.3,497.9 208.6,498.1 C206.8,498.3 205.8,499.0 204.7,496.8 C203.6,494.6 202.0,488.6 202.0,484.9 C202.0,481.2 203.4,477.9 204.7,474.4 C206.0,470.9 208.8,467.2 209.9,463.9 C211.0,460.6 210.8,457.0 211.2,454.7 C211.6,452.4 208.0,451.9 212.6,450.1Z" fill="url(#gp)"/>
<ellipse cx="216" cy="472" rx="0.8" ry="3.2" transform="rotate(25 216 472)" fill="none" stroke="#999" stroke-width="0.4"/>
<ellipse cx="216" cy="472" rx="1.6" ry="6.4" transform="rotate(25 216 472)" fill="none" stroke="#999" stroke-width="0.4"/>
<ellipse cx="216" cy="472" rx="2.4" ry="9.6" transform="rotate(25 216 472)" fill="none" stroke="#999" stroke-width="0.4"/>
<ellipse cx="216" cy="472" rx="3.2" ry="12.8" transform="rotate(25 216 472)" fill="none" stroke="#999" stroke-width="0.4"/>
</g>
<line x1="181.3" y1="450.5" x2="183.7" y2="450.5" stroke="#231f20" stroke-width="0.9" />
<text x="181" y="453" font-size="6.6" fill="#231f20" stroke="#231f20" stroke-width="0.22" text-anchor="end" font-weight="bold" >58.5</text>
<line x1="181.3" y1="468.5" x2="183.7" y2="468.5" stroke="#231f20" stroke-width="0.9" />
<text x="181" y="471" font-size="6.6" fill="#231f20" stroke="#231f20" stroke-width="0.22" text-anchor="end" font-weight="bold" >59.0</text>
<line x1="181.3" y1="486.5" x2="183.7" y2="486.5" stroke="#231f20" stroke-width="0.9" />
<text x="181" y="489" font-size="6.6" fill="#231f20" stroke="#231f20" stroke-width="0.22" text-anchor="end" font-weight="bold" >59.5</text>
<line x1="181.3" y1="504.4" x2="183.7" y2="504.4" stroke="#231f20" stroke-width="0.9" />
<text x="181" y="506.9" font-size="6.6" fill="#231f20" stroke="#231f20" stroke-width="0.22" text-anchor="end" font-weight="bold" >60.0</text>
<line x1="182.4" y1="446.9" x2="183.7" y2="446.9" stroke="#231f20" stroke-width="0.6" />
<line x1="182.4" y1="450.5" x2="183.7" y2="450.5" stroke="#231f20" stroke-width="0.6" />
<line x1="182.4" y1="454.1" x2="183.7" y2="454.1" stroke="#231f20" stroke-width="0.6" />
<line x1="182.4" y1="457.7" x2="183.7" y2="457.7" stroke="#231f20" stroke-width="0.6" />
<line x1="182.4" y1="461.3" x2="183.7" y2="461.3" stroke="#231f20" stroke-width="0.6" />
<line x1="182.4" y1="464.9" x2="183.7" y2="464.9" stroke="#231f20" stroke-width="0.6" />
<line x1="182.4" y1="468.5" x2="183.7" y2="468.5" stroke="#231f20" stroke-width="0.6" />
<line x1="182.4" y1="472.1" x2="183.7" y2="472.1" stroke="#231f20" stroke-width="0.6" />
<line x1="182.4" y1="475.7" x2="183.7" y2="475.7" stroke="#231f20" stroke-width="0.6" />
<line x1="182.4" y1="479.3" x2="183.7" y2="479.3" stroke="#231f20" stroke-width="0.6" />
<line x1="182.4" y1="482.9" x2="183.7" y2="482.9" stroke="#231f20" stroke-width="0.6" />
<line x1="182.4" y1="486.5" x2="183.7" y2="486.5" stroke="#231f20" stroke-width="0.6" />
<line x1="182.4" y1="490.1" x2="183.7" y2="490.1" stroke="#231f20" stroke-width="0.6" />
<line x1="182.4" y1="493.7" x2="183.7" y2="493.7" stroke="#231f20" stroke-width="0.6" />
<line x1="182.4" y1="497.3" x2="183.7" y2="497.3" stroke="#231f20" stroke-width="0.6" />
<line x1="182.4" y1="500.9" x2="183.7" y2="500.9" stroke="#231f20" stroke-width="0.6" />
<line x1="182.4" y1="504.5" x2="183.7" y2="504.5" stroke="#231f20" stroke-width="0.6" />
<line x1="200.7" y1="506" x2="200.7" y2="508.4" stroke="#231f20" stroke-width="0.9" />
<text x="200.7" y="513.6" font-size="6.6" fill="#231f20" stroke="#231f20" stroke-width="0.22" text-anchor="middle" font-weight="bold" >38.0</text>
<line x1="227.7" y1="506" x2="227.7" y2="508.4" stroke="#231f20" stroke-width="0.9" />
<text x="227.7" y="513.6" font-size="6.6" fill="#231f20" stroke="#231f20" stroke-width="0.22" text-anchor="middle" font-weight="bold" >37.0</text>
<line x1="184.5" y1="506" x2="184.5" y2="507.3" stroke="#231f20" stroke-width="0.6" />
<line x1="189.9" y1="506" x2="189.9" y2="507.3" stroke="#231f20" stroke-width="0.6" />
<line x1="195.3" y1="506" x2="195.3" y2="507.3" stroke="#231f20" stroke-width="0.6" />
<line x1="200.7" y1="506" x2="200.7" y2="507.3" stroke="#231f20" stroke-width="0.6" />
<line x1="206.1" y1="506" x2="206.1" y2="507.3" stroke="#231f20" stroke-width="0.6" />
<line x1="211.5" y1="506" x2="211.5" y2="507.3" stroke="#231f20" stroke-width="0.6" />
<line x1="216.9" y1="506" x2="216.9" y2="507.3" stroke="#231f20" stroke-width="0.6" />
<line x1="222.3" y1="506" x2="222.3" y2="507.3" stroke="#231f20" stroke-width="0.6" />
<line x1="227.7" y1="506" x2="227.7" y2="507.3" stroke="#231f20" stroke-width="0.6" />
<line x1="233.1" y1="506" x2="233.1" y2="507.3" stroke="#231f20" stroke-width="0.6" />
<line x1="238.5" y1="506" x2="238.5" y2="507.3" stroke="#231f20" stroke-width="0.6" />
<line x1="243.9" y1="506" x2="243.9" y2="507.3" stroke="#231f20" stroke-width="0.6" />
<rect x="183.7" y="443.5" width="60.4" height="62.5" fill="none" stroke="#2b2525" stroke-width="1.4" />
<line x1="217.8" y1="465.2" x2="217.02" y2="473.52" stroke="#1f4fff" stroke-width="2.2" />
<polygon points="216.5,479 212.83,473.13 216.9,474.72 221.2,473.92" fill="#1f4fff"/>
<text x="228.3" y="501.5" font-size="8.6" fill="#1f4fff" stroke="#1f4fff" stroke-width="0.22" text-anchor="start" font-weight="bold" >Y82</text>
<text x="212.6" y="521.8" font-size="8.2" fill="#231f20" stroke="#231f20" stroke-width="0.22" text-anchor="middle" font-weight="bold"><tspan font-size="4.9" dy="-2.9">13</tspan><tspan dy="2.9">C (ppm)</tspan></text>
<text transform="translate(164.5,476.6) rotate(-90)" font-size="8.2" fill="#231f20" stroke="#231f20" stroke-width="0.22" text-anchor="middle" font-weight="bold"><tspan font-size="4.9" dy="-2.9">13</tspan><tspan dy="2.9">C (ppm)</tspan></text>
<text x="1.9" y="539.4" font-size="16.8" fill="#231f20" stroke="#231f20" stroke-width="0.22" text-anchor="start" font-weight="bold" >f</text>
<clipPath id="cf1"><rect x="28.2" y="544.3" width="51.2" height="61"/></clipPath><g clip-path="url(#cf1)">
<ellipse cx="31" cy="553.5" rx="7.5" ry="8.5" transform="rotate(0 31 553.5)" fill="url(#gp)"/>
<ellipse cx="61.8" cy="555.5" rx="10.5" ry="9" transform="rotate(-10 61.8 555.5)" fill="url(#gk)"/>
<ellipse cx="43.4" cy="594" rx="9.7" ry="7.8" transform="rotate(0 43.4 594)" fill="url(#gk)"/>
<ellipse cx="45" cy="590" rx="3" ry="3.5" transform="rotate(0 45 590)" fill="url(#gp)"/>
</g>
<line x1="25.8" y1="546.6" x2="28.2" y2="546.6" stroke="#231f20" stroke-width="0.9" />
<text x="24.6" y="549.1" font-size="6.6" fill="#231f20" stroke="#231f20" stroke-width="0.22" text-anchor="end" font-weight="bold" >106</text>
<line x1="25.8" y1="562.9" x2="28.2" y2="562.9" stroke="#231f20" stroke-width="0.9" />
<text x="24.6" y="565.4" font-size="6.6" fill="#231f20" stroke="#231f20" stroke-width="0.22" text-anchor="end" font-weight="bold" >108</text>
<line x1="25.8" y1="579.3" x2="28.2" y2="579.3" stroke="#231f20" stroke-width="0.9" />
<text x="24.6" y="581.8" font-size="6.6" fill="#231f20" stroke="#231f20" stroke-width="0.22" text-anchor="end" font-weight="bold" >110</text>
<line x1="25.8" y1="595.6" x2="28.2" y2="595.6" stroke="#231f20" stroke-width="0.9" />
<text x="24.6" y="598.1" font-size="6.6" fill="#231f20" stroke="#231f20" stroke-width="0.22" text-anchor="end" font-weight="bold" >112</text>
<line x1="26.9" y1="546.6" x2="28.2" y2="546.6" stroke="#231f20" stroke-width="0.6" />
<line x1="26.9" y1="549.86" x2="28.2" y2="549.86" stroke="#231f20" stroke-width="0.6" />
<line x1="26.9" y1="553.12" x2="28.2" y2="553.12" stroke="#231f20" stroke-width="0.6" />
<line x1="26.9" y1="556.38" x2="28.2" y2="556.38" stroke="#231f20" stroke-width="0.6" />
<line x1="26.9" y1="559.64" x2="28.2" y2="559.64" stroke="#231f20" stroke-width="0.6" />
<line x1="26.9" y1="562.9" x2="28.2" y2="562.9" stroke="#231f20" stroke-width="0.6" />
<line x1="26.9" y1="566.16" x2="28.2" y2="566.16" stroke="#231f20" stroke-width="0.6" />
<line x1="26.9" y1="569.42" x2="28.2" y2="569.42" stroke="#231f20" stroke-width="0.6" />
<line x1="26.9" y1="572.68" x2="28.2" y2="572.68" stroke="#231f20" stroke-width="0.6" />
<line x1="26.9" y1="575.94" x2="28.2" y2="575.94" stroke="#231f20" stroke-width="0.6" />
<line x1="26.9" y1="579.2" x2="28.2" y2="579.2" stroke="#231f20" stroke-width="0.6" />
<line x1="26.9" y1="582.46" x2="28.2" y2="582.46" stroke="#231f20" stroke-width="0.6" />
<line x1="26.9" y1="585.72" x2="28.2" y2="585.72" stroke="#231f20" stroke-width="0.6" />
<line x1="26.9" y1="588.98" x2="28.2" y2="588.98" stroke="#231f20" stroke-width="0.6" />
<line x1="26.9" y1="592.24" x2="28.2" y2="592.24" stroke="#231f20" stroke-width="0.6" />
<line x1="26.9" y1="595.5" x2="28.2" y2="595.5" stroke="#231f20" stroke-width="0.6" />
<line x1="26.9" y1="598.76" x2="28.2" y2="598.76" stroke="#231f20" stroke-width="0.6" />
<line x1="26.9" y1="602.02" x2="28.2" y2="602.02" stroke="#231f20" stroke-width="0.6" />
<line x1="26.9" y1="605.28" x2="28.2" y2="605.28" stroke="#231f20" stroke-width="0.6" />
<line x1="37.8" y1="605.3" x2="37.8" y2="607.7" stroke="#231f20" stroke-width="0.9" />
<text x="37.8" y="614.2" font-size="6.6" fill="#231f20" stroke="#231f20" stroke-width="0.22" text-anchor="middle" font-weight="bold" >46.0</text>
<line x1="61" y1="605.3" x2="61" y2="607.7" stroke="#231f20" stroke-width="0.9" />
<text x="61" y="614.2" font-size="6.6" fill="#231f20" stroke="#231f20" stroke-width="0.22" text-anchor="middle" font-weight="bold" >45.0</text>
<line x1="28.52" y1="605.3" x2="28.52" y2="606.6" stroke="#231f20" stroke-width="0.6" />
<line x1="33.16" y1="605.3" x2="33.16" y2="606.6" stroke="#231f20" stroke-width="0.6" />
<line x1="37.8" y1="605.3" x2="37.8" y2="606.6" stroke="#231f20" stroke-width="0.6" />
<line x1="42.44" y1="605.3" x2="42.44" y2="606.6" stroke="#231f20" stroke-width="0.6" />
<line x1="47.08" y1="605.3" x2="47.08" y2="606.6" stroke="#231f20" stroke-width="0.6" />
<line x1="51.72" y1="605.3" x2="51.72" y2="606.6" stroke="#231f20" stroke-width="0.6" />
<line x1="56.36" y1="605.3" x2="56.36" y2="606.6" stroke="#231f20" stroke-width="0.6" />
<line x1="61" y1="605.3" x2="61" y2="606.6" stroke="#231f20" stroke-width="0.6" />
<line x1="65.64" y1="605.3" x2="65.64" y2="606.6" stroke="#231f20" stroke-width="0.6" />
<line x1="70.28" y1="605.3" x2="70.28" y2="606.6" stroke="#231f20" stroke-width="0.6" />
<line x1="74.92" y1="605.3" x2="74.92" y2="606.6" stroke="#231f20" stroke-width="0.6" />
<rect x="28.2" y="544.3" width="51.2" height="61" fill="none" stroke="#2b2525" stroke-width="1.4" />
<rect x="50" y="545.5" width="22.6" height="24.5" fill="none" stroke="#f4a81d" stroke-width="1.9" stroke-dasharray="6.5,3.8"/>
<rect x="31.7" y="585" width="22.5" height="17.8" fill="none" stroke="#f4a81d" stroke-width="1.9" stroke-dasharray="6.5,3.8"/>
<line x1="60.5" y1="554" x2="64.1" y2="557.6" stroke="#111" stroke-width="1.5" />
<line x1="60.5" y1="557.6" x2="64.1" y2="554" stroke="#111" stroke-width="1.5" />
<line x1="42.2" y1="591.8" x2="45.8" y2="595.4" stroke="#111" stroke-width="1.5" />
<line x1="42.2" y1="595.4" x2="45.8" y2="591.8" stroke="#111" stroke-width="1.5" />
<text x="59.3" y="572.2" font-size="8.6" fill="#1f4fff" stroke="#1f4fff" stroke-width="0.22" text-anchor="start" font-weight="bold" >G95</text>
<text x="47" y="585.5" font-size="8.6" fill="#1f4fff" stroke="#1f4fff" stroke-width="0.22" text-anchor="start" font-weight="bold" >G94</text>
<text x="54.7" y="622.6" font-size="8.2" fill="#231f20" stroke="#231f20" stroke-width="0.22" text-anchor="middle" font-weight="bold"><tspan font-size="4.9" dy="-2.9">13</tspan><tspan dy="2.9">C (ppm)</tspan></text>
<text transform="translate(9.6,576.4) rotate(-90)" font-size="8.2" fill="#231f20" stroke="#231f20" stroke-width="0.22" text-anchor="middle" font-weight="bold"><tspan font-size="4.9" dy="-2.9">15</tspan><tspan dy="2.9">N (ppm)</tspan></text>
<clipPath id="cf2"><rect x="101.6" y="544.6" width="50.6" height="61"/></clipPath><g clip-path="url(#cf2)">
<ellipse cx="145" cy="557" rx="12.5" ry="15" transform="rotate(0 145 557)" fill="url(#gk)"/>
<ellipse cx="146" cy="556" rx="10" ry="13" transform="rotate(0 146 556)" fill="url(#gp)"/>
<ellipse cx="130" cy="586" rx="9.7" ry="13.3" transform="rotate(-10 130 586)" fill="url(#gk)"/>
<ellipse cx="134" cy="580" rx="3.5" ry="6" transform="rotate(-10 134 580)" fill="url(#gp)"/>
<ellipse cx="141" cy="594.3" rx="2.6" ry="3.2" transform="rotate(0 141 594.3)" fill="url(#gp)"/>
<ellipse cx="152" cy="602" rx="3" ry="4" transform="rotate(0 152 602)" fill="url(#gp)"/>
</g>
<line x1="99.2" y1="546.4" x2="101.6" y2="546.4" stroke="#231f20" stroke-width="0.9" />
<text x="100.2" y="548.9" font-size="6.6" fill="#231f20" stroke="#231f20" stroke-width="0.22" text-anchor="end" font-weight="bold" >62</text>
<line x1="99.2" y1="569.4" x2="101.6" y2="569.4" stroke="#231f20" stroke-width="0.9" />
<text x="100.2" y="571.9" font-size="6.6" fill="#231f20" stroke="#231f20" stroke-width="0.22" text-anchor="end" font-weight="bold" >63</text>
<line x1="99.2" y1="593.5" x2="101.6" y2="593.5" stroke="#231f20" stroke-width="0.9" />
<text x="100.2" y="596" font-size="6.6" fill="#231f20" stroke="#231f20" stroke-width="0.22" text-anchor="end" font-weight="bold" >64</text>
<line x1="100.3" y1="546.4" x2="101.6" y2="546.4" stroke="#231f20" stroke-width="0.6" />
<line x1="100.3" y1="551" x2="101.6" y2="551" stroke="#231f20" stroke-width="0.6" />
<line x1="100.3" y1="555.6" x2="101.6" y2="555.6" stroke="#231f20" stroke-width="0.6" />
<line x1="100.3" y1="560.2" x2="101.6" y2="560.2" stroke="#231f20" stroke-width="0.6" />
<line x1="100.3" y1="564.8" x2="101.6" y2="564.8" stroke="#231f20" stroke-width="0.6" />
<line x1="100.3" y1="569.4" x2="101.6" y2="569.4" stroke="#231f20" stroke-width="0.6" />
<line x1="100.3" y1="574" x2="101.6" y2="574" stroke="#231f20" stroke-width="0.6" />
<line x1="100.3" y1="578.6" x2="101.6" y2="578.6" stroke="#231f20" stroke-width="0.6" />
<line x1="100.3" y1="583.2" x2="101.6" y2="583.2" stroke="#231f20" stroke-width="0.6" />
<line x1="100.3" y1="587.8" x2="101.6" y2="587.8" stroke="#231f20" stroke-width="0.6" />
<line x1="100.3" y1="592.4" x2="101.6" y2="592.4" stroke="#231f20" stroke-width="0.6" />
<line x1="100.3" y1="597" x2="101.6" y2="597" stroke="#231f20" stroke-width="0.6" />
<line x1="100.3" y1="601.6" x2="101.6" y2="601.6" stroke="#231f20" stroke-width="0.6" />
<line x1="110.5" y1="605.6" x2="110.5" y2="608" stroke="#231f20" stroke-width="0.9" />
<text x="110.5" y="614.2" font-size="6.6" fill="#231f20" stroke="#231f20" stroke-width="0.22" text-anchor="middle" font-weight="bold" >41.0</text>
<line x1="130" y1="605.6" x2="130" y2="608" stroke="#231f20" stroke-width="0.9" />
<text x="130" y="614.2" font-size="6.6" fill="#231f20" stroke="#231f20" stroke-width="0.22" text-anchor="middle" font-weight="bold" >40.0</text>
<line x1="146.6" y1="605.6" x2="146.6" y2="608" stroke="#231f20" stroke-width="0.9" />
<text x="146.6" y="614.2" font-size="6.6" fill="#231f20" stroke="#231f20" stroke-width="0.22" text-anchor="middle" font-weight="bold" >39.0</text>
<line x1="102.7" y1="605.6" x2="102.7" y2="606.9" stroke="#231f20" stroke-width="0.6" />
<line x1="106.6" y1="605.6" x2="106.6" y2="606.9" stroke="#231f20" stroke-width="0.6" />
<line x1="110.5" y1="605.6" x2="110.5" y2="606.9" stroke="#231f20" stroke-width="0.6" />
<line x1="114.4" y1="605.6" x2="114.4" y2="606.9" stroke="#231f20" stroke-width="0.6" />
<line x1="118.3" y1="605.6" x2="118.3" y2="606.9" stroke="#231f20" stroke-width="0.6" />
<line x1="122.2" y1="605.6" x2="122.2" y2="606.9" stroke="#231f20" stroke-width="0.6" />
<line x1="126.1" y1="605.6" x2="126.1" y2="606.9" stroke="#231f20" stroke-width="0.6" />
<line x1="130" y1="605.6" x2="130" y2="606.9" stroke="#231f20" stroke-width="0.6" />
<line x1="133.9" y1="605.6" x2="133.9" y2="606.9" stroke="#231f20" stroke-width="0.6" />
<line x1="137.8" y1="605.6" x2="137.8" y2="606.9" stroke="#231f20" stroke-width="0.6" />
<line x1="141.7" y1="605.6" x2="141.7" y2="606.9" stroke="#231f20" stroke-width="0.6" />
<line x1="145.6" y1="605.6" x2="145.6" y2="606.9" stroke="#231f20" stroke-width="0.6" />
<line x1="149.5" y1="605.6" x2="149.5" y2="606.9" stroke="#231f20" stroke-width="0.6" />
<rect x="101.6" y="544.6" width="50.6" height="61" fill="none" stroke="#2b2525" stroke-width="1.4" />
<rect x="118.8" y="569.4" width="21.7" height="32.4" fill="none" stroke="#f4a81d" stroke-width="1.9" stroke-dasharray="6.5,3.8"/>
<line x1="125.5" y1="581.5" x2="134.5" y2="590.5" stroke="#111" stroke-width="1.8" />
<line x1="125.5" y1="590.5" x2="134.5" y2="581.5" stroke="#111" stroke-width="1.8" />
<text x="119.7" y="572.8" font-size="8.6" fill="#1f4fff" stroke="#1f4fff" stroke-width="0.22" text-anchor="start" font-weight="bold" >I74</text>
<text x="127.5" y="622.6" font-size="8.2" fill="#231f20" stroke="#231f20" stroke-width="0.22" text-anchor="middle" font-weight="bold"><tspan font-size="4.9" dy="-2.9">13</tspan><tspan dy="2.9">C (ppm)</tspan></text>
<text transform="translate(88,578) rotate(-90)" font-size="8.2" fill="#231f20" stroke="#231f20" stroke-width="0.22" text-anchor="middle" font-weight="bold"><tspan font-size="4.9" dy="-2.9">13</tspan><tspan dy="2.9">C (ppm)</tspan></text>
<clipPath id="cf3"><rect x="181.2" y="544.2" width="54.4" height="61.6"/></clipPath><g clip-path="url(#cf3)">
<ellipse cx="187.6" cy="566" rx="4.2" ry="6.6" transform="rotate(-15 187.6 566)" fill="url(#gp)"/>
<ellipse cx="189.6" cy="563" rx="3.8" ry="7" transform="rotate(-15 189.6 563)" fill="url(#gk)"/>
<ellipse cx="203" cy="578.8" rx="3" ry="5" transform="rotate(-15 203 578.8)" fill="url(#gk)"/>
<ellipse cx="216" cy="598.5" rx="3.5" ry="4.5" transform="rotate(0 216 598.5)" fill="url(#gp)"/>
<ellipse cx="213" cy="595" rx="4.8" ry="7" transform="rotate(-15 213 595)" fill="url(#gk)"/>
<ellipse cx="226" cy="594" rx="1.2" ry="2" fill="none" stroke="#888" stroke-width="0.5"/>
</g>
<line x1="178.8" y1="547" x2="181.2" y2="547" stroke="#231f20" stroke-width="0.9" />
<text x="179.4" y="549.5" font-size="6.6" fill="#231f20" stroke="#231f20" stroke-width="0.22" text-anchor="end" font-weight="bold" >62</text>
<line x1="178.8" y1="558.8" x2="181.2" y2="558.8" stroke="#231f20" stroke-width="0.9" />
<text x="179.4" y="561.3" font-size="6.6" fill="#231f20" stroke="#231f20" stroke-width="0.22" text-anchor="end" font-weight="bold" >63</text>
<line x1="178.8" y1="570.8" x2="181.2" y2="570.8" stroke="#231f20" stroke-width="0.9" />
<text x="179.4" y="573.3" font-size="6.6" fill="#231f20" stroke="#231f20" stroke-width="0.22" text-anchor="end" font-weight="bold" >64</text>
<line x1="178.8" y1="583.2" x2="181.2" y2="583.2" stroke="#231f20" stroke-width="0.9" />
<text x="179.4" y="585.7" font-size="6.6" fill="#231f20" stroke="#231f20" stroke-width="0.22" text-anchor="end" font-weight="bold" >65</text>
<line x1="178.8" y1="595.5" x2="181.2" y2="595.5" stroke="#231f20" stroke-width="0.9" />
<text x="179.4" y="598" font-size="6.6" fill="#231f20" stroke="#231f20" stroke-width="0.22" text-anchor="end" font-weight="bold" >66</text>
<line x1="179.9" y1="544.64" x2="181.2" y2="544.64" stroke="#231f20" stroke-width="0.6" />
<line x1="179.9" y1="547" x2="181.2" y2="547" stroke="#231f20" stroke-width="0.6" />
<line x1="179.9" y1="549.36" x2="181.2" y2="549.36" stroke="#231f20" stroke-width="0.6" />
<line x1="179.9" y1="551.72" x2="181.2" y2="551.72" stroke="#231f20" stroke-width="0.6" />
<line x1="179.9" y1="554.08" x2="181.2" y2="554.08" stroke="#231f20" stroke-width="0.6" />
<line x1="179.9" y1="556.44" x2="181.2" y2="556.44" stroke="#231f20" stroke-width="0.6" />
<line x1="179.9" y1="558.8" x2="181.2" y2="558.8" stroke="#231f20" stroke-width="0.6" />
<line x1="179.9" y1="561.16" x2="181.2" y2="561.16" stroke="#231f20" stroke-width="0.6" />
<line x1="179.9" y1="563.52" x2="181.2" y2="563.52" stroke="#231f20" stroke-width="0.6" />
<line x1="179.9" y1="565.88" x2="181.2" y2="565.88" stroke="#231f20" stroke-width="0.6" />
<line x1="179.9" y1="568.24" x2="181.2" y2="568.24" stroke="#231f20" stroke-width="0.6" />
<line x1="179.9" y1="570.6" x2="181.2" y2="570.6" stroke="#231f20" stroke-width="0.6" />
<line x1="179.9" y1="572.96" x2="181.2" y2="572.96" stroke="#231f20" stroke-width="0.6" />
<line x1="179.9" y1="575.32" x2="181.2" y2="575.32" stroke="#231f20" stroke-width="0.6" />
<line x1="179.9" y1="577.68" x2="181.2" y2="577.68" stroke="#231f20" stroke-width="0.6" />
<line x1="179.9" y1="580.04" x2="181.2" y2="580.04" stroke="#231f20" stroke-width="0.6" />
<line x1="179.9" y1="582.4" x2="181.2" y2="582.4" stroke="#231f20" stroke-width="0.6" />
<line x1="179.9" y1="584.76" x2="181.2" y2="584.76" stroke="#231f20" stroke-width="0.6" />
<line x1="179.9" y1="587.12" x2="181.2" y2="587.12" stroke="#231f20" stroke-width="0.6" />
<line x1="179.9" y1="589.48" x2="181.2" y2="589.48" stroke="#231f20" stroke-width="0.6" />
<line x1="179.9" y1="591.84" x2="181.2" y2="591.84" stroke="#231f20" stroke-width="0.6" />
<line x1="179.9" y1="594.2" x2="181.2" y2="594.2" stroke="#231f20" stroke-width="0.6" />
<line x1="179.9" y1="596.56" x2="181.2" y2="596.56" stroke="#231f20" stroke-width="0.6" />
<line x1="179.9" y1="598.92" x2="181.2" y2="598.92" stroke="#231f20" stroke-width="0.6" />
<line x1="179.9" y1="601.28" x2="181.2" y2="601.28" stroke="#231f20" stroke-width="0.6" />
<line x1="179.9" y1="603.64" x2="181.2" y2="603.64" stroke="#231f20" stroke-width="0.6" />
<line x1="181.7" y1="605.8" x2="181.7" y2="608.2" stroke="#231f20" stroke-width="0.9" />
<text x="181.7" y="614.4" font-size="6.6" fill="#231f20" stroke="#231f20" stroke-width="0.22" text-anchor="middle" font-weight="bold" >51.0</text>
<line x1="203" y1="605.8" x2="203" y2="608.2" stroke="#231f20" stroke-width="0.9" />
<text x="203" y="614.4" font-size="6.6" fill="#231f20" stroke="#231f20" stroke-width="0.22" text-anchor="middle" font-weight="bold" >49.0</text>
<line x1="225.5" y1="605.8" x2="225.5" y2="608.2" stroke="#231f20" stroke-width="0.9" />
<text x="225.5" y="614.4" font-size="6.6" fill="#231f20" stroke="#231f20" stroke-width="0.22" text-anchor="middle" font-weight="bold" >47.0</text>
<line x1="181.7" y1="605.8" x2="181.7" y2="607.1" stroke="#231f20" stroke-width="0.6" />
<line x1="185.96" y1="605.8" x2="185.96" y2="607.1" stroke="#231f20" stroke-width="0.6" />
<line x1="190.22" y1="605.8" x2="190.22" y2="607.1" stroke="#231f20" stroke-width="0.6" />
<line x1="194.48" y1="605.8" x2="194.48" y2="607.1" stroke="#231f20" stroke-width="0.6" />
<line x1="198.74" y1="605.8" x2="198.74" y2="607.1" stroke="#231f20" stroke-width="0.6" />
<line x1="203" y1="605.8" x2="203" y2="607.1" stroke="#231f20" stroke-width="0.6" />
<line x1="207.26" y1="605.8" x2="207.26" y2="607.1" stroke="#231f20" stroke-width="0.6" />
<line x1="211.52" y1="605.8" x2="211.52" y2="607.1" stroke="#231f20" stroke-width="0.6" />
<line x1="215.78" y1="605.8" x2="215.78" y2="607.1" stroke="#231f20" stroke-width="0.6" />
<line x1="220.04" y1="605.8" x2="220.04" y2="607.1" stroke="#231f20" stroke-width="0.6" />
<line x1="224.3" y1="605.8" x2="224.3" y2="607.1" stroke="#231f20" stroke-width="0.6" />
<line x1="228.56" y1="605.8" x2="228.56" y2="607.1" stroke="#231f20" stroke-width="0.6" />
<line x1="232.82" y1="605.8" x2="232.82" y2="607.1" stroke="#231f20" stroke-width="0.6" />
<rect x="181.2" y="544.2" width="54.4" height="61.6" fill="none" stroke="#2b2525" stroke-width="1.4" />
<rect x="197.3" y="571.7" width="27" height="32.9" fill="none" stroke="#f4a81d" stroke-width="1.9" stroke-dasharray="6.5,3.8"/>
<line x1="186.3" y1="560" x2="191.1" y2="564.8" stroke="#111" stroke-width="1.5" />
<line x1="186.3" y1="564.8" x2="191.1" y2="560" stroke="#111" stroke-width="1.5" />
<line x1="201" y1="576.8" x2="205" y2="580.8" stroke="#111" stroke-width="1.4" />
<line x1="201" y1="580.8" x2="205" y2="576.8" stroke="#111" stroke-width="1.4" />
<line x1="210.6" y1="593.6" x2="215.4" y2="598.4" stroke="#111" stroke-width="1.5" />
<line x1="210.6" y1="598.4" x2="215.4" y2="593.6" stroke="#111" stroke-width="1.5" />
<text x="192.3" y="557.6" font-size="8.6" fill="#231f20" stroke="#231f20" stroke-width="0.22" text-anchor="start" font-weight="bold" >P69</text>
<text x="200.7" y="572.8" font-size="8.6" fill="#1f4fff" stroke="#1f4fff" stroke-width="0.22" text-anchor="start" font-weight="bold" >P23</text>
<text x="214" y="588.1" font-size="8.6" fill="#231f20" stroke="#231f20" stroke-width="0.22" text-anchor="start" font-weight="bold" >P28</text>
<text x="210.3" y="623" font-size="8.2" fill="#231f20" stroke="#231f20" stroke-width="0.22" text-anchor="middle" font-weight="bold"><tspan font-size="4.9" dy="-2.9">13</tspan><tspan dy="2.9">C (ppm)</tspan></text>
<text transform="translate(166.5,580) rotate(-90)" font-size="8.2" fill="#231f20" stroke="#231f20" stroke-width="0.22" text-anchor="middle" font-weight="bold"><tspan font-size="4.9" dy="-2.9">13</tspan><tspan dy="2.9">C (ppm)</tspan></text>
<clipPath id="cf4"><rect x="28.2" y="631.5" width="49.1" height="64.3"/></clipPath><g clip-path="url(#cf4)">
<ellipse cx="43" cy="653.4" rx="12.3" ry="10.8" transform="rotate(0 43 653.4)" fill="url(#gk)"/>
<ellipse cx="42.5" cy="653.5" rx="8" ry="3.5" transform="rotate(-20 42.5 653.5)" fill="url(#gp)"/>
<path d="M35,670 Q46,667 60,674 Q63,684 56,688 Q44,690.5 35,686 Q31,680 35,670 Z" fill="url(#gp)"/>
<ellipse cx="50.5" cy="678" rx="10" ry="7.5" transform="rotate(0 50.5 678)" fill="url(#gk)"/>
</g>
<line x1="25.8" y1="642.3" x2="28.2" y2="642.3" stroke="#231f20" stroke-width="0.9" />
<text x="23.6" y="644.8" font-size="6.6" fill="#231f20" stroke="#231f20" stroke-width="0.22" text-anchor="end" font-weight="bold" >53</text>
<line x1="25.8" y1="660" x2="28.2" y2="660" stroke="#231f20" stroke-width="0.9" />
<text x="23.6" y="662.5" font-size="6.6" fill="#231f20" stroke="#231f20" stroke-width="0.22" text-anchor="end" font-weight="bold" >54</text>
<line x1="25.8" y1="677.4" x2="28.2" y2="677.4" stroke="#231f20" stroke-width="0.9" />
<text x="23.6" y="679.9" font-size="6.6" fill="#231f20" stroke="#231f20" stroke-width="0.22" text-anchor="end" font-weight="bold" >55</text>
<line x1="26.9" y1="631.68" x2="28.2" y2="631.68" stroke="#231f20" stroke-width="0.6" />
<line x1="26.9" y1="635.22" x2="28.2" y2="635.22" stroke="#231f20" stroke-width="0.6" />
<line x1="26.9" y1="638.76" x2="28.2" y2="638.76" stroke="#231f20" stroke-width="0.6" />
<line x1="26.9" y1="642.3" x2="28.2" y2="642.3" stroke="#231f20" stroke-width="0.6" />
<line x1="26.9" y1="645.84" x2="28.2" y2="645.84" stroke="#231f20" stroke-width="0.6" />
<line x1="26.9" y1="649.38" x2="28.2" y2="649.38" stroke="#231f20" stroke-width="0.6" />
<line x1="26.9" y1="652.92" x2="28.2" y2="652.92" stroke="#231f20" stroke-width="0.6" />
<line x1="26.9" y1="656.46" x2="28.2" y2="656.46" stroke="#231f20" stroke-width="0.6" />
<line x1="26.9" y1="660" x2="28.2" y2="660" stroke="#231f20" stroke-width="0.6" />
<line x1="26.9" y1="663.54" x2="28.2" y2="663.54" stroke="#231f20" stroke-width="0.6" />
<line x1="26.9" y1="667.08" x2="28.2" y2="667.08" stroke="#231f20" stroke-width="0.6" />
<line x1="26.9" y1="670.62" x2="28.2" y2="670.62" stroke="#231f20" stroke-width="0.6" />
<line x1="26.9" y1="674.16" x2="28.2" y2="674.16" stroke="#231f20" stroke-width="0.6" />
<line x1="26.9" y1="677.7" x2="28.2" y2="677.7" stroke="#231f20" stroke-width="0.6" />
<line x1="26.9" y1="681.24" x2="28.2" y2="681.24" stroke="#231f20" stroke-width="0.6" />
<line x1="26.9" y1="684.78" x2="28.2" y2="684.78" stroke="#231f20" stroke-width="0.6" />
<line x1="26.9" y1="688.32" x2="28.2" y2="688.32" stroke="#231f20" stroke-width="0.6" />
<line x1="26.9" y1="691.86" x2="28.2" y2="691.86" stroke="#231f20" stroke-width="0.6" />
<line x1="26.9" y1="695.4" x2="28.2" y2="695.4" stroke="#231f20" stroke-width="0.6" />
<line x1="39.9" y1="695.8" x2="39.9" y2="698.2" stroke="#231f20" stroke-width="0.9" />
<text x="39.9" y="703.2" font-size="6.6" fill="#231f20" stroke="#231f20" stroke-width="0.22" text-anchor="middle" font-weight="bold" >63.0</text>
<line x1="62.3" y1="695.8" x2="62.3" y2="698.2" stroke="#231f20" stroke-width="0.9" />
<text x="62.3" y="703.2" font-size="6.6" fill="#231f20" stroke="#231f20" stroke-width="0.22" text-anchor="middle" font-weight="bold" >62.0</text>
<line x1="30.94" y1="695.8" x2="30.94" y2="697.1" stroke="#231f20" stroke-width="0.6" />
<line x1="35.42" y1="695.8" x2="35.42" y2="697.1" stroke="#231f20" stroke-width="0.6" />
<line x1="39.9" y1="695.8" x2="39.9" y2="697.1" stroke="#231f20" stroke-width="0.6" />
<line x1="44.38" y1="695.8" x2="44.38" y2="697.1" stroke="#231f20" stroke-width="0.6" />
<line x1="48.86" y1="695.8" x2="48.86" y2="697.1" stroke="#231f20" stroke-width="0.6" />
<line x1="53.34" y1="695.8" x2="53.34" y2="697.1" stroke="#231f20" stroke-width="0.6" />
<line x1="57.82" y1="695.8" x2="57.82" y2="697.1" stroke="#231f20" stroke-width="0.6" />
<line x1="62.3" y1="695.8" x2="62.3" y2="697.1" stroke="#231f20" stroke-width="0.6" />
<line x1="66.78" y1="695.8" x2="66.78" y2="697.1" stroke="#231f20" stroke-width="0.6" />
<line x1="71.26" y1="695.8" x2="71.26" y2="697.1" stroke="#231f20" stroke-width="0.6" />
<line x1="75.74" y1="695.8" x2="75.74" y2="697.1" stroke="#231f20" stroke-width="0.6" />
<rect x="28.2" y="631.5" width="49.1" height="64.3" fill="none" stroke="#2b2525" stroke-width="1.4" />
<rect x="26.6" y="638.6" width="31.6" height="28.6" fill="none" stroke="#f4a81d" stroke-width="1.9" stroke-dasharray="6.5,3.8"/>
<line x1="38.3" y1="648.7" x2="46.7" y2="657.1" stroke="#111" stroke-width="1.7" />
<line x1="38.3" y1="657.1" x2="46.7" y2="648.7" stroke="#111" stroke-width="1.7" />
<line x1="45.5" y1="674.3" x2="53.9" y2="682.7" stroke="#111" stroke-width="1.7" />
<line x1="45.5" y1="682.7" x2="53.9" y2="674.3" stroke="#111" stroke-width="1.7" />
<text x="56.2" y="648.9" font-size="8.6" fill="#1f4fff" stroke="#1f4fff" stroke-width="0.22" text-anchor="start" font-weight="bold" >S45</text>
<text x="58.9" y="671.4" font-size="9.4" fill="#231f20" stroke="#231f20" stroke-width="0.22" text-anchor="start" font-weight="bold" >S22</text>
<text x="57.7" y="714.2" font-size="8.2" fill="#231f20" stroke="#231f20" stroke-width="0.22" text-anchor="middle" font-weight="bold"><tspan font-size="4.9" dy="-2.9">13</tspan><tspan dy="2.9">C (ppm)</tspan></text>
<text transform="translate(9.6,665) rotate(-90)" font-size="8.2" fill="#231f20" stroke="#231f20" stroke-width="0.22" text-anchor="middle" font-weight="bold"><tspan font-size="4.9" dy="-2.9">13</tspan><tspan dy="2.9">C (ppm)</tspan></text>
<clipPath id="cf5"><rect x="104" y="632" width="49" height="63"/></clipPath><g clip-path="url(#cf5)">
<path d="M110,665 Q114,652 130,654.4 Q139,655 138.3,665 L137,690 Q130,694 118,693 Q107,690 107.7,678 Z" fill="url(#gk)"/>
<ellipse cx="119.5" cy="667.5" rx="5.8" ry="13.5" transform="rotate(-15 119.5 667.5)" fill="url(#gp)"/>
</g>
<line x1="101.6" y1="647.8" x2="104" y2="647.8" stroke="#231f20" stroke-width="0.9" />
<text x="100.4" y="650.3" font-size="6.6" fill="#231f20" stroke="#231f20" stroke-width="0.22" text-anchor="end" font-weight="bold" >110</text>
<line x1="101.6" y1="663.5" x2="104" y2="663.5" stroke="#231f20" stroke-width="0.9" />
<text x="100.4" y="666" font-size="6.6" fill="#231f20" stroke="#231f20" stroke-width="0.22" text-anchor="end" font-weight="bold" >111</text>
<line x1="101.6" y1="679" x2="104" y2="679" stroke="#231f20" stroke-width="0.9" />
<text x="100.4" y="681.5" font-size="6.6" fill="#231f20" stroke="#231f20" stroke-width="0.22" text-anchor="end" font-weight="bold" >112</text>
<line x1="101.6" y1="694.2" x2="104" y2="694.2" stroke="#231f20" stroke-width="0.9" />
<text x="100.4" y="696.7" font-size="6.6" fill="#231f20" stroke="#231f20" stroke-width="0.22" text-anchor="end" font-weight="bold" >113</text>
<line x1="102.7" y1="632.1" x2="104" y2="632.1" stroke="#231f20" stroke-width="0.6" />
<line x1="102.7" y1="635.24" x2="104" y2="635.24" stroke="#231f20" stroke-width="0.6" />
<line x1="102.7" y1="638.38" x2="104" y2="638.38" stroke="#231f20" stroke-width="0.6" />
<line x1="102.7" y1="641.52" x2="104" y2="641.52" stroke="#231f20" stroke-width="0.6" />
<line x1="102.7" y1="644.66" x2="104" y2="644.66" stroke="#231f20" stroke-width="0.6" />
<line x1="102.7" y1="647.8" x2="104" y2="647.8" stroke="#231f20" stroke-width="0.6" />
<line x1="102.7" y1="650.94" x2="104" y2="650.94" stroke="#231f20" stroke-width="0.6" />
<line x1="102.7" y1="654.08" x2="104" y2="654.08" stroke="#231f20" stroke-width="0.6" />
<line x1="102.7" y1="657.22" x2="104" y2="657.22" stroke="#231f20" stroke-width="0.6" />
<line x1="102.7" y1="660.36" x2="104" y2="660.36" stroke="#231f20" stroke-width="0.6" />
<line x1="102.7" y1="663.5" x2="104" y2="663.5" stroke="#231f20" stroke-width="0.6" />
<line x1="102.7" y1="666.64" x2="104" y2="666.64" stroke="#231f20" stroke-width="0.6" />
<line x1="102.7" y1="669.78" x2="104" y2="669.78" stroke="#231f20" stroke-width="0.6" />
<line x1="102.7" y1="672.92" x2="104" y2="672.92" stroke="#231f20" stroke-width="0.6" />
<line x1="102.7" y1="676.06" x2="104" y2="676.06" stroke="#231f20" stroke-width="0.6" />
<line x1="102.7" y1="679.2" x2="104" y2="679.2" stroke="#231f20" stroke-width="0.6" />
<line x1="102.7" y1="682.34" x2="104" y2="682.34" stroke="#231f20" stroke-width="0.6" />
<line x1="102.7" y1="685.48" x2="104" y2="685.48" stroke="#231f20" stroke-width="0.6" />
<line x1="102.7" y1="688.62" x2="104" y2="688.62" stroke="#231f20" stroke-width="0.6" />
<line x1="102.7" y1="691.76" x2="104" y2="691.76" stroke="#231f20" stroke-width="0.6" />
<line x1="102.7" y1="694.9" x2="104" y2="694.9" stroke="#231f20" stroke-width="0.6" />
<line x1="107.7" y1="695" x2="107.7" y2="697.4" stroke="#231f20" stroke-width="0.9" />
<text x="107.7" y="704.4" font-size="6.6" fill="#231f20" stroke="#231f20" stroke-width="0.22" text-anchor="middle" font-weight="bold" >54.5</text>
<line x1="128.5" y1="695" x2="128.5" y2="697.4" stroke="#231f20" stroke-width="0.9" />
<text x="128.5" y="704.4" font-size="6.6" fill="#231f20" stroke="#231f20" stroke-width="0.22" text-anchor="middle" font-weight="bold" >53.5</text>
<line x1="151.6" y1="695" x2="151.6" y2="697.4" stroke="#231f20" stroke-width="0.9" />
<text x="151.6" y="704.4" font-size="6.6" fill="#231f20" stroke="#231f20" stroke-width="0.22" text-anchor="middle" font-weight="bold" >52.5</text>
<line x1="107.7" y1="695" x2="107.7" y2="696.3" stroke="#231f20" stroke-width="0.6" />
<line x1="111.86" y1="695" x2="111.86" y2="696.3" stroke="#231f20" stroke-width="0.6" />
<line x1="116.02" y1="695" x2="116.02" y2="696.3" stroke="#231f20" stroke-width="0.6" />
<line x1="120.18" y1="695" x2="120.18" y2="696.3" stroke="#231f20" stroke-width="0.6" />
<line x1="124.34" y1="695" x2="124.34" y2="696.3" stroke="#231f20" stroke-width="0.6" />
<line x1="128.5" y1="695" x2="128.5" y2="696.3" stroke="#231f20" stroke-width="0.6" />
<line x1="132.66" y1="695" x2="132.66" y2="696.3" stroke="#231f20" stroke-width="0.6" />
<line x1="136.82" y1="695" x2="136.82" y2="696.3" stroke="#231f20" stroke-width="0.6" />
<line x1="140.98" y1="695" x2="140.98" y2="696.3" stroke="#231f20" stroke-width="0.6" />
<line x1="145.14" y1="695" x2="145.14" y2="696.3" stroke="#231f20" stroke-width="0.6" />
<line x1="149.3" y1="695" x2="149.3" y2="696.3" stroke="#231f20" stroke-width="0.6" />
<rect x="104" y="632" width="49" height="63" fill="none" stroke="#2b2525" stroke-width="1.4" />
<rect x="99.4" y="651.6" width="40.2" height="43" fill="none" stroke="#f4a81d" stroke-width="1.9" stroke-dasharray="6.5,3.8"/>
<line x1="119.8" y1="669.2" x2="126.2" y2="675.6" stroke="#111" stroke-width="1.7" />
<line x1="119.8" y1="675.6" x2="126.2" y2="669.2" stroke="#111" stroke-width="1.7" />
<text x="121.6" y="651.7" font-size="8.6" fill="#1f4fff" stroke="#1f4fff" stroke-width="0.22" text-anchor="start" font-weight="bold" >S45</text>
<text x="127" y="714.2" font-size="8.2" fill="#231f20" stroke="#231f20" stroke-width="0.22" text-anchor="middle" font-weight="bold"><tspan font-size="4.9" dy="-2.9">13</tspan><tspan dy="2.9">C (ppm)</tspan></text>
<text transform="translate(87.6,666) rotate(-90)" font-size="8.2" fill="#231f20" stroke="#231f20" stroke-width="0.22" text-anchor="middle" font-weight="bold"><tspan font-size="4.9" dy="-2.9">15</tspan><tspan dy="2.9">N (ppm)</tspan></text>
<clipPath id="cf6"><rect x="183.2" y="633.6" width="49.4" height="61"/></clipPath><g clip-path="url(#cf6)">
<ellipse cx="202.4" cy="652.6" rx="4.6" ry="10.6" transform="rotate(-5 202.4 652.6)" fill="url(#gp)"/>
<ellipse cx="202.6" cy="653" rx="2.2" ry="7" transform="rotate(-5 202.6 653)" fill="url(#gk)"/>
<ellipse cx="213.4" cy="674" rx="5.4" ry="8.6" transform="rotate(0 213.4 674)" fill="url(#gk)"/>
</g>
<line x1="180.8" y1="646" x2="183.2" y2="646" stroke="#231f20" stroke-width="0.9" />
<text x="180.2" y="648.5" font-size="6.6" fill="#231f20" stroke="#231f20" stroke-width="0.22" text-anchor="end" font-weight="bold" >32</text>
<line x1="180.8" y1="658.5" x2="183.2" y2="658.5" stroke="#231f20" stroke-width="0.9" />
<text x="180.2" y="661" font-size="6.6" fill="#231f20" stroke="#231f20" stroke-width="0.22" text-anchor="end" font-weight="bold" >33</text>
<line x1="180.8" y1="670.5" x2="183.2" y2="670.5" stroke="#231f20" stroke-width="0.9" />
<text x="180.2" y="673" font-size="6.6" fill="#231f20" stroke="#231f20" stroke-width="0.22" text-anchor="end" font-weight="bold" >34</text>
<line x1="180.8" y1="683.5" x2="183.2" y2="683.5" stroke="#231f20" stroke-width="0.9" />
<text x="180.2" y="686" font-size="6.6" fill="#231f20" stroke="#231f20" stroke-width="0.22" text-anchor="end" font-weight="bold" >35</text>
<line x1="180.8" y1="695.4" x2="183.2" y2="695.4" stroke="#231f20" stroke-width="0.9" />
<text x="180.2" y="697.9" font-size="6.6" fill="#231f20" stroke="#231f20" stroke-width="0.22" text-anchor="end" font-weight="bold" >36</text>
<line x1="181.9" y1="636" x2="183.2" y2="636" stroke="#231f20" stroke-width="0.6" />
<line x1="181.9" y1="638.5" x2="183.2" y2="638.5" stroke="#231f20" stroke-width="0.6" />
<line x1="181.9" y1="641" x2="183.2" y2="641" stroke="#231f20" stroke-width="0.6" />
<line x1="181.9" y1="643.5" x2="183.2" y2="643.5" stroke="#231f20" stroke-width="0.6" />
<line x1="181.9" y1="646" x2="183.2" y2="646" stroke="#231f20" stroke-width="0.6" />
<line x1="181.9" y1="648.5" x2="183.2" y2="648.5" stroke="#231f20" stroke-width="0.6" />
<line x1="181.9" y1="651" x2="183.2" y2="651" stroke="#231f20" stroke-width="0.6" />
<line x1="181.9" y1="653.5" x2="183.2" y2="653.5" stroke="#231f20" stroke-width="0.6" />
<line x1="181.9" y1="656" x2="183.2" y2="656" stroke="#231f20" stroke-width="0.6" />
<line x1="181.9" y1="658.5" x2="183.2" y2="658.5" stroke="#231f20" stroke-width="0.6" />
<line x1="181.9" y1="661" x2="183.2" y2="661" stroke="#231f20" stroke-width="0.6" />
<line x1="181.9" y1="663.5" x2="183.2" y2="663.5" stroke="#231f20" stroke-width="0.6" />
<line x1="181.9" y1="666" x2="183.2" y2="666" stroke="#231f20" stroke-width="0.6" />
<line x1="181.9" y1="668.5" x2="183.2" y2="668.5" stroke="#231f20" stroke-width="0.6" />
<line x1="181.9" y1="671" x2="183.2" y2="671" stroke="#231f20" stroke-width="0.6" />
<line x1="181.9" y1="673.5" x2="183.2" y2="673.5" stroke="#231f20" stroke-width="0.6" />
<line x1="181.9" y1="676" x2="183.2" y2="676" stroke="#231f20" stroke-width="0.6" />
<line x1="181.9" y1="678.5" x2="183.2" y2="678.5" stroke="#231f20" stroke-width="0.6" />
<line x1="181.9" y1="681" x2="183.2" y2="681" stroke="#231f20" stroke-width="0.6" />
<line x1="181.9" y1="683.5" x2="183.2" y2="683.5" stroke="#231f20" stroke-width="0.6" />
<line x1="181.9" y1="686" x2="183.2" y2="686" stroke="#231f20" stroke-width="0.6" />
<line x1="181.9" y1="688.5" x2="183.2" y2="688.5" stroke="#231f20" stroke-width="0.6" />
<line x1="181.9" y1="691" x2="183.2" y2="691" stroke="#231f20" stroke-width="0.6" />
<line x1="181.9" y1="693.5" x2="183.2" y2="693.5" stroke="#231f20" stroke-width="0.6" />
<line x1="188.2" y1="694.6" x2="188.2" y2="697" stroke="#231f20" stroke-width="0.9" />
<text x="188.2" y="704.4" font-size="6.6" fill="#231f20" stroke="#231f20" stroke-width="0.22" text-anchor="middle" font-weight="bold" >43</text>
<line x1="202" y1="694.6" x2="202" y2="697" stroke="#231f20" stroke-width="0.9" />
<text x="202" y="704.4" font-size="6.6" fill="#231f20" stroke="#231f20" stroke-width="0.22" text-anchor="middle" font-weight="bold" >42</text>
<line x1="214.5" y1="694.6" x2="214.5" y2="697" stroke="#231f20" stroke-width="0.9" />
<text x="214.5" y="704.4" font-size="6.6" fill="#231f20" stroke="#231f20" stroke-width="0.22" text-anchor="middle" font-weight="bold" >41</text>
<line x1="227" y1="694.6" x2="227" y2="697" stroke="#231f20" stroke-width="0.9" />
<text x="227" y="704.4" font-size="6.6" fill="#231f20" stroke="#231f20" stroke-width="0.22" text-anchor="middle" font-weight="bold" >40</text>
<line x1="185.44" y1="694.6" x2="185.44" y2="695.9" stroke="#231f20" stroke-width="0.6" />
<line x1="188.2" y1="694.6" x2="188.2" y2="695.9" stroke="#231f20" stroke-width="0.6" />
<line x1="190.96" y1="694.6" x2="190.96" y2="695.9" stroke="#231f20" stroke-width="0.6" />
<line x1="193.72" y1="694.6" x2="193.72" y2="695.9" stroke="#231f20" stroke-width="0.6" />
<line x1="196.48" y1="694.6" x2="196.48" y2="695.9" stroke="#231f20" stroke-width="0.6" />
<line x1="199.24" y1="694.6" x2="199.24" y2="695.9" stroke="#231f20" stroke-width="0.6" />
<line x1="202" y1="694.6" x2="202" y2="695.9" stroke="#231f20" stroke-width="0.6" />
<line x1="204.76" y1="694.6" x2="204.76" y2="695.9" stroke="#231f20" stroke-width="0.6" />
<line x1="207.52" y1="694.6" x2="207.52" y2="695.9" stroke="#231f20" stroke-width="0.6" />
<line x1="210.28" y1="694.6" x2="210.28" y2="695.9" stroke="#231f20" stroke-width="0.6" />
<line x1="213.04" y1="694.6" x2="213.04" y2="695.9" stroke="#231f20" stroke-width="0.6" />
<line x1="215.8" y1="694.6" x2="215.8" y2="695.9" stroke="#231f20" stroke-width="0.6" />
<line x1="218.56" y1="694.6" x2="218.56" y2="695.9" stroke="#231f20" stroke-width="0.6" />
<line x1="221.32" y1="694.6" x2="221.32" y2="695.9" stroke="#231f20" stroke-width="0.6" />
<line x1="224.08" y1="694.6" x2="224.08" y2="695.9" stroke="#231f20" stroke-width="0.6" />
<line x1="226.84" y1="694.6" x2="226.84" y2="695.9" stroke="#231f20" stroke-width="0.6" />
<line x1="229.6" y1="694.6" x2="229.6" y2="695.9" stroke="#231f20" stroke-width="0.6" />
<line x1="232.36" y1="694.6" x2="232.36" y2="695.9" stroke="#231f20" stroke-width="0.6" />
<rect x="183.2" y="633.6" width="49.4" height="61" fill="none" stroke="#2b2525" stroke-width="1.4" />
<rect x="207" y="664.6" width="15.9" height="21.7" fill="none" stroke="#f4a81d" stroke-width="1.9" stroke-dasharray="6.5,3.8"/>
<text x="184.9" y="642.1" font-size="7.6" fill="#231f20" stroke="#231f20" stroke-width="0.22" text-anchor="start" font-weight="bold" textLength="33.8" lengthAdjust="spacingAndGlyphs">K67NE-CE</text>
<text x="188.2" y="690.5" font-size="9.4" fill="#1f4fff" stroke="#1f4fff" stroke-width="0.22" text-anchor="start" font-weight="bold" textLength="40.2" lengthAdjust="spacingAndGlyphs">K32NZ-CE</text>
<text x="207.8" y="714.2" font-size="8.2" fill="#231f20" stroke="#231f20" stroke-width="0.22" text-anchor="middle" font-weight="bold"><tspan font-size="4.9" dy="-2.9">13</tspan><tspan dy="2.9">C (ppm)</tspan></text>
<text transform="translate(171,667.5) rotate(-90)" font-size="8.2" fill="#231f20" stroke="#231f20" stroke-width="0.22" text-anchor="middle" font-weight="bold"><tspan font-size="4.9" dy="-2.9">15</tspan><tspan dy="2.9">N (ppm)</tspan></text>
<text x="249.2" y="334.7" font-size="16.5" fill="#231f20" stroke="#231f20" stroke-width="0.22" text-anchor="start" font-weight="bold" >e</text>
<line x1="281.9" y1="358.6" x2="304.3" y2="358.6" stroke="#231f20" stroke-width="1.4" stroke-dasharray="3,2.2"/>
<polyline points="304.3,353 309.75,364.2 315.2,353 320.65,364.2 326.1,353" fill="none" stroke="#231f20" stroke-width="1.55" stroke-linejoin="bevel"/>
<rect x="304.3" y="353" width="21.8" height="11.2" fill="none" stroke="#231f20" stroke-width="1.6" />
<line x1="326.1" y1="358.6" x2="349.8" y2="358.6" stroke="#231f20" stroke-width="1.4" stroke-dasharray="3,2.2"/>
<polyline points="349.8,353 353.22,364.2 356.64,353 360.06,364.2 363.48,353 366.9,364.2 370.32,353 373.73,364.2 377.15,353 380.57,364.2 383.99,353 387.41,364.2 390.83,353 394.25,364.2 397.67,353 401.09,364.2 404.51,353 407.93,364.2 411.35,353 414.77,364.2 418.18,353 421.6,364.2 425.02,353 428.44,364.2 431.86,353 435.28,364.2 438.7,353" fill="none" stroke="#231f20" stroke-width="1.55" stroke-linejoin="bevel"/>
<rect x="349.8" y="353" width="88.9" height="11.2" fill="none" stroke="#231f20" stroke-width="1.6" />
<line x1="438.7" y1="358.6" x2="464.5" y2="358.6" stroke="#231f20" stroke-width="1.4" />
<polyline points="464.5,353 467.99,364.2 471.48,353 474.97,364.2 478.45,353 481.94,364.2 485.43,353 488.92,364.2 492.41,353 495.9,364.2 499.38,353 502.87,364.2 506.36,353 509.85,364.2 513.34,353 516.83,364.2 520.32,353 523.8,364.2 527.29,353 530.78,364.2 534.27,353 537.76,364.2 541.25,353 544.73,364.2 548.22,353 551.71,364.2 555.2,353" fill="none" stroke="#231f20" stroke-width="1.55" stroke-linejoin="bevel"/>
<rect x="464.5" y="353" width="90.7" height="11.2" fill="none" stroke="#231f20" stroke-width="1.6" />
<line x1="555.2" y1="358.6" x2="563" y2="358.6" stroke="#231f20" stroke-width="1.4" />
<polyline points="563,353 566.31,364.2 569.63,353 572.94,364.2 576.26,353 579.57,364.2 582.89,353 586.2,364.2 589.51,353 592.83,364.2 596.14,353 599.46,364.2 602.77,353 606.09,364.2 609.4,353 612.71,364.2 616.03,353 619.34,364.2 622.66,353 625.97,364.2 629.29,353 632.6,364.2 635.91,353 639.23,364.2 642.54,353 645.86,364.2 649.17,353 652.49,364.2 655.8,353" fill="none" stroke="#231f20" stroke-width="1.55" stroke-linejoin="bevel"/>
<rect x="563" y="353" width="92.8" height="11.2" fill="none" stroke="#231f20" stroke-width="1.6" />
<line x1="655.8" y1="358.6" x2="681" y2="358.6" stroke="#231f20" stroke-width="1.4" />
<text x="317.7" y="348.7" font-size="7.9" fill="#231f20" stroke="#231f20" stroke-width="0.22" text-anchor="middle" font-weight="bold" >N-helix</text>
<text x="388" y="348.7" font-size="7.9" fill="#231f20" stroke="#231f20" stroke-width="0.22" text-anchor="middle" font-weight="bold" >TM1</text>
<text x="452.8" y="348.9" font-size="7.9" fill="#231f20" stroke="#231f20" stroke-width="0.22" text-anchor="middle" font-weight="bold" >L1-2</text>
<text x="507.3" y="348.7" font-size="7.9" fill="#231f20" stroke="#231f20" stroke-width="0.22" text-anchor="middle" font-weight="bold" >TM2</text>
<text x="560.1" y="349.3" font-size="7.9" fill="#231f20" stroke="#231f20" stroke-width="0.22" text-anchor="middle" font-weight="bold" >L2-3</text>
<text x="617.6" y="348.7" font-size="7.9" fill="#231f20" stroke="#231f20" stroke-width="0.22" text-anchor="middle" font-weight="bold" >TM3</text>
<text x="304.8" y="373.2" font-size="7.6" fill="#231f20" stroke="#231f20" stroke-width="0.22" text-anchor="middle" font-weight="bold" >7</text>
<text x="324.4" y="373.2" font-size="7.6" fill="#231f20" stroke="#231f20" stroke-width="0.22" text-anchor="middle" font-weight="bold" >11</text>
<text x="352.4" y="373.2" font-size="7.6" fill="#231f20" stroke="#231f20" stroke-width="0.22" text-anchor="middle" font-weight="bold" >18</text>
<text x="438.3" y="373.2" font-size="7.6" fill="#231f20" stroke="#231f20" stroke-width="0.22" text-anchor="middle" font-weight="bold" >39</text>
<text x="467.8" y="373.2" font-size="7.6" fill="#231f20" stroke="#231f20" stroke-width="0.22" text-anchor="middle" font-weight="bold" >46</text>
<text x="555.2" y="373.2" font-size="7.6" fill="#231f20" stroke="#231f20" stroke-width="0.22" text-anchor="middle" font-weight="bold" >67</text>
<text x="566.4" y="373.2" font-size="7.6" fill="#231f20" stroke="#231f20" stroke-width="0.22" text-anchor="middle" font-weight="bold" >70</text>
<text x="655.8" y="373.2" font-size="7.6" fill="#231f20" stroke="#231f20" stroke-width="0.22" text-anchor="middle" font-weight="bold" >92</text>
<rect x="313.9" y="493.36" width="3.7" height="6.24" fill="#878787" stroke="#3a3333" stroke-width="0.6" />
<rect x="350.55" y="475.71" width="3.7" height="23.89" fill="#878787" stroke="#3a3333" stroke-width="0.6" />
<rect x="367.18" y="451.43" width="3" height="48.17" fill="#12bcef" stroke="#3a3333" stroke-width="0.6" />
<rect x="370.91" y="462.44" width="3.7" height="37.16" fill="#878787" stroke="#3a3333" stroke-width="0.6" />
<rect x="379.05" y="472.93" width="3.7" height="26.67" fill="#878787" stroke="#3a3333" stroke-width="0.6" />
<rect x="383.47" y="460.85" width="3" height="38.75" fill="#12bcef" stroke="#3a3333" stroke-width="0.6" />
<rect x="387.54" y="393.44" width="3" height="106.16" fill="#12bcef" stroke="#3a3333" stroke-width="0.6" />
<rect x="391.62" y="438.56" width="3" height="61.04" fill="#12bcef" stroke="#3a3333" stroke-width="0.6" />
<rect x="395.69" y="456.07" width="3" height="43.53" fill="#12bcef" stroke="#3a3333" stroke-width="0.6" />
<rect x="407.9" y="446.52" width="3" height="53.08" fill="#12bcef" stroke="#3a3333" stroke-width="0.6" />
<rect x="411.98" y="449.31" width="3" height="50.29" fill="#12bcef" stroke="#3a3333" stroke-width="0.6" />
<rect x="415.7" y="471.87" width="3.7" height="27.73" fill="#878787" stroke="#3a3333" stroke-width="0.6" />
<rect x="419.77" y="485" width="3.7" height="14.6" fill="#878787" stroke="#3a3333" stroke-width="0.6" />
<rect x="424.19" y="440.15" width="3" height="59.45" fill="#12bcef" stroke="#3a3333" stroke-width="0.6" />
<rect x="428.26" y="460.19" width="3" height="39.41" fill="#12bcef" stroke="#3a3333" stroke-width="0.6" />
<rect x="431.99" y="471.87" width="3.7" height="27.73" fill="#878787" stroke="#3a3333" stroke-width="0.6" />
<rect x="436.06" y="470.14" width="3.7" height="29.46" fill="#878787" stroke="#3a3333" stroke-width="0.6" />
<rect x="440.13" y="469.21" width="3.7" height="30.39" fill="#878787" stroke="#3a3333" stroke-width="0.6" />
<rect x="444.2" y="481.15" width="3.7" height="18.45" fill="#878787" stroke="#3a3333" stroke-width="0.6" />
<rect x="448.27" y="487.13" width="3.7" height="12.47" fill="#878787" stroke="#3a3333" stroke-width="0.6" />
<rect x="452.35" y="488.19" width="3.7" height="11.41" fill="#878787" stroke="#3a3333" stroke-width="0.6" />
<rect x="456.42" y="474.25" width="3.7" height="25.35" fill="#878787" stroke="#3a3333" stroke-width="0.6" />
<rect x="460.49" y="477.31" width="3.7" height="22.29" fill="#878787" stroke="#3a3333" stroke-width="0.6" />
<rect x="464.91" y="450.63" width="3" height="48.97" fill="#12bcef" stroke="#3a3333" stroke-width="0.6" />
<rect x="468.63" y="488.85" width="3.7" height="10.75" fill="#878787" stroke="#3a3333" stroke-width="0.6" />
<rect x="473.06" y="427.41" width="3" height="72.19" fill="#12bcef" stroke="#3a3333" stroke-width="0.6" />
<rect x="476.78" y="465.23" width="3.7" height="34.37" fill="#878787" stroke="#3a3333" stroke-width="0.6" />
<rect x="480.85" y="475.45" width="3.7" height="24.15" fill="#878787" stroke="#3a3333" stroke-width="0.6" />
<rect x="489.34" y="442.67" width="3" height="56.93" fill="#12bcef" stroke="#3a3333" stroke-width="0.6" />
<rect x="493.07" y="470.27" width="3.7" height="29.33" fill="#878787" stroke="#3a3333" stroke-width="0.6" />
<rect x="497.14" y="465.23" width="3.7" height="34.37" fill="#878787" stroke="#3a3333" stroke-width="0.6" />
<rect x="505.28" y="486.06" width="3.7" height="13.54" fill="#878787" stroke="#3a3333" stroke-width="0.6" />
<rect x="517.5" y="473.06" width="3.7" height="26.54" fill="#878787" stroke="#3a3333" stroke-width="0.6" />
<rect x="521.57" y="473.06" width="3.7" height="26.54" fill="#878787" stroke="#3a3333" stroke-width="0.6" />
<rect x="525.64" y="465.76" width="3.7" height="33.84" fill="#878787" stroke="#3a3333" stroke-width="0.6" />
<rect x="529.71" y="494.03" width="3.7" height="5.57" fill="#878787" stroke="#3a3333" stroke-width="0.6" />
<rect x="533.79" y="460.98" width="3.7" height="38.62" fill="#878787" stroke="#3a3333" stroke-width="0.6" />
<rect x="538.21" y="450.63" width="3" height="48.97" fill="#12bcef" stroke="#3a3333" stroke-width="0.6" />
<rect x="541.93" y="496.95" width="3.7" height="2.65" fill="#878787" stroke="#3a3333" stroke-width="0.6" />
<rect x="550.07" y="486.06" width="3.7" height="13.54" fill="#878787" stroke="#3a3333" stroke-width="0.6" />
<rect x="554.15" y="471.87" width="3.7" height="27.73" fill="#878787" stroke="#3a3333" stroke-width="0.6" />
<rect x="558.57" y="458.6" width="3" height="41" fill="#12bcef" stroke="#3a3333" stroke-width="0.6" />
<rect x="566.71" y="408.04" width="3" height="91.56" fill="#12bcef" stroke="#3a3333" stroke-width="0.6" />
<rect x="570.43" y="485.14" width="3.7" height="14.46" fill="#878787" stroke="#3a3333" stroke-width="0.6" />
<rect x="574.51" y="474.39" width="3.7" height="25.21" fill="#878787" stroke="#3a3333" stroke-width="0.6" />
<rect x="578.93" y="428.47" width="3" height="71.13" fill="#12bcef" stroke="#3a3333" stroke-width="0.6" />
<rect x="582.65" y="473.06" width="3.7" height="26.54" fill="#878787" stroke="#3a3333" stroke-width="0.6" />
<rect x="586.72" y="489.91" width="3.7" height="9.69" fill="#878787" stroke="#3a3333" stroke-width="0.6" />
<rect x="595.22" y="428.34" width="3" height="71.26" fill="#12bcef" stroke="#3a3333" stroke-width="0.6" />
<rect x="603.01" y="460.98" width="3.7" height="38.62" fill="#878787" stroke="#3a3333" stroke-width="0.6" />
<rect x="611.5" y="455.54" width="3" height="44.06" fill="#12bcef" stroke="#3a3333" stroke-width="0.6" />
<rect x="615.23" y="480.09" width="3.7" height="19.51" fill="#878787" stroke="#3a3333" stroke-width="0.6" />
<rect x="627.79" y="459.13" width="3" height="40.47" fill="#12bcef" stroke="#3a3333" stroke-width="0.6" />
<rect x="631.86" y="459.79" width="3" height="39.81" fill="#12bcef" stroke="#3a3333" stroke-width="0.6" />
<rect x="635.59" y="473.99" width="3.7" height="25.61" fill="#878787" stroke="#3a3333" stroke-width="0.6" />
<rect x="640.01" y="458.6" width="3" height="41" fill="#12bcef" stroke="#3a3333" stroke-width="0.6" />
<rect x="652.22" y="406.05" width="3" height="93.55" fill="#12bcef" stroke="#3a3333" stroke-width="0.6" />
<rect x="656.3" y="457.4" width="3" height="42.2" fill="#12bcef" stroke="#3a3333" stroke-width="0.6" />
<rect x="660.02" y="475.98" width="3.7" height="23.62" fill="#878787" stroke="#3a3333" stroke-width="0.6" />
<line x1="281.1" y1="460.3" x2="684" y2="460.3" stroke="#e3001b" stroke-width="2.9" stroke-dasharray="7.6,7.6" stroke-dashoffset="3.8"/>
<line x1="281.1" y1="379.6" x2="281.1" y2="499.6" stroke="#231f20" stroke-width="1.4" />
<line x1="278.5" y1="499.6" x2="281.1" y2="499.6" stroke="#231f20" stroke-width="0.9" />
<line x1="279.6" y1="486.33" x2="281.1" y2="486.33" stroke="#231f20" stroke-width="0.9" />
<line x1="279.6" y1="473.06" x2="281.1" y2="473.06" stroke="#231f20" stroke-width="0.9" />
<line x1="278.5" y1="459.79" x2="281.1" y2="459.79" stroke="#231f20" stroke-width="0.9" />
<line x1="279.6" y1="446.52" x2="281.1" y2="446.52" stroke="#231f20" stroke-width="0.9" />
<line x1="279.6" y1="433.25" x2="281.1" y2="433.25" stroke="#231f20" stroke-width="0.9" />
<line x1="278.5" y1="419.98" x2="281.1" y2="419.98" stroke="#231f20" stroke-width="0.9" />
<line x1="279.6" y1="406.71" x2="281.1" y2="406.71" stroke="#231f20" stroke-width="0.9" />
<line x1="279.6" y1="393.44" x2="281.1" y2="393.44" stroke="#231f20" stroke-width="0.9" />
<line x1="278.5" y1="380.17" x2="281.1" y2="380.17" stroke="#231f20" stroke-width="0.9" />
<text x="272" y="382.97" font-size="8.0" fill="#231f20" stroke="#231f20" stroke-width="0.22" text-anchor="middle" font-weight="bold" >0.9</text>
<text x="272" y="422.78" font-size="8.0" fill="#231f20" stroke="#231f20" stroke-width="0.22" text-anchor="middle" font-weight="bold" >0.6</text>
<text x="271.4" y="462.89" font-size="8.7" fill="#e3001b" stroke="#e3001b" stroke-width="0.22" text-anchor="middle" font-weight="bold" >0.3</text>
<text x="272" y="502.4" font-size="8.0" fill="#231f20" stroke="#231f20" stroke-width="0.22" text-anchor="middle" font-weight="bold" >0</text>
<line x1="281.1" y1="499.6" x2="683" y2="499.6" stroke="#231f20" stroke-width="1.6" />
<line x1="279.1" y1="499.6" x2="279.1" y2="502.2" stroke="#231f20" stroke-width="0.9" />
<line x1="283.17" y1="499.6" x2="283.17" y2="501" stroke="#231f20" stroke-width="0.9" />
<line x1="287.24" y1="499.6" x2="287.24" y2="501" stroke="#231f20" stroke-width="0.9" />
<line x1="291.32" y1="499.6" x2="291.32" y2="501" stroke="#231f20" stroke-width="0.9" />
<line x1="295.39" y1="499.6" x2="295.39" y2="501" stroke="#231f20" stroke-width="0.9" />
<line x1="299.46" y1="499.6" x2="299.46" y2="502.2" stroke="#231f20" stroke-width="0.9" />
<line x1="303.53" y1="499.6" x2="303.53" y2="501" stroke="#231f20" stroke-width="0.9" />
<line x1="307.6" y1="499.6" x2="307.6" y2="501" stroke="#231f20" stroke-width="0.9" />
<line x1="311.68" y1="499.6" x2="311.68" y2="501" stroke="#231f20" stroke-width="0.9" />
<line x1="315.75" y1="499.6" x2="315.75" y2="501" stroke="#231f20" stroke-width="0.9" />
<line x1="319.82" y1="499.6" x2="319.82" y2="502.2" stroke="#231f20" stroke-width="0.9" />
<line x1="323.89" y1="499.6" x2="323.89" y2="501" stroke="#231f20" stroke-width="0.9" />
<line x1="327.96" y1="499.6" x2="327.96" y2="501" stroke="#231f20" stroke-width="0.9" />
<line x1="332.04" y1="499.6" x2="332.04" y2="501" stroke="#231f20" stroke-width="0.9" />
<line x1="336.11" y1="499.6" x2="336.11" y2="501" stroke="#231f20" stroke-width="0.9" />
<line x1="340.18" y1="499.6" x2="340.18" y2="502.2" stroke="#231f20" stroke-width="0.9" />
<line x1="344.25" y1="499.6" x2="344.25" y2="501" stroke="#231f20" stroke-width="0.9" />
<line x1="348.32" y1="499.6" x2="348.32" y2="501" stroke="#231f20" stroke-width="0.9" />
<line x1="352.4" y1="499.6" x2="352.4" y2="501" stroke="#231f20" stroke-width="0.9" />
<line x1="356.47" y1="499.6" x2="356.47" y2="501" stroke="#231f20" stroke-width="0.9" />
<line x1="360.54" y1="499.6" x2="360.54" y2="502.2" stroke="#231f20" stroke-width="0.9" />
<line x1="364.61" y1="499.6" x2="364.61" y2="501" stroke="#231f20" stroke-width="0.9" />
<line x1="368.68" y1="499.6" x2="368.68" y2="501" stroke="#231f20" stroke-width="0.9" />
<line x1="372.76" y1="499.6" x2="372.76" y2="501" stroke="#231f20" stroke-width="0.9" />
<line x1="376.83" y1="499.6" x2="376.83" y2="501" stroke="#231f20" stroke-width="0.9" />
<line x1="380.9" y1="499.6" x2="380.9" y2="502.2" stroke="#231f20" stroke-width="0.9" />
<line x1="384.97" y1="499.6" x2="384.97" y2="501" stroke="#231f20" stroke-width="0.9" />
<line x1="389.04" y1="499.6" x2="389.04" y2="501" stroke="#231f20" stroke-width="0.9" />
<line x1="393.12" y1="499.6" x2="393.12" y2="501" stroke="#231f20" stroke-width="0.9" />
<line x1="397.19" y1="499.6" x2="397.19" y2="501" stroke="#231f20" stroke-width="0.9" />
<line x1="401.26" y1="499.6" x2="401.26" y2="502.2" stroke="#231f20" stroke-width="0.9" />
<line x1="405.33" y1="499.6" x2="405.33" y2="501" stroke="#231f20" stroke-width="0.9" />
<line x1="409.4" y1="499.6" x2="409.4" y2="501" stroke="#231f20" stroke-width="0.9" />
<line x1="413.48" y1="499.6" x2="413.48" y2="501" stroke="#231f20" stroke-width="0.9" />
<line x1="417.55" y1="499.6" x2="417.55" y2="501" stroke="#231f20" stroke-width="0.9" />
<line x1="421.62" y1="499.6" x2="421.62" y2="502.2" stroke="#231f20" stroke-width="0.9" />
<line x1="425.69" y1="499.6" x2="425.69" y2="501" stroke="#231f20" stroke-width="0.9" />
<line x1="429.76" y1="499.6" x2="429.76" y2="501" stroke="#231f20" stroke-width="0.9" />
<line x1="433.84" y1="499.6" x2="433.84" y2="501" stroke="#231f20" stroke-width="0.9" />
<line x1="437.91" y1="499.6" x2="437.91" y2="501" stroke="#231f20" stroke-width="0.9" />
<line x1="441.98" y1="499.6" x2="441.98" y2="502.2" stroke="#231f20" stroke-width="0.9" />
<line x1="446.05" y1="499.6" x2="446.05" y2="501" stroke="#231f20" stroke-width="0.9" />
<line x1="450.12" y1="499.6" x2="450.12" y2="501" stroke="#231f20" stroke-width="0.9" />
<line x1="454.2" y1="499.6" x2="454.2" y2="501" stroke="#231f20" stroke-width="0.9" />
<line x1="458.27" y1="499.6" x2="458.27" y2="501" stroke="#231f20" stroke-width="0.9" />
<line x1="462.34" y1="499.6" x2="462.34" y2="502.2" stroke="#231f20" stroke-width="0.9" />
<line x1="466.41" y1="499.6" x2="466.41" y2="501" stroke="#231f20" stroke-width="0.9" />
<line x1="470.48" y1="499.6" x2="470.48" y2="501" stroke="#231f20" stroke-width="0.9" />
<line x1="474.56" y1="499.6" x2="474.56" y2="501" stroke="#231f20" stroke-width="0.9" />
<line x1="478.63" y1="499.6" x2="478.63" y2="501" stroke="#231f20" stroke-width="0.9" />
<line x1="482.7" y1="499.6" x2="482.7" y2="502.2" stroke="#231f20" stroke-width="0.9" />
<line x1="486.77" y1="499.6" x2="486.77" y2="501" stroke="#231f20" stroke-width="0.9" />
<line x1="490.84" y1="499.6" x2="490.84" y2="501" stroke="#231f20" stroke-width="0.9" />
<line x1="494.92" y1="499.6" x2="494.92" y2="501" stroke="#231f20" stroke-width="0.9" />
<line x1="498.99" y1="499.6" x2="498.99" y2="501" stroke="#231f20" stroke-width="0.9" />
<line x1="503.06" y1="499.6" x2="503.06" y2="502.2" stroke="#231f20" stroke-width="0.9" />
<line x1="507.13" y1="499.6" x2="507.13" y2="501" stroke="#231f20" stroke-width="0.9" />
<line x1="511.2" y1="499.6" x2="511.2" y2="501" stroke="#231f20" stroke-width="0.9" />
<line x1="515.28" y1="499.6" x2="515.28" y2="501" stroke="#231f20" stroke-width="0.9" />
<line x1="519.35" y1="499.6" x2="519.35" y2="501" stroke="#231f20" stroke-width="0.9" />
<line x1="523.42" y1="499.6" x2="523.42" y2="502.2" stroke="#231f20" stroke-width="0.9" />
<line x1="527.49" y1="499.6" x2="527.49" y2="501" stroke="#231f20" stroke-width="0.9" />
<line x1="531.56" y1="499.6" x2="531.56" y2="501" stroke="#231f20" stroke-width="0.9" />
<line x1="535.64" y1="499.6" x2="535.64" y2="501" stroke="#231f20" stroke-width="0.9" />
<line x1="539.71" y1="499.6" x2="539.71" y2="501" stroke="#231f20" stroke-width="0.9" />
<line x1="543.78" y1="499.6" x2="543.78" y2="502.2" stroke="#231f20" stroke-width="0.9" />
<line x1="547.85" y1="499.6" x2="547.85" y2="501" stroke="#231f20" stroke-width="0.9" />
<line x1="551.92" y1="499.6" x2="551.92" y2="501" stroke="#231f20" stroke-width="0.9" />
<line x1="556" y1="499.6" x2="556" y2="501" stroke="#231f20" stroke-width="0.9" />
<line x1="560.07" y1="499.6" x2="560.07" y2="501" stroke="#231f20" stroke-width="0.9" />
<line x1="564.14" y1="499.6" x2="564.14" y2="502.2" stroke="#231f20" stroke-width="0.9" />
<line x1="568.21" y1="499.6" x2="568.21" y2="501" stroke="#231f20" stroke-width="0.9" />
<line x1="572.28" y1="499.6" x2="572.28" y2="501" stroke="#231f20" stroke-width="0.9" />
<line x1="576.36" y1="499.6" x2="576.36" y2="501" stroke="#231f20" stroke-width="0.9" />
<line x1="580.43" y1="499.6" x2="580.43" y2="501" stroke="#231f20" stroke-width="0.9" />
<line x1="584.5" y1="499.6" x2="584.5" y2="502.2" stroke="#231f20" stroke-width="0.9" />
<line x1="588.57" y1="499.6" x2="588.57" y2="501" stroke="#231f20" stroke-width="0.9" />
<line x1="592.64" y1="499.6" x2="592.64" y2="501" stroke="#231f20" stroke-width="0.9" />
<line x1="596.72" y1="499.6" x2="596.72" y2="501" stroke="#231f20" stroke-width="0.9" />
<line x1="600.79" y1="499.6" x2="600.79" y2="501" stroke="#231f20" stroke-width="0.9" />
<line x1="604.86" y1="499.6" x2="604.86" y2="502.2" stroke="#231f20" stroke-width="0.9" />
<line x1="608.93" y1="499.6" x2="608.93" y2="501" stroke="#231f20" stroke-width="0.9" />
<line x1="613" y1="499.6" x2="613" y2="501" stroke="#231f20" stroke-width="0.9" />
<line x1="617.08" y1="499.6" x2="617.08" y2="501" stroke="#231f20" stroke-width="0.9" />
<line x1="621.15" y1="499.6" x2="621.15" y2="501" stroke="#231f20" stroke-width="0.9" />
<line x1="625.22" y1="499.6" x2="625.22" y2="502.2" stroke="#231f20" stroke-width="0.9" />
<line x1="629.29" y1="499.6" x2="629.29" y2="501" stroke="#231f20" stroke-width="0.9" />
<line x1="633.36" y1="499.6" x2="633.36" y2="501" stroke="#231f20" stroke-width="0.9" />
<line x1="637.44" y1="499.6" x2="637.44" y2="501" stroke="#231f20" stroke-width="0.9" />
<line x1="641.51" y1="499.6" x2="641.51" y2="501" stroke="#231f20" stroke-width="0.9" />
<line x1="645.58" y1="499.6" x2="645.58" y2="502.2" stroke="#231f20" stroke-width="0.9" />
<line x1="649.65" y1="499.6" x2="649.65" y2="501" stroke="#231f20" stroke-width="0.9" />
<line x1="653.72" y1="499.6" x2="653.72" y2="501" stroke="#231f20" stroke-width="0.9" />
<line x1="657.8" y1="499.6" x2="657.8" y2="501" stroke="#231f20" stroke-width="0.9" />
<line x1="661.87" y1="499.6" x2="661.87" y2="501" stroke="#231f20" stroke-width="0.9" />
<line x1="665.94" y1="499.6" x2="665.94" y2="502.2" stroke="#231f20" stroke-width="0.9" />
<line x1="670.01" y1="499.6" x2="670.01" y2="501" stroke="#231f20" stroke-width="0.9" />
<line x1="674.08" y1="499.6" x2="674.08" y2="501" stroke="#231f20" stroke-width="0.9" />
<line x1="678.16" y1="499.6" x2="678.16" y2="501" stroke="#231f20" stroke-width="0.9" />
<text x="281.2" y="511.4" font-size="7.9" fill="#231f20" stroke="#231f20" stroke-width="0.22" text-anchor="middle" font-weight="bold" >0</text>
<text x="299.46" y="511.4" font-size="7.9" fill="#231f20" stroke="#231f20" stroke-width="0.22" text-anchor="middle" font-weight="bold" >5</text>
<text x="319.82" y="511.4" font-size="7.9" fill="#231f20" stroke="#231f20" stroke-width="0.22" text-anchor="middle" font-weight="bold" >10</text>
<text x="340.18" y="511.4" font-size="7.9" fill="#231f20" stroke="#231f20" stroke-width="0.22" text-anchor="middle" font-weight="bold" >15</text>
<text x="360.54" y="511.4" font-size="7.9" fill="#231f20" stroke="#231f20" stroke-width="0.22" text-anchor="middle" font-weight="bold" >20</text>
<text x="380.9" y="511.4" font-size="7.9" fill="#231f20" stroke="#231f20" stroke-width="0.22" text-anchor="middle" font-weight="bold" >25</text>
<text x="401.26" y="511.4" font-size="7.9" fill="#231f20" stroke="#231f20" stroke-width="0.22" text-anchor="middle" font-weight="bold" >30</text>
<text x="421.62" y="511.4" font-size="7.9" fill="#231f20" stroke="#231f20" stroke-width="0.22" text-anchor="middle" font-weight="bold" >35</text>
<text x="441.98" y="511.4" font-size="7.9" fill="#231f20" stroke="#231f20" stroke-width="0.22" text-anchor="middle" font-weight="bold" >40</text>
<text x="462.34" y="511.4" font-size="7.9" fill="#231f20" stroke="#231f20" stroke-width="0.22" text-anchor="middle" font-weight="bold" >45</text>
<text x="482.7" y="511.4" font-size="7.9" fill="#231f20" stroke="#231f20" stroke-width="0.22" text-anchor="middle" font-weight="bold" >50</text>
<text x="503.06" y="511.4" font-size="7.9" fill="#231f20" stroke="#231f20" stroke-width="0.22" text-anchor="middle" font-weight="bold" >55</text>
<text x="523.42" y="511.4" font-size="7.9" fill="#231f20" stroke="#231f20" stroke-width="0.22" text-anchor="middle" font-weight="bold" >60</text>
<text x="543.78" y="511.4" font-size="7.9" fill="#231f20" stroke="#231f20" stroke-width="0.22" text-anchor="middle" font-weight="bold" >65</text>
<text x="564.14" y="511.4" font-size="7.9" fill="#231f20" stroke="#231f20" stroke-width="0.22" text-anchor="middle" font-weight="bold" >70</text>
<text x="584.5" y="511.4" font-size="7.9" fill="#231f20" stroke="#231f20" stroke-width="0.22" text-anchor="middle" font-weight="bold" >75</text>
<text x="604.86" y="511.4" font-size="7.9" fill="#231f20" stroke="#231f20" stroke-width="0.22" text-anchor="middle" font-weight="bold" >80</text>
<text x="625.22" y="511.4" font-size="7.9" fill="#231f20" stroke="#231f20" stroke-width="0.22" text-anchor="middle" font-weight="bold" >85</text>
<text x="645.58" y="511.4" font-size="7.9" fill="#231f20" stroke="#231f20" stroke-width="0.22" text-anchor="middle" font-weight="bold" >90</text>
<text x="665.94" y="511.4" font-size="7.9" fill="#231f20" stroke="#231f20" stroke-width="0.22" text-anchor="middle" font-weight="bold" >95</text>
<text transform="translate(260.9,436.5) rotate(-90)" font-size="10.4" fill="#231f20" stroke="#231f20" stroke-width="0.22" text-anchor="middle" font-weight="bold">CSP (ppm)</text>
<text x="486" y="522.4" font-size="10.4" fill="#231f20" stroke="#231f20" stroke-width="0.22" text-anchor="middle" font-weight="bold" textLength="86" lengthAdjust="spacingAndGlyphs">Residue Number</text>
<text x="363" y="450" font-size="8.6" fill="#e3001b" stroke="#e3001b" stroke-width="0.22" text-anchor="start" font-weight="bold" textLength="13.54" lengthAdjust="spacingAndGlyphs" >S22</text>
<text x="377" y="456.2" font-size="8.6" fill="#e3001b" stroke="#e3001b" stroke-width="0.22" text-anchor="start" font-weight="bold" textLength="13.11" lengthAdjust="spacingAndGlyphs" >T26</text>
<text x="392" y="453.9" font-size="8.6" fill="#e3001b" stroke="#e3001b" stroke-width="0.22" text-anchor="start" font-weight="bold" textLength="14.39" lengthAdjust="spacingAndGlyphs" >Q29</text>
<text x="408.5" y="448.5" font-size="8.6" fill="#e3001b" stroke="#e3001b" stroke-width="0.22" text-anchor="start" font-weight="bold" textLength="13.11" lengthAdjust="spacingAndGlyphs" >L33</text>
<text x="420.5" y="439.2" font-size="8.6" fill="#e3001b" stroke="#e3001b" stroke-width="0.22" text-anchor="start" font-weight="bold" textLength="13.54" lengthAdjust="spacingAndGlyphs" >S36</text>
<text x="460" y="450.6" font-size="8.6" fill="#e3001b" stroke="#e3001b" stroke-width="0.22" text-anchor="start" font-weight="bold" textLength="13.11" lengthAdjust="spacingAndGlyphs" >L46</text>
<text x="468.7" y="427.7" font-size="8.6" fill="#e3001b" stroke="#e3001b" stroke-width="0.22" text-anchor="start" font-weight="bold" textLength="13.11" lengthAdjust="spacingAndGlyphs" >T48</text>
<text x="484.7" y="440.8" font-size="8.6" fill="#e3001b" stroke="#e3001b" stroke-width="0.22" text-anchor="start" font-weight="bold" textLength="13.54" lengthAdjust="spacingAndGlyphs" >Y52</text>
<text x="606.7" y="453.8" font-size="8.6" fill="#e3001b" stroke="#e3001b" stroke-width="0.22" text-anchor="start" font-weight="bold" textLength="13.54" lengthAdjust="spacingAndGlyphs" >Y82</text>
<text x="622.4" y="458.1" font-size="8.6" fill="#e3001b" stroke="#e3001b" stroke-width="0.22" text-anchor="start" font-weight="bold" textLength="13.54" lengthAdjust="spacingAndGlyphs" >V86</text>
<text x="638" y="456.4" font-size="8.6" fill="#e3001b" stroke="#e3001b" stroke-width="0.22" text-anchor="start" font-weight="bold" textLength="10.58" lengthAdjust="spacingAndGlyphs" >I89</text>
<text x="249.8" y="539.9" font-size="16.5" fill="#231f20" stroke="#231f20" stroke-width="0.22" text-anchor="start" font-weight="bold" >g</text>
<line x1="280.7" y1="561" x2="303" y2="561" stroke="#231f20" stroke-width="1.4" stroke-dasharray="3,2.2"/>
<polyline points="303,556 308.6,566 314.2,556 319.8,566 325.4,556" fill="none" stroke="#231f20" stroke-width="1.55" stroke-linejoin="bevel"/>
<rect x="303" y="556" width="22.4" height="10" fill="none" stroke="#231f20" stroke-width="1.6" />
<line x1="325.4" y1="561" x2="349" y2="561" stroke="#231f20" stroke-width="1.4" stroke-dasharray="3,2.2"/>
<polyline points="349,556 352.4,566 355.8,556 359.2,566 362.6,556 366,566 369.4,556 372.8,566 376.2,556 379.6,566 383,556 386.4,566 389.8,556 393.2,566 396.6,556 400,566 403.4,556 406.8,566 410.2,556 413.6,566 417,556 420.4,566 423.8,556 427.2,566 430.6,556 434,566 437.4,556" fill="none" stroke="#231f20" stroke-width="1.55" stroke-linejoin="bevel"/>
<rect x="349" y="556" width="88.4" height="10" fill="none" stroke="#231f20" stroke-width="1.6" />
<line x1="437.4" y1="561" x2="461.6" y2="561" stroke="#231f20" stroke-width="1.4" />
<polyline points="461.6,556 465.07,566 468.55,556 472.02,566 475.49,556 478.97,566 482.44,556 485.91,566 489.38,556 492.86,566 496.33,556 499.8,566 503.28,556 506.75,566 510.22,556 513.7,566 517.17,556 520.64,566 524.12,556 527.59,566 531.06,556 534.53,566 538.01,556 541.48,566 544.95,556 548.43,566 551.9,556" fill="none" stroke="#231f20" stroke-width="1.55" stroke-linejoin="bevel"/>
<rect x="461.6" y="556" width="90.3" height="10" fill="none" stroke="#231f20" stroke-width="1.6" />
<line x1="551.9" y1="561" x2="559.3" y2="561" stroke="#231f20" stroke-width="1.4" />
<polyline points="559.3,556 562.61,566 565.93,556 569.24,566 572.56,556 575.87,566 579.19,556 582.5,566 585.81,556 589.13,566 592.44,556 595.76,566 599.07,556 602.39,566 605.7,556 609.01,566 612.33,556 615.64,566 618.96,556 622.27,566 625.59,556 628.9,566 632.21,556 635.53,566 638.84,556 642.16,566 645.47,556 648.79,566 652.1,556" fill="none" stroke="#231f20" stroke-width="1.55" stroke-linejoin="bevel"/>
<rect x="559.3" y="556" width="92.8" height="10" fill="none" stroke="#231f20" stroke-width="1.6" />
<line x1="652.1" y1="561" x2="677" y2="561" stroke="#231f20" stroke-width="1.4" />
<text x="315.6" y="552.6" font-size="7.6" fill="#231f20" stroke="#231f20" stroke-width="0.22" text-anchor="middle" font-weight="bold" >N-helix</text>
<text x="385.8" y="552.6" font-size="7.6" fill="#231f20" stroke="#231f20" stroke-width="0.22" text-anchor="middle" font-weight="bold" >TM1</text>
<text x="449.3" y="552.8" font-size="7.6" fill="#231f20" stroke="#231f20" stroke-width="0.22" text-anchor="middle" font-weight="bold" >L1-2</text>
<text x="505" y="552.6" font-size="7.6" fill="#231f20" stroke="#231f20" stroke-width="0.22" text-anchor="middle" font-weight="bold" >TM2</text>
<text x="555.4" y="553.2" font-size="7.6" fill="#231f20" stroke="#231f20" stroke-width="0.22" text-anchor="middle" font-weight="bold" >L2-3</text>
<text x="613.2" y="552.6" font-size="7.6" fill="#231f20" stroke="#231f20" stroke-width="0.22" text-anchor="middle" font-weight="bold" >TM3</text>
<text x="303.8" y="574.3" font-size="7.6" fill="#231f20" stroke="#231f20" stroke-width="0.22" text-anchor="middle" font-weight="bold" >7</text>
<text x="323.6" y="574.3" font-size="7.6" fill="#231f20" stroke="#231f20" stroke-width="0.22" text-anchor="middle" font-weight="bold" >11</text>
<text x="351" y="574.3" font-size="7.6" fill="#231f20" stroke="#231f20" stroke-width="0.22" text-anchor="middle" font-weight="bold" >18</text>
<text x="436.6" y="574.3" font-size="7.6" fill="#231f20" stroke="#231f20" stroke-width="0.22" text-anchor="middle" font-weight="bold" >39</text>
<text x="464.5" y="574.3" font-size="7.6" fill="#231f20" stroke="#231f20" stroke-width="0.22" text-anchor="middle" font-weight="bold" >46</text>
<text x="549.8" y="574.3" font-size="7.6" fill="#231f20" stroke="#231f20" stroke-width="0.22" text-anchor="middle" font-weight="bold" >67</text>
<text x="563.1" y="574.3" font-size="7.6" fill="#231f20" stroke="#231f20" stroke-width="0.22" text-anchor="middle" font-weight="bold" >70</text>
<text x="651.7" y="574.3" font-size="7.6" fill="#231f20" stroke="#231f20" stroke-width="0.22" text-anchor="middle" font-weight="bold" >92</text>
<rect x="313.4" y="602.2" width="2.5" height="91" fill="#d6d6d6" stroke="#a4a4a4" stroke-width="0.55" />
<rect x="350.05" y="602.2" width="2.5" height="91" fill="#d6d6d6" stroke="#a4a4a4" stroke-width="0.55" />
<rect x="370.41" y="602.2" width="2.5" height="91" fill="#d6d6d6" stroke="#a4a4a4" stroke-width="0.55" />
<rect x="378.55" y="602.2" width="2.5" height="91" fill="#d6d6d6" stroke="#a4a4a4" stroke-width="0.55" />
<rect x="382.62" y="602.2" width="2.5" height="91" fill="#d6d6d6" stroke="#a4a4a4" stroke-width="0.55" />
<rect x="386.69" y="602.2" width="2.5" height="91" fill="#d6d6d6" stroke="#a4a4a4" stroke-width="0.55" />
<rect x="390.77" y="602.2" width="2.5" height="91" fill="#d6d6d6" stroke="#a4a4a4" stroke-width="0.55" />
<rect x="394.84" y="602.2" width="2.5" height="91" fill="#d6d6d6" stroke="#a4a4a4" stroke-width="0.55" />
<rect x="407.05" y="602.2" width="2.5" height="91" fill="#d6d6d6" stroke="#a4a4a4" stroke-width="0.55" />
<rect x="411.13" y="602.2" width="2.5" height="91" fill="#d6d6d6" stroke="#a4a4a4" stroke-width="0.55" />
<rect x="415.2" y="602.2" width="2.5" height="91" fill="#d6d6d6" stroke="#a4a4a4" stroke-width="0.55" />
<rect x="419.27" y="602.2" width="2.5" height="91" fill="#d6d6d6" stroke="#a4a4a4" stroke-width="0.55" />
<rect x="423.34" y="602.2" width="2.5" height="91" fill="#d6d6d6" stroke="#a4a4a4" stroke-width="0.55" />
<rect x="427.41" y="602.2" width="2.5" height="91" fill="#d6d6d6" stroke="#a4a4a4" stroke-width="0.55" />
<rect x="431.49" y="602.2" width="2.5" height="91" fill="#d6d6d6" stroke="#a4a4a4" stroke-width="0.55" />
<rect x="435.56" y="602.2" width="2.5" height="91" fill="#d6d6d6" stroke="#a4a4a4" stroke-width="0.55" />
<rect x="439.63" y="602.2" width="2.5" height="91" fill="#d6d6d6" stroke="#a4a4a4" stroke-width="0.55" />
<rect x="443.7" y="602.2" width="2.5" height="91" fill="#d6d6d6" stroke="#a4a4a4" stroke-width="0.55" />
<rect x="447.77" y="602.2" width="2.5" height="91" fill="#d6d6d6" stroke="#a4a4a4" stroke-width="0.55" />
<rect x="451.85" y="602.2" width="2.5" height="91" fill="#d6d6d6" stroke="#a4a4a4" stroke-width="0.55" />
<rect x="455.92" y="602.2" width="2.5" height="91" fill="#d6d6d6" stroke="#a4a4a4" stroke-width="0.55" />
<rect x="459.99" y="602.2" width="2.5" height="91" fill="#d6d6d6" stroke="#a4a4a4" stroke-width="0.55" />
<rect x="464.06" y="602.2" width="2.5" height="91" fill="#d6d6d6" stroke="#a4a4a4" stroke-width="0.55" />
<rect x="468.13" y="602.2" width="2.5" height="91" fill="#d6d6d6" stroke="#a4a4a4" stroke-width="0.55" />
<rect x="472.21" y="602.2" width="2.5" height="91" fill="#d6d6d6" stroke="#a4a4a4" stroke-width="0.55" />
<rect x="476.28" y="602.2" width="2.5" height="91" fill="#d6d6d6" stroke="#a4a4a4" stroke-width="0.55" />
<rect x="480.35" y="602.2" width="2.5" height="91" fill="#d6d6d6" stroke="#a4a4a4" stroke-width="0.55" />
<rect x="488.49" y="602.2" width="2.5" height="91" fill="#d6d6d6" stroke="#a4a4a4" stroke-width="0.55" />
<rect x="492.57" y="602.2" width="2.5" height="91" fill="#d6d6d6" stroke="#a4a4a4" stroke-width="0.55" />
<rect x="496.64" y="602.2" width="2.5" height="91" fill="#d6d6d6" stroke="#a4a4a4" stroke-width="0.55" />
<rect x="504.78" y="602.2" width="2.5" height="91" fill="#d6d6d6" stroke="#a4a4a4" stroke-width="0.55" />
<rect x="517" y="602.2" width="2.5" height="91" fill="#d6d6d6" stroke="#a4a4a4" stroke-width="0.55" />
<rect x="521.07" y="602.2" width="2.5" height="91" fill="#d6d6d6" stroke="#a4a4a4" stroke-width="0.55" />
<rect x="525.14" y="602.2" width="2.5" height="91" fill="#d6d6d6" stroke="#a4a4a4" stroke-width="0.55" />
<rect x="529.21" y="602.2" width="2.5" height="91" fill="#d6d6d6" stroke="#a4a4a4" stroke-width="0.55" />
<rect x="533.29" y="602.2" width="2.5" height="91" fill="#d6d6d6" stroke="#a4a4a4" stroke-width="0.55" />
<rect x="537.36" y="602.2" width="2.5" height="91" fill="#d6d6d6" stroke="#a4a4a4" stroke-width="0.55" />
<rect x="541.43" y="602.2" width="2.5" height="91" fill="#d6d6d6" stroke="#a4a4a4" stroke-width="0.55" />
<rect x="545.5" y="602.2" width="2.5" height="91" fill="#d6d6d6" stroke="#a4a4a4" stroke-width="0.55" />
<rect x="549.57" y="602.2" width="2.5" height="91" fill="#d6d6d6" stroke="#a4a4a4" stroke-width="0.55" />
<rect x="553.65" y="602.2" width="2.5" height="91" fill="#d6d6d6" stroke="#a4a4a4" stroke-width="0.55" />
<rect x="557.72" y="602.2" width="2.5" height="91" fill="#d6d6d6" stroke="#a4a4a4" stroke-width="0.55" />
<rect x="565.86" y="602.2" width="2.5" height="91" fill="#d6d6d6" stroke="#a4a4a4" stroke-width="0.55" />
<rect x="569.93" y="602.2" width="2.5" height="91" fill="#d6d6d6" stroke="#a4a4a4" stroke-width="0.55" />
<rect x="574.01" y="602.2" width="2.5" height="91" fill="#d6d6d6" stroke="#a4a4a4" stroke-width="0.55" />
<rect x="578.08" y="602.2" width="2.5" height="91" fill="#d6d6d6" stroke="#a4a4a4" stroke-width="0.55" />
<rect x="582.15" y="602.2" width="2.5" height="91" fill="#d6d6d6" stroke="#a4a4a4" stroke-width="0.55" />
<rect x="586.22" y="602.2" width="2.5" height="91" fill="#d6d6d6" stroke="#a4a4a4" stroke-width="0.55" />
<rect x="602.51" y="602.2" width="2.5" height="91" fill="#d6d6d6" stroke="#a4a4a4" stroke-width="0.55" />
<rect x="610.65" y="602.2" width="2.5" height="91" fill="#d6d6d6" stroke="#a4a4a4" stroke-width="0.55" />
<rect x="614.73" y="602.2" width="2.5" height="91" fill="#d6d6d6" stroke="#a4a4a4" stroke-width="0.55" />
<rect x="618.8" y="602.2" width="2.5" height="91" fill="#d6d6d6" stroke="#a4a4a4" stroke-width="0.55" />
<rect x="626.94" y="602.2" width="2.5" height="91" fill="#d6d6d6" stroke="#a4a4a4" stroke-width="0.55" />
<rect x="631.01" y="602.2" width="2.5" height="91" fill="#d6d6d6" stroke="#a4a4a4" stroke-width="0.55" />
<rect x="635.09" y="602.2" width="2.5" height="91" fill="#d6d6d6" stroke="#a4a4a4" stroke-width="0.55" />
<rect x="639.16" y="602.2" width="2.5" height="91" fill="#d6d6d6" stroke="#a4a4a4" stroke-width="0.55" />
<rect x="651.37" y="602.2" width="2.5" height="91" fill="#d6d6d6" stroke="#a4a4a4" stroke-width="0.55" />
<rect x="655.45" y="602.2" width="2.5" height="91" fill="#d6d6d6" stroke="#a4a4a4" stroke-width="0.55" />
<rect x="659.52" y="602.2" width="2.5" height="91" fill="#d6d6d6" stroke="#a4a4a4" stroke-width="0.55" />
<rect x="663.59" y="602.2" width="2.5" height="91" fill="#d6d6d6" stroke="#a4a4a4" stroke-width="0.55" />
<rect x="667.66" y="602.2" width="2.5" height="91" fill="#d6d6d6" stroke="#a4a4a4" stroke-width="0.55" />
<rect x="313.45" y="649.52" width="2.4" height="43.68" fill="#12bcef" stroke="#3a2a30" stroke-width="0.6" />
<rect x="350.1" y="631.32" width="2.4" height="61.88" fill="#f49cc8" stroke="#3a2a30" stroke-width="0.6" />
<rect x="378.6" y="595.83" width="2.4" height="97.37" fill="#f49cc8" stroke="#3a2a30" stroke-width="0.6" />
<rect x="382.67" y="652.25" width="2.4" height="40.95" fill="#12bcef" stroke="#3a2a30" stroke-width="0.6" />
<rect x="386.74" y="658.89" width="2.4" height="34.31" fill="#12bcef" stroke="#3a2a30" stroke-width="0.6" />
<rect x="390.82" y="624.4" width="2.4" height="68.8" fill="#f49cc8" stroke="#3a2a30" stroke-width="0.6" />
<rect x="394.89" y="633.14" width="2.4" height="60.06" fill="#f49cc8" stroke="#3a2a30" stroke-width="0.6" />
<rect x="407.1" y="657.71" width="2.4" height="35.49" fill="#12bcef" stroke="#3a2a30" stroke-width="0.6" />
<rect x="411.18" y="636.78" width="2.4" height="56.42" fill="#f49cc8" stroke="#3a2a30" stroke-width="0.6" />
<rect x="415.25" y="653.16" width="2.4" height="40.04" fill="#12bcef" stroke="#3a2a30" stroke-width="0.6" />
<rect x="419.32" y="620.4" width="2.4" height="72.8" fill="#f49cc8" stroke="#3a2a30" stroke-width="0.6" />
<rect x="423.39" y="592.19" width="2.4" height="101.01" fill="#f49cc8" stroke="#3a2a30" stroke-width="0.6" />
<rect x="427.46" y="591.28" width="2.4" height="101.92" fill="#f49cc8" stroke="#3a2a30" stroke-width="0.6" />
<rect x="431.54" y="600.38" width="2.4" height="92.82" fill="#f49cc8" stroke="#3a2a30" stroke-width="0.6" />
<rect x="435.61" y="635.87" width="2.4" height="57.33" fill="#f49cc8" stroke="#3a2a30" stroke-width="0.6" />
<rect x="439.68" y="602.2" width="2.4" height="91" fill="#f49cc8" stroke="#3a2a30" stroke-width="0.6" />
<rect x="443.75" y="609.48" width="2.4" height="83.72" fill="#f49cc8" stroke="#3a2a30" stroke-width="0.6" />
<rect x="447.82" y="619.49" width="2.4" height="73.71" fill="#f49cc8" stroke="#3a2a30" stroke-width="0.6" />
<rect x="451.9" y="591.28" width="2.4" height="101.92" fill="#f49cc8" stroke="#3a2a30" stroke-width="0.6" />
<rect x="455.97" y="602.2" width="2.4" height="91" fill="#f49cc8" stroke="#3a2a30" stroke-width="0.6" />
<rect x="460.04" y="672.27" width="2.4" height="20.93" fill="#12bcef" stroke="#3a2a30" stroke-width="0.6" />
<rect x="464.11" y="617.67" width="2.4" height="75.53" fill="#f49cc8" stroke="#3a2a30" stroke-width="0.6" />
<rect x="468.18" y="644.97" width="2.4" height="48.23" fill="#12bcef" stroke="#3a2a30" stroke-width="0.6" />
<rect x="472.26" y="604.02" width="2.4" height="89.18" fill="#f49cc8" stroke="#3a2a30" stroke-width="0.6" />
<rect x="476.33" y="628.59" width="2.4" height="64.61" fill="#f49cc8" stroke="#3a2a30" stroke-width="0.6" />
<rect x="480.4" y="649.52" width="2.4" height="43.68" fill="#12bcef" stroke="#3a2a30" stroke-width="0.6" />
<rect x="488.54" y="620.4" width="2.4" height="72.8" fill="#f49cc8" stroke="#3a2a30" stroke-width="0.6" />
<rect x="492.62" y="629.5" width="2.4" height="63.7" fill="#f49cc8" stroke="#3a2a30" stroke-width="0.6" />
<rect x="496.69" y="650.43" width="2.4" height="42.77" fill="#12bcef" stroke="#3a2a30" stroke-width="0.6" />
<rect x="504.83" y="653.16" width="2.4" height="40.04" fill="#12bcef" stroke="#3a2a30" stroke-width="0.6" />
<rect x="517.05" y="642.24" width="2.4" height="50.96" fill="#12bcef" stroke="#3a2a30" stroke-width="0.6" />
<rect x="521.12" y="619.49" width="2.4" height="73.71" fill="#f49cc8" stroke="#3a2a30" stroke-width="0.6" />
<rect x="525.19" y="640.42" width="2.4" height="52.78" fill="#12bcef" stroke="#3a2a30" stroke-width="0.6" />
<rect x="529.26" y="642.24" width="2.4" height="50.96" fill="#12bcef" stroke="#3a2a30" stroke-width="0.6" />
<rect x="533.34" y="607.66" width="2.4" height="85.54" fill="#f49cc8" stroke="#3a2a30" stroke-width="0.6" />
<rect x="537.41" y="615.85" width="2.4" height="77.35" fill="#f49cc8" stroke="#3a2a30" stroke-width="0.6" />
<rect x="541.48" y="625.86" width="2.4" height="67.34" fill="#f49cc8" stroke="#3a2a30" stroke-width="0.6" />
<rect x="545.55" y="646.79" width="2.4" height="46.41" fill="#12bcef" stroke="#3a2a30" stroke-width="0.6" />
<rect x="549.62" y="631.32" width="2.4" height="61.88" fill="#f49cc8" stroke="#3a2a30" stroke-width="0.6" />
<rect x="553.7" y="636.78" width="2.4" height="56.42" fill="#f49cc8" stroke="#3a2a30" stroke-width="0.6" />
<rect x="557.77" y="622.22" width="2.4" height="70.98" fill="#f49cc8" stroke="#3a2a30" stroke-width="0.6" />
<rect x="565.91" y="673.18" width="2.4" height="20.02" fill="#12bcef" stroke="#3a2a30" stroke-width="0.6" />
<rect x="569.98" y="628.59" width="2.4" height="64.61" fill="#f49cc8" stroke="#3a2a30" stroke-width="0.6" />
<rect x="574.06" y="652.25" width="2.4" height="40.95" fill="#12bcef" stroke="#3a2a30" stroke-width="0.6" />
<rect x="578.13" y="620.4" width="2.4" height="72.8" fill="#f49cc8" stroke="#3a2a30" stroke-width="0.6" />
<rect x="582.2" y="638.6" width="2.4" height="54.6" fill="#f49cc8" stroke="#3a2a30" stroke-width="0.6" />
<rect x="586.27" y="674.09" width="2.4" height="19.11" fill="#12bcef" stroke="#3a2a30" stroke-width="0.6" />
<rect x="594.42" y="579.45" width="2.4" height="113.75" fill="#f49cc8" stroke="#3a2a30" stroke-width="0.6" />
<rect x="602.56" y="651.34" width="2.4" height="41.86" fill="#12bcef" stroke="#3a2a30" stroke-width="0.6" />
<rect x="610.7" y="621.31" width="2.4" height="71.89" fill="#f49cc8" stroke="#3a2a30" stroke-width="0.6" />
<rect x="614.78" y="660.44" width="2.4" height="32.76" fill="#12bcef" stroke="#3a2a30" stroke-width="0.6" />
<rect x="618.85" y="637.24" width="2.4" height="55.97" fill="#f49cc8" stroke="#3a2a30" stroke-width="0.6" />
<rect x="626.99" y="631.32" width="2.4" height="61.88" fill="#f49cc8" stroke="#3a2a30" stroke-width="0.6" />
<rect x="631.06" y="657.71" width="2.4" height="35.49" fill="#12bcef" stroke="#3a2a30" stroke-width="0.6" />
<rect x="635.14" y="643.61" width="2.4" height="49.6" fill="#12bcef" stroke="#3a2a30" stroke-width="0.6" />
<rect x="639.21" y="613.12" width="2.4" height="80.08" fill="#f49cc8" stroke="#3a2a30" stroke-width="0.6" />
<rect x="651.42" y="629.5" width="2.4" height="63.7" fill="#f49cc8" stroke="#3a2a30" stroke-width="0.6" />
<rect x="655.5" y="670.45" width="2.4" height="22.75" fill="#12bcef" stroke="#3a2a30" stroke-width="0.6" />
<rect x="659.57" y="670.45" width="2.4" height="22.75" fill="#12bcef" stroke="#3a2a30" stroke-width="0.6" />
<line x1="279.2" y1="638.4" x2="684" y2="638.4" stroke="#e3001b" stroke-width="2.9" stroke-dasharray="7.9,7.87" stroke-dashoffset="2.5"/>
<line x1="279.2" y1="575" x2="279.2" y2="693.2" stroke="#231f20" stroke-width="1.4" />
<line x1="276.6" y1="693.2" x2="279.2" y2="693.2" stroke="#231f20" stroke-width="0.9" />
<line x1="277.7" y1="684.1" x2="279.2" y2="684.1" stroke="#231f20" stroke-width="0.9" />
<line x1="276.6" y1="675" x2="279.2" y2="675" stroke="#231f20" stroke-width="0.9" />
<line x1="277.7" y1="665.9" x2="279.2" y2="665.9" stroke="#231f20" stroke-width="0.9" />
<line x1="276.6" y1="656.8" x2="279.2" y2="656.8" stroke="#231f20" stroke-width="0.9" />
<line x1="277.7" y1="647.7" x2="279.2" y2="647.7" stroke="#231f20" stroke-width="0.9" />
<line x1="276.6" y1="638.6" x2="279.2" y2="638.6" stroke="#231f20" stroke-width="0.9" />
<line x1="277.7" y1="629.5" x2="279.2" y2="629.5" stroke="#231f20" stroke-width="0.9" />
<line x1="276.6" y1="620.4" x2="279.2" y2="620.4" stroke="#231f20" stroke-width="0.9" />
<line x1="277.7" y1="611.3" x2="279.2" y2="611.3" stroke="#231f20" stroke-width="0.9" />
<line x1="276.6" y1="602.2" x2="279.2" y2="602.2" stroke="#231f20" stroke-width="0.9" />
<line x1="277.7" y1="593.1" x2="279.2" y2="593.1" stroke="#231f20" stroke-width="0.9" />
<line x1="276.6" y1="584" x2="279.2" y2="584" stroke="#231f20" stroke-width="0.9" />
<line x1="277.7" y1="574.9" x2="279.2" y2="574.9" stroke="#231f20" stroke-width="0.9" />
<text x="269" y="586.8" font-size="8.0" fill="#231f20" stroke="#231f20" stroke-width="0.22" text-anchor="middle" font-weight="bold" >1.2</text>
<text x="269" y="605" font-size="8.0" fill="#231f20" stroke="#231f20" stroke-width="0.22" text-anchor="middle" font-weight="bold" >1</text>
<text x="269" y="623.2" font-size="8.0" fill="#231f20" stroke="#231f20" stroke-width="0.22" text-anchor="middle" font-weight="bold" >0.8</text>
<text x="267.3" y="642" font-size="9.4" fill="#e3001b" stroke="#e3001b" stroke-width="0.22" text-anchor="middle" font-weight="bold" >0.6</text>
<text x="269" y="659.6" font-size="8.0" fill="#231f20" stroke="#231f20" stroke-width="0.22" text-anchor="middle" font-weight="bold" >0.4</text>
<text x="269" y="677.8" font-size="8.0" fill="#231f20" stroke="#231f20" stroke-width="0.22" text-anchor="middle" font-weight="bold" >0.2</text>
<text x="269" y="696" font-size="8.0" fill="#231f20" stroke="#231f20" stroke-width="0.22" text-anchor="middle" font-weight="bold" >0</text>
<line x1="279.2" y1="693.2" x2="677" y2="693.2" stroke="#231f20" stroke-width="1.6" />
<line x1="278" y1="693.2" x2="278" y2="695.8" stroke="#231f20" stroke-width="0.9" />
<line x1="282.07" y1="693.2" x2="282.07" y2="694.6" stroke="#231f20" stroke-width="0.9" />
<line x1="286.14" y1="693.2" x2="286.14" y2="694.6" stroke="#231f20" stroke-width="0.9" />
<line x1="290.22" y1="693.2" x2="290.22" y2="694.6" stroke="#231f20" stroke-width="0.9" />
<line x1="294.29" y1="693.2" x2="294.29" y2="694.6" stroke="#231f20" stroke-width="0.9" />
<line x1="298.36" y1="693.2" x2="298.36" y2="695.8" stroke="#231f20" stroke-width="0.9" />
<line x1="302.43" y1="693.2" x2="302.43" y2="694.6" stroke="#231f20" stroke-width="0.9" />
<line x1="306.5" y1="693.2" x2="306.5" y2="694.6" stroke="#231f20" stroke-width="0.9" />
<line x1="310.58" y1="693.2" x2="310.58" y2="694.6" stroke="#231f20" stroke-width="0.9" />
<line x1="314.65" y1="693.2" x2="314.65" y2="694.6" stroke="#231f20" stroke-width="0.9" />
<line x1="318.72" y1="693.2" x2="318.72" y2="695.8" stroke="#231f20" stroke-width="0.9" />
<line x1="322.79" y1="693.2" x2="322.79" y2="694.6" stroke="#231f20" stroke-width="0.9" />
<line x1="326.86" y1="693.2" x2="326.86" y2="694.6" stroke="#231f20" stroke-width="0.9" />
<line x1="330.94" y1="693.2" x2="330.94" y2="694.6" stroke="#231f20" stroke-width="0.9" />
<line x1="335.01" y1="693.2" x2="335.01" y2="694.6" stroke="#231f20" stroke-width="0.9" />
<line x1="339.08" y1="693.2" x2="339.08" y2="695.8" stroke="#231f20" stroke-width="0.9" />
<line x1="343.15" y1="693.2" x2="343.15" y2="694.6" stroke="#231f20" stroke-width="0.9" />
<line x1="347.22" y1="693.2" x2="347.22" y2="694.6" stroke="#231f20" stroke-width="0.9" />
<line x1="351.3" y1="693.2" x2="351.3" y2="694.6" stroke="#231f20" stroke-width="0.9" />
<line x1="355.37" y1="693.2" x2="355.37" y2="694.6" stroke="#231f20" stroke-width="0.9" />
<line x1="359.44" y1="693.2" x2="359.44" y2="695.8" stroke="#231f20" stroke-width="0.9" />
<line x1="363.51" y1="693.2" x2="363.51" y2="694.6" stroke="#231f20" stroke-width="0.9" />
<line x1="367.58" y1="693.2" x2="367.58" y2="694.6" stroke="#231f20" stroke-width="0.9" />
<line x1="371.66" y1="693.2" x2="371.66" y2="694.6" stroke="#231f20" stroke-width="0.9" />
<line x1="375.73" y1="693.2" x2="375.73" y2="694.6" stroke="#231f20" stroke-width="0.9" />
<line x1="379.8" y1="693.2" x2="379.8" y2="695.8" stroke="#231f20" stroke-width="0.9" />
<line x1="383.87" y1="693.2" x2="383.87" y2="694.6" stroke="#231f20" stroke-width="0.9" />
<line x1="387.94" y1="693.2" x2="387.94" y2="694.6" stroke="#231f20" stroke-width="0.9" />
<line x1="392.02" y1="693.2" x2="392.02" y2="694.6" stroke="#231f20" stroke-width="0.9" />
<line x1="396.09" y1="693.2" x2="396.09" y2="694.6" stroke="#231f20" stroke-width="0.9" />
<line x1="400.16" y1="693.2" x2="400.16" y2="695.8" stroke="#231f20" stroke-width="0.9" />
<line x1="404.23" y1="693.2" x2="404.23" y2="694.6" stroke="#231f20" stroke-width="0.9" />
<line x1="408.3" y1="693.2" x2="408.3" y2="694.6" stroke="#231f20" stroke-width="0.9" />
<line x1="412.38" y1="693.2" x2="412.38" y2="694.6" stroke="#231f20" stroke-width="0.9" />
<line x1="416.45" y1="693.2" x2="416.45" y2="694.6" stroke="#231f20" stroke-width="0.9" />
<line x1="420.52" y1="693.2" x2="420.52" y2="695.8" stroke="#231f20" stroke-width="0.9" />
<line x1="424.59" y1="693.2" x2="424.59" y2="694.6" stroke="#231f20" stroke-width="0.9" />
<line x1="428.66" y1="693.2" x2="428.66" y2="694.6" stroke="#231f20" stroke-width="0.9" />
<line x1="432.74" y1="693.2" x2="432.74" y2="694.6" stroke="#231f20" stroke-width="0.9" />
<line x1="436.81" y1="693.2" x2="436.81" y2="694.6" stroke="#231f20" stroke-width="0.9" />
<line x1="440.88" y1="693.2" x2="440.88" y2="695.8" stroke="#231f20" stroke-width="0.9" />
<line x1="444.95" y1="693.2" x2="444.95" y2="694.6" stroke="#231f20" stroke-width="0.9" />
<line x1="449.02" y1="693.2" x2="449.02" y2="694.6" stroke="#231f20" stroke-width="0.9" />
<line x1="453.1" y1="693.2" x2="453.1" y2="694.6" stroke="#231f20" stroke-width="0.9" />
<line x1="457.17" y1="693.2" x2="457.17" y2="694.6" stroke="#231f20" stroke-width="0.9" />
<line x1="461.24" y1="693.2" x2="461.24" y2="695.8" stroke="#231f20" stroke-width="0.9" />
<line x1="465.31" y1="693.2" x2="465.31" y2="694.6" stroke="#231f20" stroke-width="0.9" />
<line x1="469.38" y1="693.2" x2="469.38" y2="694.6" stroke="#231f20" stroke-width="0.9" />
<line x1="473.46" y1="693.2" x2="473.46" y2="694.6" stroke="#231f20" stroke-width="0.9" />
<line x1="477.53" y1="693.2" x2="477.53" y2="694.6" stroke="#231f20" stroke-width="0.9" />
<line x1="481.6" y1="693.2" x2="481.6" y2="695.8" stroke="#231f20" stroke-width="0.9" />
<line x1="485.67" y1="693.2" x2="485.67" y2="694.6" stroke="#231f20" stroke-width="0.9" />
<line x1="489.74" y1="693.2" x2="489.74" y2="694.6" stroke="#231f20" stroke-width="0.9" />
<line x1="493.82" y1="693.2" x2="493.82" y2="694.6" stroke="#231f20" stroke-width="0.9" />
<line x1="497.89" y1="693.2" x2="497.89" y2="694.6" stroke="#231f20" stroke-width="0.9" />
<line x1="501.96" y1="693.2" x2="501.96" y2="695.8" stroke="#231f20" stroke-width="0.9" />
<line x1="506.03" y1="693.2" x2="506.03" y2="694.6" stroke="#231f20" stroke-width="0.9" />
<line x1="510.1" y1="693.2" x2="510.1" y2="694.6" stroke="#231f20" stroke-width="0.9" />
<line x1="514.18" y1="693.2" x2="514.18" y2="694.6" stroke="#231f20" stroke-width="0.9" />
<line x1="518.25" y1="693.2" x2="518.25" y2="694.6" stroke="#231f20" stroke-width="0.9" />
<line x1="522.32" y1="693.2" x2="522.32" y2="695.8" stroke="#231f20" stroke-width="0.9" />
<line x1="526.39" y1="693.2" x2="526.39" y2="694.6" stroke="#231f20" stroke-width="0.9" />
<line x1="530.46" y1="693.2" x2="530.46" y2="694.6" stroke="#231f20" stroke-width="0.9" />
<line x1="534.54" y1="693.2" x2="534.54" y2="694.6" stroke="#231f20" stroke-width="0.9" />
<line x1="538.61" y1="693.2" x2="538.61" y2="694.6" stroke="#231f20" stroke-width="0.9" />
<line x1="542.68" y1="693.2" x2="542.68" y2="695.8" stroke="#231f20" stroke-width="0.9" />
<line x1="546.75" y1="693.2" x2="546.75" y2="694.6" stroke="#231f20" stroke-width="0.9" />
<line x1="550.82" y1="693.2" x2="550.82" y2="694.6" stroke="#231f20" stroke-width="0.9" />
<line x1="554.9" y1="693.2" x2="554.9" y2="694.6" stroke="#231f20" stroke-width="0.9" />
<line x1="558.97" y1="693.2" x2="558.97" y2="694.6" stroke="#231f20" stroke-width="0.9" />
<line x1="563.04" y1="693.2" x2="563.04" y2="695.8" stroke="#231f20" stroke-width="0.9" />
<line x1="567.11" y1="693.2" x2="567.11" y2="694.6" stroke="#231f20" stroke-width="0.9" />
<line x1="571.18" y1="693.2" x2="571.18" y2="694.6" stroke="#231f20" stroke-width="0.9" />
<line x1="575.26" y1="693.2" x2="575.26" y2="694.6" stroke="#231f20" stroke-width="0.9" />
<line x1="579.33" y1="693.2" x2="579.33" y2="694.6" stroke="#231f20" stroke-width="0.9" />
<line x1="583.4" y1="693.2" x2="583.4" y2="695.8" stroke="#231f20" stroke-width="0.9" />
<line x1="587.47" y1="693.2" x2="587.47" y2="694.6" stroke="#231f20" stroke-width="0.9" />
<line x1="591.54" y1="693.2" x2="591.54" y2="694.6" stroke="#231f20" stroke-width="0.9" />
<line x1="595.62" y1="693.2" x2="595.62" y2="694.6" stroke="#231f20" stroke-width="0.9" />
<line x1="599.69" y1="693.2" x2="599.69" y2="694.6" stroke="#231f20" stroke-width="0.9" />
<line x1="603.76" y1="693.2" x2="603.76" y2="695.8" stroke="#231f20" stroke-width="0.9" />
<line x1="607.83" y1="693.2" x2="607.83" y2="694.6" stroke="#231f20" stroke-width="0.9" />
<line x1="611.9" y1="693.2" x2="611.9" y2="694.6" stroke="#231f20" stroke-width="0.9" />
<line x1="615.98" y1="693.2" x2="615.98" y2="694.6" stroke="#231f20" stroke-width="0.9" />
<line x1="620.05" y1="693.2" x2="620.05" y2="694.6" stroke="#231f20" stroke-width="0.9" />
<line x1="624.12" y1="693.2" x2="624.12" y2="695.8" stroke="#231f20" stroke-width="0.9" />
<line x1="628.19" y1="693.2" x2="628.19" y2="694.6" stroke="#231f20" stroke-width="0.9" />
<line x1="632.26" y1="693.2" x2="632.26" y2="694.6" stroke="#231f20" stroke-width="0.9" />
<line x1="636.34" y1="693.2" x2="636.34" y2="694.6" stroke="#231f20" stroke-width="0.9" />
<line x1="640.41" y1="693.2" x2="640.41" y2="694.6" stroke="#231f20" stroke-width="0.9" />
<line x1="644.48" y1="693.2" x2="644.48" y2="695.8" stroke="#231f20" stroke-width="0.9" />
<line x1="648.55" y1="693.2" x2="648.55" y2="694.6" stroke="#231f20" stroke-width="0.9" />
<line x1="652.62" y1="693.2" x2="652.62" y2="694.6" stroke="#231f20" stroke-width="0.9" />
<line x1="656.7" y1="693.2" x2="656.7" y2="694.6" stroke="#231f20" stroke-width="0.9" />
<line x1="660.77" y1="693.2" x2="660.77" y2="694.6" stroke="#231f20" stroke-width="0.9" />
<line x1="664.84" y1="693.2" x2="664.84" y2="695.8" stroke="#231f20" stroke-width="0.9" />
<line x1="668.91" y1="693.2" x2="668.91" y2="694.6" stroke="#231f20" stroke-width="0.9" />
<line x1="672.98" y1="693.2" x2="672.98" y2="694.6" stroke="#231f20" stroke-width="0.9" />
<text x="279.6" y="703.6" font-size="7.9" fill="#231f20" stroke="#231f20" stroke-width="0.22" text-anchor="middle" font-weight="bold" >0</text>
<text x="298.36" y="703.6" font-size="7.9" fill="#231f20" stroke="#231f20" stroke-width="0.22" text-anchor="middle" font-weight="bold" >5</text>
<text x="318.72" y="703.6" font-size="7.9" fill="#231f20" stroke="#231f20" stroke-width="0.22" text-anchor="middle" font-weight="bold" >10</text>
<text x="339.08" y="703.6" font-size="7.9" fill="#231f20" stroke="#231f20" stroke-width="0.22" text-anchor="middle" font-weight="bold" >15</text>
<text x="359.44" y="703.6" font-size="7.9" fill="#231f20" stroke="#231f20" stroke-width="0.22" text-anchor="middle" font-weight="bold" >20</text>
<text x="379.8" y="703.6" font-size="7.9" fill="#231f20" stroke="#231f20" stroke-width="0.22" text-anchor="middle" font-weight="bold" >25</text>
<text x="400.16" y="703.6" font-size="7.9" fill="#231f20" stroke="#231f20" stroke-width="0.22" text-anchor="middle" font-weight="bold" >30</text>
<text x="420.52" y="703.6" font-size="7.9" fill="#231f20" stroke="#231f20" stroke-width="0.22" text-anchor="middle" font-weight="bold" >35</text>
<text x="440.88" y="703.6" font-size="7.9" fill="#231f20" stroke="#231f20" stroke-width="0.22" text-anchor="middle" font-weight="bold" >40</text>
<text x="461.24" y="703.6" font-size="7.9" fill="#231f20" stroke="#231f20" stroke-width="0.22" text-anchor="middle" font-weight="bold" >45</text>
<text x="481.6" y="703.6" font-size="7.9" fill="#231f20" stroke="#231f20" stroke-width="0.22" text-anchor="middle" font-weight="bold" >50</text>
<text x="501.96" y="703.6" font-size="7.9" fill="#231f20" stroke="#231f20" stroke-width="0.22" text-anchor="middle" font-weight="bold" >55</text>
<text x="522.32" y="703.6" font-size="7.9" fill="#231f20" stroke="#231f20" stroke-width="0.22" text-anchor="middle" font-weight="bold" >60</text>
<text x="542.68" y="703.6" font-size="7.9" fill="#231f20" stroke="#231f20" stroke-width="0.22" text-anchor="middle" font-weight="bold" >65</text>
<text x="563.04" y="703.6" font-size="7.9" fill="#231f20" stroke="#231f20" stroke-width="0.22" text-anchor="middle" font-weight="bold" >70</text>
<text x="583.4" y="703.6" font-size="7.9" fill="#231f20" stroke="#231f20" stroke-width="0.22" text-anchor="middle" font-weight="bold" >75</text>
<text x="603.76" y="703.6" font-size="7.9" fill="#231f20" stroke="#231f20" stroke-width="0.22" text-anchor="middle" font-weight="bold" >80</text>
<text x="624.12" y="703.6" font-size="7.9" fill="#231f20" stroke="#231f20" stroke-width="0.22" text-anchor="middle" font-weight="bold" >85</text>
<text x="644.48" y="703.6" font-size="7.9" fill="#231f20" stroke="#231f20" stroke-width="0.22" text-anchor="middle" font-weight="bold" >90</text>
<text x="664.84" y="703.6" font-size="7.9" fill="#231f20" stroke="#231f20" stroke-width="0.22" text-anchor="middle" font-weight="bold" >95</text>
<text transform="translate(257.1,635.7) rotate(-90)" font-size="10.7" fill="#231f20" stroke="#231f20" stroke-width="0.22" text-anchor="middle" font-weight="bold">Relative Intensity</text>
<text x="486" y="714" font-size="10.4" fill="#231f20" stroke="#231f20" stroke-width="0.22" text-anchor="middle" font-weight="bold" textLength="86" lengthAdjust="spacingAndGlyphs">Residue Number</text>
<line x1="372" y1="594.4" x2="372" y2="601" stroke="#22a7e0" stroke-width="1.5" />
<line x1="369.14" y1="596.05" x2="374.86" y2="599.35" stroke="#22a7e0" stroke-width="1.5" />
<line x1="369.14" y1="599.35" x2="374.86" y2="596.05" stroke="#22a7e0" stroke-width="1.5" />
<line x1="664" y1="594.4" x2="664" y2="601" stroke="#22a7e0" stroke-width="1.5" />
<line x1="661.14" y1="596.05" x2="666.86" y2="599.35" stroke="#22a7e0" stroke-width="1.5" />
<line x1="661.14" y1="599.35" x2="666.86" y2="596.05" stroke="#22a7e0" stroke-width="1.5" />
<line x1="670.6" y1="594.4" x2="670.6" y2="601" stroke="#22a7e0" stroke-width="1.5" />
<line x1="667.74" y1="596.05" x2="673.46" y2="599.35" stroke="#22a7e0" stroke-width="1.5" />
<line x1="667.74" y1="599.35" x2="673.46" y2="596.05" stroke="#22a7e0" stroke-width="1.5" />
</svg></body></html>
